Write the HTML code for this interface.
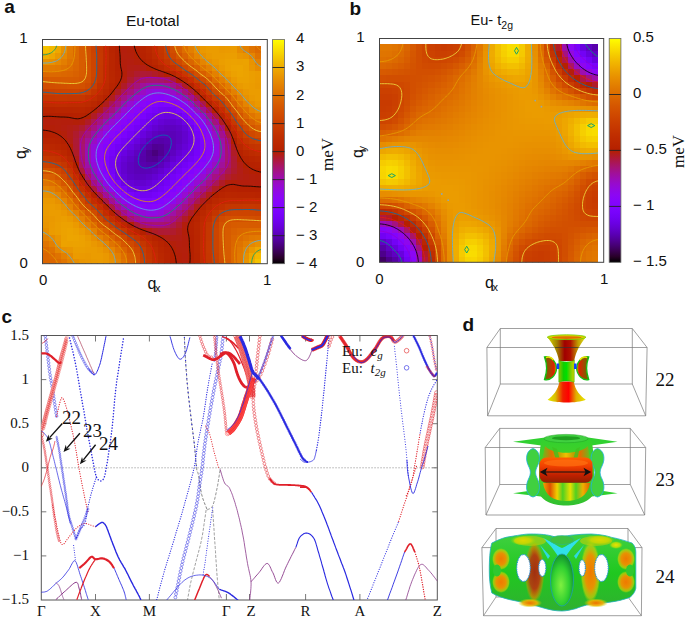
<!DOCTYPE html>
<html><head><meta charset="utf-8"><style>
html,body{margin:0;padding:0;background:#fff}
svg{display:block}
svg text{font-family:"Liberation Sans",sans-serif;fill:#111}
.sf{font-family:"Liberation Serif",serif !important}
</style></head><body>
<svg width="685" height="618" viewBox="0 0 685 618">
<defs><clipPath id="clipA"><rect x="42.5" y="45.5" width="218.5" height="218.3"/></clipPath><clipPath id="clipC"><rect x="41.3" y="335.5" width="396" height="264.5"/></clipPath><clipPath id="clipB"><rect x="380" y="44" width="218" height="218.2"/></clipPath><linearGradient id="cb" x1="0" y1="0" x2="0" y2="1"><stop offset="0.000" stop-color="#ffff00"/><stop offset="0.025" stop-color="#fcec00"/><stop offset="0.050" stop-color="#f9db00"/><stop offset="0.075" stop-color="#f5ca00"/><stop offset="0.100" stop-color="#f2ba00"/><stop offset="0.125" stop-color="#efab00"/><stop offset="0.150" stop-color="#eb9d00"/><stop offset="0.175" stop-color="#e88f00"/><stop offset="0.200" stop-color="#e48300"/><stop offset="0.225" stop-color="#e07700"/><stop offset="0.250" stop-color="#dd6c00"/><stop offset="0.275" stop-color="#d96100"/><stop offset="0.300" stop-color="#d55700"/><stop offset="0.325" stop-color="#d24e00"/><stop offset="0.350" stop-color="#ce4600"/><stop offset="0.375" stop-color="#ca3e00"/><stop offset="0.400" stop-color="#c63700"/><stop offset="0.425" stop-color="#c13000"/><stop offset="0.450" stop-color="#bd2a00"/><stop offset="0.475" stop-color="#b92500"/><stop offset="0.500" stop-color="#b42000"/><stop offset="0.525" stop-color="#b01b28"/><stop offset="0.550" stop-color="#ab174f"/><stop offset="0.575" stop-color="#a61474"/><stop offset="0.600" stop-color="#a11096"/><stop offset="0.625" stop-color="#9c0db4"/><stop offset="0.650" stop-color="#970bce"/><stop offset="0.675" stop-color="#9109e3"/><stop offset="0.700" stop-color="#8c07f3"/><stop offset="0.725" stop-color="#8605fc"/><stop offset="0.750" stop-color="#8004ff"/><stop offset="0.775" stop-color="#7903fc"/><stop offset="0.800" stop-color="#7202f3"/><stop offset="0.825" stop-color="#6b01e3"/><stop offset="0.850" stop-color="#6301ce"/><stop offset="0.875" stop-color="#5a00b4"/><stop offset="0.900" stop-color="#510096"/><stop offset="0.925" stop-color="#460074"/><stop offset="0.950" stop-color="#39004f"/><stop offset="0.975" stop-color="#280028"/><stop offset="1.000" stop-color="#000000"/></linearGradient></defs><g class="hm" shape-rendering="crispEdges" clip-path="url(#clipA)"><rect x="42.50" y="257.64" width="7.2" height="7.2" fill="#db6600"/><rect x="48.57" y="257.64" width="7.2" height="7.2" fill="#db6600"/><rect x="54.64" y="257.64" width="7.2" height="7.2" fill="#dd6b00"/><rect x="60.71" y="257.64" width="7.2" height="7.2" fill="#e07500"/><rect x="66.78" y="257.64" width="7.2" height="7.2" fill="#e48200"/><rect x="72.85" y="257.64" width="7.2" height="7.2" fill="#e88f00"/><rect x="78.92" y="257.64" width="7.2" height="7.2" fill="#e99500"/><rect x="84.99" y="257.64" width="7.2" height="7.2" fill="#ea9700"/><rect x="91.06" y="257.64" width="7.2" height="7.2" fill="#ea9a00"/><rect x="97.13" y="257.64" width="7.2" height="7.2" fill="#eb9b00"/><rect x="103.20" y="257.64" width="7.2" height="7.2" fill="#ea9800"/><rect x="109.27" y="257.64" width="7.2" height="7.2" fill="#e89000"/><rect x="115.34" y="257.64" width="7.2" height="7.2" fill="#e48300"/><rect x="121.41" y="257.64" width="7.2" height="7.2" fill="#df7300"/><rect x="127.48" y="257.64" width="7.2" height="7.2" fill="#d96100"/><rect x="133.55" y="257.64" width="7.2" height="7.2" fill="#d25000"/><rect x="139.62" y="257.64" width="7.2" height="7.2" fill="#cb4200"/><rect x="145.69" y="257.64" width="7.2" height="7.2" fill="#c53700"/><rect x="151.76" y="257.64" width="7.2" height="7.2" fill="#c02e00"/><rect x="157.83" y="257.64" width="7.2" height="7.2" fill="#bb2800"/><rect x="163.90" y="257.64" width="7.2" height="7.2" fill="#b72300"/><rect x="169.97" y="257.64" width="7.2" height="7.2" fill="#b52000"/><rect x="176.04" y="257.64" width="7.2" height="7.2" fill="#b41f07"/><rect x="182.11" y="257.64" width="7.2" height="7.2" fill="#b31f0c"/><rect x="188.18" y="257.64" width="7.2" height="7.2" fill="#b42002"/><rect x="194.25" y="257.64" width="7.2" height="7.2" fill="#b82400"/><rect x="200.32" y="257.64" width="7.2" height="7.2" fill="#be2c00"/><rect x="206.39" y="257.64" width="7.2" height="7.2" fill="#c53600"/><rect x="212.46" y="257.64" width="7.2" height="7.2" fill="#cb4100"/><rect x="218.53" y="257.64" width="7.2" height="7.2" fill="#d14d00"/><rect x="224.60" y="257.64" width="7.2" height="7.2" fill="#d65900"/><rect x="230.67" y="257.64" width="7.2" height="7.2" fill="#dc6800"/><rect x="236.74" y="257.64" width="7.2" height="7.2" fill="#e27a00"/><rect x="242.81" y="257.64" width="7.2" height="7.2" fill="#e99300"/><rect x="248.88" y="257.64" width="7.2" height="7.2" fill="#efae00"/><rect x="254.95" y="257.64" width="7.2" height="7.2" fill="#f4c200"/><rect x="42.50" y="251.58" width="7.2" height="7.2" fill="#db6600"/><rect x="48.57" y="251.58" width="7.2" height="7.2" fill="#dc6900"/><rect x="54.64" y="251.58" width="7.2" height="7.2" fill="#df7300"/><rect x="60.71" y="251.58" width="7.2" height="7.2" fill="#e38000"/><rect x="66.78" y="251.58" width="7.2" height="7.2" fill="#e78b00"/><rect x="72.85" y="251.58" width="7.2" height="7.2" fill="#eb9b00"/><rect x="78.92" y="251.58" width="7.2" height="7.2" fill="#eb9a00"/><rect x="84.99" y="251.58" width="7.2" height="7.2" fill="#ea9900"/><rect x="91.06" y="251.58" width="7.2" height="7.2" fill="#eb9c00"/><rect x="97.13" y="251.58" width="7.2" height="7.2" fill="#eb9c00"/><rect x="103.20" y="251.58" width="7.2" height="7.2" fill="#ea9800"/><rect x="109.27" y="251.58" width="7.2" height="7.2" fill="#e78e00"/><rect x="115.34" y="251.58" width="7.2" height="7.2" fill="#e37f00"/><rect x="121.41" y="251.58" width="7.2" height="7.2" fill="#de6e00"/><rect x="127.48" y="251.58" width="7.2" height="7.2" fill="#d85e00"/><rect x="133.55" y="251.58" width="7.2" height="7.2" fill="#d14e00"/><rect x="139.62" y="251.58" width="7.2" height="7.2" fill="#ca4000"/><rect x="145.69" y="251.58" width="7.2" height="7.2" fill="#c43500"/><rect x="151.76" y="251.58" width="7.2" height="7.2" fill="#bf2d00"/><rect x="157.83" y="251.58" width="7.2" height="7.2" fill="#ba2700"/><rect x="163.90" y="251.58" width="7.2" height="7.2" fill="#b72300"/><rect x="169.97" y="251.58" width="7.2" height="7.2" fill="#b52000"/><rect x="176.04" y="251.58" width="7.2" height="7.2" fill="#b31f08"/><rect x="182.11" y="251.58" width="7.2" height="7.2" fill="#b31e0c"/><rect x="188.18" y="251.58" width="7.2" height="7.2" fill="#b42001"/><rect x="194.25" y="251.58" width="7.2" height="7.2" fill="#b82400"/><rect x="200.32" y="251.58" width="7.2" height="7.2" fill="#bf2c00"/><rect x="206.39" y="251.58" width="7.2" height="7.2" fill="#c53700"/><rect x="212.46" y="251.58" width="7.2" height="7.2" fill="#cc4200"/><rect x="218.53" y="251.58" width="7.2" height="7.2" fill="#d14e00"/><rect x="224.60" y="251.58" width="7.2" height="7.2" fill="#d75b00"/><rect x="230.67" y="251.58" width="7.2" height="7.2" fill="#dc6900"/><rect x="236.74" y="251.58" width="7.2" height="7.2" fill="#e27a00"/><rect x="242.81" y="251.58" width="7.2" height="7.2" fill="#e89000"/><rect x="248.88" y="251.58" width="7.2" height="7.2" fill="#eea700"/><rect x="254.95" y="251.58" width="7.2" height="7.2" fill="#f2b900"/><rect x="42.50" y="245.52" width="7.2" height="7.2" fill="#dd6b00"/><rect x="48.57" y="245.52" width="7.2" height="7.2" fill="#df7300"/><rect x="54.64" y="245.52" width="7.2" height="7.2" fill="#e58600"/><rect x="60.71" y="245.52" width="7.2" height="7.2" fill="#e99300"/><rect x="66.78" y="245.52" width="7.2" height="7.2" fill="#e99600"/><rect x="72.85" y="245.52" width="7.2" height="7.2" fill="#eb9e00"/><rect x="78.92" y="245.52" width="7.2" height="7.2" fill="#eb9e00"/><rect x="84.99" y="245.52" width="7.2" height="7.2" fill="#eb9c00"/><rect x="91.06" y="245.52" width="7.2" height="7.2" fill="#eb9c00"/><rect x="97.13" y="245.52" width="7.2" height="7.2" fill="#ea9900"/><rect x="103.20" y="245.52" width="7.2" height="7.2" fill="#e89100"/><rect x="109.27" y="245.52" width="7.2" height="7.2" fill="#e58500"/><rect x="115.34" y="245.52" width="7.2" height="7.2" fill="#e07400"/><rect x="121.41" y="245.52" width="7.2" height="7.2" fill="#da6300"/><rect x="127.48" y="245.52" width="7.2" height="7.2" fill="#d45500"/><rect x="133.55" y="245.52" width="7.2" height="7.2" fill="#cf4800"/><rect x="139.62" y="245.52" width="7.2" height="7.2" fill="#c83c00"/><rect x="145.69" y="245.52" width="7.2" height="7.2" fill="#c33300"/><rect x="151.76" y="245.52" width="7.2" height="7.2" fill="#bd2b00"/><rect x="157.83" y="245.52" width="7.2" height="7.2" fill="#b92500"/><rect x="163.90" y="245.52" width="7.2" height="7.2" fill="#b62200"/><rect x="169.97" y="245.52" width="7.2" height="7.2" fill="#b42003"/><rect x="176.04" y="245.52" width="7.2" height="7.2" fill="#b31f0b"/><rect x="182.11" y="245.52" width="7.2" height="7.2" fill="#b31f0c"/><rect x="188.18" y="245.52" width="7.2" height="7.2" fill="#b42000"/><rect x="194.25" y="245.52" width="7.2" height="7.2" fill="#b92500"/><rect x="200.32" y="245.52" width="7.2" height="7.2" fill="#bf2d00"/><rect x="206.39" y="245.52" width="7.2" height="7.2" fill="#c63800"/><rect x="212.46" y="245.52" width="7.2" height="7.2" fill="#cc4400"/><rect x="218.53" y="245.52" width="7.2" height="7.2" fill="#d24f00"/><rect x="224.60" y="245.52" width="7.2" height="7.2" fill="#d75b00"/><rect x="230.67" y="245.52" width="7.2" height="7.2" fill="#dc6900"/><rect x="236.74" y="245.52" width="7.2" height="7.2" fill="#e17800"/><rect x="242.81" y="245.52" width="7.2" height="7.2" fill="#e68800"/><rect x="248.88" y="245.52" width="7.2" height="7.2" fill="#ea9900"/><rect x="254.95" y="245.52" width="7.2" height="7.2" fill="#eea700"/><rect x="42.50" y="239.46" width="7.2" height="7.2" fill="#e07500"/><rect x="48.57" y="239.46" width="7.2" height="7.2" fill="#e38000"/><rect x="54.64" y="239.46" width="7.2" height="7.2" fill="#e99300"/><rect x="60.71" y="239.46" width="7.2" height="7.2" fill="#eca200"/><rect x="66.78" y="239.46" width="7.2" height="7.2" fill="#eca100"/><rect x="72.85" y="239.46" width="7.2" height="7.2" fill="#eca200"/><rect x="78.92" y="239.46" width="7.2" height="7.2" fill="#eca100"/><rect x="84.99" y="239.46" width="7.2" height="7.2" fill="#eb9e00"/><rect x="91.06" y="239.46" width="7.2" height="7.2" fill="#ea9800"/><rect x="97.13" y="239.46" width="7.2" height="7.2" fill="#e89100"/><rect x="103.20" y="239.46" width="7.2" height="7.2" fill="#e58500"/><rect x="109.27" y="239.46" width="7.2" height="7.2" fill="#df7300"/><rect x="115.34" y="239.46" width="7.2" height="7.2" fill="#da6500"/><rect x="121.41" y="239.46" width="7.2" height="7.2" fill="#d55600"/><rect x="127.48" y="239.46" width="7.2" height="7.2" fill="#cf4900"/><rect x="133.55" y="239.46" width="7.2" height="7.2" fill="#cb4000"/><rect x="139.62" y="239.46" width="7.2" height="7.2" fill="#c53600"/><rect x="145.69" y="239.46" width="7.2" height="7.2" fill="#c02e00"/><rect x="151.76" y="239.46" width="7.2" height="7.2" fill="#bb2700"/><rect x="157.83" y="239.46" width="7.2" height="7.2" fill="#b72300"/><rect x="163.90" y="239.46" width="7.2" height="7.2" fill="#b42000"/><rect x="169.97" y="239.46" width="7.2" height="7.2" fill="#b31f0a"/><rect x="176.04" y="239.46" width="7.2" height="7.2" fill="#b31e0f"/><rect x="182.11" y="239.46" width="7.2" height="7.2" fill="#b31e0c"/><rect x="188.18" y="239.46" width="7.2" height="7.2" fill="#b52000"/><rect x="194.25" y="239.46" width="7.2" height="7.2" fill="#b92500"/><rect x="200.32" y="239.46" width="7.2" height="7.2" fill="#bf2d00"/><rect x="206.39" y="239.46" width="7.2" height="7.2" fill="#c63800"/><rect x="212.46" y="239.46" width="7.2" height="7.2" fill="#cd4400"/><rect x="218.53" y="239.46" width="7.2" height="7.2" fill="#d25000"/><rect x="224.60" y="239.46" width="7.2" height="7.2" fill="#d75c00"/><rect x="230.67" y="239.46" width="7.2" height="7.2" fill="#db6700"/><rect x="236.74" y="239.46" width="7.2" height="7.2" fill="#df7300"/><rect x="242.81" y="239.46" width="7.2" height="7.2" fill="#e37e00"/><rect x="248.88" y="239.46" width="7.2" height="7.2" fill="#e68800"/><rect x="254.95" y="239.46" width="7.2" height="7.2" fill="#e89000"/><rect x="42.50" y="233.39" width="7.2" height="7.2" fill="#e48200"/><rect x="48.57" y="233.39" width="7.2" height="7.2" fill="#e78b00"/><rect x="54.64" y="233.39" width="7.2" height="7.2" fill="#e99600"/><rect x="60.71" y="233.39" width="7.2" height="7.2" fill="#eca100"/><rect x="66.78" y="233.39" width="7.2" height="7.2" fill="#eda500"/><rect x="72.85" y="233.39" width="7.2" height="7.2" fill="#eda400"/><rect x="78.92" y="233.39" width="7.2" height="7.2" fill="#eca100"/><rect x="84.99" y="233.39" width="7.2" height="7.2" fill="#ea9a00"/><rect x="91.06" y="233.39" width="7.2" height="7.2" fill="#e88f00"/><rect x="97.13" y="233.39" width="7.2" height="7.2" fill="#e48100"/><rect x="103.20" y="233.39" width="7.2" height="7.2" fill="#df7300"/><rect x="109.27" y="233.39" width="7.2" height="7.2" fill="#d96100"/><rect x="115.34" y="233.39" width="7.2" height="7.2" fill="#d45400"/><rect x="121.41" y="233.39" width="7.2" height="7.2" fill="#cf4900"/><rect x="127.48" y="233.39" width="7.2" height="7.2" fill="#c93c00"/><rect x="133.55" y="233.39" width="7.2" height="7.2" fill="#c43500"/><rect x="139.62" y="233.39" width="7.2" height="7.2" fill="#bf2d00"/><rect x="145.69" y="233.39" width="7.2" height="7.2" fill="#ba2700"/><rect x="151.76" y="233.39" width="7.2" height="7.2" fill="#b72200"/><rect x="157.83" y="233.39" width="7.2" height="7.2" fill="#b41f04"/><rect x="163.90" y="233.39" width="7.2" height="7.2" fill="#b21e12"/><rect x="169.97" y="233.39" width="7.2" height="7.2" fill="#b21d17"/><rect x="176.04" y="233.39" width="7.2" height="7.2" fill="#b21e14"/><rect x="182.11" y="233.39" width="7.2" height="7.2" fill="#b31e0c"/><rect x="188.18" y="233.39" width="7.2" height="7.2" fill="#b52000"/><rect x="194.25" y="233.39" width="7.2" height="7.2" fill="#b92500"/><rect x="200.32" y="233.39" width="7.2" height="7.2" fill="#be2c00"/><rect x="206.39" y="233.39" width="7.2" height="7.2" fill="#c53700"/><rect x="212.46" y="233.39" width="7.2" height="7.2" fill="#cd4400"/><rect x="218.53" y="233.39" width="7.2" height="7.2" fill="#d35100"/><rect x="224.60" y="233.39" width="7.2" height="7.2" fill="#d75c00"/><rect x="230.67" y="233.39" width="7.2" height="7.2" fill="#db6500"/><rect x="236.74" y="233.39" width="7.2" height="7.2" fill="#dd6c00"/><rect x="242.81" y="233.39" width="7.2" height="7.2" fill="#df7300"/><rect x="248.88" y="233.39" width="7.2" height="7.2" fill="#e17800"/><rect x="254.95" y="233.39" width="7.2" height="7.2" fill="#e27a00"/><rect x="42.50" y="227.33" width="7.2" height="7.2" fill="#e88f00"/><rect x="48.57" y="227.33" width="7.2" height="7.2" fill="#eb9b00"/><rect x="54.64" y="227.33" width="7.2" height="7.2" fill="#eb9e00"/><rect x="60.71" y="227.33" width="7.2" height="7.2" fill="#eca200"/><rect x="66.78" y="227.33" width="7.2" height="7.2" fill="#eda400"/><rect x="72.85" y="227.33" width="7.2" height="7.2" fill="#eca100"/><rect x="78.92" y="227.33" width="7.2" height="7.2" fill="#eb9a00"/><rect x="84.99" y="227.33" width="7.2" height="7.2" fill="#e89000"/><rect x="91.06" y="227.33" width="7.2" height="7.2" fill="#e48100"/><rect x="97.13" y="227.33" width="7.2" height="7.2" fill="#dd6b00"/><rect x="103.20" y="227.33" width="7.2" height="7.2" fill="#d85e00"/><rect x="109.27" y="227.33" width="7.2" height="7.2" fill="#d14e00"/><rect x="115.34" y="227.33" width="7.2" height="7.2" fill="#cc4200"/><rect x="121.41" y="227.33" width="7.2" height="7.2" fill="#c73900"/><rect x="127.48" y="227.33" width="7.2" height="7.2" fill="#bf2e00"/><rect x="133.55" y="227.33" width="7.2" height="7.2" fill="#ba2600"/><rect x="139.62" y="227.33" width="7.2" height="7.2" fill="#b52000"/><rect x="145.69" y="227.33" width="7.2" height="7.2" fill="#b21d16"/><rect x="151.76" y="227.33" width="7.2" height="7.2" fill="#b01c26"/><rect x="157.83" y="227.33" width="7.2" height="7.2" fill="#ae1a33"/><rect x="163.90" y="227.33" width="7.2" height="7.2" fill="#ae1a35"/><rect x="169.97" y="227.33" width="7.2" height="7.2" fill="#af1b2d"/><rect x="176.04" y="227.33" width="7.2" height="7.2" fill="#b11d1c"/><rect x="182.11" y="227.33" width="7.2" height="7.2" fill="#b31f08"/><rect x="188.18" y="227.33" width="7.2" height="7.2" fill="#b62100"/><rect x="194.25" y="227.33" width="7.2" height="7.2" fill="#b92600"/><rect x="200.32" y="227.33" width="7.2" height="7.2" fill="#be2c00"/><rect x="206.39" y="227.33" width="7.2" height="7.2" fill="#c53700"/><rect x="212.46" y="227.33" width="7.2" height="7.2" fill="#cd4500"/><rect x="218.53" y="227.33" width="7.2" height="7.2" fill="#d35100"/><rect x="224.60" y="227.33" width="7.2" height="7.2" fill="#d75b00"/><rect x="230.67" y="227.33" width="7.2" height="7.2" fill="#d96100"/><rect x="236.74" y="227.33" width="7.2" height="7.2" fill="#db6500"/><rect x="242.81" y="227.33" width="7.2" height="7.2" fill="#db6700"/><rect x="248.88" y="227.33" width="7.2" height="7.2" fill="#dc6900"/><rect x="254.95" y="227.33" width="7.2" height="7.2" fill="#dc6900"/><rect x="42.50" y="221.27" width="7.2" height="7.2" fill="#e99500"/><rect x="48.57" y="221.27" width="7.2" height="7.2" fill="#eb9a00"/><rect x="54.64" y="221.27" width="7.2" height="7.2" fill="#eb9e00"/><rect x="60.71" y="221.27" width="7.2" height="7.2" fill="#eca100"/><rect x="66.78" y="221.27" width="7.2" height="7.2" fill="#eca100"/><rect x="72.85" y="221.27" width="7.2" height="7.2" fill="#eb9a00"/><rect x="78.92" y="221.27" width="7.2" height="7.2" fill="#e78e00"/><rect x="84.99" y="221.27" width="7.2" height="7.2" fill="#e37e00"/><rect x="91.06" y="221.27" width="7.2" height="7.2" fill="#dd6c00"/><rect x="97.13" y="221.27" width="7.2" height="7.2" fill="#d55700"/><rect x="103.20" y="221.27" width="7.2" height="7.2" fill="#d04b00"/><rect x="109.27" y="221.27" width="7.2" height="7.2" fill="#ca3f00"/><rect x="115.34" y="221.27" width="7.2" height="7.2" fill="#c23200"/><rect x="121.41" y="221.27" width="7.2" height="7.2" fill="#bb2800"/><rect x="127.48" y="221.27" width="7.2" height="7.2" fill="#b41f04"/><rect x="133.55" y="221.27" width="7.2" height="7.2" fill="#ae1a37"/><rect x="139.62" y="221.27" width="7.2" height="7.2" fill="#a9165b"/><rect x="145.69" y="221.27" width="7.2" height="7.2" fill="#a7146c"/><rect x="151.76" y="221.27" width="7.2" height="7.2" fill="#a71471"/><rect x="157.83" y="221.27" width="7.2" height="7.2" fill="#a71470"/><rect x="163.90" y="221.27" width="7.2" height="7.2" fill="#a81566"/><rect x="169.97" y="221.27" width="7.2" height="7.2" fill="#ab174f"/><rect x="176.04" y="221.27" width="7.2" height="7.2" fill="#af1b30"/><rect x="182.11" y="221.27" width="7.2" height="7.2" fill="#b31e0c"/><rect x="188.18" y="221.27" width="7.2" height="7.2" fill="#b62200"/><rect x="194.25" y="221.27" width="7.2" height="7.2" fill="#ba2600"/><rect x="200.32" y="221.27" width="7.2" height="7.2" fill="#be2c00"/><rect x="206.39" y="221.27" width="7.2" height="7.2" fill="#c53600"/><rect x="212.46" y="221.27" width="7.2" height="7.2" fill="#cc4300"/><rect x="218.53" y="221.27" width="7.2" height="7.2" fill="#d25000"/><rect x="224.60" y="221.27" width="7.2" height="7.2" fill="#d65800"/><rect x="230.67" y="221.27" width="7.2" height="7.2" fill="#d75b00"/><rect x="236.74" y="221.27" width="7.2" height="7.2" fill="#d75c00"/><rect x="242.81" y="221.27" width="7.2" height="7.2" fill="#d75c00"/><rect x="248.88" y="221.27" width="7.2" height="7.2" fill="#d75b00"/><rect x="254.95" y="221.27" width="7.2" height="7.2" fill="#d75b00"/><rect x="42.50" y="215.21" width="7.2" height="7.2" fill="#ea9700"/><rect x="48.57" y="215.21" width="7.2" height="7.2" fill="#ea9900"/><rect x="54.64" y="215.21" width="7.2" height="7.2" fill="#eb9c00"/><rect x="60.71" y="215.21" width="7.2" height="7.2" fill="#eb9e00"/><rect x="66.78" y="215.21" width="7.2" height="7.2" fill="#ea9a00"/><rect x="72.85" y="215.21" width="7.2" height="7.2" fill="#e89000"/><rect x="78.92" y="215.21" width="7.2" height="7.2" fill="#e37e00"/><rect x="84.99" y="215.21" width="7.2" height="7.2" fill="#dd6b00"/><rect x="91.06" y="215.21" width="7.2" height="7.2" fill="#d65a00"/><rect x="97.13" y="215.21" width="7.2" height="7.2" fill="#ce4700"/><rect x="103.20" y="215.21" width="7.2" height="7.2" fill="#c83b00"/><rect x="109.27" y="215.21" width="7.2" height="7.2" fill="#c13000"/><rect x="115.34" y="215.21" width="7.2" height="7.2" fill="#b82400"/><rect x="121.41" y="215.21" width="7.2" height="7.2" fill="#b11c21"/><rect x="127.48" y="215.21" width="7.2" height="7.2" fill="#a9165f"/><rect x="133.55" y="215.21" width="7.2" height="7.2" fill="#a3118b"/><rect x="139.62" y="215.21" width="7.2" height="7.2" fill="#9f0fa7"/><rect x="145.69" y="215.21" width="7.2" height="7.2" fill="#9d0eb1"/><rect x="151.76" y="215.21" width="7.2" height="7.2" fill="#9d0eb2"/><rect x="157.83" y="215.21" width="7.2" height="7.2" fill="#9e0eac"/><rect x="163.90" y="215.21" width="7.2" height="7.2" fill="#a1109a"/><rect x="169.97" y="215.21" width="7.2" height="7.2" fill="#a5137a"/><rect x="176.04" y="215.21" width="7.2" height="7.2" fill="#ab1753"/><rect x="182.11" y="215.21" width="7.2" height="7.2" fill="#b01b27"/><rect x="188.18" y="215.21" width="7.2" height="7.2" fill="#b42000"/><rect x="194.25" y="215.21" width="7.2" height="7.2" fill="#b82400"/><rect x="200.32" y="215.21" width="7.2" height="7.2" fill="#bd2a00"/><rect x="206.39" y="215.21" width="7.2" height="7.2" fill="#c23100"/><rect x="212.46" y="215.21" width="7.2" height="7.2" fill="#c93e00"/><rect x="218.53" y="215.21" width="7.2" height="7.2" fill="#cf4a00"/><rect x="224.60" y="215.21" width="7.2" height="7.2" fill="#d25000"/><rect x="230.67" y="215.21" width="7.2" height="7.2" fill="#d35100"/><rect x="236.74" y="215.21" width="7.2" height="7.2" fill="#d35100"/><rect x="242.81" y="215.21" width="7.2" height="7.2" fill="#d25000"/><rect x="248.88" y="215.21" width="7.2" height="7.2" fill="#d24f00"/><rect x="254.95" y="215.21" width="7.2" height="7.2" fill="#d14e00"/><rect x="42.50" y="209.15" width="7.2" height="7.2" fill="#ea9a00"/><rect x="48.57" y="209.15" width="7.2" height="7.2" fill="#eb9c00"/><rect x="54.64" y="209.15" width="7.2" height="7.2" fill="#eb9c00"/><rect x="60.71" y="209.15" width="7.2" height="7.2" fill="#ea9800"/><rect x="66.78" y="209.15" width="7.2" height="7.2" fill="#e88f00"/><rect x="72.85" y="209.15" width="7.2" height="7.2" fill="#e48100"/><rect x="78.92" y="209.15" width="7.2" height="7.2" fill="#dd6c00"/><rect x="84.99" y="209.15" width="7.2" height="7.2" fill="#d65a00"/><rect x="91.06" y="209.15" width="7.2" height="7.2" fill="#d04c00"/><rect x="97.13" y="209.15" width="7.2" height="7.2" fill="#c93d00"/><rect x="103.20" y="209.15" width="7.2" height="7.2" fill="#c02e00"/><rect x="109.27" y="209.15" width="7.2" height="7.2" fill="#b72200"/><rect x="115.34" y="209.15" width="7.2" height="7.2" fill="#ae1a38"/><rect x="121.41" y="209.15" width="7.2" height="7.2" fill="#a5137a"/><rect x="127.48" y="209.15" width="7.2" height="7.2" fill="#9e0ead"/><rect x="133.55" y="209.15" width="7.2" height="7.2" fill="#980cc8"/><rect x="139.62" y="209.15" width="7.2" height="7.2" fill="#940ad8"/><rect x="145.69" y="209.15" width="7.2" height="7.2" fill="#9209e2"/><rect x="151.76" y="209.15" width="7.2" height="7.2" fill="#9209e2"/><rect x="157.83" y="209.15" width="7.2" height="7.2" fill="#940ad9"/><rect x="163.90" y="209.15" width="7.2" height="7.2" fill="#990cc4"/><rect x="169.97" y="209.15" width="7.2" height="7.2" fill="#9f0fa6"/><rect x="176.04" y="209.15" width="7.2" height="7.2" fill="#a51280"/><rect x="182.11" y="209.15" width="7.2" height="7.2" fill="#ab1753"/><rect x="188.18" y="209.15" width="7.2" height="7.2" fill="#b01c23"/><rect x="194.25" y="209.15" width="7.2" height="7.2" fill="#b52100"/><rect x="200.32" y="209.15" width="7.2" height="7.2" fill="#ba2700"/><rect x="206.39" y="209.15" width="7.2" height="7.2" fill="#bf2d00"/><rect x="212.46" y="209.15" width="7.2" height="7.2" fill="#c43500"/><rect x="218.53" y="209.15" width="7.2" height="7.2" fill="#c93e00"/><rect x="224.60" y="209.15" width="7.2" height="7.2" fill="#cc4300"/><rect x="230.67" y="209.15" width="7.2" height="7.2" fill="#cd4500"/><rect x="236.74" y="209.15" width="7.2" height="7.2" fill="#cd4400"/><rect x="242.81" y="209.15" width="7.2" height="7.2" fill="#cd4400"/><rect x="248.88" y="209.15" width="7.2" height="7.2" fill="#cc4400"/><rect x="254.95" y="209.15" width="7.2" height="7.2" fill="#cc4200"/><rect x="42.50" y="203.09" width="7.2" height="7.2" fill="#eb9b00"/><rect x="48.57" y="203.09" width="7.2" height="7.2" fill="#eb9c00"/><rect x="54.64" y="203.09" width="7.2" height="7.2" fill="#ea9900"/><rect x="60.71" y="203.09" width="7.2" height="7.2" fill="#e89100"/><rect x="66.78" y="203.09" width="7.2" height="7.2" fill="#e48100"/><rect x="72.85" y="203.09" width="7.2" height="7.2" fill="#dd6b00"/><rect x="78.92" y="203.09" width="7.2" height="7.2" fill="#d55700"/><rect x="84.99" y="203.09" width="7.2" height="7.2" fill="#ce4700"/><rect x="91.06" y="203.09" width="7.2" height="7.2" fill="#c93d00"/><rect x="97.13" y="203.09" width="7.2" height="7.2" fill="#c12f00"/><rect x="103.20" y="203.09" width="7.2" height="7.2" fill="#b72300"/><rect x="109.27" y="203.09" width="7.2" height="7.2" fill="#ad193e"/><rect x="115.34" y="203.09" width="7.2" height="7.2" fill="#a3118b"/><rect x="121.41" y="203.09" width="7.2" height="7.2" fill="#9b0dbb"/><rect x="127.48" y="203.09" width="7.2" height="7.2" fill="#9309dd"/><rect x="133.55" y="203.09" width="7.2" height="7.2" fill="#8d07ef"/><rect x="139.62" y="203.09" width="7.2" height="7.2" fill="#8906f8"/><rect x="145.69" y="203.09" width="7.2" height="7.2" fill="#8605fb"/><rect x="151.76" y="203.09" width="7.2" height="7.2" fill="#8706fa"/><rect x="157.83" y="203.09" width="7.2" height="7.2" fill="#8b07f4"/><rect x="163.90" y="203.09" width="7.2" height="7.2" fill="#9109e5"/><rect x="169.97" y="203.09" width="7.2" height="7.2" fill="#970bcd"/><rect x="176.04" y="203.09" width="7.2" height="7.2" fill="#9d0eae"/><rect x="182.11" y="203.09" width="7.2" height="7.2" fill="#a41286"/><rect x="188.18" y="203.09" width="7.2" height="7.2" fill="#ab1752"/><rect x="194.25" y="203.09" width="7.2" height="7.2" fill="#b11d1c"/><rect x="200.32" y="203.09" width="7.2" height="7.2" fill="#b62200"/><rect x="206.39" y="203.09" width="7.2" height="7.2" fill="#bb2700"/><rect x="212.46" y="203.09" width="7.2" height="7.2" fill="#bf2d00"/><rect x="218.53" y="203.09" width="7.2" height="7.2" fill="#c23100"/><rect x="224.60" y="203.09" width="7.2" height="7.2" fill="#c53600"/><rect x="230.67" y="203.09" width="7.2" height="7.2" fill="#c53700"/><rect x="236.74" y="203.09" width="7.2" height="7.2" fill="#c53700"/><rect x="242.81" y="203.09" width="7.2" height="7.2" fill="#c63800"/><rect x="248.88" y="203.09" width="7.2" height="7.2" fill="#c63800"/><rect x="254.95" y="203.09" width="7.2" height="7.2" fill="#c53700"/><rect x="42.50" y="197.03" width="7.2" height="7.2" fill="#ea9800"/><rect x="48.57" y="197.03" width="7.2" height="7.2" fill="#ea9800"/><rect x="54.64" y="197.03" width="7.2" height="7.2" fill="#e89100"/><rect x="60.71" y="197.03" width="7.2" height="7.2" fill="#e58500"/><rect x="66.78" y="197.03" width="7.2" height="7.2" fill="#df7300"/><rect x="72.85" y="197.03" width="7.2" height="7.2" fill="#d85e00"/><rect x="78.92" y="197.03" width="7.2" height="7.2" fill="#d04b00"/><rect x="84.99" y="197.03" width="7.2" height="7.2" fill="#c83b00"/><rect x="91.06" y="197.03" width="7.2" height="7.2" fill="#c02e00"/><rect x="97.13" y="197.03" width="7.2" height="7.2" fill="#b72300"/><rect x="103.20" y="197.03" width="7.2" height="7.2" fill="#ad193f"/><rect x="109.27" y="197.03" width="7.2" height="7.2" fill="#a3118d"/><rect x="115.34" y="197.03" width="7.2" height="7.2" fill="#980bca"/><rect x="121.41" y="197.03" width="7.2" height="7.2" fill="#8f08ea"/><rect x="127.48" y="197.03" width="7.2" height="7.2" fill="#8706fa"/><rect x="133.55" y="197.03" width="7.2" height="7.2" fill="#8104ff"/><rect x="139.62" y="197.03" width="7.2" height="7.2" fill="#7d04ff"/><rect x="145.69" y="197.03" width="7.2" height="7.2" fill="#7c03fe"/><rect x="151.76" y="197.03" width="7.2" height="7.2" fill="#7e04ff"/><rect x="157.83" y="197.03" width="7.2" height="7.2" fill="#8205fe"/><rect x="163.90" y="197.03" width="7.2" height="7.2" fill="#8906f8"/><rect x="169.97" y="197.03" width="7.2" height="7.2" fill="#8f08ea"/><rect x="176.04" y="197.03" width="7.2" height="7.2" fill="#960bd2"/><rect x="182.11" y="197.03" width="7.2" height="7.2" fill="#9d0eb1"/><rect x="188.18" y="197.03" width="7.2" height="7.2" fill="#a41282"/><rect x="194.25" y="197.03" width="7.2" height="7.2" fill="#ab174d"/><rect x="200.32" y="197.03" width="7.2" height="7.2" fill="#b11d1c"/><rect x="206.39" y="197.03" width="7.2" height="7.2" fill="#b62200"/><rect x="212.46" y="197.03" width="7.2" height="7.2" fill="#ba2700"/><rect x="218.53" y="197.03" width="7.2" height="7.2" fill="#bd2a00"/><rect x="224.60" y="197.03" width="7.2" height="7.2" fill="#be2c00"/><rect x="230.67" y="197.03" width="7.2" height="7.2" fill="#be2c00"/><rect x="236.74" y="197.03" width="7.2" height="7.2" fill="#be2c00"/><rect x="242.81" y="197.03" width="7.2" height="7.2" fill="#bf2d00"/><rect x="248.88" y="197.03" width="7.2" height="7.2" fill="#bf2d00"/><rect x="254.95" y="197.03" width="7.2" height="7.2" fill="#bf2c00"/><rect x="42.50" y="190.97" width="7.2" height="7.2" fill="#e89000"/><rect x="48.57" y="190.97" width="7.2" height="7.2" fill="#e78e00"/><rect x="54.64" y="190.97" width="7.2" height="7.2" fill="#e58500"/><rect x="60.71" y="190.97" width="7.2" height="7.2" fill="#df7300"/><rect x="66.78" y="190.97" width="7.2" height="7.2" fill="#d96100"/><rect x="72.85" y="190.97" width="7.2" height="7.2" fill="#d14e00"/><rect x="78.92" y="190.97" width="7.2" height="7.2" fill="#ca3f00"/><rect x="84.99" y="190.97" width="7.2" height="7.2" fill="#c13000"/><rect x="91.06" y="190.97" width="7.2" height="7.2" fill="#b72200"/><rect x="97.13" y="190.97" width="7.2" height="7.2" fill="#ad193e"/><rect x="103.20" y="190.97" width="7.2" height="7.2" fill="#a3118d"/><rect x="109.27" y="190.97" width="7.2" height="7.2" fill="#990cc4"/><rect x="115.34" y="190.97" width="7.2" height="7.2" fill="#8e08ee"/><rect x="121.41" y="190.97" width="7.2" height="7.2" fill="#8305fe"/><rect x="127.48" y="190.97" width="7.2" height="7.2" fill="#7a03fd"/><rect x="133.55" y="190.97" width="7.2" height="7.2" fill="#7502f7"/><rect x="139.62" y="190.97" width="7.2" height="7.2" fill="#7202f3"/><rect x="145.69" y="190.97" width="7.2" height="7.2" fill="#7302f4"/><rect x="151.76" y="190.97" width="7.2" height="7.2" fill="#7603f9"/><rect x="157.83" y="190.97" width="7.2" height="7.2" fill="#7b03fd"/><rect x="163.90" y="190.97" width="7.2" height="7.2" fill="#8104ff"/><rect x="169.97" y="190.97" width="7.2" height="7.2" fill="#8806f9"/><rect x="176.04" y="190.97" width="7.2" height="7.2" fill="#8f08eb"/><rect x="182.11" y="190.97" width="7.2" height="7.2" fill="#960bd2"/><rect x="188.18" y="190.97" width="7.2" height="7.2" fill="#9e0ead"/><rect x="194.25" y="190.97" width="7.2" height="7.2" fill="#a5127f"/><rect x="200.32" y="190.97" width="7.2" height="7.2" fill="#ab174d"/><rect x="206.39" y="190.97" width="7.2" height="7.2" fill="#b11d1c"/><rect x="212.46" y="190.97" width="7.2" height="7.2" fill="#b52100"/><rect x="218.53" y="190.97" width="7.2" height="7.2" fill="#b82400"/><rect x="224.60" y="190.97" width="7.2" height="7.2" fill="#ba2600"/><rect x="230.67" y="190.97" width="7.2" height="7.2" fill="#b92600"/><rect x="236.74" y="190.97" width="7.2" height="7.2" fill="#b92500"/><rect x="242.81" y="190.97" width="7.2" height="7.2" fill="#b92500"/><rect x="248.88" y="190.97" width="7.2" height="7.2" fill="#b92500"/><rect x="254.95" y="190.97" width="7.2" height="7.2" fill="#b82400"/><rect x="42.50" y="184.91" width="7.2" height="7.2" fill="#e48300"/><rect x="48.57" y="184.91" width="7.2" height="7.2" fill="#e37f00"/><rect x="54.64" y="184.91" width="7.2" height="7.2" fill="#e07400"/><rect x="60.71" y="184.91" width="7.2" height="7.2" fill="#da6500"/><rect x="66.78" y="184.91" width="7.2" height="7.2" fill="#d45400"/><rect x="72.85" y="184.91" width="7.2" height="7.2" fill="#cc4200"/><rect x="78.92" y="184.91" width="7.2" height="7.2" fill="#c23200"/><rect x="84.99" y="184.91" width="7.2" height="7.2" fill="#b82400"/><rect x="91.06" y="184.91" width="7.2" height="7.2" fill="#ae1a38"/><rect x="97.13" y="184.91" width="7.2" height="7.2" fill="#a3118b"/><rect x="103.20" y="184.91" width="7.2" height="7.2" fill="#980bca"/><rect x="109.27" y="184.91" width="7.2" height="7.2" fill="#8e08ee"/><rect x="115.34" y="184.91" width="7.2" height="7.2" fill="#8205fe"/><rect x="121.41" y="184.91" width="7.2" height="7.2" fill="#7703fa"/><rect x="127.48" y="184.91" width="7.2" height="7.2" fill="#6e02eb"/><rect x="133.55" y="184.91" width="7.2" height="7.2" fill="#6a01e2"/><rect x="139.62" y="184.91" width="7.2" height="7.2" fill="#6a01e0"/><rect x="145.69" y="184.91" width="7.2" height="7.2" fill="#6c01e6"/><rect x="151.76" y="184.91" width="7.2" height="7.2" fill="#6f02ee"/><rect x="157.83" y="184.91" width="7.2" height="7.2" fill="#7402f6"/><rect x="163.90" y="184.91" width="7.2" height="7.2" fill="#7a03fd"/><rect x="169.97" y="184.91" width="7.2" height="7.2" fill="#8104ff"/><rect x="176.04" y="184.91" width="7.2" height="7.2" fill="#8806fa"/><rect x="182.11" y="184.91" width="7.2" height="7.2" fill="#8f08eb"/><rect x="188.18" y="184.91" width="7.2" height="7.2" fill="#960bd1"/><rect x="194.25" y="184.91" width="7.2" height="7.2" fill="#9e0ead"/><rect x="200.32" y="184.91" width="7.2" height="7.2" fill="#a41282"/><rect x="206.39" y="184.91" width="7.2" height="7.2" fill="#ab1752"/><rect x="212.46" y="184.91" width="7.2" height="7.2" fill="#b01c23"/><rect x="218.53" y="184.91" width="7.2" height="7.2" fill="#b42000"/><rect x="224.60" y="184.91" width="7.2" height="7.2" fill="#b62200"/><rect x="230.67" y="184.91" width="7.2" height="7.2" fill="#b62100"/><rect x="236.74" y="184.91" width="7.2" height="7.2" fill="#b52000"/><rect x="242.81" y="184.91" width="7.2" height="7.2" fill="#b52000"/><rect x="248.88" y="184.91" width="7.2" height="7.2" fill="#b42000"/><rect x="254.95" y="184.91" width="7.2" height="7.2" fill="#b42001"/><rect x="42.50" y="178.84" width="7.2" height="7.2" fill="#df7300"/><rect x="48.57" y="178.84" width="7.2" height="7.2" fill="#de6e00"/><rect x="54.64" y="178.84" width="7.2" height="7.2" fill="#da6300"/><rect x="60.71" y="178.84" width="7.2" height="7.2" fill="#d55600"/><rect x="66.78" y="178.84" width="7.2" height="7.2" fill="#cf4900"/><rect x="72.85" y="178.84" width="7.2" height="7.2" fill="#c73900"/><rect x="78.92" y="178.84" width="7.2" height="7.2" fill="#bb2800"/><rect x="84.99" y="178.84" width="7.2" height="7.2" fill="#b11c21"/><rect x="91.06" y="178.84" width="7.2" height="7.2" fill="#a5137a"/><rect x="97.13" y="178.84" width="7.2" height="7.2" fill="#9b0dbb"/><rect x="103.20" y="178.84" width="7.2" height="7.2" fill="#8f08ea"/><rect x="109.27" y="178.84" width="7.2" height="7.2" fill="#8305fe"/><rect x="115.34" y="178.84" width="7.2" height="7.2" fill="#7703fa"/><rect x="121.41" y="178.84" width="7.2" height="7.2" fill="#6c02e7"/><rect x="127.48" y="178.84" width="7.2" height="7.2" fill="#6601d6"/><rect x="133.55" y="178.84" width="7.2" height="7.2" fill="#6301ce"/><rect x="139.62" y="178.84" width="7.2" height="7.2" fill="#6301cf"/><rect x="145.69" y="178.84" width="7.2" height="7.2" fill="#6601d6"/><rect x="151.76" y="178.84" width="7.2" height="7.2" fill="#6a01e2"/><rect x="157.83" y="178.84" width="7.2" height="7.2" fill="#6f02ed"/><rect x="163.90" y="178.84" width="7.2" height="7.2" fill="#7402f6"/><rect x="169.97" y="178.84" width="7.2" height="7.2" fill="#7b03fd"/><rect x="176.04" y="178.84" width="7.2" height="7.2" fill="#8104ff"/><rect x="182.11" y="178.84" width="7.2" height="7.2" fill="#8806f9"/><rect x="188.18" y="178.84" width="7.2" height="7.2" fill="#8f08eb"/><rect x="194.25" y="178.84" width="7.2" height="7.2" fill="#960bd2"/><rect x="200.32" y="178.84" width="7.2" height="7.2" fill="#9d0eb1"/><rect x="206.39" y="178.84" width="7.2" height="7.2" fill="#a41286"/><rect x="212.46" y="178.84" width="7.2" height="7.2" fill="#ab1753"/><rect x="218.53" y="178.84" width="7.2" height="7.2" fill="#b01b27"/><rect x="224.60" y="178.84" width="7.2" height="7.2" fill="#b31e0c"/><rect x="230.67" y="178.84" width="7.2" height="7.2" fill="#b31f08"/><rect x="236.74" y="178.84" width="7.2" height="7.2" fill="#b31e0c"/><rect x="242.81" y="178.84" width="7.2" height="7.2" fill="#b31e0c"/><rect x="248.88" y="178.84" width="7.2" height="7.2" fill="#b31f0c"/><rect x="254.95" y="178.84" width="7.2" height="7.2" fill="#b31e0c"/><rect x="42.50" y="172.78" width="7.2" height="7.2" fill="#d96100"/><rect x="48.57" y="172.78" width="7.2" height="7.2" fill="#d85e00"/><rect x="54.64" y="172.78" width="7.2" height="7.2" fill="#d45500"/><rect x="60.71" y="172.78" width="7.2" height="7.2" fill="#cf4900"/><rect x="66.78" y="172.78" width="7.2" height="7.2" fill="#c93c00"/><rect x="72.85" y="172.78" width="7.2" height="7.2" fill="#bf2e00"/><rect x="78.92" y="172.78" width="7.2" height="7.2" fill="#b41f04"/><rect x="84.99" y="172.78" width="7.2" height="7.2" fill="#a9165f"/><rect x="91.06" y="172.78" width="7.2" height="7.2" fill="#9e0ead"/><rect x="97.13" y="172.78" width="7.2" height="7.2" fill="#9309dd"/><rect x="103.20" y="172.78" width="7.2" height="7.2" fill="#8706fa"/><rect x="109.27" y="172.78" width="7.2" height="7.2" fill="#7a03fd"/><rect x="115.34" y="172.78" width="7.2" height="7.2" fill="#6e02eb"/><rect x="121.41" y="172.78" width="7.2" height="7.2" fill="#6601d6"/><rect x="127.48" y="172.78" width="7.2" height="7.2" fill="#6001c7"/><rect x="133.55" y="172.78" width="7.2" height="7.2" fill="#5e01c0"/><rect x="139.62" y="172.78" width="7.2" height="7.2" fill="#5e01c0"/><rect x="145.69" y="172.78" width="7.2" height="7.2" fill="#6001c7"/><rect x="151.76" y="172.78" width="7.2" height="7.2" fill="#6401d2"/><rect x="157.83" y="172.78" width="7.2" height="7.2" fill="#6901e0"/><rect x="163.90" y="172.78" width="7.2" height="7.2" fill="#6f02ed"/><rect x="169.97" y="172.78" width="7.2" height="7.2" fill="#7502f7"/><rect x="176.04" y="172.78" width="7.2" height="7.2" fill="#7b03fd"/><rect x="182.11" y="172.78" width="7.2" height="7.2" fill="#8104ff"/><rect x="188.18" y="172.78" width="7.2" height="7.2" fill="#8806fa"/><rect x="194.25" y="172.78" width="7.2" height="7.2" fill="#8f08eb"/><rect x="200.32" y="172.78" width="7.2" height="7.2" fill="#960bd2"/><rect x="206.39" y="172.78" width="7.2" height="7.2" fill="#9d0eae"/><rect x="212.46" y="172.78" width="7.2" height="7.2" fill="#a51280"/><rect x="218.53" y="172.78" width="7.2" height="7.2" fill="#ab1753"/><rect x="224.60" y="172.78" width="7.2" height="7.2" fill="#af1b30"/><rect x="230.67" y="172.78" width="7.2" height="7.2" fill="#b11d1c"/><rect x="236.74" y="172.78" width="7.2" height="7.2" fill="#b21e14"/><rect x="242.81" y="172.78" width="7.2" height="7.2" fill="#b31e0f"/><rect x="248.88" y="172.78" width="7.2" height="7.2" fill="#b31f0b"/><rect x="254.95" y="172.78" width="7.2" height="7.2" fill="#b31f08"/><rect x="42.50" y="166.72" width="7.2" height="7.2" fill="#d25000"/><rect x="48.57" y="166.72" width="7.2" height="7.2" fill="#d14e00"/><rect x="54.64" y="166.72" width="7.2" height="7.2" fill="#cf4800"/><rect x="60.71" y="166.72" width="7.2" height="7.2" fill="#cb4000"/><rect x="66.78" y="166.72" width="7.2" height="7.2" fill="#c43500"/><rect x="72.85" y="166.72" width="7.2" height="7.2" fill="#ba2600"/><rect x="78.92" y="166.72" width="7.2" height="7.2" fill="#ae1a37"/><rect x="84.99" y="166.72" width="7.2" height="7.2" fill="#a3118b"/><rect x="91.06" y="166.72" width="7.2" height="7.2" fill="#980cc8"/><rect x="97.13" y="166.72" width="7.2" height="7.2" fill="#8d07ef"/><rect x="103.20" y="166.72" width="7.2" height="7.2" fill="#8104ff"/><rect x="109.27" y="166.72" width="7.2" height="7.2" fill="#7502f7"/><rect x="115.34" y="166.72" width="7.2" height="7.2" fill="#6a01e2"/><rect x="121.41" y="166.72" width="7.2" height="7.2" fill="#6301ce"/><rect x="127.48" y="166.72" width="7.2" height="7.2" fill="#5e01c0"/><rect x="133.55" y="166.72" width="7.2" height="7.2" fill="#5b01b8"/><rect x="139.62" y="166.72" width="7.2" height="7.2" fill="#5b01b6"/><rect x="145.69" y="166.72" width="7.2" height="7.2" fill="#5b01b8"/><rect x="151.76" y="166.72" width="7.2" height="7.2" fill="#5e01c0"/><rect x="157.83" y="166.72" width="7.2" height="7.2" fill="#6301ce"/><rect x="163.90" y="166.72" width="7.2" height="7.2" fill="#6901df"/><rect x="169.97" y="166.72" width="7.2" height="7.2" fill="#6f02ec"/><rect x="176.04" y="166.72" width="7.2" height="7.2" fill="#7502f7"/><rect x="182.11" y="166.72" width="7.2" height="7.2" fill="#7b03fd"/><rect x="188.18" y="166.72" width="7.2" height="7.2" fill="#8104ff"/><rect x="194.25" y="166.72" width="7.2" height="7.2" fill="#8806f9"/><rect x="200.32" y="166.72" width="7.2" height="7.2" fill="#8f08ea"/><rect x="206.39" y="166.72" width="7.2" height="7.2" fill="#970bcd"/><rect x="212.46" y="166.72" width="7.2" height="7.2" fill="#9f0fa6"/><rect x="218.53" y="166.72" width="7.2" height="7.2" fill="#a5137a"/><rect x="224.60" y="166.72" width="7.2" height="7.2" fill="#ab174f"/><rect x="230.67" y="166.72" width="7.2" height="7.2" fill="#af1b2d"/><rect x="236.74" y="166.72" width="7.2" height="7.2" fill="#b21d17"/><rect x="242.81" y="166.72" width="7.2" height="7.2" fill="#b31f0a"/><rect x="248.88" y="166.72" width="7.2" height="7.2" fill="#b42003"/><rect x="254.95" y="166.72" width="7.2" height="7.2" fill="#b52000"/><rect x="42.50" y="160.66" width="7.2" height="7.2" fill="#cb4200"/><rect x="48.57" y="160.66" width="7.2" height="7.2" fill="#ca4000"/><rect x="54.64" y="160.66" width="7.2" height="7.2" fill="#c83c00"/><rect x="60.71" y="160.66" width="7.2" height="7.2" fill="#c53600"/><rect x="66.78" y="160.66" width="7.2" height="7.2" fill="#bf2d00"/><rect x="72.85" y="160.66" width="7.2" height="7.2" fill="#b52000"/><rect x="78.92" y="160.66" width="7.2" height="7.2" fill="#a9165b"/><rect x="84.99" y="160.66" width="7.2" height="7.2" fill="#9f0fa7"/><rect x="91.06" y="160.66" width="7.2" height="7.2" fill="#940ad8"/><rect x="97.13" y="160.66" width="7.2" height="7.2" fill="#8906f8"/><rect x="103.20" y="160.66" width="7.2" height="7.2" fill="#7d04ff"/><rect x="109.27" y="160.66" width="7.2" height="7.2" fill="#7202f3"/><rect x="115.34" y="160.66" width="7.2" height="7.2" fill="#6a01e0"/><rect x="121.41" y="160.66" width="7.2" height="7.2" fill="#6301cf"/><rect x="127.48" y="160.66" width="7.2" height="7.2" fill="#5e01c0"/><rect x="133.55" y="160.66" width="7.2" height="7.2" fill="#5b01b6"/><rect x="139.62" y="160.66" width="7.2" height="7.2" fill="#5800ae"/><rect x="145.69" y="160.66" width="7.2" height="7.2" fill="#5600a8"/><rect x="151.76" y="160.66" width="7.2" height="7.2" fill="#5700ac"/><rect x="157.83" y="160.66" width="7.2" height="7.2" fill="#5c01bb"/><rect x="163.90" y="160.66" width="7.2" height="7.2" fill="#6301ce"/><rect x="169.97" y="160.66" width="7.2" height="7.2" fill="#6901df"/><rect x="176.04" y="160.66" width="7.2" height="7.2" fill="#6f02ed"/><rect x="182.11" y="160.66" width="7.2" height="7.2" fill="#7402f6"/><rect x="188.18" y="160.66" width="7.2" height="7.2" fill="#7a03fd"/><rect x="194.25" y="160.66" width="7.2" height="7.2" fill="#8104ff"/><rect x="200.32" y="160.66" width="7.2" height="7.2" fill="#8906f8"/><rect x="206.39" y="160.66" width="7.2" height="7.2" fill="#9109e5"/><rect x="212.46" y="160.66" width="7.2" height="7.2" fill="#990cc4"/><rect x="218.53" y="160.66" width="7.2" height="7.2" fill="#a1109a"/><rect x="224.60" y="160.66" width="7.2" height="7.2" fill="#a81566"/><rect x="230.67" y="160.66" width="7.2" height="7.2" fill="#ae1a35"/><rect x="236.74" y="160.66" width="7.2" height="7.2" fill="#b21e12"/><rect x="242.81" y="160.66" width="7.2" height="7.2" fill="#b42000"/><rect x="248.88" y="160.66" width="7.2" height="7.2" fill="#b62200"/><rect x="254.95" y="160.66" width="7.2" height="7.2" fill="#b72300"/><rect x="42.50" y="154.60" width="7.2" height="7.2" fill="#c53700"/><rect x="48.57" y="154.60" width="7.2" height="7.2" fill="#c43500"/><rect x="54.64" y="154.60" width="7.2" height="7.2" fill="#c33300"/><rect x="60.71" y="154.60" width="7.2" height="7.2" fill="#c02e00"/><rect x="66.78" y="154.60" width="7.2" height="7.2" fill="#ba2700"/><rect x="72.85" y="154.60" width="7.2" height="7.2" fill="#b21d16"/><rect x="78.92" y="154.60" width="7.2" height="7.2" fill="#a7146c"/><rect x="84.99" y="154.60" width="7.2" height="7.2" fill="#9d0eb1"/><rect x="91.06" y="154.60" width="7.2" height="7.2" fill="#9209e2"/><rect x="97.13" y="154.60" width="7.2" height="7.2" fill="#8605fb"/><rect x="103.20" y="154.60" width="7.2" height="7.2" fill="#7c03fe"/><rect x="109.27" y="154.60" width="7.2" height="7.2" fill="#7302f4"/><rect x="115.34" y="154.60" width="7.2" height="7.2" fill="#6c01e6"/><rect x="121.41" y="154.60" width="7.2" height="7.2" fill="#6601d6"/><rect x="127.48" y="154.60" width="7.2" height="7.2" fill="#6001c7"/><rect x="133.55" y="154.60" width="7.2" height="7.2" fill="#5b01b8"/><rect x="139.62" y="154.60" width="7.2" height="7.2" fill="#5600a8"/><rect x="145.69" y="154.60" width="7.2" height="7.2" fill="#510097"/><rect x="151.76" y="154.60" width="7.2" height="7.2" fill="#500093"/><rect x="157.83" y="154.60" width="7.2" height="7.2" fill="#5600a7"/><rect x="163.90" y="154.60" width="7.2" height="7.2" fill="#5c01bb"/><rect x="169.97" y="154.60" width="7.2" height="7.2" fill="#6301ce"/><rect x="176.04" y="154.60" width="7.2" height="7.2" fill="#6901e0"/><rect x="182.11" y="154.60" width="7.2" height="7.2" fill="#6f02ed"/><rect x="188.18" y="154.60" width="7.2" height="7.2" fill="#7402f6"/><rect x="194.25" y="154.60" width="7.2" height="7.2" fill="#7b03fd"/><rect x="200.32" y="154.60" width="7.2" height="7.2" fill="#8205fe"/><rect x="206.39" y="154.60" width="7.2" height="7.2" fill="#8b07f4"/><rect x="212.46" y="154.60" width="7.2" height="7.2" fill="#940ad9"/><rect x="218.53" y="154.60" width="7.2" height="7.2" fill="#9e0eac"/><rect x="224.60" y="154.60" width="7.2" height="7.2" fill="#a71470"/><rect x="230.67" y="154.60" width="7.2" height="7.2" fill="#ae1a33"/><rect x="236.74" y="154.60" width="7.2" height="7.2" fill="#b41f04"/><rect x="242.81" y="154.60" width="7.2" height="7.2" fill="#b72300"/><rect x="248.88" y="154.60" width="7.2" height="7.2" fill="#b92500"/><rect x="254.95" y="154.60" width="7.2" height="7.2" fill="#ba2700"/><rect x="42.50" y="148.54" width="7.2" height="7.2" fill="#c02e00"/><rect x="48.57" y="148.54" width="7.2" height="7.2" fill="#bf2d00"/><rect x="54.64" y="148.54" width="7.2" height="7.2" fill="#bd2b00"/><rect x="60.71" y="148.54" width="7.2" height="7.2" fill="#bb2700"/><rect x="66.78" y="148.54" width="7.2" height="7.2" fill="#b72200"/><rect x="72.85" y="148.54" width="7.2" height="7.2" fill="#b01c26"/><rect x="78.92" y="148.54" width="7.2" height="7.2" fill="#a71471"/><rect x="84.99" y="148.54" width="7.2" height="7.2" fill="#9d0eb2"/><rect x="91.06" y="148.54" width="7.2" height="7.2" fill="#9209e2"/><rect x="97.13" y="148.54" width="7.2" height="7.2" fill="#8706fa"/><rect x="103.20" y="148.54" width="7.2" height="7.2" fill="#7e04ff"/><rect x="109.27" y="148.54" width="7.2" height="7.2" fill="#7603f9"/><rect x="115.34" y="148.54" width="7.2" height="7.2" fill="#6f02ee"/><rect x="121.41" y="148.54" width="7.2" height="7.2" fill="#6a01e2"/><rect x="127.48" y="148.54" width="7.2" height="7.2" fill="#6401d2"/><rect x="133.55" y="148.54" width="7.2" height="7.2" fill="#5e01c0"/><rect x="139.62" y="148.54" width="7.2" height="7.2" fill="#5700ac"/><rect x="145.69" y="148.54" width="7.2" height="7.2" fill="#500093"/><rect x="151.76" y="148.54" width="7.2" height="7.2" fill="#49007d"/><rect x="157.83" y="148.54" width="7.2" height="7.2" fill="#500093"/><rect x="163.90" y="148.54" width="7.2" height="7.2" fill="#5700ac"/><rect x="169.97" y="148.54" width="7.2" height="7.2" fill="#5e01c0"/><rect x="176.04" y="148.54" width="7.2" height="7.2" fill="#6401d2"/><rect x="182.11" y="148.54" width="7.2" height="7.2" fill="#6a01e2"/><rect x="188.18" y="148.54" width="7.2" height="7.2" fill="#6f02ee"/><rect x="194.25" y="148.54" width="7.2" height="7.2" fill="#7603f9"/><rect x="200.32" y="148.54" width="7.2" height="7.2" fill="#7e04ff"/><rect x="206.39" y="148.54" width="7.2" height="7.2" fill="#8706fa"/><rect x="212.46" y="148.54" width="7.2" height="7.2" fill="#9209e2"/><rect x="218.53" y="148.54" width="7.2" height="7.2" fill="#9d0eb2"/><rect x="224.60" y="148.54" width="7.2" height="7.2" fill="#a71471"/><rect x="230.67" y="148.54" width="7.2" height="7.2" fill="#b01c26"/><rect x="236.74" y="148.54" width="7.2" height="7.2" fill="#b72200"/><rect x="242.81" y="148.54" width="7.2" height="7.2" fill="#bb2700"/><rect x="248.88" y="148.54" width="7.2" height="7.2" fill="#bd2b00"/><rect x="254.95" y="148.54" width="7.2" height="7.2" fill="#bf2d00"/><rect x="42.50" y="142.48" width="7.2" height="7.2" fill="#bb2800"/><rect x="48.57" y="142.48" width="7.2" height="7.2" fill="#ba2700"/><rect x="54.64" y="142.48" width="7.2" height="7.2" fill="#b92500"/><rect x="60.71" y="142.48" width="7.2" height="7.2" fill="#b72300"/><rect x="66.78" y="142.48" width="7.2" height="7.2" fill="#b41f04"/><rect x="72.85" y="142.48" width="7.2" height="7.2" fill="#ae1a33"/><rect x="78.92" y="142.48" width="7.2" height="7.2" fill="#a71470"/><rect x="84.99" y="142.48" width="7.2" height="7.2" fill="#9e0eac"/><rect x="91.06" y="142.48" width="7.2" height="7.2" fill="#940ad9"/><rect x="97.13" y="142.48" width="7.2" height="7.2" fill="#8b07f4"/><rect x="103.20" y="142.48" width="7.2" height="7.2" fill="#8205fe"/><rect x="109.27" y="142.48" width="7.2" height="7.2" fill="#7b03fd"/><rect x="115.34" y="142.48" width="7.2" height="7.2" fill="#7402f6"/><rect x="121.41" y="142.48" width="7.2" height="7.2" fill="#6f02ed"/><rect x="127.48" y="142.48" width="7.2" height="7.2" fill="#6901e0"/><rect x="133.55" y="142.48" width="7.2" height="7.2" fill="#6301ce"/><rect x="139.62" y="142.48" width="7.2" height="7.2" fill="#5c01bb"/><rect x="145.69" y="142.48" width="7.2" height="7.2" fill="#5600a7"/><rect x="151.76" y="142.48" width="7.2" height="7.2" fill="#500093"/><rect x="157.83" y="142.48" width="7.2" height="7.2" fill="#510097"/><rect x="163.90" y="142.48" width="7.2" height="7.2" fill="#5600a8"/><rect x="169.97" y="142.48" width="7.2" height="7.2" fill="#5b01b8"/><rect x="176.04" y="142.48" width="7.2" height="7.2" fill="#6001c7"/><rect x="182.11" y="142.48" width="7.2" height="7.2" fill="#6601d6"/><rect x="188.18" y="142.48" width="7.2" height="7.2" fill="#6c01e6"/><rect x="194.25" y="142.48" width="7.2" height="7.2" fill="#7302f4"/><rect x="200.32" y="142.48" width="7.2" height="7.2" fill="#7c03fe"/><rect x="206.39" y="142.48" width="7.2" height="7.2" fill="#8605fb"/><rect x="212.46" y="142.48" width="7.2" height="7.2" fill="#9209e2"/><rect x="218.53" y="142.48" width="7.2" height="7.2" fill="#9d0eb1"/><rect x="224.60" y="142.48" width="7.2" height="7.2" fill="#a7146c"/><rect x="230.67" y="142.48" width="7.2" height="7.2" fill="#b21d16"/><rect x="236.74" y="142.48" width="7.2" height="7.2" fill="#ba2700"/><rect x="242.81" y="142.48" width="7.2" height="7.2" fill="#c02e00"/><rect x="248.88" y="142.48" width="7.2" height="7.2" fill="#c33300"/><rect x="254.95" y="142.48" width="7.2" height="7.2" fill="#c43500"/><rect x="42.50" y="136.42" width="7.2" height="7.2" fill="#b72300"/><rect x="48.57" y="136.42" width="7.2" height="7.2" fill="#b72300"/><rect x="54.64" y="136.42" width="7.2" height="7.2" fill="#b62200"/><rect x="60.71" y="136.42" width="7.2" height="7.2" fill="#b42000"/><rect x="66.78" y="136.42" width="7.2" height="7.2" fill="#b21e12"/><rect x="72.85" y="136.42" width="7.2" height="7.2" fill="#ae1a35"/><rect x="78.92" y="136.42" width="7.2" height="7.2" fill="#a81566"/><rect x="84.99" y="136.42" width="7.2" height="7.2" fill="#a1109a"/><rect x="91.06" y="136.42" width="7.2" height="7.2" fill="#990cc4"/><rect x="97.13" y="136.42" width="7.2" height="7.2" fill="#9109e5"/><rect x="103.20" y="136.42" width="7.2" height="7.2" fill="#8906f8"/><rect x="109.27" y="136.42" width="7.2" height="7.2" fill="#8104ff"/><rect x="115.34" y="136.42" width="7.2" height="7.2" fill="#7a03fd"/><rect x="121.41" y="136.42" width="7.2" height="7.2" fill="#7402f6"/><rect x="127.48" y="136.42" width="7.2" height="7.2" fill="#6f02ed"/><rect x="133.55" y="136.42" width="7.2" height="7.2" fill="#6901df"/><rect x="139.62" y="136.42" width="7.2" height="7.2" fill="#6301ce"/><rect x="145.69" y="136.42" width="7.2" height="7.2" fill="#5c01bb"/><rect x="151.76" y="136.42" width="7.2" height="7.2" fill="#5700ac"/><rect x="157.83" y="136.42" width="7.2" height="7.2" fill="#5600a8"/><rect x="163.90" y="136.42" width="7.2" height="7.2" fill="#5800ae"/><rect x="169.97" y="136.42" width="7.2" height="7.2" fill="#5b01b6"/><rect x="176.04" y="136.42" width="7.2" height="7.2" fill="#5e01c0"/><rect x="182.11" y="136.42" width="7.2" height="7.2" fill="#6301cf"/><rect x="188.18" y="136.42" width="7.2" height="7.2" fill="#6a01e0"/><rect x="194.25" y="136.42" width="7.2" height="7.2" fill="#7202f3"/><rect x="200.32" y="136.42" width="7.2" height="7.2" fill="#7d04ff"/><rect x="206.39" y="136.42" width="7.2" height="7.2" fill="#8906f8"/><rect x="212.46" y="136.42" width="7.2" height="7.2" fill="#940ad8"/><rect x="218.53" y="136.42" width="7.2" height="7.2" fill="#9f0fa7"/><rect x="224.60" y="136.42" width="7.2" height="7.2" fill="#a9165b"/><rect x="230.67" y="136.42" width="7.2" height="7.2" fill="#b52000"/><rect x="236.74" y="136.42" width="7.2" height="7.2" fill="#bf2d00"/><rect x="242.81" y="136.42" width="7.2" height="7.2" fill="#c53600"/><rect x="248.88" y="136.42" width="7.2" height="7.2" fill="#c83c00"/><rect x="254.95" y="136.42" width="7.2" height="7.2" fill="#ca4000"/><rect x="42.50" y="130.36" width="7.2" height="7.2" fill="#b52000"/><rect x="48.57" y="130.36" width="7.2" height="7.2" fill="#b52000"/><rect x="54.64" y="130.36" width="7.2" height="7.2" fill="#b42003"/><rect x="60.71" y="130.36" width="7.2" height="7.2" fill="#b31f0a"/><rect x="66.78" y="130.36" width="7.2" height="7.2" fill="#b21d17"/><rect x="72.85" y="130.36" width="7.2" height="7.2" fill="#af1b2d"/><rect x="78.92" y="130.36" width="7.2" height="7.2" fill="#ab174f"/><rect x="84.99" y="130.36" width="7.2" height="7.2" fill="#a5137a"/><rect x="91.06" y="130.36" width="7.2" height="7.2" fill="#9f0fa6"/><rect x="97.13" y="130.36" width="7.2" height="7.2" fill="#970bcd"/><rect x="103.20" y="130.36" width="7.2" height="7.2" fill="#8f08ea"/><rect x="109.27" y="130.36" width="7.2" height="7.2" fill="#8806f9"/><rect x="115.34" y="130.36" width="7.2" height="7.2" fill="#8104ff"/><rect x="121.41" y="130.36" width="7.2" height="7.2" fill="#7b03fd"/><rect x="127.48" y="130.36" width="7.2" height="7.2" fill="#7502f7"/><rect x="133.55" y="130.36" width="7.2" height="7.2" fill="#6f02ec"/><rect x="139.62" y="130.36" width="7.2" height="7.2" fill="#6901df"/><rect x="145.69" y="130.36" width="7.2" height="7.2" fill="#6301ce"/><rect x="151.76" y="130.36" width="7.2" height="7.2" fill="#5e01c0"/><rect x="157.83" y="130.36" width="7.2" height="7.2" fill="#5b01b8"/><rect x="163.90" y="130.36" width="7.2" height="7.2" fill="#5b01b6"/><rect x="169.97" y="130.36" width="7.2" height="7.2" fill="#5b01b8"/><rect x="176.04" y="130.36" width="7.2" height="7.2" fill="#5e01c0"/><rect x="182.11" y="130.36" width="7.2" height="7.2" fill="#6301ce"/><rect x="188.18" y="130.36" width="7.2" height="7.2" fill="#6a01e2"/><rect x="194.25" y="130.36" width="7.2" height="7.2" fill="#7502f7"/><rect x="200.32" y="130.36" width="7.2" height="7.2" fill="#8104ff"/><rect x="206.39" y="130.36" width="7.2" height="7.2" fill="#8d07ef"/><rect x="212.46" y="130.36" width="7.2" height="7.2" fill="#980cc8"/><rect x="218.53" y="130.36" width="7.2" height="7.2" fill="#a3118b"/><rect x="224.60" y="130.36" width="7.2" height="7.2" fill="#ae1a37"/><rect x="230.67" y="130.36" width="7.2" height="7.2" fill="#ba2600"/><rect x="236.74" y="130.36" width="7.2" height="7.2" fill="#c43500"/><rect x="242.81" y="130.36" width="7.2" height="7.2" fill="#cb4000"/><rect x="248.88" y="130.36" width="7.2" height="7.2" fill="#cf4800"/><rect x="254.95" y="130.36" width="7.2" height="7.2" fill="#d14e00"/><rect x="42.50" y="124.29" width="7.2" height="7.2" fill="#b41f07"/><rect x="48.57" y="124.29" width="7.2" height="7.2" fill="#b31f08"/><rect x="54.64" y="124.29" width="7.2" height="7.2" fill="#b31f0b"/><rect x="60.71" y="124.29" width="7.2" height="7.2" fill="#b31e0f"/><rect x="66.78" y="124.29" width="7.2" height="7.2" fill="#b21e14"/><rect x="72.85" y="124.29" width="7.2" height="7.2" fill="#b11d1c"/><rect x="78.92" y="124.29" width="7.2" height="7.2" fill="#af1b30"/><rect x="84.99" y="124.29" width="7.2" height="7.2" fill="#ab1753"/><rect x="91.06" y="124.29" width="7.2" height="7.2" fill="#a51280"/><rect x="97.13" y="124.29" width="7.2" height="7.2" fill="#9d0eae"/><rect x="103.20" y="124.29" width="7.2" height="7.2" fill="#960bd2"/><rect x="109.27" y="124.29" width="7.2" height="7.2" fill="#8f08eb"/><rect x="115.34" y="124.29" width="7.2" height="7.2" fill="#8806fa"/><rect x="121.41" y="124.29" width="7.2" height="7.2" fill="#8104ff"/><rect x="127.48" y="124.29" width="7.2" height="7.2" fill="#7b03fd"/><rect x="133.55" y="124.29" width="7.2" height="7.2" fill="#7502f7"/><rect x="139.62" y="124.29" width="7.2" height="7.2" fill="#6f02ed"/><rect x="145.69" y="124.29" width="7.2" height="7.2" fill="#6901e0"/><rect x="151.76" y="124.29" width="7.2" height="7.2" fill="#6401d2"/><rect x="157.83" y="124.29" width="7.2" height="7.2" fill="#6001c7"/><rect x="163.90" y="124.29" width="7.2" height="7.2" fill="#5e01c0"/><rect x="169.97" y="124.29" width="7.2" height="7.2" fill="#5e01c0"/><rect x="176.04" y="124.29" width="7.2" height="7.2" fill="#6001c7"/><rect x="182.11" y="124.29" width="7.2" height="7.2" fill="#6601d6"/><rect x="188.18" y="124.29" width="7.2" height="7.2" fill="#6e02eb"/><rect x="194.25" y="124.29" width="7.2" height="7.2" fill="#7a03fd"/><rect x="200.32" y="124.29" width="7.2" height="7.2" fill="#8706fa"/><rect x="206.39" y="124.29" width="7.2" height="7.2" fill="#9309dd"/><rect x="212.46" y="124.29" width="7.2" height="7.2" fill="#9e0ead"/><rect x="218.53" y="124.29" width="7.2" height="7.2" fill="#a9165f"/><rect x="224.60" y="124.29" width="7.2" height="7.2" fill="#b41f04"/><rect x="230.67" y="124.29" width="7.2" height="7.2" fill="#bf2e00"/><rect x="236.74" y="124.29" width="7.2" height="7.2" fill="#c93c00"/><rect x="242.81" y="124.29" width="7.2" height="7.2" fill="#cf4900"/><rect x="248.88" y="124.29" width="7.2" height="7.2" fill="#d45500"/><rect x="254.95" y="124.29" width="7.2" height="7.2" fill="#d85e00"/><rect x="42.50" y="118.23" width="7.2" height="7.2" fill="#b31f0c"/><rect x="48.57" y="118.23" width="7.2" height="7.2" fill="#b31e0c"/><rect x="54.64" y="118.23" width="7.2" height="7.2" fill="#b31f0c"/><rect x="60.71" y="118.23" width="7.2" height="7.2" fill="#b31e0c"/><rect x="66.78" y="118.23" width="7.2" height="7.2" fill="#b31e0c"/><rect x="72.85" y="118.23" width="7.2" height="7.2" fill="#b31f08"/><rect x="78.92" y="118.23" width="7.2" height="7.2" fill="#b31e0c"/><rect x="84.99" y="118.23" width="7.2" height="7.2" fill="#b01b27"/><rect x="91.06" y="118.23" width="7.2" height="7.2" fill="#ab1753"/><rect x="97.13" y="118.23" width="7.2" height="7.2" fill="#a41286"/><rect x="103.20" y="118.23" width="7.2" height="7.2" fill="#9d0eb1"/><rect x="109.27" y="118.23" width="7.2" height="7.2" fill="#960bd2"/><rect x="115.34" y="118.23" width="7.2" height="7.2" fill="#8f08eb"/><rect x="121.41" y="118.23" width="7.2" height="7.2" fill="#8806f9"/><rect x="127.48" y="118.23" width="7.2" height="7.2" fill="#8104ff"/><rect x="133.55" y="118.23" width="7.2" height="7.2" fill="#7b03fd"/><rect x="139.62" y="118.23" width="7.2" height="7.2" fill="#7402f6"/><rect x="145.69" y="118.23" width="7.2" height="7.2" fill="#6f02ed"/><rect x="151.76" y="118.23" width="7.2" height="7.2" fill="#6a01e2"/><rect x="157.83" y="118.23" width="7.2" height="7.2" fill="#6601d6"/><rect x="163.90" y="118.23" width="7.2" height="7.2" fill="#6301cf"/><rect x="169.97" y="118.23" width="7.2" height="7.2" fill="#6301ce"/><rect x="176.04" y="118.23" width="7.2" height="7.2" fill="#6601d6"/><rect x="182.11" y="118.23" width="7.2" height="7.2" fill="#6c02e7"/><rect x="188.18" y="118.23" width="7.2" height="7.2" fill="#7703fa"/><rect x="194.25" y="118.23" width="7.2" height="7.2" fill="#8305fe"/><rect x="200.32" y="118.23" width="7.2" height="7.2" fill="#8f08ea"/><rect x="206.39" y="118.23" width="7.2" height="7.2" fill="#9b0dbb"/><rect x="212.46" y="118.23" width="7.2" height="7.2" fill="#a5137a"/><rect x="218.53" y="118.23" width="7.2" height="7.2" fill="#b11c21"/><rect x="224.60" y="118.23" width="7.2" height="7.2" fill="#bb2800"/><rect x="230.67" y="118.23" width="7.2" height="7.2" fill="#c73900"/><rect x="236.74" y="118.23" width="7.2" height="7.2" fill="#cf4900"/><rect x="242.81" y="118.23" width="7.2" height="7.2" fill="#d55600"/><rect x="248.88" y="118.23" width="7.2" height="7.2" fill="#da6300"/><rect x="254.95" y="118.23" width="7.2" height="7.2" fill="#de6e00"/><rect x="42.50" y="112.17" width="7.2" height="7.2" fill="#b42002"/><rect x="48.57" y="112.17" width="7.2" height="7.2" fill="#b42001"/><rect x="54.64" y="112.17" width="7.2" height="7.2" fill="#b42000"/><rect x="60.71" y="112.17" width="7.2" height="7.2" fill="#b52000"/><rect x="66.78" y="112.17" width="7.2" height="7.2" fill="#b52000"/><rect x="72.85" y="112.17" width="7.2" height="7.2" fill="#b62100"/><rect x="78.92" y="112.17" width="7.2" height="7.2" fill="#b62200"/><rect x="84.99" y="112.17" width="7.2" height="7.2" fill="#b42000"/><rect x="91.06" y="112.17" width="7.2" height="7.2" fill="#b01c23"/><rect x="97.13" y="112.17" width="7.2" height="7.2" fill="#ab1752"/><rect x="103.20" y="112.17" width="7.2" height="7.2" fill="#a41282"/><rect x="109.27" y="112.17" width="7.2" height="7.2" fill="#9e0ead"/><rect x="115.34" y="112.17" width="7.2" height="7.2" fill="#960bd1"/><rect x="121.41" y="112.17" width="7.2" height="7.2" fill="#8f08eb"/><rect x="127.48" y="112.17" width="7.2" height="7.2" fill="#8806fa"/><rect x="133.55" y="112.17" width="7.2" height="7.2" fill="#8104ff"/><rect x="139.62" y="112.17" width="7.2" height="7.2" fill="#7a03fd"/><rect x="145.69" y="112.17" width="7.2" height="7.2" fill="#7402f6"/><rect x="151.76" y="112.17" width="7.2" height="7.2" fill="#6f02ee"/><rect x="157.83" y="112.17" width="7.2" height="7.2" fill="#6c01e6"/><rect x="163.90" y="112.17" width="7.2" height="7.2" fill="#6a01e0"/><rect x="169.97" y="112.17" width="7.2" height="7.2" fill="#6a01e2"/><rect x="176.04" y="112.17" width="7.2" height="7.2" fill="#6e02eb"/><rect x="182.11" y="112.17" width="7.2" height="7.2" fill="#7703fa"/><rect x="188.18" y="112.17" width="7.2" height="7.2" fill="#8205fe"/><rect x="194.25" y="112.17" width="7.2" height="7.2" fill="#8e08ee"/><rect x="200.32" y="112.17" width="7.2" height="7.2" fill="#980bca"/><rect x="206.39" y="112.17" width="7.2" height="7.2" fill="#a3118b"/><rect x="212.46" y="112.17" width="7.2" height="7.2" fill="#ae1a38"/><rect x="218.53" y="112.17" width="7.2" height="7.2" fill="#b82400"/><rect x="224.60" y="112.17" width="7.2" height="7.2" fill="#c23200"/><rect x="230.67" y="112.17" width="7.2" height="7.2" fill="#cc4200"/><rect x="236.74" y="112.17" width="7.2" height="7.2" fill="#d45400"/><rect x="242.81" y="112.17" width="7.2" height="7.2" fill="#da6500"/><rect x="248.88" y="112.17" width="7.2" height="7.2" fill="#e07400"/><rect x="254.95" y="112.17" width="7.2" height="7.2" fill="#e37f00"/><rect x="42.50" y="106.11" width="7.2" height="7.2" fill="#b82400"/><rect x="48.57" y="106.11" width="7.2" height="7.2" fill="#b82400"/><rect x="54.64" y="106.11" width="7.2" height="7.2" fill="#b92500"/><rect x="60.71" y="106.11" width="7.2" height="7.2" fill="#b92500"/><rect x="66.78" y="106.11" width="7.2" height="7.2" fill="#b92500"/><rect x="72.85" y="106.11" width="7.2" height="7.2" fill="#b92600"/><rect x="78.92" y="106.11" width="7.2" height="7.2" fill="#ba2600"/><rect x="84.99" y="106.11" width="7.2" height="7.2" fill="#b82400"/><rect x="91.06" y="106.11" width="7.2" height="7.2" fill="#b52100"/><rect x="97.13" y="106.11" width="7.2" height="7.2" fill="#b11d1c"/><rect x="103.20" y="106.11" width="7.2" height="7.2" fill="#ab174d"/><rect x="109.27" y="106.11" width="7.2" height="7.2" fill="#a5127f"/><rect x="115.34" y="106.11" width="7.2" height="7.2" fill="#9e0ead"/><rect x="121.41" y="106.11" width="7.2" height="7.2" fill="#960bd2"/><rect x="127.48" y="106.11" width="7.2" height="7.2" fill="#8f08eb"/><rect x="133.55" y="106.11" width="7.2" height="7.2" fill="#8806f9"/><rect x="139.62" y="106.11" width="7.2" height="7.2" fill="#8104ff"/><rect x="145.69" y="106.11" width="7.2" height="7.2" fill="#7b03fd"/><rect x="151.76" y="106.11" width="7.2" height="7.2" fill="#7603f9"/><rect x="157.83" y="106.11" width="7.2" height="7.2" fill="#7302f4"/><rect x="163.90" y="106.11" width="7.2" height="7.2" fill="#7202f3"/><rect x="169.97" y="106.11" width="7.2" height="7.2" fill="#7502f7"/><rect x="176.04" y="106.11" width="7.2" height="7.2" fill="#7a03fd"/><rect x="182.11" y="106.11" width="7.2" height="7.2" fill="#8305fe"/><rect x="188.18" y="106.11" width="7.2" height="7.2" fill="#8e08ee"/><rect x="194.25" y="106.11" width="7.2" height="7.2" fill="#990cc4"/><rect x="200.32" y="106.11" width="7.2" height="7.2" fill="#a3118d"/><rect x="206.39" y="106.11" width="7.2" height="7.2" fill="#ad193e"/><rect x="212.46" y="106.11" width="7.2" height="7.2" fill="#b72200"/><rect x="218.53" y="106.11" width="7.2" height="7.2" fill="#c13000"/><rect x="224.60" y="106.11" width="7.2" height="7.2" fill="#ca3f00"/><rect x="230.67" y="106.11" width="7.2" height="7.2" fill="#d14e00"/><rect x="236.74" y="106.11" width="7.2" height="7.2" fill="#d96100"/><rect x="242.81" y="106.11" width="7.2" height="7.2" fill="#df7300"/><rect x="248.88" y="106.11" width="7.2" height="7.2" fill="#e58500"/><rect x="254.95" y="106.11" width="7.2" height="7.2" fill="#e78e00"/><rect x="42.50" y="100.05" width="7.2" height="7.2" fill="#be2c00"/><rect x="48.57" y="100.05" width="7.2" height="7.2" fill="#bf2c00"/><rect x="54.64" y="100.05" width="7.2" height="7.2" fill="#bf2d00"/><rect x="60.71" y="100.05" width="7.2" height="7.2" fill="#bf2d00"/><rect x="66.78" y="100.05" width="7.2" height="7.2" fill="#be2c00"/><rect x="72.85" y="100.05" width="7.2" height="7.2" fill="#be2c00"/><rect x="78.92" y="100.05" width="7.2" height="7.2" fill="#be2c00"/><rect x="84.99" y="100.05" width="7.2" height="7.2" fill="#bd2a00"/><rect x="91.06" y="100.05" width="7.2" height="7.2" fill="#ba2700"/><rect x="97.13" y="100.05" width="7.2" height="7.2" fill="#b62200"/><rect x="103.20" y="100.05" width="7.2" height="7.2" fill="#b11d1c"/><rect x="109.27" y="100.05" width="7.2" height="7.2" fill="#ab174d"/><rect x="115.34" y="100.05" width="7.2" height="7.2" fill="#a41282"/><rect x="121.41" y="100.05" width="7.2" height="7.2" fill="#9d0eb1"/><rect x="127.48" y="100.05" width="7.2" height="7.2" fill="#960bd2"/><rect x="133.55" y="100.05" width="7.2" height="7.2" fill="#8f08ea"/><rect x="139.62" y="100.05" width="7.2" height="7.2" fill="#8906f8"/><rect x="145.69" y="100.05" width="7.2" height="7.2" fill="#8205fe"/><rect x="151.76" y="100.05" width="7.2" height="7.2" fill="#7e04ff"/><rect x="157.83" y="100.05" width="7.2" height="7.2" fill="#7c03fe"/><rect x="163.90" y="100.05" width="7.2" height="7.2" fill="#7d04ff"/><rect x="169.97" y="100.05" width="7.2" height="7.2" fill="#8104ff"/><rect x="176.04" y="100.05" width="7.2" height="7.2" fill="#8706fa"/><rect x="182.11" y="100.05" width="7.2" height="7.2" fill="#8f08ea"/><rect x="188.18" y="100.05" width="7.2" height="7.2" fill="#980bca"/><rect x="194.25" y="100.05" width="7.2" height="7.2" fill="#a3118d"/><rect x="200.32" y="100.05" width="7.2" height="7.2" fill="#ad193f"/><rect x="206.39" y="100.05" width="7.2" height="7.2" fill="#b72300"/><rect x="212.46" y="100.05" width="7.2" height="7.2" fill="#c02e00"/><rect x="218.53" y="100.05" width="7.2" height="7.2" fill="#c83b00"/><rect x="224.60" y="100.05" width="7.2" height="7.2" fill="#d04b00"/><rect x="230.67" y="100.05" width="7.2" height="7.2" fill="#d85e00"/><rect x="236.74" y="100.05" width="7.2" height="7.2" fill="#df7300"/><rect x="242.81" y="100.05" width="7.2" height="7.2" fill="#e58500"/><rect x="248.88" y="100.05" width="7.2" height="7.2" fill="#e89100"/><rect x="254.95" y="100.05" width="7.2" height="7.2" fill="#ea9800"/><rect x="42.50" y="93.99" width="7.2" height="7.2" fill="#c53600"/><rect x="48.57" y="93.99" width="7.2" height="7.2" fill="#c53700"/><rect x="54.64" y="93.99" width="7.2" height="7.2" fill="#c63800"/><rect x="60.71" y="93.99" width="7.2" height="7.2" fill="#c63800"/><rect x="66.78" y="93.99" width="7.2" height="7.2" fill="#c53700"/><rect x="72.85" y="93.99" width="7.2" height="7.2" fill="#c53700"/><rect x="78.92" y="93.99" width="7.2" height="7.2" fill="#c53600"/><rect x="84.99" y="93.99" width="7.2" height="7.2" fill="#c23100"/><rect x="91.06" y="93.99" width="7.2" height="7.2" fill="#bf2d00"/><rect x="97.13" y="93.99" width="7.2" height="7.2" fill="#bb2700"/><rect x="103.20" y="93.99" width="7.2" height="7.2" fill="#b62200"/><rect x="109.27" y="93.99" width="7.2" height="7.2" fill="#b11d1c"/><rect x="115.34" y="93.99" width="7.2" height="7.2" fill="#ab1752"/><rect x="121.41" y="93.99" width="7.2" height="7.2" fill="#a41286"/><rect x="127.48" y="93.99" width="7.2" height="7.2" fill="#9d0eae"/><rect x="133.55" y="93.99" width="7.2" height="7.2" fill="#970bcd"/><rect x="139.62" y="93.99" width="7.2" height="7.2" fill="#9109e5"/><rect x="145.69" y="93.99" width="7.2" height="7.2" fill="#8b07f4"/><rect x="151.76" y="93.99" width="7.2" height="7.2" fill="#8706fa"/><rect x="157.83" y="93.99" width="7.2" height="7.2" fill="#8605fb"/><rect x="163.90" y="93.99" width="7.2" height="7.2" fill="#8906f8"/><rect x="169.97" y="93.99" width="7.2" height="7.2" fill="#8d07ef"/><rect x="176.04" y="93.99" width="7.2" height="7.2" fill="#9309dd"/><rect x="182.11" y="93.99" width="7.2" height="7.2" fill="#9b0dbb"/><rect x="188.18" y="93.99" width="7.2" height="7.2" fill="#a3118b"/><rect x="194.25" y="93.99" width="7.2" height="7.2" fill="#ad193e"/><rect x="200.32" y="93.99" width="7.2" height="7.2" fill="#b72300"/><rect x="206.39" y="93.99" width="7.2" height="7.2" fill="#c12f00"/><rect x="212.46" y="93.99" width="7.2" height="7.2" fill="#c93d00"/><rect x="218.53" y="93.99" width="7.2" height="7.2" fill="#ce4700"/><rect x="224.60" y="93.99" width="7.2" height="7.2" fill="#d55700"/><rect x="230.67" y="93.99" width="7.2" height="7.2" fill="#dd6b00"/><rect x="236.74" y="93.99" width="7.2" height="7.2" fill="#e48100"/><rect x="242.81" y="93.99" width="7.2" height="7.2" fill="#e89100"/><rect x="248.88" y="93.99" width="7.2" height="7.2" fill="#ea9900"/><rect x="254.95" y="93.99" width="7.2" height="7.2" fill="#eb9c00"/><rect x="42.50" y="87.93" width="7.2" height="7.2" fill="#cb4100"/><rect x="48.57" y="87.93" width="7.2" height="7.2" fill="#cc4200"/><rect x="54.64" y="87.93" width="7.2" height="7.2" fill="#cc4400"/><rect x="60.71" y="87.93" width="7.2" height="7.2" fill="#cd4400"/><rect x="66.78" y="87.93" width="7.2" height="7.2" fill="#cd4400"/><rect x="72.85" y="87.93" width="7.2" height="7.2" fill="#cd4500"/><rect x="78.92" y="87.93" width="7.2" height="7.2" fill="#cc4300"/><rect x="84.99" y="87.93" width="7.2" height="7.2" fill="#c93e00"/><rect x="91.06" y="87.93" width="7.2" height="7.2" fill="#c43500"/><rect x="97.13" y="87.93" width="7.2" height="7.2" fill="#bf2d00"/><rect x="103.20" y="87.93" width="7.2" height="7.2" fill="#ba2700"/><rect x="109.27" y="87.93" width="7.2" height="7.2" fill="#b52100"/><rect x="115.34" y="87.93" width="7.2" height="7.2" fill="#b01c23"/><rect x="121.41" y="87.93" width="7.2" height="7.2" fill="#ab1753"/><rect x="127.48" y="87.93" width="7.2" height="7.2" fill="#a51280"/><rect x="133.55" y="87.93" width="7.2" height="7.2" fill="#9f0fa6"/><rect x="139.62" y="87.93" width="7.2" height="7.2" fill="#990cc4"/><rect x="145.69" y="87.93" width="7.2" height="7.2" fill="#940ad9"/><rect x="151.76" y="87.93" width="7.2" height="7.2" fill="#9209e2"/><rect x="157.83" y="87.93" width="7.2" height="7.2" fill="#9209e2"/><rect x="163.90" y="87.93" width="7.2" height="7.2" fill="#940ad8"/><rect x="169.97" y="87.93" width="7.2" height="7.2" fill="#980cc8"/><rect x="176.04" y="87.93" width="7.2" height="7.2" fill="#9e0ead"/><rect x="182.11" y="87.93" width="7.2" height="7.2" fill="#a5137a"/><rect x="188.18" y="87.93" width="7.2" height="7.2" fill="#ae1a38"/><rect x="194.25" y="87.93" width="7.2" height="7.2" fill="#b72200"/><rect x="200.32" y="87.93" width="7.2" height="7.2" fill="#c02e00"/><rect x="206.39" y="87.93" width="7.2" height="7.2" fill="#c93d00"/><rect x="212.46" y="87.93" width="7.2" height="7.2" fill="#d04c00"/><rect x="218.53" y="87.93" width="7.2" height="7.2" fill="#d65a00"/><rect x="224.60" y="87.93" width="7.2" height="7.2" fill="#dd6c00"/><rect x="230.67" y="87.93" width="7.2" height="7.2" fill="#e48100"/><rect x="236.74" y="87.93" width="7.2" height="7.2" fill="#e88f00"/><rect x="242.81" y="87.93" width="7.2" height="7.2" fill="#ea9800"/><rect x="248.88" y="87.93" width="7.2" height="7.2" fill="#eb9c00"/><rect x="254.95" y="87.93" width="7.2" height="7.2" fill="#eb9c00"/><rect x="42.50" y="81.87" width="7.2" height="7.2" fill="#d14d00"/><rect x="48.57" y="81.87" width="7.2" height="7.2" fill="#d14e00"/><rect x="54.64" y="81.87" width="7.2" height="7.2" fill="#d24f00"/><rect x="60.71" y="81.87" width="7.2" height="7.2" fill="#d25000"/><rect x="66.78" y="81.87" width="7.2" height="7.2" fill="#d35100"/><rect x="72.85" y="81.87" width="7.2" height="7.2" fill="#d35100"/><rect x="78.92" y="81.87" width="7.2" height="7.2" fill="#d25000"/><rect x="84.99" y="81.87" width="7.2" height="7.2" fill="#cf4a00"/><rect x="91.06" y="81.87" width="7.2" height="7.2" fill="#c93e00"/><rect x="97.13" y="81.87" width="7.2" height="7.2" fill="#c23100"/><rect x="103.20" y="81.87" width="7.2" height="7.2" fill="#bd2a00"/><rect x="109.27" y="81.87" width="7.2" height="7.2" fill="#b82400"/><rect x="115.34" y="81.87" width="7.2" height="7.2" fill="#b42000"/><rect x="121.41" y="81.87" width="7.2" height="7.2" fill="#b01b27"/><rect x="127.48" y="81.87" width="7.2" height="7.2" fill="#ab1753"/><rect x="133.55" y="81.87" width="7.2" height="7.2" fill="#a5137a"/><rect x="139.62" y="81.87" width="7.2" height="7.2" fill="#a1109a"/><rect x="145.69" y="81.87" width="7.2" height="7.2" fill="#9e0eac"/><rect x="151.76" y="81.87" width="7.2" height="7.2" fill="#9d0eb2"/><rect x="157.83" y="81.87" width="7.2" height="7.2" fill="#9d0eb1"/><rect x="163.90" y="81.87" width="7.2" height="7.2" fill="#9f0fa7"/><rect x="169.97" y="81.87" width="7.2" height="7.2" fill="#a3118b"/><rect x="176.04" y="81.87" width="7.2" height="7.2" fill="#a9165f"/><rect x="182.11" y="81.87" width="7.2" height="7.2" fill="#b11c21"/><rect x="188.18" y="81.87" width="7.2" height="7.2" fill="#b82400"/><rect x="194.25" y="81.87" width="7.2" height="7.2" fill="#c13000"/><rect x="200.32" y="81.87" width="7.2" height="7.2" fill="#c83b00"/><rect x="206.39" y="81.87" width="7.2" height="7.2" fill="#ce4700"/><rect x="212.46" y="81.87" width="7.2" height="7.2" fill="#d65a00"/><rect x="218.53" y="81.87" width="7.2" height="7.2" fill="#dd6b00"/><rect x="224.60" y="81.87" width="7.2" height="7.2" fill="#e37e00"/><rect x="230.67" y="81.87" width="7.2" height="7.2" fill="#e89000"/><rect x="236.74" y="81.87" width="7.2" height="7.2" fill="#ea9a00"/><rect x="242.81" y="81.87" width="7.2" height="7.2" fill="#eb9e00"/><rect x="248.88" y="81.87" width="7.2" height="7.2" fill="#eb9c00"/><rect x="254.95" y="81.87" width="7.2" height="7.2" fill="#ea9900"/><rect x="42.50" y="75.81" width="7.2" height="7.2" fill="#d65900"/><rect x="48.57" y="75.81" width="7.2" height="7.2" fill="#d75b00"/><rect x="54.64" y="75.81" width="7.2" height="7.2" fill="#d75b00"/><rect x="60.71" y="75.81" width="7.2" height="7.2" fill="#d75c00"/><rect x="66.78" y="75.81" width="7.2" height="7.2" fill="#d75c00"/><rect x="72.85" y="75.81" width="7.2" height="7.2" fill="#d75b00"/><rect x="78.92" y="75.81" width="7.2" height="7.2" fill="#d65800"/><rect x="84.99" y="75.81" width="7.2" height="7.2" fill="#d25000"/><rect x="91.06" y="75.81" width="7.2" height="7.2" fill="#cc4300"/><rect x="97.13" y="75.81" width="7.2" height="7.2" fill="#c53600"/><rect x="103.20" y="75.81" width="7.2" height="7.2" fill="#be2c00"/><rect x="109.27" y="75.81" width="7.2" height="7.2" fill="#ba2600"/><rect x="115.34" y="75.81" width="7.2" height="7.2" fill="#b62200"/><rect x="121.41" y="75.81" width="7.2" height="7.2" fill="#b31e0c"/><rect x="127.48" y="75.81" width="7.2" height="7.2" fill="#af1b30"/><rect x="133.55" y="75.81" width="7.2" height="7.2" fill="#ab174f"/><rect x="139.62" y="75.81" width="7.2" height="7.2" fill="#a81566"/><rect x="145.69" y="75.81" width="7.2" height="7.2" fill="#a71470"/><rect x="151.76" y="75.81" width="7.2" height="7.2" fill="#a71471"/><rect x="157.83" y="75.81" width="7.2" height="7.2" fill="#a7146c"/><rect x="163.90" y="75.81" width="7.2" height="7.2" fill="#a9165b"/><rect x="169.97" y="75.81" width="7.2" height="7.2" fill="#ae1a37"/><rect x="176.04" y="75.81" width="7.2" height="7.2" fill="#b41f04"/><rect x="182.11" y="75.81" width="7.2" height="7.2" fill="#bb2800"/><rect x="188.18" y="75.81" width="7.2" height="7.2" fill="#c23200"/><rect x="194.25" y="75.81" width="7.2" height="7.2" fill="#ca3f00"/><rect x="200.32" y="75.81" width="7.2" height="7.2" fill="#d04b00"/><rect x="206.39" y="75.81" width="7.2" height="7.2" fill="#d55700"/><rect x="212.46" y="75.81" width="7.2" height="7.2" fill="#dd6c00"/><rect x="218.53" y="75.81" width="7.2" height="7.2" fill="#e37e00"/><rect x="224.60" y="75.81" width="7.2" height="7.2" fill="#e78e00"/><rect x="230.67" y="75.81" width="7.2" height="7.2" fill="#eb9a00"/><rect x="236.74" y="75.81" width="7.2" height="7.2" fill="#eca100"/><rect x="242.81" y="75.81" width="7.2" height="7.2" fill="#eca100"/><rect x="248.88" y="75.81" width="7.2" height="7.2" fill="#eb9e00"/><rect x="254.95" y="75.81" width="7.2" height="7.2" fill="#eb9a00"/><rect x="42.50" y="69.74" width="7.2" height="7.2" fill="#dc6800"/><rect x="48.57" y="69.74" width="7.2" height="7.2" fill="#dc6900"/><rect x="54.64" y="69.74" width="7.2" height="7.2" fill="#dc6900"/><rect x="60.71" y="69.74" width="7.2" height="7.2" fill="#db6700"/><rect x="66.78" y="69.74" width="7.2" height="7.2" fill="#db6500"/><rect x="72.85" y="69.74" width="7.2" height="7.2" fill="#d96100"/><rect x="78.92" y="69.74" width="7.2" height="7.2" fill="#d75b00"/><rect x="84.99" y="69.74" width="7.2" height="7.2" fill="#d35100"/><rect x="91.06" y="69.74" width="7.2" height="7.2" fill="#cd4500"/><rect x="97.13" y="69.74" width="7.2" height="7.2" fill="#c53700"/><rect x="103.20" y="69.74" width="7.2" height="7.2" fill="#be2c00"/><rect x="109.27" y="69.74" width="7.2" height="7.2" fill="#b92600"/><rect x="115.34" y="69.74" width="7.2" height="7.2" fill="#b62100"/><rect x="121.41" y="69.74" width="7.2" height="7.2" fill="#b31f08"/><rect x="127.48" y="69.74" width="7.2" height="7.2" fill="#b11d1c"/><rect x="133.55" y="69.74" width="7.2" height="7.2" fill="#af1b2d"/><rect x="139.62" y="69.74" width="7.2" height="7.2" fill="#ae1a35"/><rect x="145.69" y="69.74" width="7.2" height="7.2" fill="#ae1a33"/><rect x="151.76" y="69.74" width="7.2" height="7.2" fill="#b01c26"/><rect x="157.83" y="69.74" width="7.2" height="7.2" fill="#b21d16"/><rect x="163.90" y="69.74" width="7.2" height="7.2" fill="#b52000"/><rect x="169.97" y="69.74" width="7.2" height="7.2" fill="#ba2600"/><rect x="176.04" y="69.74" width="7.2" height="7.2" fill="#bf2e00"/><rect x="182.11" y="69.74" width="7.2" height="7.2" fill="#c73900"/><rect x="188.18" y="69.74" width="7.2" height="7.2" fill="#cc4200"/><rect x="194.25" y="69.74" width="7.2" height="7.2" fill="#d14e00"/><rect x="200.32" y="69.74" width="7.2" height="7.2" fill="#d85e00"/><rect x="206.39" y="69.74" width="7.2" height="7.2" fill="#dd6b00"/><rect x="212.46" y="69.74" width="7.2" height="7.2" fill="#e48100"/><rect x="218.53" y="69.74" width="7.2" height="7.2" fill="#e89000"/><rect x="224.60" y="69.74" width="7.2" height="7.2" fill="#eb9a00"/><rect x="230.67" y="69.74" width="7.2" height="7.2" fill="#eca100"/><rect x="236.74" y="69.74" width="7.2" height="7.2" fill="#eda400"/><rect x="242.81" y="69.74" width="7.2" height="7.2" fill="#eca200"/><rect x="248.88" y="69.74" width="7.2" height="7.2" fill="#eb9e00"/><rect x="254.95" y="69.74" width="7.2" height="7.2" fill="#eb9b00"/><rect x="42.50" y="63.68" width="7.2" height="7.2" fill="#e27a00"/><rect x="48.57" y="63.68" width="7.2" height="7.2" fill="#e27a00"/><rect x="54.64" y="63.68" width="7.2" height="7.2" fill="#e17800"/><rect x="60.71" y="63.68" width="7.2" height="7.2" fill="#df7300"/><rect x="66.78" y="63.68" width="7.2" height="7.2" fill="#dd6c00"/><rect x="72.85" y="63.68" width="7.2" height="7.2" fill="#db6500"/><rect x="78.92" y="63.68" width="7.2" height="7.2" fill="#d75c00"/><rect x="84.99" y="63.68" width="7.2" height="7.2" fill="#d35100"/><rect x="91.06" y="63.68" width="7.2" height="7.2" fill="#cd4400"/><rect x="97.13" y="63.68" width="7.2" height="7.2" fill="#c53700"/><rect x="103.20" y="63.68" width="7.2" height="7.2" fill="#be2c00"/><rect x="109.27" y="63.68" width="7.2" height="7.2" fill="#b92500"/><rect x="115.34" y="63.68" width="7.2" height="7.2" fill="#b52000"/><rect x="121.41" y="63.68" width="7.2" height="7.2" fill="#b31e0c"/><rect x="127.48" y="63.68" width="7.2" height="7.2" fill="#b21e14"/><rect x="133.55" y="63.68" width="7.2" height="7.2" fill="#b21d17"/><rect x="139.62" y="63.68" width="7.2" height="7.2" fill="#b21e12"/><rect x="145.69" y="63.68" width="7.2" height="7.2" fill="#b41f04"/><rect x="151.76" y="63.68" width="7.2" height="7.2" fill="#b72200"/><rect x="157.83" y="63.68" width="7.2" height="7.2" fill="#ba2700"/><rect x="163.90" y="63.68" width="7.2" height="7.2" fill="#bf2d00"/><rect x="169.97" y="63.68" width="7.2" height="7.2" fill="#c43500"/><rect x="176.04" y="63.68" width="7.2" height="7.2" fill="#c93c00"/><rect x="182.11" y="63.68" width="7.2" height="7.2" fill="#cf4900"/><rect x="188.18" y="63.68" width="7.2" height="7.2" fill="#d45400"/><rect x="194.25" y="63.68" width="7.2" height="7.2" fill="#d96100"/><rect x="200.32" y="63.68" width="7.2" height="7.2" fill="#df7300"/><rect x="206.39" y="63.68" width="7.2" height="7.2" fill="#e48100"/><rect x="212.46" y="63.68" width="7.2" height="7.2" fill="#e88f00"/><rect x="218.53" y="63.68" width="7.2" height="7.2" fill="#ea9a00"/><rect x="224.60" y="63.68" width="7.2" height="7.2" fill="#eca100"/><rect x="230.67" y="63.68" width="7.2" height="7.2" fill="#eda400"/><rect x="236.74" y="63.68" width="7.2" height="7.2" fill="#eda500"/><rect x="242.81" y="63.68" width="7.2" height="7.2" fill="#eca100"/><rect x="248.88" y="63.68" width="7.2" height="7.2" fill="#e99600"/><rect x="254.95" y="63.68" width="7.2" height="7.2" fill="#e78b00"/><rect x="42.50" y="57.62" width="7.2" height="7.2" fill="#e99300"/><rect x="48.57" y="57.62" width="7.2" height="7.2" fill="#e89000"/><rect x="54.64" y="57.62" width="7.2" height="7.2" fill="#e68800"/><rect x="60.71" y="57.62" width="7.2" height="7.2" fill="#e37e00"/><rect x="66.78" y="57.62" width="7.2" height="7.2" fill="#df7300"/><rect x="72.85" y="57.62" width="7.2" height="7.2" fill="#db6700"/><rect x="78.92" y="57.62" width="7.2" height="7.2" fill="#d75c00"/><rect x="84.99" y="57.62" width="7.2" height="7.2" fill="#d25000"/><rect x="91.06" y="57.62" width="7.2" height="7.2" fill="#cd4400"/><rect x="97.13" y="57.62" width="7.2" height="7.2" fill="#c63800"/><rect x="103.20" y="57.62" width="7.2" height="7.2" fill="#bf2d00"/><rect x="109.27" y="57.62" width="7.2" height="7.2" fill="#b92500"/><rect x="115.34" y="57.62" width="7.2" height="7.2" fill="#b52000"/><rect x="121.41" y="57.62" width="7.2" height="7.2" fill="#b31e0c"/><rect x="127.48" y="57.62" width="7.2" height="7.2" fill="#b31e0f"/><rect x="133.55" y="57.62" width="7.2" height="7.2" fill="#b31f0a"/><rect x="139.62" y="57.62" width="7.2" height="7.2" fill="#b42000"/><rect x="145.69" y="57.62" width="7.2" height="7.2" fill="#b72300"/><rect x="151.76" y="57.62" width="7.2" height="7.2" fill="#bb2700"/><rect x="157.83" y="57.62" width="7.2" height="7.2" fill="#c02e00"/><rect x="163.90" y="57.62" width="7.2" height="7.2" fill="#c53600"/><rect x="169.97" y="57.62" width="7.2" height="7.2" fill="#cb4000"/><rect x="176.04" y="57.62" width="7.2" height="7.2" fill="#cf4900"/><rect x="182.11" y="57.62" width="7.2" height="7.2" fill="#d55600"/><rect x="188.18" y="57.62" width="7.2" height="7.2" fill="#da6500"/><rect x="194.25" y="57.62" width="7.2" height="7.2" fill="#df7300"/><rect x="200.32" y="57.62" width="7.2" height="7.2" fill="#e58500"/><rect x="206.39" y="57.62" width="7.2" height="7.2" fill="#e89100"/><rect x="212.46" y="57.62" width="7.2" height="7.2" fill="#ea9800"/><rect x="218.53" y="57.62" width="7.2" height="7.2" fill="#eb9e00"/><rect x="224.60" y="57.62" width="7.2" height="7.2" fill="#eca100"/><rect x="230.67" y="57.62" width="7.2" height="7.2" fill="#eca200"/><rect x="236.74" y="57.62" width="7.2" height="7.2" fill="#eca100"/><rect x="242.81" y="57.62" width="7.2" height="7.2" fill="#eca200"/><rect x="248.88" y="57.62" width="7.2" height="7.2" fill="#e99300"/><rect x="254.95" y="57.62" width="7.2" height="7.2" fill="#e38000"/><rect x="42.50" y="51.56" width="7.2" height="7.2" fill="#efae00"/><rect x="48.57" y="51.56" width="7.2" height="7.2" fill="#eea700"/><rect x="54.64" y="51.56" width="7.2" height="7.2" fill="#ea9900"/><rect x="60.71" y="51.56" width="7.2" height="7.2" fill="#e68800"/><rect x="66.78" y="51.56" width="7.2" height="7.2" fill="#e17800"/><rect x="72.85" y="51.56" width="7.2" height="7.2" fill="#dc6900"/><rect x="78.92" y="51.56" width="7.2" height="7.2" fill="#d75b00"/><rect x="84.99" y="51.56" width="7.2" height="7.2" fill="#d24f00"/><rect x="91.06" y="51.56" width="7.2" height="7.2" fill="#cc4400"/><rect x="97.13" y="51.56" width="7.2" height="7.2" fill="#c63800"/><rect x="103.20" y="51.56" width="7.2" height="7.2" fill="#bf2d00"/><rect x="109.27" y="51.56" width="7.2" height="7.2" fill="#b92500"/><rect x="115.34" y="51.56" width="7.2" height="7.2" fill="#b42000"/><rect x="121.41" y="51.56" width="7.2" height="7.2" fill="#b31f0c"/><rect x="127.48" y="51.56" width="7.2" height="7.2" fill="#b31f0b"/><rect x="133.55" y="51.56" width="7.2" height="7.2" fill="#b42003"/><rect x="139.62" y="51.56" width="7.2" height="7.2" fill="#b62200"/><rect x="145.69" y="51.56" width="7.2" height="7.2" fill="#b92500"/><rect x="151.76" y="51.56" width="7.2" height="7.2" fill="#bd2b00"/><rect x="157.83" y="51.56" width="7.2" height="7.2" fill="#c33300"/><rect x="163.90" y="51.56" width="7.2" height="7.2" fill="#c83c00"/><rect x="169.97" y="51.56" width="7.2" height="7.2" fill="#cf4800"/><rect x="176.04" y="51.56" width="7.2" height="7.2" fill="#d45500"/><rect x="182.11" y="51.56" width="7.2" height="7.2" fill="#da6300"/><rect x="188.18" y="51.56" width="7.2" height="7.2" fill="#e07400"/><rect x="194.25" y="51.56" width="7.2" height="7.2" fill="#e58500"/><rect x="200.32" y="51.56" width="7.2" height="7.2" fill="#e89100"/><rect x="206.39" y="51.56" width="7.2" height="7.2" fill="#ea9900"/><rect x="212.46" y="51.56" width="7.2" height="7.2" fill="#eb9c00"/><rect x="218.53" y="51.56" width="7.2" height="7.2" fill="#eb9c00"/><rect x="224.60" y="51.56" width="7.2" height="7.2" fill="#eb9e00"/><rect x="230.67" y="51.56" width="7.2" height="7.2" fill="#eb9e00"/><rect x="236.74" y="51.56" width="7.2" height="7.2" fill="#e99600"/><rect x="242.81" y="51.56" width="7.2" height="7.2" fill="#e99300"/><rect x="248.88" y="51.56" width="7.2" height="7.2" fill="#e58600"/><rect x="254.95" y="51.56" width="7.2" height="7.2" fill="#df7300"/><rect x="42.50" y="45.50" width="7.2" height="7.2" fill="#f4c200"/><rect x="48.57" y="45.50" width="7.2" height="7.2" fill="#f2b900"/><rect x="54.64" y="45.50" width="7.2" height="7.2" fill="#eea700"/><rect x="60.71" y="45.50" width="7.2" height="7.2" fill="#e89000"/><rect x="66.78" y="45.50" width="7.2" height="7.2" fill="#e27a00"/><rect x="72.85" y="45.50" width="7.2" height="7.2" fill="#dc6900"/><rect x="78.92" y="45.50" width="7.2" height="7.2" fill="#d75b00"/><rect x="84.99" y="45.50" width="7.2" height="7.2" fill="#d14e00"/><rect x="91.06" y="45.50" width="7.2" height="7.2" fill="#cc4200"/><rect x="97.13" y="45.50" width="7.2" height="7.2" fill="#c53700"/><rect x="103.20" y="45.50" width="7.2" height="7.2" fill="#bf2c00"/><rect x="109.27" y="45.50" width="7.2" height="7.2" fill="#b82400"/><rect x="115.34" y="45.50" width="7.2" height="7.2" fill="#b42001"/><rect x="121.41" y="45.50" width="7.2" height="7.2" fill="#b31e0c"/><rect x="127.48" y="45.50" width="7.2" height="7.2" fill="#b31f08"/><rect x="133.55" y="45.50" width="7.2" height="7.2" fill="#b52000"/><rect x="139.62" y="45.50" width="7.2" height="7.2" fill="#b72300"/><rect x="145.69" y="45.50" width="7.2" height="7.2" fill="#ba2700"/><rect x="151.76" y="45.50" width="7.2" height="7.2" fill="#bf2d00"/><rect x="157.83" y="45.50" width="7.2" height="7.2" fill="#c43500"/><rect x="163.90" y="45.50" width="7.2" height="7.2" fill="#ca4000"/><rect x="169.97" y="45.50" width="7.2" height="7.2" fill="#d14e00"/><rect x="176.04" y="45.50" width="7.2" height="7.2" fill="#d85e00"/><rect x="182.11" y="45.50" width="7.2" height="7.2" fill="#de6e00"/><rect x="188.18" y="45.50" width="7.2" height="7.2" fill="#e37f00"/><rect x="194.25" y="45.50" width="7.2" height="7.2" fill="#e78e00"/><rect x="200.32" y="45.50" width="7.2" height="7.2" fill="#ea9800"/><rect x="206.39" y="45.50" width="7.2" height="7.2" fill="#eb9c00"/><rect x="212.46" y="45.50" width="7.2" height="7.2" fill="#eb9c00"/><rect x="218.53" y="45.50" width="7.2" height="7.2" fill="#ea9900"/><rect x="224.60" y="45.50" width="7.2" height="7.2" fill="#eb9a00"/><rect x="230.67" y="45.50" width="7.2" height="7.2" fill="#eb9b00"/><rect x="236.74" y="45.50" width="7.2" height="7.2" fill="#e78b00"/><rect x="242.81" y="45.50" width="7.2" height="7.2" fill="#e38000"/><rect x="248.88" y="45.50" width="7.2" height="7.2" fill="#df7300"/><rect x="254.95" y="45.50" width="7.2" height="7.2" fill="#dc6900"/></g><g fill="none" stroke-width="0.90" stroke-opacity="0.90" clip-path="url(#clipA)"><path d="M261.0,249.5 259.5,250.0 259.4,250.1 258.0,250.8 256.8,251.6 256.5,251.8 255.2,253.1 255.0,253.3 254.0,254.6 253.4,255.6 253.2,256.1 252.6,257.6 252.2,259.2 251.9,260.4 251.9,260.7 251.7,262.2 251.6,263.7" stroke="#009e73"/><path d="M42.5,54.9 44.0,54.8 45.5,54.6 45.8,54.6 47.1,54.3 48.6,53.9 50.1,53.3 50.6,53.1 51.6,52.5 52.9,51.6 53.1,51.4 54.4,50.0 54.6,49.7 55.5,48.5 56.2,47.2 56.2,47.0 56.7,45.5" stroke="#009e73"/><path d="M42.5,231.8 42.6,231.9 44.0,232.5 45.5,233.4 45.5,233.4 47.1,234.4 47.7,234.9 48.6,235.5 49.7,236.4 50.1,236.7 51.5,237.9 51.6,238.1 52.9,239.5 53.1,239.8 54.0,241.0 54.6,242.0 54.9,242.5 55.9,244.0 56.2,244.4 57.0,245.5 57.7,246.4 58.2,247.0 59.2,248.0 59.8,248.5 60.7,249.3 61.9,250.1 62.2,250.3 63.7,251.3 64.3,251.6 65.3,252.2 66.5,253.1 66.8,253.4 68.2,254.6 68.3,254.7 69.5,256.1 69.8,256.5 70.7,257.6 71.3,258.5 71.8,259.2 72.8,260.7 72.8,260.7 73.7,262.2 74.4,263.6 74.4,263.7" stroke="#56b4e9"/><path d="M115.3,263.7 115.3,262.2 115.2,260.7 115.0,259.2 114.6,257.6 114.2,256.1 113.8,255.2 113.6,254.6 112.7,253.1 112.3,252.4 111.8,251.6 110.8,250.3 110.6,250.1 109.3,248.5 109.3,248.5 107.9,247.0 107.8,246.9 106.4,245.5 106.2,245.3 104.9,244.0 104.7,243.8 103.2,242.5 103.2,242.4 101.7,241.1 101.5,241.0 100.2,239.9 99.6,239.5 98.6,238.7 97.8,237.9 97.1,237.4 96.1,236.4 95.6,236.0 94.5,234.9 94.1,234.5 93.0,233.4 92.6,233.0 91.5,231.9 91.1,231.4 90.0,230.4 89.5,230.0 88.4,228.8 88.0,228.5 86.7,227.3 86.5,227.2 85.0,225.8 85.0,225.8 83.5,224.4 83.4,224.3 82.0,222.9 81.9,222.8 80.4,221.3 80.4,221.3 79.1,219.8 78.9,219.6 77.7,218.2 77.4,217.9 76.3,216.7 75.9,216.3 74.8,215.2 74.4,214.8 73.3,213.7 72.8,213.3 71.7,212.2 71.3,211.8 70.2,210.7 69.8,210.2 68.9,209.2 68.3,208.5 67.6,207.6 66.8,206.7 66.3,206.1 65.3,204.8 65.1,204.6 63.8,203.1 63.7,203.0 62.4,201.6 62.2,201.4 60.9,200.1 60.7,199.9 59.4,198.5 59.2,198.4 57.7,197.0 57.7,197.0 56.2,195.7 55.9,195.5 54.6,194.5 53.8,194.0 53.1,193.6 51.6,192.8 51.0,192.5 50.1,192.1 48.6,191.7 47.1,191.3 45.5,191.1 44.0,191.0 42.5,191.0" stroke="#56b4e9"/><path d="M261.0,240.3 259.5,240.5 258.0,240.7 257.0,241.0 256.5,241.1 255.0,241.6 253.4,242.2 252.8,242.5 251.9,242.9 250.4,243.9 250.3,244.0 248.9,245.2 248.6,245.5 247.4,246.9 247.3,247.0 246.3,248.5 245.8,249.4 245.5,250.1 244.9,251.6 244.4,253.1 244.3,253.6 244.1,254.6 243.8,256.1 243.7,257.6 243.5,259.2 243.5,260.7 243.5,262.2 243.4,263.7" stroke="#56b4e9"/><path d="M195.0,45.5 195.5,47.0 195.8,47.8 196.1,48.5 196.9,50.0 197.3,50.7 197.8,51.6 198.8,52.9 199.0,53.1 200.3,54.6 200.3,54.7 201.7,56.1 201.8,56.3 203.2,57.6 203.4,57.8 204.7,59.1 204.9,59.3 206.3,60.7 206.4,60.7 207.9,62.0 208.1,62.2 209.4,63.2 210.0,63.7 210.9,64.5 211.8,65.2 212.5,65.8 213.5,66.7 214.0,67.1 215.1,68.2 215.5,68.6 216.6,69.7 217.0,70.2 218.1,71.3 218.5,71.7 219.6,72.8 220.0,73.2 221.2,74.3 221.6,74.6 222.9,75.8 223.1,76.0 224.6,77.3 224.6,77.3 226.1,78.7 226.2,78.8 227.6,80.3 227.7,80.4 229.1,81.9 229.2,81.9 230.5,83.4 230.7,83.6 231.9,84.9 232.2,85.2 233.3,86.4 233.7,86.8 234.8,87.9 235.2,88.4 236.3,89.4 236.7,89.8 237.9,91.0 238.3,91.4 239.4,92.5 239.8,92.9 240.7,94.0 241.3,94.7 242.0,95.5 242.8,96.5 243.3,97.0 244.3,98.3 244.5,98.5 245.8,100.0 245.8,100.1 247.2,101.6 247.4,101.7 248.7,103.1 248.9,103.3 250.2,104.6 250.4,104.8 251.9,106.1 251.9,106.2 253.4,107.5 253.6,107.6 255.0,108.6 255.8,109.1 256.5,109.6 258.0,110.4 258.7,110.7 259.5,111.0 261.0,111.4" stroke="#56b4e9"/><path d="M261.0,66.6 259.5,65.8 258.6,65.2 258.0,64.7 256.9,63.7 256.5,63.2 255.7,62.2 255.0,61.1 254.7,60.7 253.7,59.1 253.4,58.7 252.6,57.6 251.9,56.7 251.4,56.1 250.4,55.1 249.8,54.6 248.9,53.9 247.8,53.1 247.4,52.8 245.8,51.8 245.4,51.6 244.3,50.8 243.3,50.0 242.8,49.6 241.8,48.5 241.3,47.9 240.7,47.0 239.9,45.5" stroke="#56b4e9"/><path d="M42.5,63.1 44.0,63.0 45.5,63.0 47.1,63.0 48.6,62.8 50.1,62.7 51.6,62.4 52.6,62.2 53.1,62.0 54.6,61.6 56.2,61.0 56.8,60.7 57.7,60.2 59.2,59.2 59.3,59.1 60.7,57.9 61.0,57.6 62.2,56.2 62.3,56.1 63.3,54.6 63.7,53.7 64.1,53.1 64.7,51.6 65.1,50.0 65.3,49.5 65.5,48.5 65.7,47.0 65.9,45.5" stroke="#56b4e9"/><path d="M42.5,248.6 44.0,249.1 45.5,249.9 45.8,250.1 47.1,250.9 47.9,251.6 48.6,252.1 49.7,253.1 50.1,253.4 51.3,254.6 51.6,254.9 52.8,256.1 53.1,256.5 54.1,257.6 54.6,258.3 55.3,259.2 56.2,260.4 56.3,260.7 57.1,262.2 57.7,263.7" stroke="#e69f00"/><path d="M126.8,263.7 126.7,262.2 126.5,260.7 126.3,259.2 126.0,257.7 125.9,257.6 125.5,256.1 124.8,254.6 124.4,253.8 124.1,253.1 123.2,251.6 122.9,251.2 122.1,250.1 121.4,249.2 120.9,248.5 119.9,247.3 119.7,247.0 118.4,245.6 118.3,245.5 116.9,244.1 116.7,244.0 115.3,242.7 115.1,242.5 113.8,241.4 113.4,241.0 112.3,240.0 111.7,239.5 110.8,238.7 110.0,237.9 109.3,237.3 108.2,236.4 107.8,236.0 106.4,234.9 106.2,234.8 104.7,233.7 104.4,233.4 103.2,232.5 102.3,231.9 101.7,231.4 100.3,230.4 100.2,230.2 98.6,228.9 98.6,228.8 97.1,227.5 97.0,227.3 95.6,226.0 95.4,225.8 94.1,224.5 93.9,224.3 92.6,223.0 92.4,222.8 91.1,221.5 90.8,221.3 89.5,220.0 89.3,219.8 88.0,218.5 87.8,218.2 86.5,217.0 86.3,216.7 85.0,215.4 84.8,215.2 83.5,213.9 83.3,213.7 82.0,212.4 81.8,212.2 80.4,210.8 80.3,210.7 78.9,209.3 78.8,209.2 77.4,207.7 77.3,207.6 76.0,206.1 75.9,205.9 74.8,204.6 74.4,204.0 73.7,203.1 72.8,201.9 72.6,201.6 71.4,200.1 71.3,199.9 70.2,198.5 69.8,198.1 68.9,197.0 68.3,196.3 67.5,195.5 66.8,194.6 66.2,194.0 65.3,192.9 64.8,192.5 63.7,191.2 63.5,191.0 62.2,189.6 62.1,189.5 60.7,188.0 60.6,187.9 59.2,186.6 58.9,186.4 57.7,185.4 57.1,184.9 56.2,184.2 55.0,183.4 54.6,183.2 53.1,182.2 52.4,181.9 51.6,181.5 50.1,180.9 48.6,180.4 48.5,180.4 47.1,180.0 45.5,179.8 44.0,179.6 42.5,179.5" stroke="#e69f00"/><path d="M261.0,231.3 259.5,231.3 258.0,231.3 256.5,231.4 255.0,231.4 253.4,231.6 251.9,231.7 250.5,231.9 250.4,231.9 248.9,232.1 247.4,232.4 245.8,232.8 244.3,233.4 244.2,233.4 242.8,234.0 241.3,234.9 241.3,234.9 239.8,236.2 239.5,236.4 238.3,237.9 238.3,238.0 237.4,239.5 236.7,240.9 236.7,241.0 236.2,242.5 235.8,244.0 235.5,245.5 235.2,247.0 235.2,247.2 235.1,248.5 234.9,250.1 234.8,251.6 234.7,253.1 234.7,254.6 234.7,256.1 234.8,257.6 234.8,259.2 234.9,260.7 235.0,262.2 235.0,263.7" stroke="#e69f00"/><path d="M183.8,45.5 184.2,47.0 184.8,48.5 185.1,49.2 185.5,50.0 186.4,51.6 186.7,51.9 187.5,53.1 188.2,54.0 188.6,54.6 189.7,55.8 189.9,56.1 191.2,57.5 191.3,57.6 192.7,59.0 192.9,59.1 194.2,60.4 194.5,60.7 195.8,61.7 196.2,62.2 197.3,63.1 197.9,63.7 198.8,64.5 199.6,65.2 200.3,65.8 201.4,66.7 201.8,67.1 203.2,68.2 203.4,68.3 204.9,69.5 205.2,69.7 206.4,70.6 207.3,71.3 207.9,71.7 209.2,72.8 209.4,72.9 210.9,74.2 211.0,74.3 212.5,75.7 212.6,75.8 214.0,77.2 214.1,77.3 215.5,78.7 215.7,78.8 217.0,80.2 217.2,80.4 218.5,81.7 218.8,81.9 220.0,83.1 220.3,83.4 221.6,84.6 221.8,84.9 223.1,86.2 223.3,86.4 224.6,87.7 224.8,87.9 226.1,89.3 226.3,89.4 227.6,90.8 227.8,91.0 229.2,92.3 229.3,92.5 230.7,93.8 230.8,94.0 232.2,95.4 232.3,95.5 233.6,97.0 233.7,97.2 234.8,98.5 235.2,99.2 235.9,100.0 236.7,101.2 237.0,101.6 238.2,103.1 238.3,103.2 239.4,104.6 239.8,105.1 240.7,106.1 241.3,106.8 242.0,107.6 242.8,108.5 243.4,109.1 244.3,110.2 244.8,110.7 245.8,111.9 246.1,112.2 247.4,113.6 247.5,113.7 248.9,115.1 249.0,115.2 250.4,116.5 250.7,116.7 251.9,117.8 252.5,118.2 253.4,118.9 254.6,119.7 255.0,120.0 256.5,120.9 257.3,121.3 258.0,121.6 259.5,122.2 261.0,122.6" stroke="#e69f00"/><path d="M42.5,71.4 44.0,71.5 45.5,71.6 47.1,71.7 48.6,71.7 50.1,71.8 51.6,71.8 53.1,71.7 54.6,71.7 56.2,71.6 57.7,71.4 59.1,71.3 59.2,71.2 60.7,71.0 62.2,70.7 63.7,70.3 65.3,69.8 65.4,69.7 66.8,69.1 68.3,68.2 68.3,68.2 69.8,67.0 70.1,66.7 71.3,65.2 71.3,65.2 72.2,63.7 72.8,62.3 72.9,62.2 73.4,60.7 73.8,59.1 74.1,57.6 74.4,56.1 74.4,56.0 74.5,54.6 74.7,53.1 74.8,51.6 74.9,50.0 74.9,48.5 74.9,47.0 75.0,45.5" stroke="#e69f00"/><path d="M261.0,50.5 260.4,50.0 259.5,49.4 258.6,48.5 258.0,47.9 257.2,47.0 256.5,46.1 256.1,45.5" stroke="#e69f00"/><path d="M135.6,263.7 135.5,262.2 135.4,260.7 135.2,259.2 135.1,258.2 135.0,257.6 134.7,256.1 134.2,254.6 133.7,253.1 133.6,252.8 133.0,251.6 132.2,250.1 132.0,249.8 131.2,248.5 130.5,247.7 130.0,247.0 129.0,246.0 128.6,245.5 127.5,244.4 127.1,244.0 126.0,242.9 125.6,242.5 124.4,241.4 124.0,241.0 122.9,240.0 122.4,239.5 121.4,238.6 120.5,237.9 119.9,237.5 118.5,236.4 118.4,236.4 116.9,235.3 116.4,234.9 115.3,234.2 114.3,233.4 113.8,233.0 112.4,231.9 112.3,231.8 110.8,230.6 110.5,230.4 109.3,229.4 108.6,228.8 107.8,228.2 106.5,227.3 106.2,227.1 104.7,226.0 104.4,225.8 103.2,224.9 102.5,224.3 101.7,223.6 100.7,222.8 100.2,222.2 99.2,221.3 98.6,220.7 97.8,219.8 97.1,219.0 96.4,218.2 95.6,217.3 95.1,216.7 94.1,215.6 93.7,215.2 92.6,214.0 92.2,213.7 91.1,212.6 90.6,212.2 89.5,211.2 89.0,210.7 88.0,209.9 87.2,209.2 86.5,208.5 85.6,207.6 85.0,207.1 84.0,206.1 83.5,205.5 82.6,204.6 82.0,203.8 81.4,203.1 80.4,201.9 80.2,201.6 79.1,200.1 78.9,199.8 78.0,198.5 77.4,197.7 76.9,197.0 75.9,195.8 75.7,195.5 74.4,194.0 74.4,193.9 73.2,192.5 72.8,192.0 72.1,191.0 71.3,190.0 71.0,189.5 69.9,187.9 69.8,187.8 68.8,186.4 68.3,185.8 67.6,184.9 66.8,183.9 66.3,183.4 65.3,182.3 64.9,181.9 63.7,180.7 63.4,180.4 62.2,179.2 61.8,178.8 60.7,177.7 60.3,177.3 59.2,176.4 58.5,175.8 57.7,175.2 56.4,174.3 56.2,174.1 54.6,173.3 53.5,172.8 53.1,172.6 51.6,172.1 50.1,171.7 48.6,171.4 48.0,171.3 47.1,171.1 45.5,170.9 44.0,170.8 42.5,170.7" stroke="#f0e442"/><path d="M261.0,220.8 259.5,220.7 258.0,220.6 256.5,220.5 255.0,220.4 253.4,220.3 251.9,220.2 250.4,220.2 248.9,220.1 247.4,220.0 245.8,219.9 244.3,219.9 242.8,219.8 241.8,219.8 241.3,219.7 239.8,219.7 238.3,219.6 236.7,219.6 235.2,219.7 233.7,219.7 233.6,219.8 232.2,219.9 230.7,220.2 229.2,220.7 227.8,221.3 227.6,221.4 226.1,222.5 225.8,222.8 224.7,224.3 224.6,224.5 224.0,225.8 223.5,227.3 223.2,228.8 223.1,230.2 223.1,230.4 223.0,231.9 223.0,233.4 223.0,234.9 223.0,236.4 223.1,237.9 223.1,238.5 223.1,239.5 223.2,241.0 223.3,242.5 223.3,244.0 223.4,245.5 223.5,247.0 223.6,248.5 223.7,250.1 223.8,251.6 223.9,253.1 224.0,254.6 224.2,256.1 224.3,257.6 224.5,259.2 224.6,260.4 224.6,260.7 224.8,262.2 224.9,263.7" stroke="#f0e442"/><path d="M174.8,45.5 175.0,47.0 175.4,48.5 175.9,50.0 176.0,50.3 176.6,51.6 177.4,53.1 177.6,53.3 178.4,54.6 179.1,55.4 179.6,56.1 180.6,57.2 181.0,57.6 182.1,58.7 182.5,59.1 183.6,60.3 184.0,60.7 185.1,61.8 185.6,62.2 186.7,63.2 187.2,63.7 188.2,64.5 189.1,65.2 189.7,65.7 191.1,66.7 191.2,66.8 192.7,67.9 193.2,68.2 194.2,69.0 195.3,69.7 195.8,70.1 197.2,71.3 197.3,71.3 198.8,72.6 199.1,72.8 200.3,73.8 201.0,74.3 201.8,74.9 203.1,75.8 203.4,76.0 204.9,77.1 205.2,77.3 206.4,78.3 207.1,78.8 207.9,79.5 208.8,80.4 209.4,80.9 210.4,81.9 210.9,82.4 211.8,83.4 212.5,84.1 213.2,84.9 214.0,85.8 214.5,86.4 215.5,87.5 215.9,87.9 217.0,89.1 217.4,89.4 218.5,90.6 218.9,91.0 220.0,91.9 220.6,92.5 221.6,93.3 222.4,94.0 223.1,94.6 224.0,95.5 224.6,96.1 225.6,97.0 226.1,97.6 227.0,98.5 227.6,99.3 228.2,100.0 229.2,101.3 229.4,101.6 230.5,103.1 230.7,103.4 231.6,104.6 232.2,105.4 232.7,106.1 233.7,107.4 233.9,107.6 235.2,109.1 235.2,109.2 236.4,110.7 236.7,111.1 237.5,112.2 238.3,113.2 238.6,113.7 239.7,115.2 239.8,115.3 240.8,116.7 241.3,117.4 242.0,118.2 242.8,119.2 243.3,119.7 244.3,120.8 244.7,121.3 245.8,122.4 246.2,122.8 247.4,123.9 247.8,124.3 248.9,125.4 249.3,125.8 250.4,126.8 251.1,127.3 251.9,128.0 253.2,128.8 253.4,129.0 255.0,129.8 256.2,130.4 256.5,130.5 258.0,131.0 259.5,131.4 261.0,131.6" stroke="#f0e442"/><path d="M42.5,81.6 44.0,81.7 45.5,81.8 45.8,81.9 47.1,82.0 48.6,82.2 50.1,82.3 51.6,82.5 53.1,82.6 54.6,82.7 56.2,82.8 57.7,82.9 59.2,83.0 60.7,83.0 62.2,83.1 63.7,83.2 65.3,83.3 66.8,83.3 67.8,83.4 68.3,83.4 69.8,83.5 71.3,83.5 72.8,83.5 74.4,83.5 75.9,83.4 76.0,83.4 77.4,83.2 78.9,82.9 80.4,82.5 81.8,81.9 82.0,81.8 83.5,80.6 83.7,80.4 84.9,78.8 85.0,78.7 85.6,77.3 86.0,75.8 86.3,74.3 86.5,72.9 86.5,72.8 86.6,71.3 86.6,69.7 86.6,68.2 86.6,66.7 86.5,65.2 86.5,64.7 86.5,63.7 86.4,62.2 86.3,60.7 86.2,59.1 86.2,57.6 86.1,56.1 86.0,54.6 85.9,53.1 85.8,51.6 85.7,50.0 85.6,48.5 85.6,47.0 85.5,45.5" stroke="#f0e442"/><path d="M144.7,263.7 144.6,262.2 144.4,260.7 144.3,259.2 144.2,258.5 144.0,257.6 143.8,256.1 143.5,254.6 143.1,253.1 142.7,251.8 142.6,251.6 142.0,250.1 141.4,248.5 141.1,248.1 140.6,247.0 139.7,245.5 139.6,245.5 138.6,244.0 138.1,243.5 137.2,242.5 136.6,241.9 135.5,241.0 135.1,240.6 133.6,239.5 133.5,239.5 132.0,238.4 131.4,237.9 130.5,237.3 129.3,236.4 129.0,236.2 127.5,235.1 127.2,234.9 126.0,234.0 125.1,233.4 124.4,232.9 122.9,231.9 122.9,231.9 121.4,230.9 120.5,230.4 119.9,230.0 118.4,229.0 118.2,228.8 116.9,227.9 116.1,227.3 115.3,226.8 114.2,225.8 113.8,225.5 112.3,224.3 112.3,224.3 110.8,223.1 110.4,222.8 109.3,222.0 108.4,221.3 107.8,220.8 106.4,219.8 106.2,219.6 104.7,218.3 104.6,218.2 103.2,216.8 103.1,216.7 101.7,215.2 101.7,215.2 100.4,213.7 100.2,213.4 99.1,212.2 98.6,211.7 97.7,210.7 97.1,210.0 96.2,209.2 95.6,208.6 94.6,207.6 94.1,207.2 92.9,206.1 92.6,205.9 91.1,204.6 91.1,204.6 89.5,203.2 89.4,203.1 88.0,201.7 88.0,201.6 86.6,200.1 86.5,199.9 85.5,198.5 85.0,197.9 84.3,197.0 83.5,195.9 83.1,195.5 82.0,194.0 81.9,194.0 80.7,192.5 80.4,192.1 79.5,191.0 78.9,190.2 78.3,189.5 77.4,188.1 77.3,187.9 76.3,186.4 75.9,185.8 75.3,184.9 74.4,183.4 74.3,183.4 73.3,181.9 72.8,181.2 72.2,180.4 71.3,179.1 71.1,178.8 70.0,177.3 69.8,177.1 68.9,175.8 68.3,174.9 67.8,174.3 66.8,172.8 66.8,172.8 65.6,171.3 65.3,170.8 64.3,169.8 63.7,169.1 62.7,168.2 62.2,167.8 60.8,166.7 60.7,166.7 59.2,165.8 58.1,165.2 57.7,165.0 56.2,164.3 54.6,163.8 54.4,163.7 53.1,163.3 51.6,162.9 50.1,162.6 48.6,162.3 47.7,162.2 47.1,162.1 45.5,161.9 44.0,161.8 42.5,161.6" stroke="#0072b2"/><path d="M261.0,210.3 259.5,210.2 258.0,210.1 256.5,210.0 255.0,209.8 253.4,209.7 251.9,209.6 250.4,209.6 248.9,209.5 247.4,209.5 245.8,209.5 244.3,209.5 242.8,209.6 241.3,209.6 239.8,209.6 238.3,209.6 236.7,209.6 235.2,209.6 233.7,209.7 232.2,209.8 230.7,209.9 229.2,210.2 227.6,210.5 227.1,210.7 226.1,211.0 224.6,211.5 223.2,212.2 223.1,212.2 221.6,213.1 220.7,213.7 220.0,214.2 218.9,215.2 218.5,215.6 217.5,216.7 217.0,217.4 216.4,218.2 215.5,219.8 215.5,219.8 214.8,221.3 214.3,222.8 214.0,223.8 213.8,224.3 213.5,225.8 213.2,227.3 213.1,228.8 213.0,230.4 212.9,231.9 212.9,233.4 212.9,234.9 212.9,236.4 212.9,237.9 212.9,239.5 212.9,241.0 212.8,242.5 212.8,244.0 212.9,245.5 212.9,247.0 212.9,248.5 213.0,250.1 213.2,251.6 213.3,253.1 213.5,254.6 213.6,256.1 213.8,257.6 214.0,259.1 214.0,259.2 214.1,260.7 214.3,262.2 214.4,263.7" stroke="#0072b2"/><path d="M165.7,45.5 165.9,47.0 166.2,48.5 166.6,50.0 166.9,51.3 167.0,51.6 167.6,53.1 168.2,54.6 168.5,55.0 169.0,56.1 169.9,57.6 170.0,57.7 171.0,59.1 171.5,59.7 172.4,60.7 173.0,61.2 174.1,62.2 174.5,62.5 176.0,63.7 176.1,63.7 177.6,64.7 178.2,65.2 179.1,65.8 180.3,66.7 180.6,66.9 182.1,68.0 182.4,68.2 183.6,69.1 184.5,69.7 185.1,70.2 186.7,71.2 186.7,71.3 188.2,72.2 189.1,72.8 189.7,73.2 191.2,74.2 191.4,74.3 192.7,75.2 193.5,75.8 194.2,76.4 195.4,77.3 195.8,77.6 197.3,78.8 197.3,78.8 198.8,80.0 199.2,80.4 200.3,81.2 201.2,81.9 201.8,82.3 203.2,83.4 203.4,83.5 204.9,84.8 205.0,84.9 206.4,86.3 206.5,86.4 207.9,87.9 207.9,88.0 209.2,89.4 209.4,89.7 210.5,91.0 210.9,91.5 211.9,92.5 212.5,93.1 213.4,94.0 214.0,94.6 215.0,95.5 215.5,96.0 216.7,97.0 217.0,97.3 218.5,98.5 218.5,98.6 220.0,99.9 220.2,100.0 221.6,101.5 221.6,101.6 222.9,103.1 223.1,103.3 224.1,104.6 224.6,105.2 225.3,106.1 226.1,107.2 226.4,107.6 227.6,109.1 227.6,109.1 228.9,110.7 229.2,111.0 230.1,112.2 230.7,112.9 231.2,113.7 232.2,115.0 232.3,115.2 233.3,116.7 233.7,117.3 234.3,118.2 235.2,119.7 235.2,119.7 236.3,121.3 236.7,121.9 237.4,122.8 238.3,124.0 238.5,124.3 239.6,125.8 239.8,126.1 240.7,127.3 241.3,128.2 241.8,128.8 242.8,130.3 242.8,130.4 244.0,131.9 244.3,132.3 245.3,133.4 245.8,134.0 246.8,134.9 247.4,135.4 248.8,136.4 248.9,136.5 250.4,137.4 251.5,137.9 251.9,138.2 253.4,138.8 255.0,139.4 255.2,139.4 256.5,139.8 258.0,140.2 259.5,140.5 261.0,140.7" stroke="#0072b2"/><path d="M42.5,92.1 44.0,92.2 45.5,92.3 47.1,92.5 47.1,92.5 48.6,92.6 50.1,92.8 51.6,93.0 53.1,93.1 54.6,93.3 56.2,93.4 57.7,93.5 59.2,93.6 60.7,93.6 62.2,93.6 63.7,93.6 65.3,93.6 66.8,93.6 68.3,93.6 69.8,93.6 71.3,93.6 72.8,93.5 74.4,93.5 75.9,93.5 77.4,93.4 78.9,93.2 80.4,93.0 82.0,92.6 82.5,92.5 83.5,92.2 85.0,91.6 86.4,91.0 86.5,90.9 88.0,90.0 88.9,89.4 89.5,88.9 90.7,87.9 91.1,87.6 92.1,86.4 92.6,85.8 93.2,84.9 94.1,83.4 94.1,83.3 94.8,81.9 95.3,80.4 95.6,79.4 95.8,78.8 96.1,77.3 96.4,75.8 96.5,74.3 96.6,72.8 96.7,71.3 96.7,69.7 96.7,68.2 96.7,66.7 96.7,65.2 96.7,63.7 96.7,62.2 96.7,60.7 96.7,59.1 96.7,57.6 96.7,56.1 96.6,54.6 96.6,53.1 96.4,51.6 96.3,50.0 96.2,48.5 96.1,47.0 96.0,45.5" stroke="#0072b2"/><path d="M156.1,263.7 156.0,262.2 155.8,260.7 155.5,259.2 155.2,257.6 154.9,256.1 154.8,255.7 154.5,254.6 154.1,253.1 153.7,251.6 153.3,250.4 153.2,250.1 152.5,248.5 151.8,247.0 151.8,246.9 151.0,245.5 150.2,244.4 150.0,244.0 148.8,242.5 148.7,242.4 147.5,241.0 147.2,240.7 145.8,239.5 145.7,239.4 144.2,238.2 143.9,237.9 142.7,237.1 141.6,236.4 141.1,236.2 139.6,235.3 139.0,234.9 138.1,234.5 136.6,233.7 136.1,233.4 135.1,232.9 133.6,232.0 133.3,231.9 132.0,231.2 130.6,230.4 130.5,230.3 129.0,229.4 128.2,228.8 127.5,228.4 126.0,227.4 125.8,227.3 124.4,226.5 123.4,225.8 122.9,225.5 121.4,224.5 121.1,224.3 119.9,223.4 119.0,222.8 118.4,222.3 117.1,221.3 116.9,221.1 115.3,219.9 115.2,219.8 113.8,218.6 113.4,218.2 112.3,217.4 111.5,216.7 110.8,216.1 109.7,215.2 109.3,214.8 108.1,213.7 107.8,213.4 106.6,212.2 106.2,211.8 105.1,210.7 104.7,210.2 103.7,209.2 103.2,208.6 102.3,207.6 101.7,207.0 100.8,206.1 100.2,205.5 99.3,204.6 98.6,204.0 97.7,203.1 97.1,202.6 96.1,201.6 95.6,201.1 94.4,200.1 94.1,199.7 92.9,198.5 92.6,198.2 91.5,197.0 91.1,196.6 90.1,195.5 89.5,194.8 88.9,194.0 88.0,192.9 87.6,192.5 86.5,191.1 86.4,191.0 85.2,189.5 85.0,189.2 84.0,187.9 83.5,187.3 82.8,186.4 82.0,185.2 81.8,184.9 80.8,183.4 80.4,182.9 79.8,181.9 78.9,180.5 78.8,180.4 77.8,178.8 77.4,178.2 76.9,177.3 75.9,175.8 75.9,175.7 75.0,174.3 74.4,173.1 74.2,172.8 73.4,171.3 72.8,170.2 72.6,169.8 71.8,168.2 71.3,167.4 71.0,166.7 70.1,165.2 69.8,164.7 69.1,163.7 68.3,162.5 68.1,162.2 66.9,160.7 66.8,160.5 65.5,159.1 65.3,158.9 63.9,157.6 63.7,157.5 62.2,156.3 61.9,156.1 60.7,155.4 59.3,154.6 59.2,154.5 57.7,153.8 56.2,153.2 55.8,153.1 54.6,152.7 53.1,152.2 51.6,151.8 50.5,151.6 50.1,151.5 48.6,151.1 47.1,150.9 45.5,150.6 44.0,150.4 42.5,150.2" stroke="#e51e10"/><path d="M261.0,200.7 259.5,200.6 258.0,200.5 256.5,200.5 255.0,200.4 253.4,200.3 251.9,200.3 250.4,200.2 248.9,200.2 247.4,200.3 245.8,200.3 244.3,200.3 242.8,200.4 241.3,200.5 239.8,200.5 238.3,200.5 236.7,200.6 235.2,200.6 233.7,200.6 232.2,200.6 230.7,200.6 229.2,200.8 227.6,201.0 226.1,201.3 225.2,201.6 224.6,201.7 223.1,202.3 221.6,202.9 221.2,203.1 220.0,203.7 218.5,204.6 218.5,204.6 217.0,205.6 216.2,206.1 215.5,206.7 214.3,207.6 214.0,207.9 212.7,209.2 212.5,209.4 211.2,210.7 210.9,211.0 210.0,212.2 209.4,212.9 208.9,213.7 207.9,215.2 207.9,215.2 207.0,216.7 206.4,217.9 206.2,218.2 205.6,219.8 205.0,221.3 204.9,221.8 204.6,222.8 204.3,224.3 204.1,225.8 203.9,227.3 203.9,228.8 203.9,230.4 203.9,231.9 203.9,233.4 203.8,234.9 203.8,236.4 203.8,237.9 203.7,239.5 203.6,241.0 203.6,242.5 203.6,244.0 203.5,245.5 203.5,247.0 203.6,248.5 203.6,250.1 203.7,251.6 203.8,253.1 203.9,254.6 204.0,256.1 204.1,257.6 204.2,259.2 204.3,260.7 204.4,262.2 204.5,263.7" stroke="#e51e10"/><path d="M154.6,45.5 154.8,46.7 154.8,47.0 155.1,48.5 155.5,50.0 155.9,51.6 156.3,52.7 156.4,53.1 157.0,54.6 157.8,56.1 157.8,56.2 158.6,57.6 159.3,58.8 159.6,59.1 160.7,60.7 160.9,60.8 162.1,62.2 162.4,62.4 163.8,63.7 163.9,63.8 165.4,65.0 165.7,65.2 166.9,66.0 168.0,66.7 168.5,67.0 170.0,67.9 170.6,68.2 171.5,68.7 173.0,69.5 173.5,69.7 174.5,70.3 176.0,71.1 176.3,71.3 177.6,71.9 179.0,72.8 179.1,72.8 180.6,73.8 181.4,74.3 182.1,74.7 183.6,75.7 183.8,75.8 185.1,76.7 186.2,77.3 186.7,77.6 188.2,78.6 188.5,78.8 189.7,79.7 190.6,80.4 191.2,80.8 192.5,81.9 192.7,82.0 194.2,83.3 194.4,83.4 195.8,84.5 196.2,84.9 197.3,85.8 198.1,86.4 198.8,87.0 199.9,87.9 200.3,88.3 201.5,89.4 201.8,89.8 203.0,91.0 203.4,91.3 204.4,92.5 204.9,92.9 205.9,94.0 206.4,94.6 207.3,95.5 207.9,96.1 208.8,97.0 209.4,97.7 210.3,98.5 210.9,99.1 211.9,100.0 212.5,100.6 213.5,101.6 214.0,102.0 215.1,103.1 215.5,103.4 216.7,104.6 217.0,104.9 218.1,106.1 218.5,106.6 219.4,107.6 220.0,108.3 220.7,109.1 221.6,110.2 221.9,110.7 223.1,112.0 223.2,112.2 224.4,113.7 224.6,113.9 225.6,115.2 226.1,115.9 226.8,116.7 227.6,118.0 227.8,118.2 228.8,119.7 229.2,120.2 229.8,121.3 230.7,122.6 230.8,122.8 231.8,124.3 232.2,125.0 232.7,125.8 233.6,127.3 233.7,127.4 234.5,128.8 235.2,130.1 235.4,130.4 236.2,131.9 236.7,132.9 237.0,133.4 237.8,134.9 238.3,135.8 238.6,136.4 239.5,137.9 239.8,138.4 240.5,139.4 241.3,140.7 241.5,141.0 242.7,142.5 242.8,142.6 244.1,144.0 244.3,144.3 245.7,145.5 245.8,145.6 247.4,146.8 247.7,147.0 248.9,147.8 250.3,148.5 250.4,148.6 251.9,149.3 253.4,149.9 253.8,150.1 255.0,150.4 256.5,150.9 258.0,151.2 259.5,151.5 259.8,151.6 261.0,151.7" stroke="#e51e10"/><path d="M42.5,102.0 44.0,102.0 45.5,102.1 47.1,102.2 48.6,102.3 50.1,102.4 51.6,102.6 53.1,102.7 54.6,102.8 56.2,102.8 57.7,102.9 59.2,102.9 60.7,102.9 62.2,102.9 63.7,102.8 65.3,102.8 66.8,102.7 68.3,102.7 69.8,102.6 71.3,102.6 72.8,102.6 74.4,102.6 75.9,102.6 77.4,102.6 78.9,102.5 80.4,102.4 82.0,102.2 83.5,101.8 84.4,101.6 85.0,101.4 86.5,100.9 88.0,100.2 88.3,100.0 89.5,99.5 91.1,98.6 91.1,98.5 92.6,97.6 93.4,97.0 94.1,96.5 95.3,95.5 95.6,95.2 96.9,94.0 97.1,93.8 98.3,92.5 98.6,92.1 99.6,91.0 100.2,90.2 100.7,89.4 101.7,88.0 101.7,87.9 102.6,86.4 103.2,85.2 103.4,84.9 104.0,83.4 104.6,81.9 104.7,81.3 105.0,80.4 105.3,78.8 105.5,77.3 105.7,75.8 105.7,74.3 105.7,72.8 105.7,71.3 105.7,69.7 105.8,68.2 105.8,66.7 105.8,65.2 105.9,63.7 105.9,62.2 106.0,60.7 106.0,59.1 106.1,57.6 106.1,56.1 106.0,54.6 106.0,53.1 105.9,51.6 105.8,50.0 105.7,48.5 105.7,47.0 105.6,45.5" stroke="#e51e10"/><path d="M176.4,263.7 176.2,262.2 176.0,261.0 176.0,260.7 175.8,259.2 175.5,257.6 175.2,256.1 174.7,254.6 174.5,254.0 174.2,253.1 173.7,251.6 173.0,250.2 173.0,250.1 172.2,248.5 171.5,247.3 171.3,247.0 170.3,245.5 170.0,245.1 169.1,244.0 168.5,243.3 167.7,242.5 166.9,241.8 166.1,241.0 165.4,240.5 164.1,239.5 163.9,239.3 162.4,238.3 161.8,237.9 160.9,237.4 159.3,236.5 159.2,236.4 157.8,235.8 156.3,235.0 156.1,234.9 154.8,234.4 153.3,233.7 152.4,233.4 151.8,233.2 150.2,232.6 148.7,232.1 148.1,231.9 147.2,231.6 145.7,231.1 144.2,230.5 143.8,230.4 142.7,230.0 141.1,229.4 139.8,228.8 139.6,228.8 138.1,228.1 136.6,227.4 136.4,227.3 135.1,226.7 133.6,225.9 133.4,225.8 132.0,225.1 130.7,224.3 130.5,224.2 129.0,223.3 128.2,222.8 127.5,222.3 126.0,221.3 125.9,221.3 124.4,220.3 123.7,219.8 122.9,219.2 121.6,218.2 121.4,218.1 119.9,217.0 119.6,216.7 118.4,215.8 117.7,215.2 116.9,214.5 115.9,213.7 115.3,213.2 114.1,212.2 113.8,211.9 112.5,210.7 112.3,210.5 110.9,209.2 110.8,209.1 109.4,207.6 109.3,207.5 107.9,206.1 107.8,206.0 106.4,204.6 106.2,204.5 104.8,203.1 104.7,203.0 103.3,201.6 103.2,201.4 101.8,200.1 101.7,199.9 100.3,198.5 100.2,198.4 98.7,197.0 98.6,196.9 97.2,195.5 97.1,195.4 95.8,194.0 95.6,193.8 94.4,192.5 94.1,192.2 93.0,191.0 92.6,190.4 91.8,189.5 91.1,188.6 90.5,187.9 89.5,186.7 89.3,186.4 88.1,184.9 88.0,184.8 87.0,183.4 86.5,182.6 86.0,181.9 85.0,180.4 85.0,180.4 84.0,178.8 83.5,178.1 83.0,177.3 82.1,175.8 82.0,175.6 81.2,174.3 80.4,173.0 80.3,172.8 79.5,171.3 78.9,170.0 78.8,169.8 78.1,168.2 77.5,166.7 77.4,166.5 76.9,165.2 76.3,163.7 75.9,162.6 75.7,162.2 75.2,160.7 74.7,159.1 74.4,158.2 74.2,157.6 73.6,156.1 73.1,154.6 72.8,153.9 72.5,153.1 71.9,151.6 71.3,150.3 71.2,150.1 70.5,148.5 69.8,147.2 69.7,147.0 68.8,145.5 68.3,144.5 67.9,144.0 66.9,142.5 66.8,142.3 65.8,141.0 65.3,140.3 64.4,139.4 63.7,138.7 62.9,137.9 62.2,137.3 61.1,136.4 60.7,136.1 59.2,135.1 58.9,134.9 57.7,134.2 56.2,133.4 56.1,133.4 54.6,132.7 53.1,132.2 52.2,131.9 51.6,131.7 50.1,131.2 48.6,130.9 47.1,130.6 45.5,130.4 45.2,130.4 44.0,130.2 42.5,130.0" stroke="#000000"/><path d="M261.0,186.9 259.5,186.9 258.0,186.8 256.5,186.7 255.0,186.6 253.4,186.5 253.0,186.4 251.9,186.3 250.4,186.2 248.9,186.2 247.4,186.1 245.8,186.1 244.3,186.1 242.8,186.0 241.3,185.8 239.8,185.6 238.3,185.3 236.7,185.0 236.5,184.9 235.2,184.7 233.7,184.4 232.2,184.4 230.7,184.5 229.2,184.8 228.7,184.9 227.6,185.2 226.1,185.8 224.9,186.4 224.6,186.6 223.1,187.5 222.4,187.9 221.6,188.5 220.2,189.5 220.0,189.5 218.5,190.6 218.1,191.0 217.0,191.8 216.1,192.5 215.5,193.0 214.2,194.0 214.0,194.2 212.5,195.4 212.3,195.5 210.9,196.7 210.6,197.0 209.4,198.1 208.9,198.5 207.9,199.5 207.3,200.1 206.4,201.0 205.8,201.6 204.9,202.5 204.3,203.1 203.4,204.0 202.8,204.6 201.8,205.6 201.4,206.1 200.3,207.3 200.0,207.6 198.8,209.0 198.7,209.2 197.4,210.7 197.3,210.9 196.3,212.2 195.8,212.8 195.1,213.7 194.2,214.8 193.9,215.2 192.8,216.7 192.7,216.8 191.7,218.2 191.2,219.1 190.7,219.8 189.9,221.3 189.7,221.6 189.1,222.8 188.5,224.3 188.2,225.4 188.0,225.8 187.8,227.3 187.6,228.8 187.7,230.4 187.9,231.9 188.2,233.1 188.2,233.4 188.6,234.9 188.8,236.4 189.1,237.9 189.2,239.5 189.3,241.0 189.4,242.5 189.4,244.0 189.4,245.5 189.5,247.0 189.6,248.5 189.7,249.6 189.7,250.1 189.8,251.6 190.0,253.1 190.1,254.6 190.1,256.1 190.1,257.6 190.1,259.2 190.0,260.7 189.9,262.2 189.8,263.7" stroke="#000000"/><path d="M134.3,45.5 134.5,47.0 134.9,48.5 135.1,49.0 135.4,50.0 135.9,51.6 136.6,53.0 136.6,53.1 137.4,54.6 138.1,55.8 138.3,56.1 139.3,57.6 139.6,58.0 140.5,59.1 141.1,59.8 141.9,60.7 142.7,61.3 143.5,62.2 144.2,62.7 145.5,63.7 145.7,63.8 147.2,64.8 147.7,65.2 148.7,65.7 150.2,66.6 150.4,66.7 151.8,67.4 153.3,68.1 153.5,68.2 154.8,68.8 156.3,69.4 157.2,69.7 157.8,70.0 159.3,70.5 160.9,71.0 161.5,71.3 162.4,71.6 163.9,72.1 165.4,72.6 165.8,72.8 166.9,73.2 168.5,73.8 169.8,74.3 170.0,74.4 171.5,75.0 173.0,75.7 173.2,75.8 174.5,76.4 176.0,77.2 176.2,77.3 177.6,78.1 178.9,78.8 179.1,78.9 180.6,79.9 181.3,80.4 182.1,80.8 183.6,81.8 183.7,81.9 185.1,82.9 185.9,83.4 186.7,83.9 188.0,84.9 188.2,85.0 189.7,86.2 190.0,86.4 191.2,87.4 191.9,87.9 192.7,88.6 193.7,89.4 194.2,89.9 195.5,91.0 195.8,91.2 197.1,92.5 197.3,92.6 198.7,94.0 198.8,94.1 200.2,95.5 200.3,95.6 201.7,97.0 201.8,97.1 203.2,98.5 203.4,98.7 204.7,100.0 204.9,100.2 206.3,101.6 206.4,101.7 207.8,103.1 207.9,103.2 209.3,104.6 209.4,104.7 210.8,106.1 210.9,106.2 212.4,107.6 212.5,107.7 213.8,109.1 214.0,109.3 215.2,110.7 215.5,111.0 216.6,112.2 217.0,112.7 217.8,113.7 218.5,114.5 219.1,115.2 220.0,116.4 220.3,116.7 221.5,118.2 221.6,118.4 222.6,119.7 223.1,120.5 223.6,121.3 224.6,122.7 224.6,122.8 225.6,124.3 226.1,125.1 226.6,125.8 227.5,127.3 227.6,127.5 228.4,128.8 229.2,130.2 229.3,130.4 230.0,131.9 230.7,133.2 230.8,133.4 231.5,134.9 232.1,136.4 232.2,136.6 232.7,137.9 233.3,139.4 233.7,140.6 233.9,141.0 234.4,142.5 234.9,144.0 235.2,144.9 235.4,145.5 236.0,147.0 236.5,148.5 236.7,149.2 237.1,150.1 237.7,151.6 238.3,152.8 238.4,153.1 239.1,154.6 239.8,155.9 239.9,156.1 240.7,157.6 241.3,158.6 241.7,159.1 242.7,160.7 242.8,160.9 243.8,162.2 244.3,162.8 245.2,163.7 245.8,164.5 246.7,165.2 247.4,165.8 248.5,166.7 248.9,167.0 250.4,168.1 250.7,168.2 251.9,169.0 253.4,169.7 253.5,169.8 255.0,170.4 256.5,171.0 257.6,171.3 258.0,171.4 259.5,171.8 261.0,172.1" stroke="#000000"/><path d="M42.5,116.6 44.0,116.5 45.5,116.4 47.1,116.3 48.6,116.3 50.1,116.3 51.6,116.4 53.1,116.5 54.6,116.6 56.2,116.7 56.6,116.7 57.7,116.8 59.2,116.9 60.7,117.0 62.2,117.0 63.7,117.0 65.3,117.1 66.8,117.2 68.3,117.3 69.8,117.6 71.3,117.9 72.8,118.2 73.1,118.2 74.4,118.5 75.9,118.7 77.4,118.8 78.9,118.7 80.4,118.4 80.9,118.2 82.0,117.9 83.5,117.3 84.6,116.7 85.0,116.6 86.5,115.7 87.2,115.2 88.0,114.7 89.4,113.7 89.5,113.6 91.1,112.5 91.5,112.2 92.6,111.3 93.5,110.7 94.1,110.2 95.4,109.1 95.6,109.0 97.1,107.7 97.3,107.6 98.6,106.4 99.0,106.1 100.2,105.1 100.7,104.6 101.7,103.6 102.2,103.1 103.2,102.1 103.8,101.6 104.7,100.6 105.3,100.0 106.2,99.1 106.8,98.5 107.8,97.5 108.2,97.0 109.3,95.9 109.6,95.5 110.8,94.1 110.9,94.0 112.1,92.5 112.3,92.3 113.3,91.0 113.8,90.3 114.5,89.4 115.3,88.3 115.7,87.9 116.8,86.4 116.9,86.3 117.9,84.9 118.4,84.1 118.8,83.4 119.7,81.9 119.9,81.5 120.5,80.4 121.1,78.8 121.4,77.8 121.6,77.3 121.8,75.8 121.9,74.3 121.9,72.8 121.7,71.3 121.4,70.0 121.4,69.7 121.0,68.2 120.7,66.7 120.5,65.2 120.3,63.7 120.3,62.2 120.2,60.7 120.2,59.1 120.2,57.6 120.1,56.1 120.0,54.6 119.9,53.5 119.9,53.1 119.7,51.6 119.6,50.0 119.5,48.5 119.4,47.0 119.4,45.5" stroke="#000000"/><path d="M163.9,78.8 165.4,79.2 166.9,79.6 168.5,80.1 169.0,80.4 170.0,80.7 171.5,81.3 172.7,81.9 173.0,82.0 174.5,82.8 175.7,83.4 176.0,83.6 177.6,84.4 178.4,84.9 179.1,85.3 180.6,86.3 180.8,86.4 182.1,87.3 183.1,87.9 183.6,88.3 185.1,89.4 185.2,89.4 186.7,90.5 187.3,91.0 188.2,91.7 189.2,92.5 189.7,92.9 191.1,94.0 191.2,94.1 192.7,95.4 192.9,95.5 194.2,96.7 194.5,97.0 195.8,98.2 196.1,98.5 197.3,99.7 197.7,100.0 198.8,101.2 199.2,101.6 200.3,102.7 200.7,103.1 201.8,104.3 202.2,104.6 203.4,105.8 203.7,106.1 204.9,107.3 205.2,107.6 206.4,108.8 206.8,109.1 207.9,110.3 208.3,110.7 209.4,111.9 209.7,112.2 210.9,113.6 211.1,113.7 212.4,115.2 212.5,115.3 213.6,116.7 214.0,117.2 214.8,118.2 215.5,119.1 216.0,119.7 217.0,121.2 217.1,121.3 218.2,122.8 218.5,123.3 219.2,124.3 220.0,125.6 220.2,125.8 221.1,127.3 221.6,128.0 222.0,128.8 222.9,130.4 223.1,130.7 223.7,131.9 224.5,133.4 224.6,133.7 225.1,134.9 225.8,136.4 226.1,137.3 226.3,137.9 226.8,139.4 227.3,141.0 227.6,142.5 227.6,142.5 227.9,144.0 228.2,145.5 228.4,147.0 228.6,148.5 228.8,150.1 228.9,151.6 229.0,153.1 229.1,154.6 229.1,156.1 229.0,157.6 228.9,159.1 228.7,160.7 228.5,162.2 228.1,163.7 227.6,164.9 227.5,165.2 226.9,166.7 226.1,168.1 226.0,168.2 225.0,169.8 224.6,170.3 223.8,171.3 223.1,172.2 222.5,172.8 221.6,173.8 221.2,174.3 220.0,175.5 219.7,175.8 218.5,177.0 218.2,177.3 217.0,178.6 216.8,178.8 215.5,180.2 215.3,180.4 214.0,181.7 213.9,181.9 212.5,183.3 212.4,183.4 210.9,184.8 210.8,184.9 209.4,186.3 209.3,186.4 207.9,187.7 207.6,187.9 206.4,189.1 206.0,189.5 204.9,190.4 204.3,191.0 203.4,191.8 202.7,192.5 201.8,193.3 201.1,194.0 200.3,194.8 199.6,195.5 198.8,196.3 198.0,197.0 197.3,197.8 196.6,198.5 195.8,199.4 195.1,200.1 194.2,201.0 193.7,201.6 192.7,202.7 192.3,203.1 191.2,204.3 190.9,204.6 189.7,205.9 189.5,206.1 188.2,207.5 188.1,207.6 186.7,209.1 186.6,209.2 185.1,210.5 185.0,210.7 183.6,212.0 183.4,212.2 182.1,213.5 181.9,213.7 180.6,214.9 180.3,215.2 179.1,216.4 178.7,216.7 177.6,217.8 177.1,218.2 176.0,219.2 175.4,219.8 174.5,220.5 173.5,221.3 173.0,221.7 171.5,222.7 171.3,222.8 170.0,223.5 168.5,224.2 168.2,224.3 166.9,224.7 165.4,225.1 163.9,225.4 162.4,225.6 160.9,225.7 159.3,225.7 157.8,225.7 156.3,225.7 154.8,225.6 153.3,225.4 151.8,225.3 150.2,225.1 148.7,224.9 147.2,224.6 145.7,224.3 145.7,224.3 144.2,223.9 142.7,223.5 141.1,223.0 140.5,222.8 139.6,222.4 138.1,221.8 136.9,221.3 136.6,221.1 135.1,220.4 133.9,219.8 133.6,219.6 132.0,218.7 131.2,218.2 130.5,217.8 129.0,216.9 128.8,216.7 127.5,215.9 126.5,215.2 126.0,214.8 124.4,213.8 124.3,213.7 122.9,212.6 122.3,212.2 121.4,211.5 120.4,210.7 119.9,210.3 118.5,209.2 118.4,209.0 116.9,207.8 116.7,207.6 115.3,206.4 115.0,206.1 113.8,205.0 113.4,204.6 112.3,203.5 111.9,203.1 110.8,201.9 110.4,201.6 109.3,200.4 108.9,200.1 107.8,198.9 107.4,198.5 106.2,197.4 105.9,197.0 104.7,195.9 104.3,195.5 103.2,194.4 102.8,194.0 101.7,192.9 101.3,192.5 100.2,191.3 99.9,191.0 98.6,189.6 98.5,189.5 97.2,187.9 97.1,187.8 96.0,186.4 95.6,185.9 94.8,184.9 94.1,184.0 93.6,183.4 92.6,182.0 92.5,181.9 91.4,180.4 91.1,179.8 90.4,178.8 89.5,177.6 89.4,177.3 88.4,175.8 88.0,175.1 87.5,174.3 86.7,172.8 86.5,172.4 85.9,171.3 85.1,169.8 85.0,169.4 84.4,168.2 83.8,166.7 83.5,165.8 83.3,165.2 82.8,163.7 82.3,162.2 82.0,160.7 82.0,160.7 81.6,159.1 81.4,157.6 81.2,156.1 81.0,154.6 80.8,153.1 80.7,151.6 80.6,150.1 80.5,148.5 80.5,147.0 80.6,145.5 80.7,144.0 80.8,142.5 81.1,141.0 81.5,139.4 82.0,138.2 82.1,137.9 82.7,136.4 83.5,135.1 83.6,134.9 84.6,133.4 85.0,132.8 85.7,131.9 86.5,131.0 87.0,130.4 88.0,129.3 88.4,128.8 89.5,127.7 89.9,127.3 91.1,126.1 91.3,125.8 92.6,124.5 92.8,124.3 94.1,123.0 94.3,122.8 95.6,121.4 95.7,121.3 97.1,119.8 97.2,119.7 98.6,118.3 98.8,118.2 100.2,116.9 100.3,116.7 101.7,115.5 102.0,115.2 103.2,114.1 103.6,113.7 104.7,112.7 105.3,112.2 106.2,111.3 106.9,110.7 107.8,109.9 108.5,109.1 109.3,108.4 110.0,107.6 110.8,106.9 111.5,106.1 112.3,105.3 113.0,104.6 113.8,103.8 114.5,103.1 115.3,102.1 115.9,101.6 116.9,100.5 117.3,100.0 118.4,98.8 118.6,98.5 119.9,97.2 120.1,97.0 121.4,95.6 121.5,95.5 122.9,94.1 123.0,94.0 124.4,92.6 124.6,92.5 126.0,91.1 126.1,91.0 127.5,89.7 127.7,89.4 129.0,88.2 129.3,87.9 130.5,86.8 130.9,86.4 132.0,85.3 132.5,84.9 133.6,83.9 134.2,83.4 135.1,82.6 136.0,81.9 136.6,81.5 138.1,80.5 138.3,80.4 139.6,79.6 141.1,78.9 141.4,78.8 142.7,78.4 144.2,78.0 145.7,77.7 147.2,77.5 148.7,77.4 150.2,77.4 151.8,77.4 153.3,77.5 154.8,77.6 156.3,77.7 157.8,77.9 159.3,78.0 160.9,78.3 162.4,78.5 163.9,78.8 163.9,78.8" stroke="#9400d3"/><path d="M165.9,86.4 166.9,86.7 168.5,87.2 170.0,87.7 170.4,87.9 171.5,88.4 173.0,89.0 173.9,89.4 174.5,89.7 176.0,90.5 176.9,91.0 177.6,91.3 179.1,92.2 179.5,92.5 180.6,93.2 181.8,94.0 182.1,94.2 183.6,95.3 183.9,95.5 185.1,96.4 186.0,97.0 186.7,97.5 188.1,98.5 188.2,98.6 189.7,99.8 190.0,100.0 191.2,101.1 191.7,101.6 192.7,102.5 193.3,103.1 194.2,104.0 194.8,104.6 195.8,105.5 196.3,106.1 197.3,107.1 197.8,107.6 198.8,108.6 199.3,109.1 200.3,110.1 200.9,110.7 201.8,111.6 202.4,112.2 203.4,113.1 203.9,113.7 204.9,114.7 205.3,115.2 206.4,116.4 206.6,116.7 207.8,118.2 207.9,118.3 209.0,119.7 209.4,120.4 210.1,121.3 210.9,122.5 211.2,122.8 212.2,124.3 212.5,124.6 213.3,125.8 214.0,126.9 214.2,127.3 215.1,128.8 215.5,129.5 216.0,130.4 216.7,131.9 217.0,132.5 217.4,133.4 218.1,134.9 218.5,136.0 218.7,136.4 219.3,137.9 219.8,139.4 220.0,140.5 220.2,141.0 220.5,142.5 220.8,144.0 221.0,145.5 221.1,147.0 221.2,148.5 221.2,150.1 221.2,151.6 221.1,153.1 220.9,154.6 220.6,156.1 220.3,157.6 220.0,158.4 219.8,159.1 219.2,160.7 218.5,162.2 218.5,162.2 217.7,163.7 217.0,164.8 216.8,165.2 215.7,166.7 215.5,167.0 214.6,168.2 214.0,169.0 213.4,169.8 212.5,170.9 212.2,171.3 210.9,172.7 210.9,172.8 209.6,174.3 209.4,174.5 208.3,175.8 207.9,176.3 207.0,177.3 206.4,178.0 205.6,178.8 204.9,179.6 204.1,180.4 203.4,181.1 202.5,181.9 201.8,182.5 200.9,183.4 200.3,184.0 199.3,184.9 198.8,185.4 197.7,186.4 197.3,186.8 196.1,187.9 195.8,188.3 194.6,189.5 194.2,189.8 193.0,191.0 192.7,191.3 191.6,192.5 191.2,192.8 190.1,194.0 189.7,194.4 188.7,195.5 188.2,196.0 187.2,197.0 186.7,197.6 185.8,198.5 185.1,199.2 184.4,200.1 183.6,200.8 182.8,201.6 182.1,202.3 181.2,203.1 180.6,203.7 179.6,204.6 179.1,205.0 177.8,206.1 177.6,206.3 176.0,207.6 176.0,207.6 174.5,208.8 174.1,209.2 173.0,210.1 172.2,210.7 171.5,211.3 170.3,212.2 170.0,212.4 168.5,213.4 168.1,213.7 166.9,214.4 165.5,215.2 165.4,215.2 163.9,215.9 162.4,216.5 161.6,216.7 160.9,217.0 159.3,217.3 157.8,217.6 156.3,217.7 154.8,217.8 153.3,217.9 151.8,217.9 150.2,217.8 148.7,217.7 147.2,217.5 145.7,217.2 144.2,216.9 143.7,216.7 142.7,216.4 141.1,215.9 139.6,215.4 139.2,215.2 138.1,214.8 136.6,214.1 135.6,213.7 135.1,213.4 133.6,212.7 132.7,212.2 132.0,211.8 130.5,210.9 130.1,210.7 129.0,209.9 127.8,209.2 127.5,208.9 126.0,207.8 125.7,207.6 124.4,206.8 123.6,206.1 122.9,205.7 121.5,204.6 121.4,204.5 119.9,203.3 119.6,203.1 118.4,202.0 117.9,201.6 116.9,200.6 116.2,200.1 115.3,199.2 114.7,198.5 113.8,197.6 113.3,197.0 112.3,196.0 111.8,195.5 110.8,194.5 110.3,194.0 109.3,193.0 108.7,192.5 107.8,191.6 107.1,191.0 106.2,190.1 105.6,189.5 104.7,188.5 104.2,187.9 103.2,186.7 103.0,186.4 101.8,184.9 101.7,184.8 100.6,183.4 100.2,182.8 99.5,181.9 98.6,180.7 98.4,180.4 97.4,178.8 97.1,178.5 96.3,177.3 95.6,176.2 95.4,175.8 94.5,174.3 94.1,173.7 93.6,172.8 92.8,171.3 92.6,170.7 92.1,169.8 91.5,168.2 91.1,167.2 90.9,166.7 90.3,165.2 89.8,163.7 89.5,162.7 89.4,162.2 89.1,160.7 88.8,159.1 88.6,157.6 88.5,156.1 88.4,154.6 88.4,153.1 88.4,151.6 88.5,150.1 88.7,148.5 89.0,147.0 89.3,145.5 89.5,144.7 89.8,144.0 90.3,142.5 91.0,141.0 91.1,140.9 91.9,139.4 92.6,138.3 92.8,137.9 93.9,136.4 94.1,136.1 95.0,134.9 95.6,134.1 96.2,133.4 97.1,132.2 97.4,131.9 98.6,130.4 98.7,130.4 100.0,128.8 100.2,128.6 101.3,127.3 101.7,126.8 102.6,125.8 103.2,125.2 104.0,124.3 104.7,123.6 105.5,122.8 106.2,122.1 107.0,121.3 107.8,120.6 108.6,119.7 109.3,119.2 110.3,118.2 110.8,117.8 111.9,116.7 112.3,116.3 113.5,115.2 113.8,114.9 115.0,113.7 115.3,113.4 116.5,112.2 116.9,111.9 118.0,110.7 118.4,110.3 119.5,109.1 119.9,108.7 120.9,107.6 121.4,107.1 122.3,106.1 122.9,105.5 123.8,104.6 124.4,103.9 125.2,103.1 126.0,102.3 126.8,101.6 127.5,100.9 128.4,100.0 129.0,99.5 130.0,98.5 130.5,98.1 131.8,97.0 132.0,96.8 133.6,95.5 133.6,95.5 135.1,94.3 135.4,94.0 136.6,93.1 137.3,92.5 138.1,91.9 139.3,91.0 139.6,90.8 141.1,89.7 141.5,89.4 142.7,88.7 144.1,87.9 144.2,87.9 145.7,87.2 147.2,86.6 148.0,86.4 148.7,86.2 150.2,85.8 151.8,85.6 153.3,85.4 154.8,85.3 156.3,85.3 157.8,85.3 159.3,85.3 160.9,85.5 162.4,85.7 163.9,85.9 165.4,86.3 165.9,86.4" stroke="#009e73"/><path d="M166.0,94.0 166.9,94.2 168.5,94.7 170.0,95.2 170.7,95.5 171.5,95.8 173.0,96.4 174.3,97.0 174.5,97.1 176.0,97.9 177.2,98.5 177.6,98.7 179.1,99.6 179.8,100.0 180.6,100.5 182.1,101.5 182.2,101.6 183.6,102.5 184.4,103.1 185.1,103.6 186.5,104.6 186.7,104.7 188.2,106.0 188.3,106.1 189.7,107.3 190.0,107.6 191.2,108.8 191.6,109.1 192.7,110.3 193.1,110.7 194.2,111.8 194.6,112.2 195.8,113.3 196.1,113.7 197.3,114.9 197.6,115.2 198.8,116.4 199.1,116.7 200.3,118.1 200.4,118.2 201.7,119.7 201.8,119.9 202.8,121.3 203.4,122.0 203.9,122.8 204.9,124.2 204.9,124.3 205.9,125.8 206.4,126.6 206.8,127.3 207.7,128.8 207.9,129.2 208.5,130.4 209.3,131.9 209.4,132.1 210.0,133.4 210.6,134.9 210.9,135.7 211.2,136.4 211.7,137.9 212.2,139.4 212.5,140.4 212.6,141.0 213.0,142.5 213.2,144.0 213.4,145.5 213.5,147.0 213.5,148.5 213.4,150.1 213.3,151.6 213.0,153.1 212.5,154.6 212.5,154.9 212.0,156.1 211.4,157.6 210.9,158.4 210.6,159.1 209.7,160.7 209.4,161.0 208.7,162.2 207.9,163.2 207.6,163.7 206.4,165.2 206.4,165.2 205.2,166.7 204.9,167.1 203.9,168.2 203.4,168.9 202.6,169.8 201.8,170.6 201.3,171.3 200.3,172.3 199.9,172.8 198.8,173.9 198.4,174.3 197.3,175.5 197.0,175.8 195.8,177.0 195.4,177.3 194.2,178.5 193.9,178.8 192.7,180.0 192.3,180.4 191.2,181.5 190.8,181.9 189.7,182.9 189.2,183.4 188.2,184.4 187.7,184.9 186.7,186.0 186.2,186.4 185.1,187.5 184.7,187.9 183.6,189.1 183.2,189.5 182.1,190.6 181.8,191.0 180.6,192.2 180.3,192.5 179.1,193.7 178.7,194.0 177.6,195.2 177.2,195.5 176.0,196.6 175.6,197.0 174.5,198.0 173.9,198.5 173.0,199.3 172.2,200.1 171.5,200.6 170.4,201.6 170.0,201.9 168.5,203.1 168.5,203.1 166.9,204.3 166.5,204.6 165.4,205.3 164.3,206.1 163.9,206.4 162.4,207.3 161.7,207.6 160.9,208.0 159.3,208.7 158.1,209.2 157.8,209.2 156.3,209.6 154.8,209.9 153.3,210.1 151.8,210.2 150.2,210.2 148.7,210.1 147.2,209.9 145.7,209.7 144.2,209.3 143.6,209.2 142.7,208.9 141.1,208.4 139.6,207.9 138.9,207.6 138.1,207.3 136.6,206.7 135.3,206.1 135.1,206.0 133.6,205.2 132.4,204.6 132.0,204.4 130.5,203.5 129.8,203.1 129.0,202.6 127.5,201.6 127.4,201.6 126.0,200.6 125.2,200.1 124.4,199.5 123.1,198.5 122.9,198.4 121.4,197.1 121.3,197.0 119.9,195.8 119.6,195.5 118.4,194.3 118.0,194.0 116.9,192.8 116.5,192.5 115.3,191.3 115.0,191.0 113.8,189.8 113.5,189.5 112.3,188.3 112.0,187.9 110.8,186.7 110.5,186.4 109.3,185.0 109.1,184.9 107.9,183.4 107.8,183.2 106.8,181.9 106.2,181.1 105.7,180.4 104.7,178.9 104.7,178.8 103.7,177.3 103.2,176.5 102.8,175.8 101.9,174.3 101.7,173.9 101.0,172.8 100.3,171.3 100.2,171.0 99.6,169.8 99.0,168.2 98.6,167.4 98.4,166.7 97.9,165.2 97.4,163.7 97.1,162.8 97.0,162.2 96.6,160.7 96.4,159.1 96.2,157.6 96.1,156.1 96.1,154.6 96.2,153.1 96.3,151.6 96.6,150.1 97.0,148.5 97.1,148.3 97.6,147.0 98.2,145.5 98.6,144.7 99.0,144.0 99.9,142.5 100.2,142.1 100.9,141.0 101.7,139.9 102.0,139.4 103.2,137.9 103.2,137.9 104.4,136.4 104.7,136.0 105.7,134.9 106.2,134.2 107.0,133.4 107.8,132.5 108.3,131.9 109.3,130.8 109.7,130.4 110.8,129.2 111.1,128.8 112.3,127.7 112.6,127.3 113.8,126.1 114.2,125.8 115.3,124.6 115.7,124.3 116.9,123.2 117.2,122.8 118.4,121.7 118.8,121.3 119.9,120.2 120.3,119.7 121.4,118.7 121.9,118.2 122.9,117.2 123.4,116.7 124.4,115.6 124.9,115.2 126.0,114.1 126.3,113.7 127.5,112.5 127.8,112.2 129.0,111.0 129.3,110.7 130.5,109.5 130.8,109.1 132.0,108.0 132.4,107.6 133.6,106.5 134.0,106.1 135.1,105.2 135.7,104.6 136.6,103.8 137.4,103.1 138.1,102.5 139.2,101.6 139.6,101.2 141.1,100.0 141.1,100.0 142.7,98.9 143.1,98.5 144.2,97.8 145.3,97.0 145.7,96.8 147.2,95.9 147.9,95.5 148.7,95.1 150.2,94.4 151.5,94.0 151.8,93.9 153.3,93.5 154.8,93.2 156.3,93.0 157.8,92.9 159.3,92.9 160.9,93.0 162.4,93.2 163.9,93.5 165.4,93.8 166.0,94.0" stroke="#56b4e9"/><path d="M163.2,101.6 163.9,101.6 165.4,101.9 166.9,102.2 168.5,102.6 170.0,103.0 170.2,103.1 171.5,103.5 173.0,104.1 174.2,104.6 174.5,104.7 176.0,105.4 177.4,106.1 177.6,106.2 179.1,107.1 180.0,107.6 180.6,108.0 182.1,109.0 182.3,109.1 183.6,110.1 184.3,110.7 185.1,111.3 186.2,112.2 186.7,112.6 187.9,113.7 188.2,114.0 189.5,115.2 189.7,115.4 191.0,116.7 191.2,117.0 192.4,118.2 192.7,118.5 193.8,119.7 194.2,120.2 195.1,121.3 195.8,122.1 196.3,122.8 197.3,124.1 197.4,124.3 198.4,125.8 198.8,126.4 199.4,127.3 200.2,128.8 200.3,129.0 201.0,130.4 201.7,131.9 201.8,132.2 202.3,133.4 202.9,134.9 203.4,136.2 203.4,136.4 203.9,137.9 204.2,139.4 204.6,141.0 204.8,142.5 204.9,143.2 204.9,144.0 205.0,145.5 204.9,147.0 204.9,147.4 204.7,148.5 204.4,150.1 203.9,151.6 203.4,153.0 203.3,153.1 202.5,154.6 201.8,155.8 201.7,156.1 200.6,157.6 200.3,158.0 199.5,159.1 198.8,160.0 198.3,160.7 197.3,161.8 197.0,162.2 195.8,163.5 195.6,163.7 194.2,165.2 194.2,165.2 192.8,166.7 192.7,166.7 191.3,168.2 191.2,168.3 189.7,169.8 189.7,169.8 188.2,171.3 188.2,171.3 186.7,172.8 186.6,172.8 185.1,174.2 185.1,174.3 183.6,175.7 183.6,175.8 182.1,177.2 182.0,177.3 180.6,178.8 180.5,178.8 179.1,180.3 179.0,180.4 177.6,181.8 177.5,181.9 176.0,183.4 176.0,183.4 174.5,184.9 174.5,184.9 173.0,186.4 173.0,186.5 171.5,187.9 171.5,188.0 170.0,189.5 170.0,189.5 168.5,190.9 168.4,191.0 166.9,192.3 166.8,192.5 165.4,193.7 165.1,194.0 163.9,195.0 163.2,195.5 162.4,196.2 161.3,197.0 160.9,197.3 159.3,198.4 159.0,198.5 157.8,199.3 156.3,200.0 156.2,200.1 154.8,200.6 153.3,201.1 151.8,201.4 150.7,201.6 150.2,201.6 148.7,201.7 147.2,201.6 146.4,201.6 145.7,201.5 144.2,201.3 142.7,200.9 141.1,200.6 139.6,200.1 139.4,200.1 138.1,199.6 136.6,199.0 135.4,198.5 135.1,198.4 133.6,197.7 132.2,197.0 132.0,196.9 130.5,196.1 129.6,195.5 129.0,195.1 127.5,194.1 127.3,194.0 126.0,193.0 125.3,192.5 124.4,191.8 123.4,191.0 122.9,190.5 121.7,189.5 121.4,189.2 120.1,187.9 119.9,187.7 118.6,186.4 118.4,186.2 117.2,184.9 116.9,184.6 115.8,183.4 115.3,182.9 114.5,181.9 113.8,181.1 113.3,180.4 112.3,179.0 112.2,178.8 111.2,177.3 110.8,176.7 110.2,175.8 109.4,174.3 109.3,174.1 108.6,172.8 107.9,171.3 107.8,171.0 107.3,169.8 106.7,168.2 106.2,166.9 106.2,166.7 105.7,165.2 105.3,163.7 105.0,162.2 104.8,160.7 104.7,159.9 104.6,159.1 104.6,157.6 104.7,156.1 104.7,155.7 104.9,154.6 105.2,153.1 105.7,151.6 106.2,150.1 106.3,150.1 107.0,148.5 107.8,147.3 107.9,147.0 109.0,145.5 109.3,145.1 110.1,144.0 110.8,143.1 111.3,142.5 112.3,141.3 112.6,141.0 113.8,139.6 114.0,139.4 115.3,138.0 115.4,137.9 116.8,136.4 116.9,136.4 118.3,134.9 118.4,134.9 119.9,133.4 119.9,133.3 121.4,131.9 121.4,131.9 122.9,130.4 122.9,130.4 124.4,128.9 124.5,128.8 126.0,127.4 126.0,127.3 127.5,125.9 127.6,125.8 129.0,124.4 129.1,124.3 130.5,122.9 130.6,122.8 132.0,121.3 132.1,121.3 133.6,119.8 133.6,119.7 135.1,118.2 135.1,118.2 136.5,116.7 136.6,116.7 138.1,115.2 138.1,115.2 139.6,113.7 139.6,113.7 141.1,112.2 141.2,112.2 142.7,110.8 142.8,110.7 144.2,109.5 144.5,109.1 145.7,108.2 146.3,107.6 147.2,106.9 148.3,106.1 148.7,105.8 150.2,104.8 150.5,104.6 151.8,103.9 153.3,103.1 153.4,103.1 154.8,102.5 156.3,102.0 157.8,101.7 158.9,101.6 159.3,101.5 160.9,101.4 162.4,101.5 163.2,101.6" stroke="#e69f00"/><path d="M173.9,113.7 174.5,113.9 176.0,114.5 177.4,115.2 177.6,115.3 179.1,116.2 180.0,116.7 180.6,117.1 182.1,118.2 182.1,118.3 183.6,119.5 183.9,119.7 185.1,121.0 185.4,121.3 186.7,122.6 186.9,122.8 188.2,124.3 188.2,124.3 189.3,125.8 189.7,126.4 190.3,127.3 191.1,128.8 191.2,129.0 191.9,130.4 192.5,131.9 192.7,132.5 193.0,133.4 193.4,134.9 193.8,136.4 194.0,137.9 194.0,139.4 194.0,141.0 193.8,142.5 193.5,144.0 193.0,145.5 192.7,146.2 192.4,147.0 191.6,148.5 191.2,149.2 190.7,150.1 189.7,151.5 189.6,151.6 188.4,153.1 188.2,153.4 187.2,154.6 186.7,155.1 185.8,156.1 185.1,156.8 184.4,157.6 183.6,158.4 182.9,159.1 182.1,160.0 181.5,160.7 180.6,161.6 180.0,162.2 179.1,163.2 178.6,163.7 177.6,164.7 177.1,165.2 176.0,166.3 175.6,166.7 174.5,167.8 174.1,168.2 173.0,169.4 172.6,169.8 171.5,170.9 171.1,171.3 170.0,172.4 169.5,172.8 168.5,173.8 168.0,174.3 166.9,175.3 166.4,175.8 165.4,176.8 164.8,177.3 163.9,178.2 163.2,178.8 162.4,179.7 161.7,180.4 160.9,181.1 160.0,181.9 159.3,182.5 158.4,183.4 157.8,183.9 156.6,184.9 156.3,185.2 154.8,186.3 154.7,186.4 153.3,187.4 152.4,187.9 151.8,188.3 150.2,189.1 149.4,189.5 148.7,189.7 147.2,190.2 145.7,190.5 144.2,190.7 142.7,190.7 141.1,190.7 139.6,190.5 138.1,190.2 136.6,189.8 135.7,189.5 135.1,189.2 133.6,188.6 132.2,187.9 132.0,187.9 130.5,187.0 129.6,186.4 129.0,186.0 127.5,184.9 127.5,184.9 126.0,183.6 125.7,183.4 124.4,182.2 124.2,181.9 122.9,180.6 122.7,180.4 121.4,178.8 121.4,178.8 120.3,177.3 119.9,176.7 119.3,175.8 118.4,174.3 118.4,174.2 117.7,172.8 117.1,171.3 116.9,170.7 116.6,169.8 116.1,168.2 115.8,166.7 115.6,165.2 115.6,163.7 115.6,162.2 115.8,160.7 116.1,159.1 116.6,157.6 116.9,156.9 117.2,156.1 118.0,154.6 118.4,153.9 118.9,153.1 119.9,151.7 120.0,151.6 121.2,150.1 121.4,149.7 122.4,148.5 122.9,148.0 123.8,147.0 124.4,146.3 125.2,145.5 126.0,144.7 126.6,144.0 127.5,143.1 128.1,142.5 129.0,141.6 129.6,141.0 130.5,140.0 131.0,139.4 132.0,138.4 132.5,137.9 133.6,136.9 134.0,136.4 135.1,135.3 135.5,134.9 136.6,133.8 137.0,133.4 138.1,132.3 138.5,131.9 139.6,130.8 140.1,130.4 141.1,129.3 141.6,128.8 142.7,127.8 143.2,127.3 144.2,126.4 144.8,125.8 145.7,124.9 146.3,124.3 147.2,123.5 147.9,122.8 148.7,122.0 149.5,121.3 150.2,120.6 151.2,119.7 151.8,119.3 153.0,118.2 153.3,118.0 154.8,116.8 154.9,116.7 156.3,115.7 157.2,115.2 157.8,114.8 159.3,114.0 160.2,113.7 160.9,113.4 162.4,112.9 163.9,112.6 165.4,112.4 166.9,112.4 168.5,112.5 170.0,112.7 171.5,113.0 173.0,113.4 173.9,113.7" stroke="#f0e442"/><path d="M168.7,136.4 170.0,137.7 170.2,137.9 170.9,139.4 171.2,141.0 171.3,142.5 171.3,144.0 171.0,145.5 170.7,147.0 170.2,148.5 170.0,149.2 169.6,150.1 168.9,151.6 168.5,152.3 168.0,153.1 167.0,154.6 166.9,154.6 165.8,156.1 165.4,156.5 164.5,157.6 163.9,158.2 163.0,159.1 162.4,159.8 161.5,160.7 160.9,161.2 159.8,162.2 159.3,162.5 157.9,163.7 157.8,163.7 156.3,164.7 155.5,165.2 154.8,165.6 153.3,166.4 152.4,166.7 151.8,167.0 150.2,167.4 148.7,167.8 147.2,168.0 145.7,168.1 144.2,168.0 142.7,167.6 141.1,166.9 140.9,166.7 139.6,165.5 139.4,165.2 138.7,163.7 138.4,162.2 138.3,160.7 138.3,159.1 138.5,157.6 138.9,156.1 139.4,154.6 139.6,154.0 140.0,153.1 140.7,151.6 141.1,150.9 141.6,150.1 142.6,148.5 142.7,148.5 143.8,147.0 144.2,146.6 145.1,145.5 145.7,144.9 146.6,144.0 147.2,143.4 148.1,142.5 148.7,141.9 149.8,141.0 150.2,140.6 151.7,139.4 151.8,139.4 153.3,138.4 154.1,137.9 154.8,137.5 156.3,136.8 157.2,136.4 157.8,136.2 159.3,135.7 160.9,135.3 162.4,135.1 163.9,135.1 165.4,135.2 166.9,135.5 168.5,136.2 168.7,136.4" stroke="#0072b2"/></g><rect x="42.5" y="39.5" width="224.8" height="224.2" fill="none" stroke="#444" stroke-width="1"/><g class="hm" shape-rendering="crispEdges" clip-path="url(#clipB)"><rect x="380.00" y="256.24" width="7.2" height="7.2" fill="#400063"/><rect x="386.06" y="256.24" width="7.2" height="7.2" fill="#4d008b"/><rect x="392.12" y="256.24" width="7.2" height="7.2" fill="#5600a6"/><rect x="398.18" y="256.24" width="7.2" height="7.2" fill="#6101c9"/><rect x="404.24" y="256.24" width="7.2" height="7.2" fill="#7202f3"/><rect x="410.30" y="256.24" width="7.2" height="7.2" fill="#8605fb"/><rect x="416.36" y="256.24" width="7.2" height="7.2" fill="#9a0dbe"/><rect x="422.42" y="256.24" width="7.2" height="7.2" fill="#ad1940"/><rect x="428.48" y="256.24" width="7.2" height="7.2" fill="#be2b00"/><rect x="434.54" y="256.24" width="7.2" height="7.2" fill="#ce4700"/><rect x="440.60" y="256.24" width="7.2" height="7.2" fill="#dc6b00"/><rect x="446.66" y="256.24" width="7.2" height="7.2" fill="#e78d00"/><rect x="452.72" y="256.24" width="7.2" height="7.2" fill="#efab00"/><rect x="458.78" y="256.24" width="7.2" height="7.2" fill="#f4c500"/><rect x="464.84" y="256.24" width="7.2" height="7.2" fill="#f7d400"/><rect x="470.90" y="256.24" width="7.2" height="7.2" fill="#f8d500"/><rect x="476.96" y="256.24" width="7.2" height="7.2" fill="#f6cc00"/><rect x="483.02" y="256.24" width="7.2" height="7.2" fill="#f2bb00"/><rect x="489.08" y="256.24" width="7.2" height="7.2" fill="#eda600"/><rect x="495.14" y="256.24" width="7.2" height="7.2" fill="#e78d00"/><rect x="501.20" y="256.24" width="7.2" height="7.2" fill="#e07400"/><rect x="507.26" y="256.24" width="7.2" height="7.2" fill="#d85f00"/><rect x="513.32" y="256.24" width="7.2" height="7.2" fill="#d24f00"/><rect x="519.38" y="256.24" width="7.2" height="7.2" fill="#cd4400"/><rect x="525.44" y="256.24" width="7.2" height="7.2" fill="#ca3e00"/><rect x="531.50" y="256.24" width="7.2" height="7.2" fill="#c83c00"/><rect x="537.56" y="256.24" width="7.2" height="7.2" fill="#c83b00"/><rect x="543.62" y="256.24" width="7.2" height="7.2" fill="#c93d00"/><rect x="549.68" y="256.24" width="7.2" height="7.2" fill="#cb4000"/><rect x="555.74" y="256.24" width="7.2" height="7.2" fill="#cd4600"/><rect x="561.80" y="256.24" width="7.2" height="7.2" fill="#d24f00"/><rect x="567.86" y="256.24" width="7.2" height="7.2" fill="#d75a00"/><rect x="573.92" y="256.24" width="7.2" height="7.2" fill="#db6700"/><rect x="579.98" y="256.24" width="7.2" height="7.2" fill="#de7000"/><rect x="586.04" y="256.24" width="7.2" height="7.2" fill="#e07500"/><rect x="592.10" y="256.24" width="7.2" height="7.2" fill="#e17800"/><rect x="380.00" y="250.17" width="7.2" height="7.2" fill="#4d008b"/><rect x="386.06" y="250.17" width="7.2" height="7.2" fill="#5800ac"/><rect x="392.12" y="250.17" width="7.2" height="7.2" fill="#5f01c2"/><rect x="398.18" y="250.17" width="7.2" height="7.2" fill="#6801de"/><rect x="404.24" y="250.17" width="7.2" height="7.2" fill="#7803fb"/><rect x="410.30" y="250.17" width="7.2" height="7.2" fill="#8b07f4"/><rect x="416.36" y="250.17" width="7.2" height="7.2" fill="#9e0eaa"/><rect x="422.42" y="250.17" width="7.2" height="7.2" fill="#b01b2a"/><rect x="428.48" y="250.17" width="7.2" height="7.2" fill="#c02e00"/><rect x="434.54" y="250.17" width="7.2" height="7.2" fill="#cf4a00"/><rect x="440.60" y="250.17" width="7.2" height="7.2" fill="#dd6c00"/><rect x="446.66" y="250.17" width="7.2" height="7.2" fill="#e78e00"/><rect x="452.72" y="250.17" width="7.2" height="7.2" fill="#efad00"/><rect x="458.78" y="250.17" width="7.2" height="7.2" fill="#f5cb00"/><rect x="464.84" y="250.17" width="7.2" height="7.2" fill="#f9dd00"/><rect x="470.90" y="250.17" width="7.2" height="7.2" fill="#f9dc00"/><rect x="476.96" y="250.17" width="7.2" height="7.2" fill="#f7d100"/><rect x="483.02" y="250.17" width="7.2" height="7.2" fill="#f3c000"/><rect x="489.08" y="250.17" width="7.2" height="7.2" fill="#eeaa00"/><rect x="495.14" y="250.17" width="7.2" height="7.2" fill="#e89100"/><rect x="501.20" y="250.17" width="7.2" height="7.2" fill="#e17800"/><rect x="507.26" y="250.17" width="7.2" height="7.2" fill="#da6200"/><rect x="513.32" y="250.17" width="7.2" height="7.2" fill="#d35200"/><rect x="519.38" y="250.17" width="7.2" height="7.2" fill="#ce4600"/><rect x="525.44" y="250.17" width="7.2" height="7.2" fill="#ca4000"/><rect x="531.50" y="250.17" width="7.2" height="7.2" fill="#c93d00"/><rect x="537.56" y="250.17" width="7.2" height="7.2" fill="#c83b00"/><rect x="543.62" y="250.17" width="7.2" height="7.2" fill="#c93d00"/><rect x="549.68" y="250.17" width="7.2" height="7.2" fill="#cb4000"/><rect x="555.74" y="250.17" width="7.2" height="7.2" fill="#ce4600"/><rect x="561.80" y="250.17" width="7.2" height="7.2" fill="#d14e00"/><rect x="567.86" y="250.17" width="7.2" height="7.2" fill="#d65900"/><rect x="573.92" y="250.17" width="7.2" height="7.2" fill="#da6500"/><rect x="579.98" y="250.17" width="7.2" height="7.2" fill="#de6e00"/><rect x="586.04" y="250.17" width="7.2" height="7.2" fill="#e07400"/><rect x="592.10" y="250.17" width="7.2" height="7.2" fill="#e17700"/><rect x="380.00" y="244.11" width="7.2" height="7.2" fill="#5600a6"/><rect x="386.06" y="244.11" width="7.2" height="7.2" fill="#5f01c2"/><rect x="392.12" y="244.11" width="7.2" height="7.2" fill="#6801dd"/><rect x="398.18" y="244.11" width="7.2" height="7.2" fill="#7302f5"/><rect x="404.24" y="244.11" width="7.2" height="7.2" fill="#8204fe"/><rect x="410.30" y="244.11" width="7.2" height="7.2" fill="#9309de"/><rect x="416.36" y="244.11" width="7.2" height="7.2" fill="#a41282"/><rect x="422.42" y="244.11" width="7.2" height="7.2" fill="#b42000"/><rect x="428.48" y="244.11" width="7.2" height="7.2" fill="#c33400"/><rect x="434.54" y="244.11" width="7.2" height="7.2" fill="#d24f00"/><rect x="440.60" y="244.11" width="7.2" height="7.2" fill="#de7000"/><rect x="446.66" y="244.11" width="7.2" height="7.2" fill="#e89000"/><rect x="452.72" y="244.11" width="7.2" height="7.2" fill="#efae00"/><rect x="458.78" y="244.11" width="7.2" height="7.2" fill="#f5c900"/><rect x="464.84" y="244.11" width="7.2" height="7.2" fill="#f8da00"/><rect x="470.90" y="244.11" width="7.2" height="7.2" fill="#f8da00"/><rect x="476.96" y="244.11" width="7.2" height="7.2" fill="#f6cf00"/><rect x="483.02" y="244.11" width="7.2" height="7.2" fill="#f3bf00"/><rect x="489.08" y="244.11" width="7.2" height="7.2" fill="#efab00"/><rect x="495.14" y="244.11" width="7.2" height="7.2" fill="#e99400"/><rect x="501.20" y="244.11" width="7.2" height="7.2" fill="#e27c00"/><rect x="507.26" y="244.11" width="7.2" height="7.2" fill="#db6700"/><rect x="513.32" y="244.11" width="7.2" height="7.2" fill="#d55700"/><rect x="519.38" y="244.11" width="7.2" height="7.2" fill="#d04b00"/><rect x="525.44" y="244.11" width="7.2" height="7.2" fill="#cd4500"/><rect x="531.50" y="244.11" width="7.2" height="7.2" fill="#cb4100"/><rect x="537.56" y="244.11" width="7.2" height="7.2" fill="#ca3f00"/><rect x="543.62" y="244.11" width="7.2" height="7.2" fill="#ca3f00"/><rect x="549.68" y="244.11" width="7.2" height="7.2" fill="#cc4200"/><rect x="555.74" y="244.11" width="7.2" height="7.2" fill="#ce4600"/><rect x="561.80" y="244.11" width="7.2" height="7.2" fill="#d14e00"/><rect x="567.86" y="244.11" width="7.2" height="7.2" fill="#d55700"/><rect x="573.92" y="244.11" width="7.2" height="7.2" fill="#d96100"/><rect x="579.98" y="244.11" width="7.2" height="7.2" fill="#dc6a00"/><rect x="586.04" y="244.11" width="7.2" height="7.2" fill="#de7000"/><rect x="592.10" y="244.11" width="7.2" height="7.2" fill="#e07400"/><rect x="380.00" y="238.04" width="7.2" height="7.2" fill="#6101c9"/><rect x="386.06" y="238.04" width="7.2" height="7.2" fill="#6801de"/><rect x="392.12" y="238.04" width="7.2" height="7.2" fill="#7302f5"/><rect x="398.18" y="238.04" width="7.2" height="7.2" fill="#8004ff"/><rect x="404.24" y="238.04" width="7.2" height="7.2" fill="#8e07ee"/><rect x="410.30" y="238.04" width="7.2" height="7.2" fill="#9d0eb1"/><rect x="416.36" y="238.04" width="7.2" height="7.2" fill="#ac1846"/><rect x="422.42" y="238.04" width="7.2" height="7.2" fill="#bb2700"/><rect x="428.48" y="238.04" width="7.2" height="7.2" fill="#c83c00"/><rect x="434.54" y="238.04" width="7.2" height="7.2" fill="#d55700"/><rect x="440.60" y="238.04" width="7.2" height="7.2" fill="#e07600"/><rect x="446.66" y="238.04" width="7.2" height="7.2" fill="#e89200"/><rect x="452.72" y="238.04" width="7.2" height="7.2" fill="#efac00"/><rect x="458.78" y="238.04" width="7.2" height="7.2" fill="#f4c100"/><rect x="464.84" y="238.04" width="7.2" height="7.2" fill="#f6ce00"/><rect x="470.90" y="238.04" width="7.2" height="7.2" fill="#f6cf00"/><rect x="476.96" y="238.04" width="7.2" height="7.2" fill="#f5c700"/><rect x="483.02" y="238.04" width="7.2" height="7.2" fill="#f2ba00"/><rect x="489.08" y="238.04" width="7.2" height="7.2" fill="#eea900"/><rect x="495.14" y="238.04" width="7.2" height="7.2" fill="#e99500"/><rect x="501.20" y="238.04" width="7.2" height="7.2" fill="#e38000"/><rect x="507.26" y="238.04" width="7.2" height="7.2" fill="#dd6d00"/><rect x="513.32" y="238.04" width="7.2" height="7.2" fill="#d85e00"/><rect x="519.38" y="238.04" width="7.2" height="7.2" fill="#d45400"/><rect x="525.44" y="238.04" width="7.2" height="7.2" fill="#d14d00"/><rect x="531.50" y="238.04" width="7.2" height="7.2" fill="#cf4900"/><rect x="537.56" y="238.04" width="7.2" height="7.2" fill="#ce4600"/><rect x="543.62" y="238.04" width="7.2" height="7.2" fill="#cd4500"/><rect x="549.68" y="238.04" width="7.2" height="7.2" fill="#cd4600"/><rect x="555.74" y="238.04" width="7.2" height="7.2" fill="#cf4800"/><rect x="561.80" y="238.04" width="7.2" height="7.2" fill="#d14e00"/><rect x="567.86" y="238.04" width="7.2" height="7.2" fill="#d45500"/><rect x="573.92" y="238.04" width="7.2" height="7.2" fill="#d85d00"/><rect x="579.98" y="238.04" width="7.2" height="7.2" fill="#da6500"/><rect x="586.04" y="238.04" width="7.2" height="7.2" fill="#dc6a00"/><rect x="592.10" y="238.04" width="7.2" height="7.2" fill="#de6e00"/><rect x="380.00" y="231.98" width="7.2" height="7.2" fill="#7202f3"/><rect x="386.06" y="231.98" width="7.2" height="7.2" fill="#7803fb"/><rect x="392.12" y="231.98" width="7.2" height="7.2" fill="#8204fe"/><rect x="398.18" y="231.98" width="7.2" height="7.2" fill="#8e07ee"/><rect x="404.24" y="231.98" width="7.2" height="7.2" fill="#9a0cbe"/><rect x="410.30" y="231.98" width="7.2" height="7.2" fill="#a81569"/><rect x="416.36" y="231.98" width="7.2" height="7.2" fill="#b52100"/><rect x="422.42" y="231.98" width="7.2" height="7.2" fill="#c23100"/><rect x="428.48" y="231.98" width="7.2" height="7.2" fill="#ce4700"/><rect x="434.54" y="231.98" width="7.2" height="7.2" fill="#d96200"/><rect x="440.60" y="231.98" width="7.2" height="7.2" fill="#e27d00"/><rect x="446.66" y="231.98" width="7.2" height="7.2" fill="#e99400"/><rect x="452.72" y="231.98" width="7.2" height="7.2" fill="#eea800"/><rect x="458.78" y="231.98" width="7.2" height="7.2" fill="#f1b800"/><rect x="464.84" y="231.98" width="7.2" height="7.2" fill="#f3c000"/><rect x="470.90" y="231.98" width="7.2" height="7.2" fill="#f3c000"/><rect x="476.96" y="231.98" width="7.2" height="7.2" fill="#f2ba00"/><rect x="483.02" y="231.98" width="7.2" height="7.2" fill="#f0b100"/><rect x="489.08" y="231.98" width="7.2" height="7.2" fill="#eda400"/><rect x="495.14" y="231.98" width="7.2" height="7.2" fill="#e99500"/><rect x="501.20" y="231.98" width="7.2" height="7.2" fill="#e48400"/><rect x="507.26" y="231.98" width="7.2" height="7.2" fill="#df7300"/><rect x="513.32" y="231.98" width="7.2" height="7.2" fill="#db6700"/><rect x="519.38" y="231.98" width="7.2" height="7.2" fill="#d85e00"/><rect x="525.44" y="231.98" width="7.2" height="7.2" fill="#d55700"/><rect x="531.50" y="231.98" width="7.2" height="7.2" fill="#d35100"/><rect x="537.56" y="231.98" width="7.2" height="7.2" fill="#d14e00"/><rect x="543.62" y="231.98" width="7.2" height="7.2" fill="#d04b00"/><rect x="549.68" y="231.98" width="7.2" height="7.2" fill="#d04a00"/><rect x="555.74" y="231.98" width="7.2" height="7.2" fill="#d04b00"/><rect x="561.80" y="231.98" width="7.2" height="7.2" fill="#d24e00"/><rect x="567.86" y="231.98" width="7.2" height="7.2" fill="#d35300"/><rect x="573.92" y="231.98" width="7.2" height="7.2" fill="#d65800"/><rect x="579.98" y="231.98" width="7.2" height="7.2" fill="#d85d00"/><rect x="586.04" y="231.98" width="7.2" height="7.2" fill="#d96100"/><rect x="592.10" y="231.98" width="7.2" height="7.2" fill="#da6500"/><rect x="380.00" y="225.92" width="7.2" height="7.2" fill="#8605fb"/><rect x="386.06" y="225.92" width="7.2" height="7.2" fill="#8b07f4"/><rect x="392.12" y="225.92" width="7.2" height="7.2" fill="#9309de"/><rect x="398.18" y="225.92" width="7.2" height="7.2" fill="#9d0eb1"/><rect x="404.24" y="225.92" width="7.2" height="7.2" fill="#a81569"/><rect x="410.30" y="225.92" width="7.2" height="7.2" fill="#b31f0b"/><rect x="416.36" y="225.92" width="7.2" height="7.2" fill="#be2c00"/><rect x="422.42" y="225.92" width="7.2" height="7.2" fill="#c93d00"/><rect x="428.48" y="225.92" width="7.2" height="7.2" fill="#d35300"/><rect x="434.54" y="225.92" width="7.2" height="7.2" fill="#dd6c00"/><rect x="440.60" y="225.92" width="7.2" height="7.2" fill="#e48200"/><rect x="446.66" y="225.92" width="7.2" height="7.2" fill="#e99600"/><rect x="452.72" y="225.92" width="7.2" height="7.2" fill="#eda400"/><rect x="458.78" y="225.92" width="7.2" height="7.2" fill="#efae00"/><rect x="464.84" y="225.92" width="7.2" height="7.2" fill="#f0b200"/><rect x="470.90" y="225.92" width="7.2" height="7.2" fill="#f0b100"/><rect x="476.96" y="225.92" width="7.2" height="7.2" fill="#efac00"/><rect x="483.02" y="225.92" width="7.2" height="7.2" fill="#eda600"/><rect x="489.08" y="225.92" width="7.2" height="7.2" fill="#eb9e00"/><rect x="495.14" y="225.92" width="7.2" height="7.2" fill="#e99400"/><rect x="501.20" y="225.92" width="7.2" height="7.2" fill="#e58600"/><rect x="507.26" y="225.92" width="7.2" height="7.2" fill="#e17a00"/><rect x="513.32" y="225.92" width="7.2" height="7.2" fill="#de7000"/><rect x="519.38" y="225.92" width="7.2" height="7.2" fill="#db6800"/><rect x="525.44" y="225.92" width="7.2" height="7.2" fill="#d96000"/><rect x="531.50" y="225.92" width="7.2" height="7.2" fill="#d65a00"/><rect x="537.56" y="225.92" width="7.2" height="7.2" fill="#d45500"/><rect x="543.62" y="225.92" width="7.2" height="7.2" fill="#d35100"/><rect x="549.68" y="225.92" width="7.2" height="7.2" fill="#d24f00"/><rect x="555.74" y="225.92" width="7.2" height="7.2" fill="#d24f00"/><rect x="561.80" y="225.92" width="7.2" height="7.2" fill="#d24f00"/><rect x="567.86" y="225.92" width="7.2" height="7.2" fill="#d35100"/><rect x="573.92" y="225.92" width="7.2" height="7.2" fill="#d35300"/><rect x="579.98" y="225.92" width="7.2" height="7.2" fill="#d45500"/><rect x="586.04" y="225.92" width="7.2" height="7.2" fill="#d55700"/><rect x="592.10" y="225.92" width="7.2" height="7.2" fill="#d65900"/><rect x="380.00" y="219.85" width="7.2" height="7.2" fill="#9a0dbe"/><rect x="386.06" y="219.85" width="7.2" height="7.2" fill="#9e0eaa"/><rect x="392.12" y="219.85" width="7.2" height="7.2" fill="#a41282"/><rect x="398.18" y="219.85" width="7.2" height="7.2" fill="#ac1846"/><rect x="404.24" y="219.85" width="7.2" height="7.2" fill="#b52100"/><rect x="410.30" y="219.85" width="7.2" height="7.2" fill="#be2c00"/><rect x="416.36" y="219.85" width="7.2" height="7.2" fill="#c83b00"/><rect x="422.42" y="219.85" width="7.2" height="7.2" fill="#d04b00"/><rect x="428.48" y="219.85" width="7.2" height="7.2" fill="#d85d00"/><rect x="434.54" y="219.85" width="7.2" height="7.2" fill="#df7200"/><rect x="440.60" y="219.85" width="7.2" height="7.2" fill="#e58600"/><rect x="446.66" y="219.85" width="7.2" height="7.2" fill="#e99600"/><rect x="452.72" y="219.85" width="7.2" height="7.2" fill="#eca100"/><rect x="458.78" y="219.85" width="7.2" height="7.2" fill="#eda600"/><rect x="464.84" y="219.85" width="7.2" height="7.2" fill="#eea600"/><rect x="470.90" y="219.85" width="7.2" height="7.2" fill="#eda400"/><rect x="476.96" y="219.85" width="7.2" height="7.2" fill="#eca000"/><rect x="483.02" y="219.85" width="7.2" height="7.2" fill="#eb9c00"/><rect x="489.08" y="219.85" width="7.2" height="7.2" fill="#ea9700"/><rect x="495.14" y="219.85" width="7.2" height="7.2" fill="#e89000"/><rect x="501.20" y="219.85" width="7.2" height="7.2" fill="#e58700"/><rect x="507.26" y="219.85" width="7.2" height="7.2" fill="#e37e00"/><rect x="513.32" y="219.85" width="7.2" height="7.2" fill="#e07600"/><rect x="519.38" y="219.85" width="7.2" height="7.2" fill="#de6e00"/><rect x="525.44" y="219.85" width="7.2" height="7.2" fill="#db6800"/><rect x="531.50" y="219.85" width="7.2" height="7.2" fill="#d96100"/><rect x="537.56" y="219.85" width="7.2" height="7.2" fill="#d75b00"/><rect x="543.62" y="219.85" width="7.2" height="7.2" fill="#d55700"/><rect x="549.68" y="219.85" width="7.2" height="7.2" fill="#d45400"/><rect x="555.74" y="219.85" width="7.2" height="7.2" fill="#d35200"/><rect x="561.80" y="219.85" width="7.2" height="7.2" fill="#d25000"/><rect x="567.86" y="219.85" width="7.2" height="7.2" fill="#d24f00"/><rect x="573.92" y="219.85" width="7.2" height="7.2" fill="#d24e00"/><rect x="579.98" y="219.85" width="7.2" height="7.2" fill="#d14e00"/><rect x="586.04" y="219.85" width="7.2" height="7.2" fill="#d14e00"/><rect x="592.10" y="219.85" width="7.2" height="7.2" fill="#d14e00"/><rect x="380.00" y="213.79" width="7.2" height="7.2" fill="#ad1940"/><rect x="386.06" y="213.79" width="7.2" height="7.2" fill="#b01b2a"/><rect x="392.12" y="213.79" width="7.2" height="7.2" fill="#b42000"/><rect x="398.18" y="213.79" width="7.2" height="7.2" fill="#bb2700"/><rect x="404.24" y="213.79" width="7.2" height="7.2" fill="#c23100"/><rect x="410.30" y="213.79" width="7.2" height="7.2" fill="#c93d00"/><rect x="416.36" y="213.79" width="7.2" height="7.2" fill="#d04b00"/><rect x="422.42" y="213.79" width="7.2" height="7.2" fill="#d65900"/><rect x="428.48" y="213.79" width="7.2" height="7.2" fill="#dc6900"/><rect x="434.54" y="213.79" width="7.2" height="7.2" fill="#e17900"/><rect x="440.60" y="213.79" width="7.2" height="7.2" fill="#e68a00"/><rect x="446.66" y="213.79" width="7.2" height="7.2" fill="#e99600"/><rect x="452.72" y="213.79" width="7.2" height="7.2" fill="#eb9d00"/><rect x="458.78" y="213.79" width="7.2" height="7.2" fill="#ec9f00"/><rect x="464.84" y="213.79" width="7.2" height="7.2" fill="#ec9e00"/><rect x="470.90" y="213.79" width="7.2" height="7.2" fill="#eb9c00"/><rect x="476.96" y="213.79" width="7.2" height="7.2" fill="#ea9900"/><rect x="483.02" y="213.79" width="7.2" height="7.2" fill="#e99600"/><rect x="489.08" y="213.79" width="7.2" height="7.2" fill="#e89200"/><rect x="495.14" y="213.79" width="7.2" height="7.2" fill="#e78d00"/><rect x="501.20" y="213.79" width="7.2" height="7.2" fill="#e58700"/><rect x="507.26" y="213.79" width="7.2" height="7.2" fill="#e38000"/><rect x="513.32" y="213.79" width="7.2" height="7.2" fill="#e17900"/><rect x="519.38" y="213.79" width="7.2" height="7.2" fill="#df7200"/><rect x="525.44" y="213.79" width="7.2" height="7.2" fill="#dd6b00"/><rect x="531.50" y="213.79" width="7.2" height="7.2" fill="#db6500"/><rect x="537.56" y="213.79" width="7.2" height="7.2" fill="#d96000"/><rect x="543.62" y="213.79" width="7.2" height="7.2" fill="#d75c00"/><rect x="549.68" y="213.79" width="7.2" height="7.2" fill="#d65800"/><rect x="555.74" y="213.79" width="7.2" height="7.2" fill="#d45500"/><rect x="561.80" y="213.79" width="7.2" height="7.2" fill="#d35200"/><rect x="567.86" y="213.79" width="7.2" height="7.2" fill="#d24f00"/><rect x="573.92" y="213.79" width="7.2" height="7.2" fill="#d04b00"/><rect x="579.98" y="213.79" width="7.2" height="7.2" fill="#cf4800"/><rect x="586.04" y="213.79" width="7.2" height="7.2" fill="#ce4600"/><rect x="592.10" y="213.79" width="7.2" height="7.2" fill="#ce4600"/><rect x="380.00" y="207.72" width="7.2" height="7.2" fill="#be2b00"/><rect x="386.06" y="207.72" width="7.2" height="7.2" fill="#c02e00"/><rect x="392.12" y="207.72" width="7.2" height="7.2" fill="#c33400"/><rect x="398.18" y="207.72" width="7.2" height="7.2" fill="#c83c00"/><rect x="404.24" y="207.72" width="7.2" height="7.2" fill="#ce4700"/><rect x="410.30" y="207.72" width="7.2" height="7.2" fill="#d35300"/><rect x="416.36" y="207.72" width="7.2" height="7.2" fill="#d85d00"/><rect x="422.42" y="207.72" width="7.2" height="7.2" fill="#dc6900"/><rect x="428.48" y="207.72" width="7.2" height="7.2" fill="#e07400"/><rect x="434.54" y="207.72" width="7.2" height="7.2" fill="#e48200"/><rect x="440.60" y="207.72" width="7.2" height="7.2" fill="#e78e00"/><rect x="446.66" y="207.72" width="7.2" height="7.2" fill="#ea9700"/><rect x="452.72" y="207.72" width="7.2" height="7.2" fill="#eb9b00"/><rect x="458.78" y="207.72" width="7.2" height="7.2" fill="#eb9c00"/><rect x="464.84" y="207.72" width="7.2" height="7.2" fill="#ea9a00"/><rect x="470.90" y="207.72" width="7.2" height="7.2" fill="#ea9800"/><rect x="476.96" y="207.72" width="7.2" height="7.2" fill="#e99500"/><rect x="483.02" y="207.72" width="7.2" height="7.2" fill="#e89200"/><rect x="489.08" y="207.72" width="7.2" height="7.2" fill="#e88f00"/><rect x="495.14" y="207.72" width="7.2" height="7.2" fill="#e78b00"/><rect x="501.20" y="207.72" width="7.2" height="7.2" fill="#e58600"/><rect x="507.26" y="207.72" width="7.2" height="7.2" fill="#e38100"/><rect x="513.32" y="207.72" width="7.2" height="7.2" fill="#e27a00"/><rect x="519.38" y="207.72" width="7.2" height="7.2" fill="#e07400"/><rect x="525.44" y="207.72" width="7.2" height="7.2" fill="#de6e00"/><rect x="531.50" y="207.72" width="7.2" height="7.2" fill="#dc6900"/><rect x="537.56" y="207.72" width="7.2" height="7.2" fill="#db6500"/><rect x="543.62" y="207.72" width="7.2" height="7.2" fill="#d96100"/><rect x="549.68" y="207.72" width="7.2" height="7.2" fill="#d75d00"/><rect x="555.74" y="207.72" width="7.2" height="7.2" fill="#d65800"/><rect x="561.80" y="207.72" width="7.2" height="7.2" fill="#d45400"/><rect x="567.86" y="207.72" width="7.2" height="7.2" fill="#d24f00"/><rect x="573.92" y="207.72" width="7.2" height="7.2" fill="#d04a00"/><rect x="579.98" y="207.72" width="7.2" height="7.2" fill="#cd4600"/><rect x="586.04" y="207.72" width="7.2" height="7.2" fill="#cc4200"/><rect x="592.10" y="207.72" width="7.2" height="7.2" fill="#cb4000"/><rect x="380.00" y="201.66" width="7.2" height="7.2" fill="#ce4700"/><rect x="386.06" y="201.66" width="7.2" height="7.2" fill="#cf4a00"/><rect x="392.12" y="201.66" width="7.2" height="7.2" fill="#d24f00"/><rect x="398.18" y="201.66" width="7.2" height="7.2" fill="#d55700"/><rect x="404.24" y="201.66" width="7.2" height="7.2" fill="#d96200"/><rect x="410.30" y="201.66" width="7.2" height="7.2" fill="#dd6c00"/><rect x="416.36" y="201.66" width="7.2" height="7.2" fill="#df7200"/><rect x="422.42" y="201.66" width="7.2" height="7.2" fill="#e17900"/><rect x="428.48" y="201.66" width="7.2" height="7.2" fill="#e48200"/><rect x="434.54" y="201.66" width="7.2" height="7.2" fill="#e78c00"/><rect x="440.60" y="201.66" width="7.2" height="7.2" fill="#e99400"/><rect x="446.66" y="201.66" width="7.2" height="7.2" fill="#ea9a00"/><rect x="452.72" y="201.66" width="7.2" height="7.2" fill="#eb9b00"/><rect x="458.78" y="201.66" width="7.2" height="7.2" fill="#eb9b00"/><rect x="464.84" y="201.66" width="7.2" height="7.2" fill="#ea9900"/><rect x="470.90" y="201.66" width="7.2" height="7.2" fill="#e99600"/><rect x="476.96" y="201.66" width="7.2" height="7.2" fill="#e99300"/><rect x="483.02" y="201.66" width="7.2" height="7.2" fill="#e89100"/><rect x="489.08" y="201.66" width="7.2" height="7.2" fill="#e78e00"/><rect x="495.14" y="201.66" width="7.2" height="7.2" fill="#e68a00"/><rect x="501.20" y="201.66" width="7.2" height="7.2" fill="#e58600"/><rect x="507.26" y="201.66" width="7.2" height="7.2" fill="#e48100"/><rect x="513.32" y="201.66" width="7.2" height="7.2" fill="#e27c00"/><rect x="519.38" y="201.66" width="7.2" height="7.2" fill="#e07700"/><rect x="525.44" y="201.66" width="7.2" height="7.2" fill="#df7100"/><rect x="531.50" y="201.66" width="7.2" height="7.2" fill="#dd6d00"/><rect x="537.56" y="201.66" width="7.2" height="7.2" fill="#dc6a00"/><rect x="543.62" y="201.66" width="7.2" height="7.2" fill="#db6600"/><rect x="549.68" y="201.66" width="7.2" height="7.2" fill="#d96100"/><rect x="555.74" y="201.66" width="7.2" height="7.2" fill="#d75c00"/><rect x="561.80" y="201.66" width="7.2" height="7.2" fill="#d55700"/><rect x="567.86" y="201.66" width="7.2" height="7.2" fill="#d35100"/><rect x="573.92" y="201.66" width="7.2" height="7.2" fill="#d04b00"/><rect x="579.98" y="201.66" width="7.2" height="7.2" fill="#cd4500"/><rect x="586.04" y="201.66" width="7.2" height="7.2" fill="#ca3f00"/><rect x="592.10" y="201.66" width="7.2" height="7.2" fill="#c93d00"/><rect x="380.00" y="195.60" width="7.2" height="7.2" fill="#dc6b00"/><rect x="386.06" y="195.60" width="7.2" height="7.2" fill="#dd6c00"/><rect x="392.12" y="195.60" width="7.2" height="7.2" fill="#de7000"/><rect x="398.18" y="195.60" width="7.2" height="7.2" fill="#e07600"/><rect x="404.24" y="195.60" width="7.2" height="7.2" fill="#e27d00"/><rect x="410.30" y="195.60" width="7.2" height="7.2" fill="#e48200"/><rect x="416.36" y="195.60" width="7.2" height="7.2" fill="#e58600"/><rect x="422.42" y="195.60" width="7.2" height="7.2" fill="#e68a00"/><rect x="428.48" y="195.60" width="7.2" height="7.2" fill="#e78e00"/><rect x="434.54" y="195.60" width="7.2" height="7.2" fill="#e99400"/><rect x="440.60" y="195.60" width="7.2" height="7.2" fill="#ea9a00"/><rect x="446.66" y="195.60" width="7.2" height="7.2" fill="#eb9c00"/><rect x="452.72" y="195.60" width="7.2" height="7.2" fill="#eb9c00"/><rect x="458.78" y="195.60" width="7.2" height="7.2" fill="#eb9a00"/><rect x="464.84" y="195.60" width="7.2" height="7.2" fill="#ea9800"/><rect x="470.90" y="195.60" width="7.2" height="7.2" fill="#e99600"/><rect x="476.96" y="195.60" width="7.2" height="7.2" fill="#e99300"/><rect x="483.02" y="195.60" width="7.2" height="7.2" fill="#e89100"/><rect x="489.08" y="195.60" width="7.2" height="7.2" fill="#e78e00"/><rect x="495.14" y="195.60" width="7.2" height="7.2" fill="#e68b00"/><rect x="501.20" y="195.60" width="7.2" height="7.2" fill="#e58700"/><rect x="507.26" y="195.60" width="7.2" height="7.2" fill="#e48300"/><rect x="513.32" y="195.60" width="7.2" height="7.2" fill="#e37e00"/><rect x="519.38" y="195.60" width="7.2" height="7.2" fill="#e17900"/><rect x="525.44" y="195.60" width="7.2" height="7.2" fill="#e07500"/><rect x="531.50" y="195.60" width="7.2" height="7.2" fill="#df7100"/><rect x="537.56" y="195.60" width="7.2" height="7.2" fill="#dd6d00"/><rect x="543.62" y="195.60" width="7.2" height="7.2" fill="#dc6a00"/><rect x="549.68" y="195.60" width="7.2" height="7.2" fill="#db6500"/><rect x="555.74" y="195.60" width="7.2" height="7.2" fill="#d96000"/><rect x="561.80" y="195.60" width="7.2" height="7.2" fill="#d75b00"/><rect x="567.86" y="195.60" width="7.2" height="7.2" fill="#d45500"/><rect x="573.92" y="195.60" width="7.2" height="7.2" fill="#d14e00"/><rect x="579.98" y="195.60" width="7.2" height="7.2" fill="#ce4600"/><rect x="586.04" y="195.60" width="7.2" height="7.2" fill="#ca3f00"/><rect x="592.10" y="195.60" width="7.2" height="7.2" fill="#c83b00"/><rect x="380.00" y="189.53" width="7.2" height="7.2" fill="#e78d00"/><rect x="386.06" y="189.53" width="7.2" height="7.2" fill="#e78e00"/><rect x="392.12" y="189.53" width="7.2" height="7.2" fill="#e89000"/><rect x="398.18" y="189.53" width="7.2" height="7.2" fill="#e89200"/><rect x="404.24" y="189.53" width="7.2" height="7.2" fill="#e99400"/><rect x="410.30" y="189.53" width="7.2" height="7.2" fill="#e99600"/><rect x="416.36" y="189.53" width="7.2" height="7.2" fill="#e99600"/><rect x="422.42" y="189.53" width="7.2" height="7.2" fill="#e99600"/><rect x="428.48" y="189.53" width="7.2" height="7.2" fill="#ea9700"/><rect x="434.54" y="189.53" width="7.2" height="7.2" fill="#ea9a00"/><rect x="440.60" y="189.53" width="7.2" height="7.2" fill="#eb9c00"/><rect x="446.66" y="189.53" width="7.2" height="7.2" fill="#eb9c00"/><rect x="452.72" y="189.53" width="7.2" height="7.2" fill="#eb9c00"/><rect x="458.78" y="189.53" width="7.2" height="7.2" fill="#ea9a00"/><rect x="464.84" y="189.53" width="7.2" height="7.2" fill="#ea9800"/><rect x="470.90" y="189.53" width="7.2" height="7.2" fill="#e99600"/><rect x="476.96" y="189.53" width="7.2" height="7.2" fill="#e99300"/><rect x="483.02" y="189.53" width="7.2" height="7.2" fill="#e89100"/><rect x="489.08" y="189.53" width="7.2" height="7.2" fill="#e78e00"/><rect x="495.14" y="189.53" width="7.2" height="7.2" fill="#e78b00"/><rect x="501.20" y="189.53" width="7.2" height="7.2" fill="#e68800"/><rect x="507.26" y="189.53" width="7.2" height="7.2" fill="#e58400"/><rect x="513.32" y="189.53" width="7.2" height="7.2" fill="#e38000"/><rect x="519.38" y="189.53" width="7.2" height="7.2" fill="#e27c00"/><rect x="525.44" y="189.53" width="7.2" height="7.2" fill="#e17800"/><rect x="531.50" y="189.53" width="7.2" height="7.2" fill="#e07500"/><rect x="537.56" y="189.53" width="7.2" height="7.2" fill="#df7100"/><rect x="543.62" y="189.53" width="7.2" height="7.2" fill="#dd6d00"/><rect x="549.68" y="189.53" width="7.2" height="7.2" fill="#dc6900"/><rect x="555.74" y="189.53" width="7.2" height="7.2" fill="#db6500"/><rect x="561.80" y="189.53" width="7.2" height="7.2" fill="#d96100"/><rect x="567.86" y="189.53" width="7.2" height="7.2" fill="#d65a00"/><rect x="573.92" y="189.53" width="7.2" height="7.2" fill="#d35100"/><rect x="579.98" y="189.53" width="7.2" height="7.2" fill="#cf4900"/><rect x="586.04" y="189.53" width="7.2" height="7.2" fill="#cb4100"/><rect x="592.10" y="189.53" width="7.2" height="7.2" fill="#c93d00"/><rect x="380.00" y="183.47" width="7.2" height="7.2" fill="#efab00"/><rect x="386.06" y="183.47" width="7.2" height="7.2" fill="#efad00"/><rect x="392.12" y="183.47" width="7.2" height="7.2" fill="#efae00"/><rect x="398.18" y="183.47" width="7.2" height="7.2" fill="#efac00"/><rect x="404.24" y="183.47" width="7.2" height="7.2" fill="#eea800"/><rect x="410.30" y="183.47" width="7.2" height="7.2" fill="#eda400"/><rect x="416.36" y="183.47" width="7.2" height="7.2" fill="#eca100"/><rect x="422.42" y="183.47" width="7.2" height="7.2" fill="#eb9d00"/><rect x="428.48" y="183.47" width="7.2" height="7.2" fill="#eb9b00"/><rect x="434.54" y="183.47" width="7.2" height="7.2" fill="#eb9b00"/><rect x="440.60" y="183.47" width="7.2" height="7.2" fill="#eb9c00"/><rect x="446.66" y="183.47" width="7.2" height="7.2" fill="#eb9c00"/><rect x="452.72" y="183.47" width="7.2" height="7.2" fill="#eb9b00"/><rect x="458.78" y="183.47" width="7.2" height="7.2" fill="#ea9a00"/><rect x="464.84" y="183.47" width="7.2" height="7.2" fill="#ea9800"/><rect x="470.90" y="183.47" width="7.2" height="7.2" fill="#e99600"/><rect x="476.96" y="183.47" width="7.2" height="7.2" fill="#e99400"/><rect x="483.02" y="183.47" width="7.2" height="7.2" fill="#e89100"/><rect x="489.08" y="183.47" width="7.2" height="7.2" fill="#e88f00"/><rect x="495.14" y="183.47" width="7.2" height="7.2" fill="#e78c00"/><rect x="501.20" y="183.47" width="7.2" height="7.2" fill="#e68900"/><rect x="507.26" y="183.47" width="7.2" height="7.2" fill="#e58600"/><rect x="513.32" y="183.47" width="7.2" height="7.2" fill="#e48300"/><rect x="519.38" y="183.47" width="7.2" height="7.2" fill="#e37f00"/><rect x="525.44" y="183.47" width="7.2" height="7.2" fill="#e27c00"/><rect x="531.50" y="183.47" width="7.2" height="7.2" fill="#e17800"/><rect x="537.56" y="183.47" width="7.2" height="7.2" fill="#e07500"/><rect x="543.62" y="183.47" width="7.2" height="7.2" fill="#df7100"/><rect x="549.68" y="183.47" width="7.2" height="7.2" fill="#de6e00"/><rect x="555.74" y="183.47" width="7.2" height="7.2" fill="#dd6b00"/><rect x="561.80" y="183.47" width="7.2" height="7.2" fill="#db6800"/><rect x="567.86" y="183.47" width="7.2" height="7.2" fill="#d96000"/><rect x="573.92" y="183.47" width="7.2" height="7.2" fill="#d55700"/><rect x="579.98" y="183.47" width="7.2" height="7.2" fill="#d14d00"/><rect x="586.04" y="183.47" width="7.2" height="7.2" fill="#cd4500"/><rect x="592.10" y="183.47" width="7.2" height="7.2" fill="#ca4000"/><rect x="380.00" y="177.41" width="7.2" height="7.2" fill="#f4c500"/><rect x="386.06" y="177.41" width="7.2" height="7.2" fill="#f5cb00"/><rect x="392.12" y="177.41" width="7.2" height="7.2" fill="#f5c900"/><rect x="398.18" y="177.41" width="7.2" height="7.2" fill="#f4c100"/><rect x="404.24" y="177.41" width="7.2" height="7.2" fill="#f1b800"/><rect x="410.30" y="177.41" width="7.2" height="7.2" fill="#efae00"/><rect x="416.36" y="177.41" width="7.2" height="7.2" fill="#eda600"/><rect x="422.42" y="177.41" width="7.2" height="7.2" fill="#ec9f00"/><rect x="428.48" y="177.41" width="7.2" height="7.2" fill="#eb9c00"/><rect x="434.54" y="177.41" width="7.2" height="7.2" fill="#eb9b00"/><rect x="440.60" y="177.41" width="7.2" height="7.2" fill="#eb9a00"/><rect x="446.66" y="177.41" width="7.2" height="7.2" fill="#ea9a00"/><rect x="452.72" y="177.41" width="7.2" height="7.2" fill="#ea9a00"/><rect x="458.78" y="177.41" width="7.2" height="7.2" fill="#ea9900"/><rect x="464.84" y="177.41" width="7.2" height="7.2" fill="#ea9700"/><rect x="470.90" y="177.41" width="7.2" height="7.2" fill="#e99600"/><rect x="476.96" y="177.41" width="7.2" height="7.2" fill="#e99400"/><rect x="483.02" y="177.41" width="7.2" height="7.2" fill="#e89200"/><rect x="489.08" y="177.41" width="7.2" height="7.2" fill="#e89000"/><rect x="495.14" y="177.41" width="7.2" height="7.2" fill="#e78e00"/><rect x="501.20" y="177.41" width="7.2" height="7.2" fill="#e78b00"/><rect x="507.26" y="177.41" width="7.2" height="7.2" fill="#e68800"/><rect x="513.32" y="177.41" width="7.2" height="7.2" fill="#e58500"/><rect x="519.38" y="177.41" width="7.2" height="7.2" fill="#e48200"/><rect x="525.44" y="177.41" width="7.2" height="7.2" fill="#e37f00"/><rect x="531.50" y="177.41" width="7.2" height="7.2" fill="#e27c00"/><rect x="537.56" y="177.41" width="7.2" height="7.2" fill="#e17900"/><rect x="543.62" y="177.41" width="7.2" height="7.2" fill="#e07700"/><rect x="549.68" y="177.41" width="7.2" height="7.2" fill="#e07400"/><rect x="555.74" y="177.41" width="7.2" height="7.2" fill="#df7200"/><rect x="561.80" y="177.41" width="7.2" height="7.2" fill="#de6e00"/><rect x="567.86" y="177.41" width="7.2" height="7.2" fill="#db6800"/><rect x="573.92" y="177.41" width="7.2" height="7.2" fill="#d85e00"/><rect x="579.98" y="177.41" width="7.2" height="7.2" fill="#d45400"/><rect x="586.04" y="177.41" width="7.2" height="7.2" fill="#d04b00"/><rect x="592.10" y="177.41" width="7.2" height="7.2" fill="#ce4600"/><rect x="380.00" y="171.34" width="7.2" height="7.2" fill="#f7d400"/><rect x="386.06" y="171.34" width="7.2" height="7.2" fill="#f9dd00"/><rect x="392.12" y="171.34" width="7.2" height="7.2" fill="#f8da00"/><rect x="398.18" y="171.34" width="7.2" height="7.2" fill="#f6ce00"/><rect x="404.24" y="171.34" width="7.2" height="7.2" fill="#f3c000"/><rect x="410.30" y="171.34" width="7.2" height="7.2" fill="#f0b200"/><rect x="416.36" y="171.34" width="7.2" height="7.2" fill="#eea600"/><rect x="422.42" y="171.34" width="7.2" height="7.2" fill="#ec9e00"/><rect x="428.48" y="171.34" width="7.2" height="7.2" fill="#ea9a00"/><rect x="434.54" y="171.34" width="7.2" height="7.2" fill="#ea9900"/><rect x="440.60" y="171.34" width="7.2" height="7.2" fill="#ea9800"/><rect x="446.66" y="171.34" width="7.2" height="7.2" fill="#ea9800"/><rect x="452.72" y="171.34" width="7.2" height="7.2" fill="#ea9800"/><rect x="458.78" y="171.34" width="7.2" height="7.2" fill="#ea9700"/><rect x="464.84" y="171.34" width="7.2" height="7.2" fill="#ea9700"/><rect x="470.90" y="171.34" width="7.2" height="7.2" fill="#e99600"/><rect x="476.96" y="171.34" width="7.2" height="7.2" fill="#e99400"/><rect x="483.02" y="171.34" width="7.2" height="7.2" fill="#e99300"/><rect x="489.08" y="171.34" width="7.2" height="7.2" fill="#e89100"/><rect x="495.14" y="171.34" width="7.2" height="7.2" fill="#e88f00"/><rect x="501.20" y="171.34" width="7.2" height="7.2" fill="#e78d00"/><rect x="507.26" y="171.34" width="7.2" height="7.2" fill="#e68b00"/><rect x="513.32" y="171.34" width="7.2" height="7.2" fill="#e68800"/><rect x="519.38" y="171.34" width="7.2" height="7.2" fill="#e58500"/><rect x="525.44" y="171.34" width="7.2" height="7.2" fill="#e48300"/><rect x="531.50" y="171.34" width="7.2" height="7.2" fill="#e38000"/><rect x="537.56" y="171.34" width="7.2" height="7.2" fill="#e37e00"/><rect x="543.62" y="171.34" width="7.2" height="7.2" fill="#e27c00"/><rect x="549.68" y="171.34" width="7.2" height="7.2" fill="#e27a00"/><rect x="555.74" y="171.34" width="7.2" height="7.2" fill="#e17900"/><rect x="561.80" y="171.34" width="7.2" height="7.2" fill="#e07600"/><rect x="567.86" y="171.34" width="7.2" height="7.2" fill="#de7000"/><rect x="573.92" y="171.34" width="7.2" height="7.2" fill="#db6700"/><rect x="579.98" y="171.34" width="7.2" height="7.2" fill="#d85e00"/><rect x="586.04" y="171.34" width="7.2" height="7.2" fill="#d55700"/><rect x="592.10" y="171.34" width="7.2" height="7.2" fill="#d35200"/><rect x="380.00" y="165.28" width="7.2" height="7.2" fill="#f8d500"/><rect x="386.06" y="165.28" width="7.2" height="7.2" fill="#f9dc00"/><rect x="392.12" y="165.28" width="7.2" height="7.2" fill="#f8da00"/><rect x="398.18" y="165.28" width="7.2" height="7.2" fill="#f6cf00"/><rect x="404.24" y="165.28" width="7.2" height="7.2" fill="#f3c000"/><rect x="410.30" y="165.28" width="7.2" height="7.2" fill="#f0b100"/><rect x="416.36" y="165.28" width="7.2" height="7.2" fill="#eda400"/><rect x="422.42" y="165.28" width="7.2" height="7.2" fill="#eb9c00"/><rect x="428.48" y="165.28" width="7.2" height="7.2" fill="#ea9800"/><rect x="434.54" y="165.28" width="7.2" height="7.2" fill="#e99600"/><rect x="440.60" y="165.28" width="7.2" height="7.2" fill="#e99600"/><rect x="446.66" y="165.28" width="7.2" height="7.2" fill="#e99600"/><rect x="452.72" y="165.28" width="7.2" height="7.2" fill="#e99600"/><rect x="458.78" y="165.28" width="7.2" height="7.2" fill="#e99600"/><rect x="464.84" y="165.28" width="7.2" height="7.2" fill="#e99600"/><rect x="470.90" y="165.28" width="7.2" height="7.2" fill="#e99500"/><rect x="476.96" y="165.28" width="7.2" height="7.2" fill="#e99500"/><rect x="483.02" y="165.28" width="7.2" height="7.2" fill="#e99400"/><rect x="489.08" y="165.28" width="7.2" height="7.2" fill="#e89200"/><rect x="495.14" y="165.28" width="7.2" height="7.2" fill="#e89100"/><rect x="501.20" y="165.28" width="7.2" height="7.2" fill="#e88f00"/><rect x="507.26" y="165.28" width="7.2" height="7.2" fill="#e78d00"/><rect x="513.32" y="165.28" width="7.2" height="7.2" fill="#e68b00"/><rect x="519.38" y="165.28" width="7.2" height="7.2" fill="#e68800"/><rect x="525.44" y="165.28" width="7.2" height="7.2" fill="#e58600"/><rect x="531.50" y="165.28" width="7.2" height="7.2" fill="#e58400"/><rect x="537.56" y="165.28" width="7.2" height="7.2" fill="#e48300"/><rect x="543.62" y="165.28" width="7.2" height="7.2" fill="#e48100"/><rect x="549.68" y="165.28" width="7.2" height="7.2" fill="#e38100"/><rect x="555.74" y="165.28" width="7.2" height="7.2" fill="#e38000"/><rect x="561.80" y="165.28" width="7.2" height="7.2" fill="#e37e00"/><rect x="567.86" y="165.28" width="7.2" height="7.2" fill="#e17a00"/><rect x="573.92" y="165.28" width="7.2" height="7.2" fill="#df7300"/><rect x="579.98" y="165.28" width="7.2" height="7.2" fill="#dd6d00"/><rect x="586.04" y="165.28" width="7.2" height="7.2" fill="#db6700"/><rect x="592.10" y="165.28" width="7.2" height="7.2" fill="#da6200"/><rect x="380.00" y="159.21" width="7.2" height="7.2" fill="#f6cc00"/><rect x="386.06" y="159.21" width="7.2" height="7.2" fill="#f7d100"/><rect x="392.12" y="159.21" width="7.2" height="7.2" fill="#f6cf00"/><rect x="398.18" y="159.21" width="7.2" height="7.2" fill="#f5c700"/><rect x="404.24" y="159.21" width="7.2" height="7.2" fill="#f2ba00"/><rect x="410.30" y="159.21" width="7.2" height="7.2" fill="#efac00"/><rect x="416.36" y="159.21" width="7.2" height="7.2" fill="#eca000"/><rect x="422.42" y="159.21" width="7.2" height="7.2" fill="#ea9900"/><rect x="428.48" y="159.21" width="7.2" height="7.2" fill="#e99500"/><rect x="434.54" y="159.21" width="7.2" height="7.2" fill="#e99300"/><rect x="440.60" y="159.21" width="7.2" height="7.2" fill="#e99300"/><rect x="446.66" y="159.21" width="7.2" height="7.2" fill="#e99300"/><rect x="452.72" y="159.21" width="7.2" height="7.2" fill="#e99400"/><rect x="458.78" y="159.21" width="7.2" height="7.2" fill="#e99400"/><rect x="464.84" y="159.21" width="7.2" height="7.2" fill="#e99400"/><rect x="470.90" y="159.21" width="7.2" height="7.2" fill="#e99500"/><rect x="476.96" y="159.21" width="7.2" height="7.2" fill="#e99400"/><rect x="483.02" y="159.21" width="7.2" height="7.2" fill="#e99400"/><rect x="489.08" y="159.21" width="7.2" height="7.2" fill="#e99300"/><rect x="495.14" y="159.21" width="7.2" height="7.2" fill="#e89200"/><rect x="501.20" y="159.21" width="7.2" height="7.2" fill="#e89100"/><rect x="507.26" y="159.21" width="7.2" height="7.2" fill="#e88f00"/><rect x="513.32" y="159.21" width="7.2" height="7.2" fill="#e78d00"/><rect x="519.38" y="159.21" width="7.2" height="7.2" fill="#e78b00"/><rect x="525.44" y="159.21" width="7.2" height="7.2" fill="#e68900"/><rect x="531.50" y="159.21" width="7.2" height="7.2" fill="#e68800"/><rect x="537.56" y="159.21" width="7.2" height="7.2" fill="#e58700"/><rect x="543.62" y="159.21" width="7.2" height="7.2" fill="#e58600"/><rect x="549.68" y="159.21" width="7.2" height="7.2" fill="#e58600"/><rect x="555.74" y="159.21" width="7.2" height="7.2" fill="#e58700"/><rect x="561.80" y="159.21" width="7.2" height="7.2" fill="#e58700"/><rect x="567.86" y="159.21" width="7.2" height="7.2" fill="#e58600"/><rect x="573.92" y="159.21" width="7.2" height="7.2" fill="#e48400"/><rect x="579.98" y="159.21" width="7.2" height="7.2" fill="#e38000"/><rect x="586.04" y="159.21" width="7.2" height="7.2" fill="#e27c00"/><rect x="592.10" y="159.21" width="7.2" height="7.2" fill="#e17800"/><rect x="380.00" y="153.15" width="7.2" height="7.2" fill="#f2bb00"/><rect x="386.06" y="153.15" width="7.2" height="7.2" fill="#f3c000"/><rect x="392.12" y="153.15" width="7.2" height="7.2" fill="#f3bf00"/><rect x="398.18" y="153.15" width="7.2" height="7.2" fill="#f2ba00"/><rect x="404.24" y="153.15" width="7.2" height="7.2" fill="#f0b100"/><rect x="410.30" y="153.15" width="7.2" height="7.2" fill="#eda600"/><rect x="416.36" y="153.15" width="7.2" height="7.2" fill="#eb9c00"/><rect x="422.42" y="153.15" width="7.2" height="7.2" fill="#e99600"/><rect x="428.48" y="153.15" width="7.2" height="7.2" fill="#e89200"/><rect x="434.54" y="153.15" width="7.2" height="7.2" fill="#e89100"/><rect x="440.60" y="153.15" width="7.2" height="7.2" fill="#e89100"/><rect x="446.66" y="153.15" width="7.2" height="7.2" fill="#e89100"/><rect x="452.72" y="153.15" width="7.2" height="7.2" fill="#e89100"/><rect x="458.78" y="153.15" width="7.2" height="7.2" fill="#e89200"/><rect x="464.84" y="153.15" width="7.2" height="7.2" fill="#e99300"/><rect x="470.90" y="153.15" width="7.2" height="7.2" fill="#e99400"/><rect x="476.96" y="153.15" width="7.2" height="7.2" fill="#e99400"/><rect x="483.02" y="153.15" width="7.2" height="7.2" fill="#e99400"/><rect x="489.08" y="153.15" width="7.2" height="7.2" fill="#e99400"/><rect x="495.14" y="153.15" width="7.2" height="7.2" fill="#e99300"/><rect x="501.20" y="153.15" width="7.2" height="7.2" fill="#e89200"/><rect x="507.26" y="153.15" width="7.2" height="7.2" fill="#e89100"/><rect x="513.32" y="153.15" width="7.2" height="7.2" fill="#e88f00"/><rect x="519.38" y="153.15" width="7.2" height="7.2" fill="#e78e00"/><rect x="525.44" y="153.15" width="7.2" height="7.2" fill="#e78c00"/><rect x="531.50" y="153.15" width="7.2" height="7.2" fill="#e78b00"/><rect x="537.56" y="153.15" width="7.2" height="7.2" fill="#e68b00"/><rect x="543.62" y="153.15" width="7.2" height="7.2" fill="#e68a00"/><rect x="549.68" y="153.15" width="7.2" height="7.2" fill="#e78b00"/><rect x="555.74" y="153.15" width="7.2" height="7.2" fill="#e78d00"/><rect x="561.80" y="153.15" width="7.2" height="7.2" fill="#e89000"/><rect x="567.86" y="153.15" width="7.2" height="7.2" fill="#e99400"/><rect x="573.92" y="153.15" width="7.2" height="7.2" fill="#e99500"/><rect x="579.98" y="153.15" width="7.2" height="7.2" fill="#e99500"/><rect x="586.04" y="153.15" width="7.2" height="7.2" fill="#e99400"/><rect x="592.10" y="153.15" width="7.2" height="7.2" fill="#e89100"/><rect x="380.00" y="147.09" width="7.2" height="7.2" fill="#eda600"/><rect x="386.06" y="147.09" width="7.2" height="7.2" fill="#eeaa00"/><rect x="392.12" y="147.09" width="7.2" height="7.2" fill="#efab00"/><rect x="398.18" y="147.09" width="7.2" height="7.2" fill="#eea900"/><rect x="404.24" y="147.09" width="7.2" height="7.2" fill="#eda400"/><rect x="410.30" y="147.09" width="7.2" height="7.2" fill="#eb9e00"/><rect x="416.36" y="147.09" width="7.2" height="7.2" fill="#ea9700"/><rect x="422.42" y="147.09" width="7.2" height="7.2" fill="#e89200"/><rect x="428.48" y="147.09" width="7.2" height="7.2" fill="#e88f00"/><rect x="434.54" y="147.09" width="7.2" height="7.2" fill="#e78e00"/><rect x="440.60" y="147.09" width="7.2" height="7.2" fill="#e78e00"/><rect x="446.66" y="147.09" width="7.2" height="7.2" fill="#e78e00"/><rect x="452.72" y="147.09" width="7.2" height="7.2" fill="#e88f00"/><rect x="458.78" y="147.09" width="7.2" height="7.2" fill="#e89000"/><rect x="464.84" y="147.09" width="7.2" height="7.2" fill="#e89100"/><rect x="470.90" y="147.09" width="7.2" height="7.2" fill="#e89200"/><rect x="476.96" y="147.09" width="7.2" height="7.2" fill="#e99300"/><rect x="483.02" y="147.09" width="7.2" height="7.2" fill="#e99400"/><rect x="489.08" y="147.09" width="7.2" height="7.2" fill="#e99400"/><rect x="495.14" y="147.09" width="7.2" height="7.2" fill="#e99400"/><rect x="501.20" y="147.09" width="7.2" height="7.2" fill="#e99300"/><rect x="507.26" y="147.09" width="7.2" height="7.2" fill="#e89200"/><rect x="513.32" y="147.09" width="7.2" height="7.2" fill="#e89100"/><rect x="519.38" y="147.09" width="7.2" height="7.2" fill="#e89000"/><rect x="525.44" y="147.09" width="7.2" height="7.2" fill="#e88f00"/><rect x="531.50" y="147.09" width="7.2" height="7.2" fill="#e78e00"/><rect x="537.56" y="147.09" width="7.2" height="7.2" fill="#e78e00"/><rect x="543.62" y="147.09" width="7.2" height="7.2" fill="#e78e00"/><rect x="549.68" y="147.09" width="7.2" height="7.2" fill="#e88f00"/><rect x="555.74" y="147.09" width="7.2" height="7.2" fill="#e89200"/><rect x="561.80" y="147.09" width="7.2" height="7.2" fill="#ea9700"/><rect x="567.86" y="147.09" width="7.2" height="7.2" fill="#eb9e00"/><rect x="573.92" y="147.09" width="7.2" height="7.2" fill="#eda400"/><rect x="579.98" y="147.09" width="7.2" height="7.2" fill="#eea900"/><rect x="586.04" y="147.09" width="7.2" height="7.2" fill="#efab00"/><rect x="592.10" y="147.09" width="7.2" height="7.2" fill="#eeaa00"/><rect x="380.00" y="141.02" width="7.2" height="7.2" fill="#e78d00"/><rect x="386.06" y="141.02" width="7.2" height="7.2" fill="#e89100"/><rect x="392.12" y="141.02" width="7.2" height="7.2" fill="#e99400"/><rect x="398.18" y="141.02" width="7.2" height="7.2" fill="#e99500"/><rect x="404.24" y="141.02" width="7.2" height="7.2" fill="#e99500"/><rect x="410.30" y="141.02" width="7.2" height="7.2" fill="#e99400"/><rect x="416.36" y="141.02" width="7.2" height="7.2" fill="#e89000"/><rect x="422.42" y="141.02" width="7.2" height="7.2" fill="#e78d00"/><rect x="428.48" y="141.02" width="7.2" height="7.2" fill="#e78b00"/><rect x="434.54" y="141.02" width="7.2" height="7.2" fill="#e68a00"/><rect x="440.60" y="141.02" width="7.2" height="7.2" fill="#e68b00"/><rect x="446.66" y="141.02" width="7.2" height="7.2" fill="#e78b00"/><rect x="452.72" y="141.02" width="7.2" height="7.2" fill="#e78c00"/><rect x="458.78" y="141.02" width="7.2" height="7.2" fill="#e78e00"/><rect x="464.84" y="141.02" width="7.2" height="7.2" fill="#e88f00"/><rect x="470.90" y="141.02" width="7.2" height="7.2" fill="#e89100"/><rect x="476.96" y="141.02" width="7.2" height="7.2" fill="#e89200"/><rect x="483.02" y="141.02" width="7.2" height="7.2" fill="#e99300"/><rect x="489.08" y="141.02" width="7.2" height="7.2" fill="#e99400"/><rect x="495.14" y="141.02" width="7.2" height="7.2" fill="#e99400"/><rect x="501.20" y="141.02" width="7.2" height="7.2" fill="#e99400"/><rect x="507.26" y="141.02" width="7.2" height="7.2" fill="#e99400"/><rect x="513.32" y="141.02" width="7.2" height="7.2" fill="#e99300"/><rect x="519.38" y="141.02" width="7.2" height="7.2" fill="#e89200"/><rect x="525.44" y="141.02" width="7.2" height="7.2" fill="#e89100"/><rect x="531.50" y="141.02" width="7.2" height="7.2" fill="#e89100"/><rect x="537.56" y="141.02" width="7.2" height="7.2" fill="#e89100"/><rect x="543.62" y="141.02" width="7.2" height="7.2" fill="#e89100"/><rect x="549.68" y="141.02" width="7.2" height="7.2" fill="#e89200"/><rect x="555.74" y="141.02" width="7.2" height="7.2" fill="#e99600"/><rect x="561.80" y="141.02" width="7.2" height="7.2" fill="#eb9c00"/><rect x="567.86" y="141.02" width="7.2" height="7.2" fill="#eda600"/><rect x="573.92" y="141.02" width="7.2" height="7.2" fill="#f0b100"/><rect x="579.98" y="141.02" width="7.2" height="7.2" fill="#f2ba00"/><rect x="586.04" y="141.02" width="7.2" height="7.2" fill="#f3bf00"/><rect x="592.10" y="141.02" width="7.2" height="7.2" fill="#f3c000"/><rect x="380.00" y="134.96" width="7.2" height="7.2" fill="#e07400"/><rect x="386.06" y="134.96" width="7.2" height="7.2" fill="#e17800"/><rect x="392.12" y="134.96" width="7.2" height="7.2" fill="#e27c00"/><rect x="398.18" y="134.96" width="7.2" height="7.2" fill="#e38000"/><rect x="404.24" y="134.96" width="7.2" height="7.2" fill="#e48400"/><rect x="410.30" y="134.96" width="7.2" height="7.2" fill="#e58600"/><rect x="416.36" y="134.96" width="7.2" height="7.2" fill="#e58700"/><rect x="422.42" y="134.96" width="7.2" height="7.2" fill="#e58700"/><rect x="428.48" y="134.96" width="7.2" height="7.2" fill="#e58600"/><rect x="434.54" y="134.96" width="7.2" height="7.2" fill="#e58600"/><rect x="440.60" y="134.96" width="7.2" height="7.2" fill="#e58700"/><rect x="446.66" y="134.96" width="7.2" height="7.2" fill="#e68800"/><rect x="452.72" y="134.96" width="7.2" height="7.2" fill="#e68900"/><rect x="458.78" y="134.96" width="7.2" height="7.2" fill="#e78b00"/><rect x="464.84" y="134.96" width="7.2" height="7.2" fill="#e78d00"/><rect x="470.90" y="134.96" width="7.2" height="7.2" fill="#e88f00"/><rect x="476.96" y="134.96" width="7.2" height="7.2" fill="#e89100"/><rect x="483.02" y="134.96" width="7.2" height="7.2" fill="#e89200"/><rect x="489.08" y="134.96" width="7.2" height="7.2" fill="#e99300"/><rect x="495.14" y="134.96" width="7.2" height="7.2" fill="#e99400"/><rect x="501.20" y="134.96" width="7.2" height="7.2" fill="#e99400"/><rect x="507.26" y="134.96" width="7.2" height="7.2" fill="#e99500"/><rect x="513.32" y="134.96" width="7.2" height="7.2" fill="#e99400"/><rect x="519.38" y="134.96" width="7.2" height="7.2" fill="#e99400"/><rect x="525.44" y="134.96" width="7.2" height="7.2" fill="#e99400"/><rect x="531.50" y="134.96" width="7.2" height="7.2" fill="#e99300"/><rect x="537.56" y="134.96" width="7.2" height="7.2" fill="#e99300"/><rect x="543.62" y="134.96" width="7.2" height="7.2" fill="#e99300"/><rect x="549.68" y="134.96" width="7.2" height="7.2" fill="#e99500"/><rect x="555.74" y="134.96" width="7.2" height="7.2" fill="#ea9900"/><rect x="561.80" y="134.96" width="7.2" height="7.2" fill="#eca000"/><rect x="567.86" y="134.96" width="7.2" height="7.2" fill="#efac00"/><rect x="573.92" y="134.96" width="7.2" height="7.2" fill="#f2ba00"/><rect x="579.98" y="134.96" width="7.2" height="7.2" fill="#f5c700"/><rect x="586.04" y="134.96" width="7.2" height="7.2" fill="#f6cf00"/><rect x="592.10" y="134.96" width="7.2" height="7.2" fill="#f7d100"/><rect x="380.00" y="128.89" width="7.2" height="7.2" fill="#d85f00"/><rect x="386.06" y="128.89" width="7.2" height="7.2" fill="#da6200"/><rect x="392.12" y="128.89" width="7.2" height="7.2" fill="#db6700"/><rect x="398.18" y="128.89" width="7.2" height="7.2" fill="#dd6d00"/><rect x="404.24" y="128.89" width="7.2" height="7.2" fill="#df7300"/><rect x="410.30" y="128.89" width="7.2" height="7.2" fill="#e17a00"/><rect x="416.36" y="128.89" width="7.2" height="7.2" fill="#e37e00"/><rect x="422.42" y="128.89" width="7.2" height="7.2" fill="#e38000"/><rect x="428.48" y="128.89" width="7.2" height="7.2" fill="#e38100"/><rect x="434.54" y="128.89" width="7.2" height="7.2" fill="#e48100"/><rect x="440.60" y="128.89" width="7.2" height="7.2" fill="#e48300"/><rect x="446.66" y="128.89" width="7.2" height="7.2" fill="#e58400"/><rect x="452.72" y="128.89" width="7.2" height="7.2" fill="#e58600"/><rect x="458.78" y="128.89" width="7.2" height="7.2" fill="#e68800"/><rect x="464.84" y="128.89" width="7.2" height="7.2" fill="#e68b00"/><rect x="470.90" y="128.89" width="7.2" height="7.2" fill="#e78d00"/><rect x="476.96" y="128.89" width="7.2" height="7.2" fill="#e88f00"/><rect x="483.02" y="128.89" width="7.2" height="7.2" fill="#e89100"/><rect x="489.08" y="128.89" width="7.2" height="7.2" fill="#e89200"/><rect x="495.14" y="128.89" width="7.2" height="7.2" fill="#e99400"/><rect x="501.20" y="128.89" width="7.2" height="7.2" fill="#e99500"/><rect x="507.26" y="128.89" width="7.2" height="7.2" fill="#e99500"/><rect x="513.32" y="128.89" width="7.2" height="7.2" fill="#e99600"/><rect x="519.38" y="128.89" width="7.2" height="7.2" fill="#e99600"/><rect x="525.44" y="128.89" width="7.2" height="7.2" fill="#e99600"/><rect x="531.50" y="128.89" width="7.2" height="7.2" fill="#e99600"/><rect x="537.56" y="128.89" width="7.2" height="7.2" fill="#e99600"/><rect x="543.62" y="128.89" width="7.2" height="7.2" fill="#e99600"/><rect x="549.68" y="128.89" width="7.2" height="7.2" fill="#ea9800"/><rect x="555.74" y="128.89" width="7.2" height="7.2" fill="#eb9c00"/><rect x="561.80" y="128.89" width="7.2" height="7.2" fill="#eda400"/><rect x="567.86" y="128.89" width="7.2" height="7.2" fill="#f0b100"/><rect x="573.92" y="128.89" width="7.2" height="7.2" fill="#f3c000"/><rect x="579.98" y="128.89" width="7.2" height="7.2" fill="#f6cf00"/><rect x="586.04" y="128.89" width="7.2" height="7.2" fill="#f8da00"/><rect x="592.10" y="128.89" width="7.2" height="7.2" fill="#f9dc00"/><rect x="380.00" y="122.83" width="7.2" height="7.2" fill="#d24f00"/><rect x="386.06" y="122.83" width="7.2" height="7.2" fill="#d35200"/><rect x="392.12" y="122.83" width="7.2" height="7.2" fill="#d55700"/><rect x="398.18" y="122.83" width="7.2" height="7.2" fill="#d85e00"/><rect x="404.24" y="122.83" width="7.2" height="7.2" fill="#db6700"/><rect x="410.30" y="122.83" width="7.2" height="7.2" fill="#de7000"/><rect x="416.36" y="122.83" width="7.2" height="7.2" fill="#e07600"/><rect x="422.42" y="122.83" width="7.2" height="7.2" fill="#e17900"/><rect x="428.48" y="122.83" width="7.2" height="7.2" fill="#e27a00"/><rect x="434.54" y="122.83" width="7.2" height="7.2" fill="#e27c00"/><rect x="440.60" y="122.83" width="7.2" height="7.2" fill="#e37e00"/><rect x="446.66" y="122.83" width="7.2" height="7.2" fill="#e38000"/><rect x="452.72" y="122.83" width="7.2" height="7.2" fill="#e48300"/><rect x="458.78" y="122.83" width="7.2" height="7.2" fill="#e58500"/><rect x="464.84" y="122.83" width="7.2" height="7.2" fill="#e68800"/><rect x="470.90" y="122.83" width="7.2" height="7.2" fill="#e68b00"/><rect x="476.96" y="122.83" width="7.2" height="7.2" fill="#e78d00"/><rect x="483.02" y="122.83" width="7.2" height="7.2" fill="#e88f00"/><rect x="489.08" y="122.83" width="7.2" height="7.2" fill="#e89100"/><rect x="495.14" y="122.83" width="7.2" height="7.2" fill="#e99300"/><rect x="501.20" y="122.83" width="7.2" height="7.2" fill="#e99400"/><rect x="507.26" y="122.83" width="7.2" height="7.2" fill="#e99600"/><rect x="513.32" y="122.83" width="7.2" height="7.2" fill="#ea9700"/><rect x="519.38" y="122.83" width="7.2" height="7.2" fill="#ea9700"/><rect x="525.44" y="122.83" width="7.2" height="7.2" fill="#ea9800"/><rect x="531.50" y="122.83" width="7.2" height="7.2" fill="#ea9800"/><rect x="537.56" y="122.83" width="7.2" height="7.2" fill="#ea9800"/><rect x="543.62" y="122.83" width="7.2" height="7.2" fill="#ea9900"/><rect x="549.68" y="122.83" width="7.2" height="7.2" fill="#ea9a00"/><rect x="555.74" y="122.83" width="7.2" height="7.2" fill="#ec9e00"/><rect x="561.80" y="122.83" width="7.2" height="7.2" fill="#eea600"/><rect x="567.86" y="122.83" width="7.2" height="7.2" fill="#f0b200"/><rect x="573.92" y="122.83" width="7.2" height="7.2" fill="#f3c000"/><rect x="579.98" y="122.83" width="7.2" height="7.2" fill="#f6ce00"/><rect x="586.04" y="122.83" width="7.2" height="7.2" fill="#f8da00"/><rect x="592.10" y="122.83" width="7.2" height="7.2" fill="#f9dd00"/><rect x="380.00" y="116.77" width="7.2" height="7.2" fill="#cd4400"/><rect x="386.06" y="116.77" width="7.2" height="7.2" fill="#ce4600"/><rect x="392.12" y="116.77" width="7.2" height="7.2" fill="#d04b00"/><rect x="398.18" y="116.77" width="7.2" height="7.2" fill="#d45400"/><rect x="404.24" y="116.77" width="7.2" height="7.2" fill="#d85e00"/><rect x="410.30" y="116.77" width="7.2" height="7.2" fill="#db6800"/><rect x="416.36" y="116.77" width="7.2" height="7.2" fill="#de6e00"/><rect x="422.42" y="116.77" width="7.2" height="7.2" fill="#df7200"/><rect x="428.48" y="116.77" width="7.2" height="7.2" fill="#e07400"/><rect x="434.54" y="116.77" width="7.2" height="7.2" fill="#e07700"/><rect x="440.60" y="116.77" width="7.2" height="7.2" fill="#e17900"/><rect x="446.66" y="116.77" width="7.2" height="7.2" fill="#e27c00"/><rect x="452.72" y="116.77" width="7.2" height="7.2" fill="#e37f00"/><rect x="458.78" y="116.77" width="7.2" height="7.2" fill="#e48200"/><rect x="464.84" y="116.77" width="7.2" height="7.2" fill="#e58500"/><rect x="470.90" y="116.77" width="7.2" height="7.2" fill="#e68800"/><rect x="476.96" y="116.77" width="7.2" height="7.2" fill="#e78b00"/><rect x="483.02" y="116.77" width="7.2" height="7.2" fill="#e78e00"/><rect x="489.08" y="116.77" width="7.2" height="7.2" fill="#e89000"/><rect x="495.14" y="116.77" width="7.2" height="7.2" fill="#e89200"/><rect x="501.20" y="116.77" width="7.2" height="7.2" fill="#e99400"/><rect x="507.26" y="116.77" width="7.2" height="7.2" fill="#e99600"/><rect x="513.32" y="116.77" width="7.2" height="7.2" fill="#ea9700"/><rect x="519.38" y="116.77" width="7.2" height="7.2" fill="#ea9900"/><rect x="525.44" y="116.77" width="7.2" height="7.2" fill="#ea9a00"/><rect x="531.50" y="116.77" width="7.2" height="7.2" fill="#ea9a00"/><rect x="537.56" y="116.77" width="7.2" height="7.2" fill="#eb9a00"/><rect x="543.62" y="116.77" width="7.2" height="7.2" fill="#eb9b00"/><rect x="549.68" y="116.77" width="7.2" height="7.2" fill="#eb9c00"/><rect x="555.74" y="116.77" width="7.2" height="7.2" fill="#ec9f00"/><rect x="561.80" y="116.77" width="7.2" height="7.2" fill="#eda600"/><rect x="567.86" y="116.77" width="7.2" height="7.2" fill="#efae00"/><rect x="573.92" y="116.77" width="7.2" height="7.2" fill="#f1b800"/><rect x="579.98" y="116.77" width="7.2" height="7.2" fill="#f4c100"/><rect x="586.04" y="116.77" width="7.2" height="7.2" fill="#f5c900"/><rect x="592.10" y="116.77" width="7.2" height="7.2" fill="#f5cb00"/><rect x="380.00" y="110.70" width="7.2" height="7.2" fill="#ca3e00"/><rect x="386.06" y="110.70" width="7.2" height="7.2" fill="#ca4000"/><rect x="392.12" y="110.70" width="7.2" height="7.2" fill="#cd4500"/><rect x="398.18" y="110.70" width="7.2" height="7.2" fill="#d14d00"/><rect x="404.24" y="110.70" width="7.2" height="7.2" fill="#d55700"/><rect x="410.30" y="110.70" width="7.2" height="7.2" fill="#d96000"/><rect x="416.36" y="110.70" width="7.2" height="7.2" fill="#db6800"/><rect x="422.42" y="110.70" width="7.2" height="7.2" fill="#dd6b00"/><rect x="428.48" y="110.70" width="7.2" height="7.2" fill="#de6e00"/><rect x="434.54" y="110.70" width="7.2" height="7.2" fill="#df7100"/><rect x="440.60" y="110.70" width="7.2" height="7.2" fill="#e07500"/><rect x="446.66" y="110.70" width="7.2" height="7.2" fill="#e17800"/><rect x="452.72" y="110.70" width="7.2" height="7.2" fill="#e27c00"/><rect x="458.78" y="110.70" width="7.2" height="7.2" fill="#e37f00"/><rect x="464.84" y="110.70" width="7.2" height="7.2" fill="#e48300"/><rect x="470.90" y="110.70" width="7.2" height="7.2" fill="#e58600"/><rect x="476.96" y="110.70" width="7.2" height="7.2" fill="#e68900"/><rect x="483.02" y="110.70" width="7.2" height="7.2" fill="#e78c00"/><rect x="489.08" y="110.70" width="7.2" height="7.2" fill="#e88f00"/><rect x="495.14" y="110.70" width="7.2" height="7.2" fill="#e89100"/><rect x="501.20" y="110.70" width="7.2" height="7.2" fill="#e99400"/><rect x="507.26" y="110.70" width="7.2" height="7.2" fill="#e99600"/><rect x="513.32" y="110.70" width="7.2" height="7.2" fill="#ea9800"/><rect x="519.38" y="110.70" width="7.2" height="7.2" fill="#ea9a00"/><rect x="525.44" y="110.70" width="7.2" height="7.2" fill="#eb9b00"/><rect x="531.50" y="110.70" width="7.2" height="7.2" fill="#eb9c00"/><rect x="537.56" y="110.70" width="7.2" height="7.2" fill="#eb9c00"/><rect x="543.62" y="110.70" width="7.2" height="7.2" fill="#eb9b00"/><rect x="549.68" y="110.70" width="7.2" height="7.2" fill="#eb9b00"/><rect x="555.74" y="110.70" width="7.2" height="7.2" fill="#eb9d00"/><rect x="561.80" y="110.70" width="7.2" height="7.2" fill="#eca100"/><rect x="567.86" y="110.70" width="7.2" height="7.2" fill="#eda400"/><rect x="573.92" y="110.70" width="7.2" height="7.2" fill="#eea800"/><rect x="579.98" y="110.70" width="7.2" height="7.2" fill="#efac00"/><rect x="586.04" y="110.70" width="7.2" height="7.2" fill="#efae00"/><rect x="592.10" y="110.70" width="7.2" height="7.2" fill="#efad00"/><rect x="380.00" y="104.64" width="7.2" height="7.2" fill="#c83c00"/><rect x="386.06" y="104.64" width="7.2" height="7.2" fill="#c93d00"/><rect x="392.12" y="104.64" width="7.2" height="7.2" fill="#cb4100"/><rect x="398.18" y="104.64" width="7.2" height="7.2" fill="#cf4900"/><rect x="404.24" y="104.64" width="7.2" height="7.2" fill="#d35100"/><rect x="410.30" y="104.64" width="7.2" height="7.2" fill="#d65a00"/><rect x="416.36" y="104.64" width="7.2" height="7.2" fill="#d96100"/><rect x="422.42" y="104.64" width="7.2" height="7.2" fill="#db6500"/><rect x="428.48" y="104.64" width="7.2" height="7.2" fill="#dc6900"/><rect x="434.54" y="104.64" width="7.2" height="7.2" fill="#dd6d00"/><rect x="440.60" y="104.64" width="7.2" height="7.2" fill="#df7100"/><rect x="446.66" y="104.64" width="7.2" height="7.2" fill="#e07500"/><rect x="452.72" y="104.64" width="7.2" height="7.2" fill="#e17800"/><rect x="458.78" y="104.64" width="7.2" height="7.2" fill="#e27c00"/><rect x="464.84" y="104.64" width="7.2" height="7.2" fill="#e38000"/><rect x="470.90" y="104.64" width="7.2" height="7.2" fill="#e58400"/><rect x="476.96" y="104.64" width="7.2" height="7.2" fill="#e68800"/><rect x="483.02" y="104.64" width="7.2" height="7.2" fill="#e78b00"/><rect x="489.08" y="104.64" width="7.2" height="7.2" fill="#e78e00"/><rect x="495.14" y="104.64" width="7.2" height="7.2" fill="#e89100"/><rect x="501.20" y="104.64" width="7.2" height="7.2" fill="#e99300"/><rect x="507.26" y="104.64" width="7.2" height="7.2" fill="#e99600"/><rect x="513.32" y="104.64" width="7.2" height="7.2" fill="#ea9800"/><rect x="519.38" y="104.64" width="7.2" height="7.2" fill="#ea9a00"/><rect x="525.44" y="104.64" width="7.2" height="7.2" fill="#eb9c00"/><rect x="531.50" y="104.64" width="7.2" height="7.2" fill="#eb9c00"/><rect x="537.56" y="104.64" width="7.2" height="7.2" fill="#eb9c00"/><rect x="543.62" y="104.64" width="7.2" height="7.2" fill="#ea9a00"/><rect x="549.68" y="104.64" width="7.2" height="7.2" fill="#ea9700"/><rect x="555.74" y="104.64" width="7.2" height="7.2" fill="#e99600"/><rect x="561.80" y="104.64" width="7.2" height="7.2" fill="#e99600"/><rect x="567.86" y="104.64" width="7.2" height="7.2" fill="#e99600"/><rect x="573.92" y="104.64" width="7.2" height="7.2" fill="#e99400"/><rect x="579.98" y="104.64" width="7.2" height="7.2" fill="#e89200"/><rect x="586.04" y="104.64" width="7.2" height="7.2" fill="#e89000"/><rect x="592.10" y="104.64" width="7.2" height="7.2" fill="#e78e00"/><rect x="380.00" y="98.58" width="7.2" height="7.2" fill="#c83b00"/><rect x="386.06" y="98.58" width="7.2" height="7.2" fill="#c83b00"/><rect x="392.12" y="98.58" width="7.2" height="7.2" fill="#ca3f00"/><rect x="398.18" y="98.58" width="7.2" height="7.2" fill="#ce4600"/><rect x="404.24" y="98.58" width="7.2" height="7.2" fill="#d14e00"/><rect x="410.30" y="98.58" width="7.2" height="7.2" fill="#d45500"/><rect x="416.36" y="98.58" width="7.2" height="7.2" fill="#d75b00"/><rect x="422.42" y="98.58" width="7.2" height="7.2" fill="#d96000"/><rect x="428.48" y="98.58" width="7.2" height="7.2" fill="#db6500"/><rect x="434.54" y="98.58" width="7.2" height="7.2" fill="#dc6a00"/><rect x="440.60" y="98.58" width="7.2" height="7.2" fill="#dd6d00"/><rect x="446.66" y="98.58" width="7.2" height="7.2" fill="#df7100"/><rect x="452.72" y="98.58" width="7.2" height="7.2" fill="#e07500"/><rect x="458.78" y="98.58" width="7.2" height="7.2" fill="#e17900"/><rect x="464.84" y="98.58" width="7.2" height="7.2" fill="#e37e00"/><rect x="470.90" y="98.58" width="7.2" height="7.2" fill="#e48300"/><rect x="476.96" y="98.58" width="7.2" height="7.2" fill="#e58700"/><rect x="483.02" y="98.58" width="7.2" height="7.2" fill="#e68b00"/><rect x="489.08" y="98.58" width="7.2" height="7.2" fill="#e78e00"/><rect x="495.14" y="98.58" width="7.2" height="7.2" fill="#e89100"/><rect x="501.20" y="98.58" width="7.2" height="7.2" fill="#e99300"/><rect x="507.26" y="98.58" width="7.2" height="7.2" fill="#e99600"/><rect x="513.32" y="98.58" width="7.2" height="7.2" fill="#ea9800"/><rect x="519.38" y="98.58" width="7.2" height="7.2" fill="#eb9a00"/><rect x="525.44" y="98.58" width="7.2" height="7.2" fill="#eb9c00"/><rect x="531.50" y="98.58" width="7.2" height="7.2" fill="#eb9c00"/><rect x="537.56" y="98.58" width="7.2" height="7.2" fill="#ea9a00"/><rect x="543.62" y="98.58" width="7.2" height="7.2" fill="#e99400"/><rect x="549.68" y="98.58" width="7.2" height="7.2" fill="#e78e00"/><rect x="555.74" y="98.58" width="7.2" height="7.2" fill="#e68a00"/><rect x="561.80" y="98.58" width="7.2" height="7.2" fill="#e58600"/><rect x="567.86" y="98.58" width="7.2" height="7.2" fill="#e48200"/><rect x="573.92" y="98.58" width="7.2" height="7.2" fill="#e27d00"/><rect x="579.98" y="98.58" width="7.2" height="7.2" fill="#e07600"/><rect x="586.04" y="98.58" width="7.2" height="7.2" fill="#de7000"/><rect x="592.10" y="98.58" width="7.2" height="7.2" fill="#dd6c00"/><rect x="380.00" y="92.51" width="7.2" height="7.2" fill="#c93d00"/><rect x="386.06" y="92.51" width="7.2" height="7.2" fill="#c93d00"/><rect x="392.12" y="92.51" width="7.2" height="7.2" fill="#ca3f00"/><rect x="398.18" y="92.51" width="7.2" height="7.2" fill="#cd4500"/><rect x="404.24" y="92.51" width="7.2" height="7.2" fill="#d04b00"/><rect x="410.30" y="92.51" width="7.2" height="7.2" fill="#d35100"/><rect x="416.36" y="92.51" width="7.2" height="7.2" fill="#d55700"/><rect x="422.42" y="92.51" width="7.2" height="7.2" fill="#d75c00"/><rect x="428.48" y="92.51" width="7.2" height="7.2" fill="#d96100"/><rect x="434.54" y="92.51" width="7.2" height="7.2" fill="#db6600"/><rect x="440.60" y="92.51" width="7.2" height="7.2" fill="#dc6a00"/><rect x="446.66" y="92.51" width="7.2" height="7.2" fill="#dd6d00"/><rect x="452.72" y="92.51" width="7.2" height="7.2" fill="#df7100"/><rect x="458.78" y="92.51" width="7.2" height="7.2" fill="#e07700"/><rect x="464.84" y="92.51" width="7.2" height="7.2" fill="#e27c00"/><rect x="470.90" y="92.51" width="7.2" height="7.2" fill="#e48100"/><rect x="476.96" y="92.51" width="7.2" height="7.2" fill="#e58600"/><rect x="483.02" y="92.51" width="7.2" height="7.2" fill="#e68a00"/><rect x="489.08" y="92.51" width="7.2" height="7.2" fill="#e78e00"/><rect x="495.14" y="92.51" width="7.2" height="7.2" fill="#e89100"/><rect x="501.20" y="92.51" width="7.2" height="7.2" fill="#e99300"/><rect x="507.26" y="92.51" width="7.2" height="7.2" fill="#e99600"/><rect x="513.32" y="92.51" width="7.2" height="7.2" fill="#ea9900"/><rect x="519.38" y="92.51" width="7.2" height="7.2" fill="#eb9b00"/><rect x="525.44" y="92.51" width="7.2" height="7.2" fill="#eb9b00"/><rect x="531.50" y="92.51" width="7.2" height="7.2" fill="#ea9a00"/><rect x="537.56" y="92.51" width="7.2" height="7.2" fill="#e99400"/><rect x="543.62" y="92.51" width="7.2" height="7.2" fill="#e78c00"/><rect x="549.68" y="92.51" width="7.2" height="7.2" fill="#e48200"/><rect x="555.74" y="92.51" width="7.2" height="7.2" fill="#e17900"/><rect x="561.80" y="92.51" width="7.2" height="7.2" fill="#df7200"/><rect x="567.86" y="92.51" width="7.2" height="7.2" fill="#dd6c00"/><rect x="573.92" y="92.51" width="7.2" height="7.2" fill="#d96200"/><rect x="579.98" y="92.51" width="7.2" height="7.2" fill="#d55700"/><rect x="586.04" y="92.51" width="7.2" height="7.2" fill="#d24f00"/><rect x="592.10" y="92.51" width="7.2" height="7.2" fill="#cf4a00"/><rect x="380.00" y="86.45" width="7.2" height="7.2" fill="#cb4000"/><rect x="386.06" y="86.45" width="7.2" height="7.2" fill="#cb4000"/><rect x="392.12" y="86.45" width="7.2" height="7.2" fill="#cc4200"/><rect x="398.18" y="86.45" width="7.2" height="7.2" fill="#cd4600"/><rect x="404.24" y="86.45" width="7.2" height="7.2" fill="#d04a00"/><rect x="410.30" y="86.45" width="7.2" height="7.2" fill="#d24f00"/><rect x="416.36" y="86.45" width="7.2" height="7.2" fill="#d45400"/><rect x="422.42" y="86.45" width="7.2" height="7.2" fill="#d65800"/><rect x="428.48" y="86.45" width="7.2" height="7.2" fill="#d75d00"/><rect x="434.54" y="86.45" width="7.2" height="7.2" fill="#d96100"/><rect x="440.60" y="86.45" width="7.2" height="7.2" fill="#db6500"/><rect x="446.66" y="86.45" width="7.2" height="7.2" fill="#dc6900"/><rect x="452.72" y="86.45" width="7.2" height="7.2" fill="#de6e00"/><rect x="458.78" y="86.45" width="7.2" height="7.2" fill="#e07400"/><rect x="464.84" y="86.45" width="7.2" height="7.2" fill="#e27a00"/><rect x="470.90" y="86.45" width="7.2" height="7.2" fill="#e38100"/><rect x="476.96" y="86.45" width="7.2" height="7.2" fill="#e58600"/><rect x="483.02" y="86.45" width="7.2" height="7.2" fill="#e78b00"/><rect x="489.08" y="86.45" width="7.2" height="7.2" fill="#e88f00"/><rect x="495.14" y="86.45" width="7.2" height="7.2" fill="#e89200"/><rect x="501.20" y="86.45" width="7.2" height="7.2" fill="#e99500"/><rect x="507.26" y="86.45" width="7.2" height="7.2" fill="#ea9800"/><rect x="513.32" y="86.45" width="7.2" height="7.2" fill="#ea9a00"/><rect x="519.38" y="86.45" width="7.2" height="7.2" fill="#eb9c00"/><rect x="525.44" y="86.45" width="7.2" height="7.2" fill="#eb9b00"/><rect x="531.50" y="86.45" width="7.2" height="7.2" fill="#ea9700"/><rect x="537.56" y="86.45" width="7.2" height="7.2" fill="#e78e00"/><rect x="543.62" y="86.45" width="7.2" height="7.2" fill="#e48200"/><rect x="549.68" y="86.45" width="7.2" height="7.2" fill="#e07400"/><rect x="555.74" y="86.45" width="7.2" height="7.2" fill="#dc6900"/><rect x="561.80" y="86.45" width="7.2" height="7.2" fill="#d85d00"/><rect x="567.86" y="86.45" width="7.2" height="7.2" fill="#d35300"/><rect x="573.92" y="86.45" width="7.2" height="7.2" fill="#ce4700"/><rect x="579.98" y="86.45" width="7.2" height="7.2" fill="#c83c00"/><rect x="586.04" y="86.45" width="7.2" height="7.2" fill="#c33400"/><rect x="592.10" y="86.45" width="7.2" height="7.2" fill="#c02e00"/><rect x="380.00" y="80.38" width="7.2" height="7.2" fill="#cd4600"/><rect x="386.06" y="80.38" width="7.2" height="7.2" fill="#ce4600"/><rect x="392.12" y="80.38" width="7.2" height="7.2" fill="#ce4600"/><rect x="398.18" y="80.38" width="7.2" height="7.2" fill="#cf4800"/><rect x="404.24" y="80.38" width="7.2" height="7.2" fill="#d04b00"/><rect x="410.30" y="80.38" width="7.2" height="7.2" fill="#d24f00"/><rect x="416.36" y="80.38" width="7.2" height="7.2" fill="#d35200"/><rect x="422.42" y="80.38" width="7.2" height="7.2" fill="#d45500"/><rect x="428.48" y="80.38" width="7.2" height="7.2" fill="#d65800"/><rect x="434.54" y="80.38" width="7.2" height="7.2" fill="#d75c00"/><rect x="440.60" y="80.38" width="7.2" height="7.2" fill="#d96000"/><rect x="446.66" y="80.38" width="7.2" height="7.2" fill="#db6500"/><rect x="452.72" y="80.38" width="7.2" height="7.2" fill="#dd6b00"/><rect x="458.78" y="80.38" width="7.2" height="7.2" fill="#df7200"/><rect x="464.84" y="80.38" width="7.2" height="7.2" fill="#e17900"/><rect x="470.90" y="80.38" width="7.2" height="7.2" fill="#e38000"/><rect x="476.96" y="80.38" width="7.2" height="7.2" fill="#e58700"/><rect x="483.02" y="80.38" width="7.2" height="7.2" fill="#e78d00"/><rect x="489.08" y="80.38" width="7.2" height="7.2" fill="#e89200"/><rect x="495.14" y="80.38" width="7.2" height="7.2" fill="#e99600"/><rect x="501.20" y="80.38" width="7.2" height="7.2" fill="#ea9900"/><rect x="507.26" y="80.38" width="7.2" height="7.2" fill="#eb9c00"/><rect x="513.32" y="80.38" width="7.2" height="7.2" fill="#ec9e00"/><rect x="519.38" y="80.38" width="7.2" height="7.2" fill="#ec9f00"/><rect x="525.44" y="80.38" width="7.2" height="7.2" fill="#eb9d00"/><rect x="531.50" y="80.38" width="7.2" height="7.2" fill="#e99600"/><rect x="537.56" y="80.38" width="7.2" height="7.2" fill="#e68a00"/><rect x="543.62" y="80.38" width="7.2" height="7.2" fill="#e17900"/><rect x="549.68" y="80.38" width="7.2" height="7.2" fill="#dc6900"/><rect x="555.74" y="80.38" width="7.2" height="7.2" fill="#d65900"/><rect x="561.80" y="80.38" width="7.2" height="7.2" fill="#d04b00"/><rect x="567.86" y="80.38" width="7.2" height="7.2" fill="#c93d00"/><rect x="573.92" y="80.38" width="7.2" height="7.2" fill="#c23100"/><rect x="579.98" y="80.38" width="7.2" height="7.2" fill="#bb2700"/><rect x="586.04" y="80.38" width="7.2" height="7.2" fill="#b42000"/><rect x="592.10" y="80.38" width="7.2" height="7.2" fill="#b01b2a"/><rect x="380.00" y="74.32" width="7.2" height="7.2" fill="#d24f00"/><rect x="386.06" y="74.32" width="7.2" height="7.2" fill="#d14e00"/><rect x="392.12" y="74.32" width="7.2" height="7.2" fill="#d14e00"/><rect x="398.18" y="74.32" width="7.2" height="7.2" fill="#d14e00"/><rect x="404.24" y="74.32" width="7.2" height="7.2" fill="#d24e00"/><rect x="410.30" y="74.32" width="7.2" height="7.2" fill="#d24f00"/><rect x="416.36" y="74.32" width="7.2" height="7.2" fill="#d25000"/><rect x="422.42" y="74.32" width="7.2" height="7.2" fill="#d35200"/><rect x="428.48" y="74.32" width="7.2" height="7.2" fill="#d45400"/><rect x="434.54" y="74.32" width="7.2" height="7.2" fill="#d55700"/><rect x="440.60" y="74.32" width="7.2" height="7.2" fill="#d75b00"/><rect x="446.66" y="74.32" width="7.2" height="7.2" fill="#d96100"/><rect x="452.72" y="74.32" width="7.2" height="7.2" fill="#db6800"/><rect x="458.78" y="74.32" width="7.2" height="7.2" fill="#de6e00"/><rect x="464.84" y="74.32" width="7.2" height="7.2" fill="#e07600"/><rect x="470.90" y="74.32" width="7.2" height="7.2" fill="#e37e00"/><rect x="476.96" y="74.32" width="7.2" height="7.2" fill="#e58700"/><rect x="483.02" y="74.32" width="7.2" height="7.2" fill="#e89000"/><rect x="489.08" y="74.32" width="7.2" height="7.2" fill="#ea9700"/><rect x="495.14" y="74.32" width="7.2" height="7.2" fill="#eb9c00"/><rect x="501.20" y="74.32" width="7.2" height="7.2" fill="#eca000"/><rect x="507.26" y="74.32" width="7.2" height="7.2" fill="#eda400"/><rect x="513.32" y="74.32" width="7.2" height="7.2" fill="#eea600"/><rect x="519.38" y="74.32" width="7.2" height="7.2" fill="#eda600"/><rect x="525.44" y="74.32" width="7.2" height="7.2" fill="#eca100"/><rect x="531.50" y="74.32" width="7.2" height="7.2" fill="#e99600"/><rect x="537.56" y="74.32" width="7.2" height="7.2" fill="#e58600"/><rect x="543.62" y="74.32" width="7.2" height="7.2" fill="#df7200"/><rect x="549.68" y="74.32" width="7.2" height="7.2" fill="#d85d00"/><rect x="555.74" y="74.32" width="7.2" height="7.2" fill="#d04b00"/><rect x="561.80" y="74.32" width="7.2" height="7.2" fill="#c83b00"/><rect x="567.86" y="74.32" width="7.2" height="7.2" fill="#be2c00"/><rect x="573.92" y="74.32" width="7.2" height="7.2" fill="#b52100"/><rect x="579.98" y="74.32" width="7.2" height="7.2" fill="#ac1846"/><rect x="586.04" y="74.32" width="7.2" height="7.2" fill="#a41282"/><rect x="592.10" y="74.32" width="7.2" height="7.2" fill="#9e0eaa"/><rect x="380.00" y="68.26" width="7.2" height="7.2" fill="#d75a00"/><rect x="386.06" y="68.26" width="7.2" height="7.2" fill="#d65900"/><rect x="392.12" y="68.26" width="7.2" height="7.2" fill="#d55700"/><rect x="398.18" y="68.26" width="7.2" height="7.2" fill="#d45500"/><rect x="404.24" y="68.26" width="7.2" height="7.2" fill="#d35300"/><rect x="410.30" y="68.26" width="7.2" height="7.2" fill="#d35100"/><rect x="416.36" y="68.26" width="7.2" height="7.2" fill="#d24f00"/><rect x="422.42" y="68.26" width="7.2" height="7.2" fill="#d24f00"/><rect x="428.48" y="68.26" width="7.2" height="7.2" fill="#d24f00"/><rect x="434.54" y="68.26" width="7.2" height="7.2" fill="#d35100"/><rect x="440.60" y="68.26" width="7.2" height="7.2" fill="#d45500"/><rect x="446.66" y="68.26" width="7.2" height="7.2" fill="#d65a00"/><rect x="452.72" y="68.26" width="7.2" height="7.2" fill="#d96000"/><rect x="458.78" y="68.26" width="7.2" height="7.2" fill="#db6800"/><rect x="464.84" y="68.26" width="7.2" height="7.2" fill="#de7000"/><rect x="470.90" y="68.26" width="7.2" height="7.2" fill="#e17a00"/><rect x="476.96" y="68.26" width="7.2" height="7.2" fill="#e58600"/><rect x="483.02" y="68.26" width="7.2" height="7.2" fill="#e99400"/><rect x="489.08" y="68.26" width="7.2" height="7.2" fill="#eb9e00"/><rect x="495.14" y="68.26" width="7.2" height="7.2" fill="#eda600"/><rect x="501.20" y="68.26" width="7.2" height="7.2" fill="#efac00"/><rect x="507.26" y="68.26" width="7.2" height="7.2" fill="#f0b100"/><rect x="513.32" y="68.26" width="7.2" height="7.2" fill="#f0b200"/><rect x="519.38" y="68.26" width="7.2" height="7.2" fill="#efae00"/><rect x="525.44" y="68.26" width="7.2" height="7.2" fill="#eda400"/><rect x="531.50" y="68.26" width="7.2" height="7.2" fill="#e99600"/><rect x="537.56" y="68.26" width="7.2" height="7.2" fill="#e48200"/><rect x="543.62" y="68.26" width="7.2" height="7.2" fill="#dd6c00"/><rect x="549.68" y="68.26" width="7.2" height="7.2" fill="#d35300"/><rect x="555.74" y="68.26" width="7.2" height="7.2" fill="#c93d00"/><rect x="561.80" y="68.26" width="7.2" height="7.2" fill="#be2c00"/><rect x="567.86" y="68.26" width="7.2" height="7.2" fill="#b31f0b"/><rect x="573.92" y="68.26" width="7.2" height="7.2" fill="#a81569"/><rect x="579.98" y="68.26" width="7.2" height="7.2" fill="#9d0eb1"/><rect x="586.04" y="68.26" width="7.2" height="7.2" fill="#9309de"/><rect x="592.10" y="68.26" width="7.2" height="7.2" fill="#8b07f4"/><rect x="380.00" y="62.19" width="7.2" height="7.2" fill="#db6700"/><rect x="386.06" y="62.19" width="7.2" height="7.2" fill="#da6500"/><rect x="392.12" y="62.19" width="7.2" height="7.2" fill="#d96100"/><rect x="398.18" y="62.19" width="7.2" height="7.2" fill="#d85d00"/><rect x="404.24" y="62.19" width="7.2" height="7.2" fill="#d65800"/><rect x="410.30" y="62.19" width="7.2" height="7.2" fill="#d35300"/><rect x="416.36" y="62.19" width="7.2" height="7.2" fill="#d24e00"/><rect x="422.42" y="62.19" width="7.2" height="7.2" fill="#d04b00"/><rect x="428.48" y="62.19" width="7.2" height="7.2" fill="#d04a00"/><rect x="434.54" y="62.19" width="7.2" height="7.2" fill="#d04b00"/><rect x="440.60" y="62.19" width="7.2" height="7.2" fill="#d14e00"/><rect x="446.66" y="62.19" width="7.2" height="7.2" fill="#d35100"/><rect x="452.72" y="62.19" width="7.2" height="7.2" fill="#d55700"/><rect x="458.78" y="62.19" width="7.2" height="7.2" fill="#d85e00"/><rect x="464.84" y="62.19" width="7.2" height="7.2" fill="#db6700"/><rect x="470.90" y="62.19" width="7.2" height="7.2" fill="#df7300"/><rect x="476.96" y="62.19" width="7.2" height="7.2" fill="#e48400"/><rect x="483.02" y="62.19" width="7.2" height="7.2" fill="#e99500"/><rect x="489.08" y="62.19" width="7.2" height="7.2" fill="#eda400"/><rect x="495.14" y="62.19" width="7.2" height="7.2" fill="#f0b100"/><rect x="501.20" y="62.19" width="7.2" height="7.2" fill="#f2ba00"/><rect x="507.26" y="62.19" width="7.2" height="7.2" fill="#f3c000"/><rect x="513.32" y="62.19" width="7.2" height="7.2" fill="#f3c000"/><rect x="519.38" y="62.19" width="7.2" height="7.2" fill="#f1b800"/><rect x="525.44" y="62.19" width="7.2" height="7.2" fill="#eea800"/><rect x="531.50" y="62.19" width="7.2" height="7.2" fill="#e99400"/><rect x="537.56" y="62.19" width="7.2" height="7.2" fill="#e27d00"/><rect x="543.62" y="62.19" width="7.2" height="7.2" fill="#d96200"/><rect x="549.68" y="62.19" width="7.2" height="7.2" fill="#ce4700"/><rect x="555.74" y="62.19" width="7.2" height="7.2" fill="#c23100"/><rect x="561.80" y="62.19" width="7.2" height="7.2" fill="#b52100"/><rect x="567.86" y="62.19" width="7.2" height="7.2" fill="#a81569"/><rect x="573.92" y="62.19" width="7.2" height="7.2" fill="#9a0cbe"/><rect x="579.98" y="62.19" width="7.2" height="7.2" fill="#8e07ee"/><rect x="586.04" y="62.19" width="7.2" height="7.2" fill="#8204fe"/><rect x="592.10" y="62.19" width="7.2" height="7.2" fill="#7803fb"/><rect x="380.00" y="56.13" width="7.2" height="7.2" fill="#de7000"/><rect x="386.06" y="56.13" width="7.2" height="7.2" fill="#de6e00"/><rect x="392.12" y="56.13" width="7.2" height="7.2" fill="#dc6a00"/><rect x="398.18" y="56.13" width="7.2" height="7.2" fill="#da6500"/><rect x="404.24" y="56.13" width="7.2" height="7.2" fill="#d85d00"/><rect x="410.30" y="56.13" width="7.2" height="7.2" fill="#d45500"/><rect x="416.36" y="56.13" width="7.2" height="7.2" fill="#d14e00"/><rect x="422.42" y="56.13" width="7.2" height="7.2" fill="#cf4800"/><rect x="428.48" y="56.13" width="7.2" height="7.2" fill="#cd4600"/><rect x="434.54" y="56.13" width="7.2" height="7.2" fill="#cd4500"/><rect x="440.60" y="56.13" width="7.2" height="7.2" fill="#ce4600"/><rect x="446.66" y="56.13" width="7.2" height="7.2" fill="#cf4900"/><rect x="452.72" y="56.13" width="7.2" height="7.2" fill="#d14d00"/><rect x="458.78" y="56.13" width="7.2" height="7.2" fill="#d45400"/><rect x="464.84" y="56.13" width="7.2" height="7.2" fill="#d85e00"/><rect x="470.90" y="56.13" width="7.2" height="7.2" fill="#dd6d00"/><rect x="476.96" y="56.13" width="7.2" height="7.2" fill="#e38000"/><rect x="483.02" y="56.13" width="7.2" height="7.2" fill="#e99500"/><rect x="489.08" y="56.13" width="7.2" height="7.2" fill="#eea900"/><rect x="495.14" y="56.13" width="7.2" height="7.2" fill="#f2ba00"/><rect x="501.20" y="56.13" width="7.2" height="7.2" fill="#f5c700"/><rect x="507.26" y="56.13" width="7.2" height="7.2" fill="#f6cf00"/><rect x="513.32" y="56.13" width="7.2" height="7.2" fill="#f6ce00"/><rect x="519.38" y="56.13" width="7.2" height="7.2" fill="#f4c100"/><rect x="525.44" y="56.13" width="7.2" height="7.2" fill="#efac00"/><rect x="531.50" y="56.13" width="7.2" height="7.2" fill="#e89200"/><rect x="537.56" y="56.13" width="7.2" height="7.2" fill="#e07600"/><rect x="543.62" y="56.13" width="7.2" height="7.2" fill="#d55700"/><rect x="549.68" y="56.13" width="7.2" height="7.2" fill="#c83c00"/><rect x="555.74" y="56.13" width="7.2" height="7.2" fill="#bb2700"/><rect x="561.80" y="56.13" width="7.2" height="7.2" fill="#ac1846"/><rect x="567.86" y="56.13" width="7.2" height="7.2" fill="#9d0eb1"/><rect x="573.92" y="56.13" width="7.2" height="7.2" fill="#8e07ee"/><rect x="579.98" y="56.13" width="7.2" height="7.2" fill="#8004ff"/><rect x="586.04" y="56.13" width="7.2" height="7.2" fill="#7302f5"/><rect x="592.10" y="56.13" width="7.2" height="7.2" fill="#6801de"/><rect x="380.00" y="50.06" width="7.2" height="7.2" fill="#e07500"/><rect x="386.06" y="50.06" width="7.2" height="7.2" fill="#e07400"/><rect x="392.12" y="50.06" width="7.2" height="7.2" fill="#de7000"/><rect x="398.18" y="50.06" width="7.2" height="7.2" fill="#dc6a00"/><rect x="404.24" y="50.06" width="7.2" height="7.2" fill="#d96100"/><rect x="410.30" y="50.06" width="7.2" height="7.2" fill="#d55700"/><rect x="416.36" y="50.06" width="7.2" height="7.2" fill="#d14e00"/><rect x="422.42" y="50.06" width="7.2" height="7.2" fill="#ce4600"/><rect x="428.48" y="50.06" width="7.2" height="7.2" fill="#cc4200"/><rect x="434.54" y="50.06" width="7.2" height="7.2" fill="#ca3f00"/><rect x="440.60" y="50.06" width="7.2" height="7.2" fill="#ca3f00"/><rect x="446.66" y="50.06" width="7.2" height="7.2" fill="#cb4100"/><rect x="452.72" y="50.06" width="7.2" height="7.2" fill="#cd4500"/><rect x="458.78" y="50.06" width="7.2" height="7.2" fill="#d04b00"/><rect x="464.84" y="50.06" width="7.2" height="7.2" fill="#d55700"/><rect x="470.90" y="50.06" width="7.2" height="7.2" fill="#db6700"/><rect x="476.96" y="50.06" width="7.2" height="7.2" fill="#e27c00"/><rect x="483.02" y="50.06" width="7.2" height="7.2" fill="#e99400"/><rect x="489.08" y="50.06" width="7.2" height="7.2" fill="#efab00"/><rect x="495.14" y="50.06" width="7.2" height="7.2" fill="#f3bf00"/><rect x="501.20" y="50.06" width="7.2" height="7.2" fill="#f6cf00"/><rect x="507.26" y="50.06" width="7.2" height="7.2" fill="#f8da00"/><rect x="513.32" y="50.06" width="7.2" height="7.2" fill="#f8da00"/><rect x="519.38" y="50.06" width="7.2" height="7.2" fill="#f5c900"/><rect x="525.44" y="50.06" width="7.2" height="7.2" fill="#efae00"/><rect x="531.50" y="50.06" width="7.2" height="7.2" fill="#e89000"/><rect x="537.56" y="50.06" width="7.2" height="7.2" fill="#de7000"/><rect x="543.62" y="50.06" width="7.2" height="7.2" fill="#d24f00"/><rect x="549.68" y="50.06" width="7.2" height="7.2" fill="#c33400"/><rect x="555.74" y="50.06" width="7.2" height="7.2" fill="#b42000"/><rect x="561.80" y="50.06" width="7.2" height="7.2" fill="#a41282"/><rect x="567.86" y="50.06" width="7.2" height="7.2" fill="#9309de"/><rect x="573.92" y="50.06" width="7.2" height="7.2" fill="#8204fe"/><rect x="579.98" y="50.06" width="7.2" height="7.2" fill="#7302f5"/><rect x="586.04" y="50.06" width="7.2" height="7.2" fill="#6801dd"/><rect x="592.10" y="50.06" width="7.2" height="7.2" fill="#5f01c2"/><rect x="380.00" y="44.00" width="7.2" height="7.2" fill="#e17800"/><rect x="386.06" y="44.00" width="7.2" height="7.2" fill="#e17700"/><rect x="392.12" y="44.00" width="7.2" height="7.2" fill="#e07400"/><rect x="398.18" y="44.00" width="7.2" height="7.2" fill="#de6e00"/><rect x="404.24" y="44.00" width="7.2" height="7.2" fill="#da6500"/><rect x="410.30" y="44.00" width="7.2" height="7.2" fill="#d65900"/><rect x="416.36" y="44.00" width="7.2" height="7.2" fill="#d14e00"/><rect x="422.42" y="44.00" width="7.2" height="7.2" fill="#ce4600"/><rect x="428.48" y="44.00" width="7.2" height="7.2" fill="#cb4000"/><rect x="434.54" y="44.00" width="7.2" height="7.2" fill="#c93d00"/><rect x="440.60" y="44.00" width="7.2" height="7.2" fill="#c83b00"/><rect x="446.66" y="44.00" width="7.2" height="7.2" fill="#c93d00"/><rect x="452.72" y="44.00" width="7.2" height="7.2" fill="#ca4000"/><rect x="458.78" y="44.00" width="7.2" height="7.2" fill="#ce4600"/><rect x="464.84" y="44.00" width="7.2" height="7.2" fill="#d35200"/><rect x="470.90" y="44.00" width="7.2" height="7.2" fill="#da6200"/><rect x="476.96" y="44.00" width="7.2" height="7.2" fill="#e17800"/><rect x="483.02" y="44.00" width="7.2" height="7.2" fill="#e89100"/><rect x="489.08" y="44.00" width="7.2" height="7.2" fill="#eeaa00"/><rect x="495.14" y="44.00" width="7.2" height="7.2" fill="#f3c000"/><rect x="501.20" y="44.00" width="7.2" height="7.2" fill="#f7d100"/><rect x="507.26" y="44.00" width="7.2" height="7.2" fill="#f9dc00"/><rect x="513.32" y="44.00" width="7.2" height="7.2" fill="#f9dd00"/><rect x="519.38" y="44.00" width="7.2" height="7.2" fill="#f5cb00"/><rect x="525.44" y="44.00" width="7.2" height="7.2" fill="#efad00"/><rect x="531.50" y="44.00" width="7.2" height="7.2" fill="#e78e00"/><rect x="537.56" y="44.00" width="7.2" height="7.2" fill="#dd6c00"/><rect x="543.62" y="44.00" width="7.2" height="7.2" fill="#cf4a00"/><rect x="549.68" y="44.00" width="7.2" height="7.2" fill="#c02e00"/><rect x="555.74" y="44.00" width="7.2" height="7.2" fill="#b01b2a"/><rect x="561.80" y="44.00" width="7.2" height="7.2" fill="#9e0eaa"/><rect x="567.86" y="44.00" width="7.2" height="7.2" fill="#8b07f4"/><rect x="573.92" y="44.00" width="7.2" height="7.2" fill="#7803fb"/><rect x="579.98" y="44.00" width="7.2" height="7.2" fill="#6801de"/><rect x="586.04" y="44.00" width="7.2" height="7.2" fill="#5f01c2"/><rect x="592.10" y="44.00" width="7.2" height="7.2" fill="#5800ac"/></g><g fill="none" stroke-width="0.90" stroke-opacity="0.90" clip-path="url(#clipB)"><path d="M493.7,262.3 493.9,260.8 494.2,259.3 494.4,257.8 494.7,256.2 494.9,254.7 495.1,253.2 495.1,253.2 495.3,251.7 495.5,250.2 495.6,248.7 495.7,247.1 495.7,245.6 495.7,244.1 495.7,242.6 495.6,241.1 495.5,239.6 495.4,238.0 495.2,236.5 495.1,236.2 494.9,235.0 494.5,233.5 494.1,232.0 493.6,230.9 493.4,230.5 492.5,228.9 492.1,228.4 491.4,227.4 490.6,226.6 489.9,225.9 489.1,225.2 488.0,224.4 487.6,224.1 486.1,223.1 485.7,222.9 484.5,222.2 483.1,221.4 483.0,221.3 481.5,220.5 480.1,219.9 480.0,219.8 478.5,219.1 477.0,218.4 476.7,218.3 475.4,217.7 473.9,217.1 473.3,216.8 472.4,216.4 470.9,215.7 469.9,215.3 469.4,215.0 467.9,214.4 466.4,213.8 466.4,213.8 464.8,213.2 463.3,212.8 461.8,212.5 460.3,212.6 458.8,213.1 458.0,213.8 457.3,214.4 456.7,215.3 455.8,216.8 455.8,216.8 455.1,218.3 454.6,219.9 454.2,220.9 454.1,221.4 453.8,222.9 453.5,224.4 453.2,225.9 453.0,227.4 452.8,228.9 452.7,229.9 452.7,230.5 452.6,232.0 452.5,233.5 452.4,235.0 452.4,236.5 452.4,238.0 452.4,239.6 452.4,241.1 452.4,242.6 452.5,244.1 452.5,245.6 452.5,247.1 452.6,248.7 452.6,250.2 452.7,251.7 452.7,252.6 452.7,253.2 452.8,254.7 452.9,256.2 453.0,257.8 453.1,259.3 453.2,260.8 453.3,262.3" stroke="#56b4e9"/><path d="M380.0,189.0 381.5,189.1 383.0,189.2 384.5,189.3 386.1,189.4 387.6,189.4 389.1,189.5 389.7,189.5 390.6,189.6 392.1,189.6 393.6,189.7 395.1,189.7 396.7,189.8 398.2,189.8 399.7,189.8 401.2,189.9 402.7,189.9 404.2,189.9 405.8,189.9 407.3,189.8 408.8,189.8 410.3,189.7 411.8,189.6 412.4,189.5 413.3,189.4 414.8,189.3 416.4,189.0 417.9,188.8 419.4,188.5 420.9,188.1 421.3,188.0 422.4,187.7 423.9,187.1 425.4,186.5 425.4,186.5 427.0,185.6 427.9,185.0 428.5,184.3 429.2,183.5 429.7,182.0 429.7,180.4 429.5,178.9 429.1,177.4 428.5,175.9 428.5,175.9 427.9,174.4 427.2,172.9 427.0,172.3 426.6,171.3 425.9,169.8 425.4,168.9 425.2,168.3 424.5,166.8 423.9,165.5 423.8,165.3 423.2,163.8 422.5,162.2 422.4,162.2 421.7,160.7 420.9,159.2 420.9,159.2 420.1,157.7 419.4,156.5 419.2,156.2 418.2,154.7 417.9,154.3 417.0,153.2 416.4,152.4 415.7,151.6 414.8,150.9 413.9,150.1 413.3,149.7 411.8,148.8 411.3,148.6 410.3,148.2 408.8,147.7 407.3,147.3 406.1,147.1 405.8,147.0 404.2,146.8 402.7,146.7 401.2,146.6 399.7,146.5 398.2,146.5 396.7,146.5 395.1,146.6 393.6,146.6 392.1,146.8 390.6,146.9 389.1,147.1 389.1,147.1 387.6,147.3 386.1,147.5 384.5,147.8 383.0,148.1 381.5,148.3 380.0,148.5" stroke="#56b4e9"/><path d="M598.2,110.8 596.6,110.8 595.1,110.7 595.1,110.7 593.6,110.7 592.1,110.6 590.6,110.6 589.1,110.5 587.6,110.5 586.0,110.4 584.5,110.4 583.0,110.4 581.5,110.4 580.0,110.4 578.5,110.4 577.0,110.4 575.4,110.5 573.9,110.5 572.4,110.7 571.8,110.7 570.9,110.8 569.4,111.0 567.9,111.2 566.3,111.5 564.8,111.8 563.3,112.1 562.9,112.2 561.8,112.6 560.3,113.1 558.8,113.7 558.8,113.7 557.3,114.7 556.4,115.3 555.7,116.0 555.1,116.8 554.5,118.3 554.5,119.8 554.7,121.3 555.1,122.8 555.7,124.3 555.7,124.4 556.3,125.9 557.0,127.4 557.3,127.9 557.7,128.9 558.3,130.4 558.8,131.3 559.0,131.9 559.7,133.4 560.3,134.7 560.4,135.0 561.0,136.5 561.8,138.0 561.8,138.1 562.5,139.5 563.3,141.0 563.3,141.1 564.1,142.5 564.8,143.7 565.0,144.1 566.0,145.6 566.3,146.0 567.2,147.1 567.9,147.9 568.5,148.6 569.4,149.4 570.3,150.1 570.9,150.5 572.4,151.4 572.9,151.6 573.9,152.1 575.4,152.6 577.0,152.9 578.1,153.2 578.5,153.2 580.0,153.4 581.5,153.6 583.0,153.7 584.5,153.7 586.0,153.7 587.6,153.7 589.1,153.7 590.6,153.6 592.1,153.5 593.6,153.4 595.1,153.2 596.1,153.2 596.6,153.1 598.2,153.0" stroke="#56b4e9"/><path d="M489.2,44.0 489.1,45.5 489.1,46.1 489.0,47.0 488.9,48.5 488.7,50.1 488.6,51.6 488.6,53.1 488.5,54.6 488.5,56.1 488.5,57.6 488.6,59.2 488.7,60.7 488.8,62.2 489.0,63.7 489.1,64.1 489.3,65.2 489.7,66.7 490.2,68.3 490.6,69.3 490.8,69.8 491.7,71.3 492.1,71.9 492.9,72.8 493.6,73.6 494.4,74.3 495.1,75.0 496.2,75.8 496.7,76.1 498.2,77.2 498.5,77.4 499.7,78.1 501.1,78.9 501.2,78.9 502.7,79.7 504.2,80.4 504.2,80.4 505.7,81.2 507.3,81.8 507.5,81.9 508.8,82.5 510.3,83.2 510.9,83.4 511.8,83.8 513.3,84.5 514.3,84.9 514.8,85.2 516.4,85.9 517.8,86.4 517.9,86.5 519.4,87.0 520.9,87.5 522.4,87.7 523.9,87.7 525.4,87.1 526.2,86.4 527.0,85.8 527.5,84.9 528.5,83.4 528.5,83.4 529.1,81.9 529.6,80.4 530.0,79.3 530.1,78.9 530.4,77.4 530.7,75.8 531.0,74.3 531.2,72.8 531.4,71.3 531.5,70.4 531.6,69.8 531.7,68.3 531.7,66.7 531.8,65.2 531.8,63.7 531.8,62.2 531.8,60.7 531.8,59.2 531.8,57.6 531.8,56.1 531.7,54.6 531.7,53.1 531.6,51.6 531.6,50.1 531.5,48.5 531.5,47.1 531.5,47.0 531.5,45.5 531.4,44.0" stroke="#56b4e9"/><path d="M380.0,198.0 381.5,198.0 383.0,198.1 384.5,198.2 386.1,198.3 387.6,198.4 389.1,198.5 390.2,198.6 390.6,198.7 392.1,198.8 393.6,199.0 395.1,199.2 396.7,199.5 398.2,199.8 399.7,200.1 399.8,200.1 401.2,200.5 402.7,200.9 404.2,201.3 405.4,201.7 405.8,201.8 407.3,202.2 408.8,202.7 410.1,203.2 410.3,203.2 411.8,203.7 413.3,204.3 414.6,204.7 414.8,204.8 416.4,205.3 417.9,205.9 418.7,206.2 419.4,206.5 420.9,207.1 422.1,207.7 422.4,207.9 423.9,208.7 424.8,209.2 425.4,209.6 427.0,210.7 427.0,210.8 428.5,212.0 428.8,212.3 430.0,213.5 430.3,213.8 431.5,215.3 431.5,215.3 432.6,216.8 433.0,217.5 433.6,218.3 434.4,219.9 434.5,220.1 435.1,221.4 435.8,222.9 436.1,223.6 436.4,224.4 436.9,225.9 437.5,227.4 437.6,227.7 438.0,228.9 438.5,230.5 439.0,232.0 439.1,232.2 439.5,233.5 440.0,235.0 440.5,236.5 440.6,236.9 441.0,238.0 441.4,239.6 441.8,241.1 442.1,242.5 442.1,242.6 442.5,244.1 442.8,245.6 443.0,247.1 443.2,248.7 443.4,250.2 443.6,251.7 443.6,252.1 443.7,253.2 443.9,254.7 444.0,256.2 444.1,257.8 444.1,259.3 444.2,260.8 444.3,262.3" stroke="#e69f00"/><path d="M506.4,262.3 506.5,260.8 506.7,259.3 506.9,257.8 507.1,256.2 507.3,255.6 507.4,254.7 507.7,253.2 508.0,251.7 508.4,250.2 508.7,248.7 508.8,248.5 509.1,247.1 509.5,245.6 510.0,244.1 510.3,243.2 510.5,242.6 511.1,241.1 511.7,239.6 511.8,239.3 512.4,238.0 513.2,236.5 513.3,236.4 514.2,235.0 514.8,234.1 515.3,233.5 516.4,232.1 516.4,232.0 517.7,230.5 517.9,230.3 519.1,228.9 519.4,228.6 520.4,227.4 520.9,226.9 521.8,225.9 522.4,225.2 523.1,224.4 523.9,223.3 524.3,222.9 525.4,221.4 525.4,221.3 526.4,219.9 527.0,218.9 527.3,218.3 528.1,216.8 528.5,216.1 528.9,215.3 529.8,213.8 530.0,213.4 530.7,212.3 531.5,211.1 531.7,210.8 532.9,209.2 533.0,209.1 534.2,207.7 534.5,207.4 535.6,206.2 536.0,205.8 537.2,204.7 537.6,204.3 538.7,203.2 539.1,202.8 540.3,201.7 540.6,201.3 541.8,200.1 542.1,199.8 543.3,198.6 543.6,198.3 544.8,197.1 545.1,196.7 546.2,195.6 546.6,195.2 547.7,194.1 548.2,193.7 549.3,192.6 549.7,192.2 551.0,191.0 551.2,190.9 552.7,189.8 553.0,189.5 554.2,188.7 555.4,188.0 555.7,187.8 557.3,186.9 558.1,186.5 558.8,186.1 560.3,185.3 560.8,185.0 561.8,184.4 563.2,183.5 563.3,183.4 564.8,182.3 565.3,182.0 566.3,181.1 567.1,180.4 567.9,179.8 568.8,178.9 569.4,178.4 570.5,177.4 570.9,177.1 572.2,175.9 572.4,175.7 573.9,174.5 574.0,174.4 575.4,173.3 576.0,172.9 577.0,172.2 578.3,171.3 578.5,171.3 580.0,170.4 581.2,169.8 581.5,169.7 583.0,169.1 584.5,168.5 585.1,168.3 586.0,168.0 587.6,167.6 589.1,167.1 590.4,166.8 590.6,166.8 592.1,166.4 593.6,166.1 595.1,165.8 596.6,165.6 598.2,165.4" stroke="#e69f00"/><path d="M598.2,239.5 597.7,239.6 596.6,239.8 595.1,240.2 593.6,240.7 592.7,241.1 592.1,241.3 590.6,242.2 589.9,242.6 589.1,243.1 587.8,244.1 587.6,244.4 586.3,245.6 586.0,245.9 585.1,247.1 584.5,247.9 584.1,248.7 583.3,250.2 583.0,250.7 582.6,251.7 582.0,253.2 581.6,254.7 581.5,255.0 581.2,256.2 580.9,257.8 580.7,259.3 580.5,260.8 580.4,262.3" stroke="#e69f00"/><path d="M476.8,44.0 476.7,45.5 476.4,47.0 476.1,48.5 475.8,50.1 475.5,51.6 475.4,51.7 475.1,53.1 474.7,54.6 474.2,56.1 473.9,57.0 473.7,57.6 473.2,59.2 472.5,60.7 472.4,60.9 471.8,62.2 471.0,63.7 470.9,63.8 470.0,65.2 469.4,66.2 469.0,66.7 467.9,68.2 467.8,68.3 466.5,69.8 466.4,70.0 465.2,71.3 464.8,71.7 463.8,72.8 463.3,73.4 462.4,74.3 461.8,75.1 461.1,75.8 460.3,76.9 459.9,77.4 458.8,78.9 458.8,78.9 457.8,80.4 457.3,81.4 457.0,81.9 456.1,83.4 455.8,84.1 455.3,84.9 454.5,86.4 454.2,86.8 453.5,88.0 452.7,89.2 452.5,89.5 451.3,91.0 451.2,91.1 450.0,92.5 449.7,92.9 448.6,94.0 448.2,94.4 447.1,95.5 446.7,95.9 445.5,97.1 445.1,97.4 444.0,98.6 443.6,98.9 442.4,100.1 442.1,100.4 440.9,101.6 440.6,101.9 439.4,103.1 439.1,103.5 438.0,104.6 437.6,105.0 436.5,106.2 436.1,106.6 434.9,107.7 434.5,108.0 433.2,109.2 433.0,109.3 431.5,110.5 431.2,110.7 430.0,111.5 428.9,112.2 428.5,112.4 427.0,113.3 426.2,113.7 425.4,114.1 423.9,114.9 423.4,115.3 422.4,115.8 421.0,116.8 420.9,116.8 419.4,117.9 418.9,118.3 417.9,119.1 417.1,119.8 416.4,120.4 415.4,121.3 414.8,121.8 413.7,122.8 413.3,123.2 412.0,124.3 411.8,124.5 410.3,125.8 410.2,125.9 408.8,126.9 408.2,127.4 407.3,128.0 405.9,128.9 405.8,129.0 404.2,129.8 403.0,130.4 402.7,130.5 401.2,131.2 399.7,131.7 399.1,131.9 398.2,132.2 396.7,132.7 395.1,133.1 393.8,133.4 393.6,133.5 392.1,133.8 390.6,134.2 389.1,134.5 387.6,134.8 386.7,135.0 386.1,135.1 384.5,135.3 383.0,135.5 381.5,135.7 380.0,135.9" stroke="#e69f00"/><path d="M598.2,101.8 596.6,101.8 595.1,101.7 594.2,101.6 593.6,101.6 592.1,101.4 590.6,101.2 589.1,101.0 587.6,100.7 586.0,100.4 584.5,100.1 584.5,100.1 583.0,99.7 581.5,99.4 580.0,98.9 578.8,98.6 578.5,98.5 577.0,98.0 575.4,97.5 574.1,97.1 573.9,97.0 572.4,96.5 570.9,96.0 569.7,95.5 569.4,95.4 567.9,94.9 566.3,94.4 565.5,94.0 564.8,93.8 563.3,93.1 562.1,92.5 561.8,92.4 560.3,91.5 559.4,91.0 558.8,90.6 557.3,89.5 557.2,89.5 555.7,88.2 555.4,88.0 554.2,86.7 554.0,86.4 552.7,85.0 552.7,84.9 551.6,83.4 551.2,82.8 550.7,81.9 549.8,80.4 549.7,80.1 549.1,78.9 548.4,77.4 548.2,76.7 547.8,75.8 547.3,74.3 546.7,72.8 546.6,72.5 546.2,71.3 545.7,69.8 545.2,68.3 545.1,68.1 544.7,66.7 544.2,65.2 543.7,63.7 543.6,63.4 543.3,62.2 542.8,60.7 542.4,59.2 542.1,57.7 542.1,57.6 541.8,56.1 541.5,54.6 541.2,53.1 541.0,51.6 540.8,50.1 540.6,48.5 540.6,47.9 540.5,47.0 540.4,45.5 540.4,44.0" stroke="#e69f00"/><path d="M380.0,61.7 381.5,61.6 383.0,61.5 384.5,61.2 386.1,61.0 387.3,60.7 387.6,60.6 389.1,60.1 390.6,59.6 391.6,59.2 392.1,58.9 393.6,58.1 394.4,57.6 395.1,57.1 396.4,56.1 396.7,55.9 397.9,54.6 398.2,54.3 399.1,53.1 399.7,52.3 400.1,51.6 400.9,50.1 401.2,49.5 401.6,48.5 402.1,47.0 402.5,45.5 402.7,44.4 402.8,44.0" stroke="#e69f00"/><path d="M380.0,204.7 381.5,204.8 383.0,204.9 384.5,205.0 386.1,205.1 387.6,205.3 389.1,205.5 390.6,205.7 392.1,206.0 393.4,206.2 393.6,206.3 395.1,206.6 396.7,207.0 398.2,207.4 399.2,207.7 399.7,207.9 401.2,208.4 402.7,209.0 403.4,209.2 404.2,209.6 405.8,210.3 406.8,210.8 407.3,211.0 408.8,211.7 409.9,212.3 410.3,212.5 411.8,213.3 412.7,213.8 413.3,214.1 414.8,215.1 415.2,215.3 416.4,216.1 417.4,216.8 417.9,217.2 419.2,218.3 419.4,218.5 420.9,219.9 420.9,219.9 422.4,221.4 422.4,221.4 423.8,222.9 423.9,223.1 425.0,224.4 425.4,224.9 426.2,225.9 427.0,227.1 427.2,227.4 428.1,228.9 428.5,229.6 429.0,230.5 429.8,232.0 430.0,232.4 430.6,233.5 431.3,235.0 431.5,235.5 432.0,236.5 432.7,238.0 433.0,238.9 433.3,239.6 433.9,241.1 434.4,242.6 434.5,243.1 434.9,244.1 435.3,245.6 435.7,247.1 436.0,248.7 436.1,248.9 436.3,250.2 436.6,251.7 436.8,253.2 437.0,254.7 437.1,256.2 437.3,257.8 437.4,259.3 437.5,260.8 437.6,262.3" stroke="#f0e442"/><path d="M521.7,262.3 521.9,260.8 522.0,259.3 522.2,257.8 522.4,257.0 522.6,256.2 523.0,254.7 523.6,253.2 523.9,252.5 524.4,251.7 525.3,250.2 525.4,250.1 526.6,248.7 527.0,248.3 528.3,247.1 528.5,247.0 530.0,245.9 530.4,245.6 531.5,245.0 533.0,244.1 533.1,244.1 534.5,243.4 536.0,242.8 536.6,242.6 537.6,242.2 539.1,241.8 540.6,241.4 542.0,241.1 542.1,241.1 543.6,240.8 545.1,240.6 546.6,240.5 548.2,240.5 549.7,240.6 551.2,240.9 551.8,241.1 552.7,241.4 554.2,242.2 554.8,242.6 555.7,243.5 556.2,244.1 557.1,245.6 557.3,246.1 557.6,247.1 558.0,248.7 558.2,250.2 558.3,251.7 558.4,253.2 558.4,254.7 558.5,256.2 558.5,257.8 558.5,259.3 558.5,260.8 558.5,262.3" stroke="#f0e442"/><path d="M598.2,216.5 596.6,216.5 595.1,216.4 593.6,216.4 592.1,216.2 590.6,216.0 589.1,215.7 588.0,215.3 587.6,215.1 586.0,214.2 585.5,213.8 584.5,212.8 584.1,212.3 583.3,210.8 583.0,209.9 582.8,209.2 582.6,207.7 582.5,206.2 582.5,204.7 582.6,203.2 582.7,201.7 583.0,200.1 583.0,200.1 583.3,198.6 583.7,197.1 584.2,195.6 584.5,194.6 584.7,194.1 585.4,192.6 586.0,191.1 586.1,191.0 586.9,189.5 587.6,188.5 587.8,188.0 588.9,186.5 589.1,186.3 590.3,185.0 590.6,184.7 592.0,183.5 592.1,183.4 593.6,182.4 594.6,182.0 595.1,181.7 596.6,181.2 598.2,180.8" stroke="#f0e442"/><path d="M380.0,83.7 381.5,83.7 383.0,83.7 384.5,83.7 386.1,83.7 387.6,83.7 389.1,83.8 390.6,83.9 392.1,84.0 393.6,84.2 395.1,84.6 396.2,84.9 396.7,85.1 398.2,86.0 398.8,86.4 399.7,87.4 400.1,88.0 400.9,89.5 401.2,90.3 401.4,91.0 401.7,92.5 401.8,94.0 401.8,95.5 401.7,97.1 401.5,98.6 401.2,100.1 401.2,100.2 400.9,101.6 400.5,103.1 400.0,104.6 399.7,105.6 399.5,106.2 398.9,107.7 398.2,109.1 398.2,109.2 397.3,110.7 396.7,111.8 396.4,112.2 395.3,113.7 395.1,113.9 393.9,115.3 393.6,115.6 392.2,116.8 392.1,116.9 390.6,117.8 389.8,118.3 389.1,118.6 387.6,119.2 386.1,119.6 385.3,119.8 384.5,120.0 383.0,120.2 381.5,120.4 380.0,120.5" stroke="#f0e442"/><path d="M598.2,95.0 596.6,94.9 595.1,94.7 593.6,94.5 592.1,94.3 590.9,94.0 590.6,94.0 589.1,93.6 587.6,93.3 586.0,92.8 585.0,92.5 584.5,92.4 583.0,91.8 581.5,91.3 580.9,91.0 580.0,90.6 578.5,90.0 577.4,89.5 577.0,89.3 575.4,88.5 574.3,88.0 573.9,87.8 572.4,86.9 571.5,86.4 570.9,86.1 569.4,85.2 569.0,84.9 567.9,84.1 566.9,83.4 566.3,83.0 565.0,81.9 564.8,81.7 563.3,80.4 563.3,80.4 561.8,78.9 561.8,78.8 560.4,77.4 560.3,77.2 559.2,75.8 558.8,75.3 558.0,74.3 557.3,73.2 557.0,72.8 556.1,71.3 555.7,70.7 555.2,69.8 554.4,68.3 554.2,67.8 553.7,66.7 552.9,65.2 552.7,64.8 552.2,63.7 551.6,62.2 551.2,61.3 550.9,60.7 550.4,59.2 549.8,57.6 549.7,57.2 549.4,56.1 548.9,54.6 548.6,53.1 548.2,51.6 548.2,51.3 547.9,50.1 547.7,48.5 547.5,47.0 547.3,45.5 547.2,44.0" stroke="#f0e442"/><path d="M461.4,44.0 461.1,45.5 460.5,47.0 460.3,47.6 459.8,48.5 458.9,50.1 458.8,50.2 457.6,51.6 457.3,51.9 455.9,53.1 455.8,53.2 454.2,54.3 453.8,54.6 452.7,55.3 451.2,56.1 451.1,56.1 449.7,56.8 448.2,57.5 447.6,57.6 446.7,58.0 445.1,58.5 443.6,58.9 442.2,59.2 442.1,59.2 440.6,59.4 439.1,59.6 437.6,59.7 436.1,59.7 434.5,59.6 433.0,59.3 432.4,59.2 431.5,58.9 430.0,58.1 429.4,57.6 428.5,56.7 428.0,56.1 427.2,54.6 427.0,54.1 426.6,53.1 426.3,51.6 426.0,50.1 425.9,48.5 425.8,47.0 425.8,45.5 425.8,44.0" stroke="#f0e442"/><path d="M380.0,210.9 381.5,211.0 383.0,211.1 384.5,211.3 386.1,211.5 387.6,211.7 389.1,212.0 390.6,212.3 390.6,212.3 392.1,212.6 393.6,213.0 395.1,213.5 396.1,213.8 396.7,214.0 398.2,214.6 399.7,215.2 400.0,215.3 401.2,215.9 402.7,216.6 403.1,216.8 404.2,217.4 405.8,218.3 405.9,218.3 407.3,219.2 408.3,219.9 408.8,220.1 410.3,221.2 410.5,221.4 411.8,222.4 412.4,222.9 413.3,223.6 414.2,224.4 414.8,225.0 415.8,225.9 416.4,226.5 417.3,227.4 417.9,228.1 418.6,228.9 419.4,229.8 419.9,230.5 420.9,231.8 421.1,232.0 422.1,233.5 422.4,233.9 423.1,235.0 423.9,236.4 424.0,236.5 424.9,238.0 425.4,239.1 425.7,239.6 426.4,241.1 427.0,242.3 427.1,242.6 427.7,244.1 428.3,245.6 428.5,246.2 428.8,247.1 429.2,248.7 429.6,250.2 430.0,251.7 430.0,251.7 430.3,253.2 430.6,254.7 430.8,256.2 431.0,257.8 431.1,259.3 431.3,260.8 431.4,262.3" stroke="#0072b2"/><path d="M598.2,88.6 596.6,88.4 595.1,88.2 593.7,88.0 593.6,87.9 592.1,87.6 590.6,87.2 589.1,86.7 588.2,86.4 587.6,86.2 586.0,85.7 584.5,85.0 584.3,84.9 583.0,84.4 581.5,83.6 581.1,83.4 580.0,82.8 578.5,82.0 578.3,81.9 577.0,81.1 575.9,80.4 575.4,80.1 573.9,79.0 573.7,78.9 572.4,77.9 571.8,77.4 570.9,76.6 570.0,75.8 569.4,75.2 568.4,74.3 567.9,73.7 567.0,72.8 566.3,72.1 565.6,71.3 564.8,70.4 564.3,69.8 563.3,68.5 563.2,68.3 562.1,66.7 561.8,66.3 561.1,65.2 560.3,63.9 560.2,63.7 559.4,62.2 558.8,61.1 558.6,60.7 557.8,59.2 557.3,57.9 557.1,57.6 556.5,56.1 555.9,54.6 555.7,54.0 555.4,53.1 555.0,51.6 554.6,50.1 554.2,48.5 554.2,48.4 554.0,47.0 553.7,45.5 553.6,44.0" stroke="#0072b2"/><path d="M380.0,217.3 381.5,217.4 383.0,217.6 384.5,217.8 386.1,218.0 387.6,218.3 387.9,218.3 389.1,218.6 390.6,219.0 392.1,219.4 393.3,219.9 393.6,220.0 395.1,220.5 396.7,221.2 397.1,221.4 398.2,221.9 399.7,222.6 400.1,222.9 401.2,223.5 402.7,224.4 402.8,224.4 404.2,225.4 405.0,225.9 405.8,226.4 407.1,227.4 407.3,227.6 408.8,228.9 408.9,228.9 410.3,230.2 410.5,230.5 411.8,231.7 412.0,232.0 413.3,233.4 413.4,233.5 414.7,235.0 414.8,235.2 415.8,236.5 416.4,237.3 416.9,238.0 417.9,239.5 417.9,239.6 418.8,241.1 419.4,242.1 419.6,242.6 420.4,244.1 420.9,245.2 421.1,245.6 421.7,247.1 422.3,248.7 422.4,249.0 422.8,250.2 423.3,251.7 423.7,253.2 423.9,254.4 424.0,254.7 424.3,256.2 424.5,257.8 424.7,259.3 424.9,260.8 425.0,262.3" stroke="#e51e10"/><path d="M598.2,82.0 597.1,81.9 596.6,81.8 595.1,81.6 593.6,81.2 592.1,80.8 590.9,80.4 590.6,80.3 589.1,79.7 587.6,79.1 587.1,78.9 586.0,78.4 584.5,77.6 584.1,77.4 583.0,76.8 581.5,75.9 581.5,75.8 580.0,74.9 579.2,74.3 578.5,73.8 577.2,72.8 577.0,72.6 575.4,71.4 575.3,71.3 573.9,70.0 573.7,69.8 572.4,68.5 572.2,68.3 570.9,66.8 570.8,66.7 569.5,65.2 569.4,65.0 568.4,63.7 567.9,63.0 567.3,62.2 566.3,60.7 566.3,60.7 565.4,59.2 564.8,58.1 564.6,57.6 563.8,56.1 563.3,55.0 563.1,54.6 562.5,53.1 561.9,51.6 561.8,51.3 561.4,50.1 561.0,48.5 560.6,47.0 560.3,45.5 560.3,45.1 560.1,44.0" stroke="#e51e10"/><path d="M380.0,223.9 381.5,224.0 383.0,224.2 384.4,224.4 384.5,224.4 386.1,224.7 387.6,225.1 389.1,225.5 390.5,225.9 390.6,226.0 392.1,226.5 393.6,227.1 394.2,227.4 395.1,227.9 396.7,228.7 397.2,228.9 398.2,229.6 399.6,230.5 399.7,230.5 401.2,231.6 401.7,232.0 402.7,232.8 403.6,233.5 404.2,234.0 405.3,235.0 405.8,235.4 406.8,236.5 407.3,237.0 408.2,238.0 408.8,238.7 409.5,239.6 410.3,240.6 410.7,241.1 411.8,242.6 411.8,242.7 412.7,244.1 413.3,245.1 413.6,245.6 414.4,247.1 414.8,248.0 415.1,248.7 415.8,250.2 416.3,251.7 416.4,251.8 416.8,253.2 417.2,254.7 417.6,256.2 417.9,257.8 417.9,257.9 418.1,259.3 418.3,260.8 418.4,262.3" stroke="#000000"/><path d="M598.2,75.3 596.6,75.0 595.1,74.7 593.9,74.3 593.6,74.2 592.1,73.7 590.6,73.1 590.0,72.8 589.1,72.4 587.6,71.6 587.1,71.3 586.0,70.7 584.6,69.8 584.5,69.7 583.0,68.6 582.5,68.3 581.5,67.5 580.6,66.7 580.0,66.2 578.9,65.2 578.5,64.8 577.4,63.7 577.0,63.3 576.0,62.2 575.4,61.6 574.7,60.7 573.9,59.7 573.5,59.2 572.5,57.6 572.4,57.5 571.5,56.1 570.9,55.1 570.6,54.6 569.8,53.1 569.4,52.2 569.1,51.6 568.5,50.1 567.9,48.5 567.9,48.3 567.5,47.0 567.1,45.5 566.9,44.0" stroke="#000000"/><path d="M380.0,231.0 381.5,231.2 383.0,231.4 384.5,231.7 385.5,232.0 386.1,232.1 387.6,232.6 389.1,233.2 389.8,233.5 390.6,233.9 392.1,234.6 392.8,235.0 393.6,235.5 395.1,236.5 395.2,236.5 396.7,237.7 397.2,238.0 398.2,238.9 398.9,239.6 399.7,240.2 400.6,241.1 401.2,241.7 402.0,242.6 402.7,243.3 403.4,244.1 404.2,245.1 404.6,245.6 405.8,247.1 405.8,247.1 406.8,248.7 407.3,249.5 407.6,250.2 408.4,251.7 408.8,252.5 409.1,253.2 409.7,254.7 410.1,256.2 410.3,256.8 410.5,257.8 410.8,259.3 411.1,260.8 411.2,262.3" stroke="#9400d3"/><path d="M598.2,67.8 596.6,67.4 595.1,66.9 594.6,66.7 593.6,66.3 592.1,65.6 591.5,65.2 590.6,64.7 589.1,63.7 589.1,63.7 587.6,62.6 587.1,62.2 586.0,61.3 585.3,60.7 584.5,60.0 583.7,59.2 583.0,58.5 582.2,57.6 581.5,56.9 580.8,56.1 580.0,55.1 579.6,54.6 578.5,53.1 578.5,53.1 577.5,51.6 577.0,50.7 576.6,50.1 575.9,48.5 575.4,47.6 575.2,47.0 574.8,45.5 574.4,44.0" stroke="#9400d3"/><path d="M380.0,240.6 381.5,240.9 382.0,241.1 383.0,241.4 384.5,242.1 385.6,242.6 386.1,242.9 387.6,243.9 387.8,244.1 389.1,245.2 389.6,245.6 390.6,246.6 391.2,247.1 392.1,248.1 392.7,248.7 393.6,249.6 394.2,250.2 395.1,251.1 395.7,251.7 396.7,252.7 397.1,253.2 398.2,254.5 398.4,254.7 399.4,256.2 399.7,256.7 400.2,257.8 400.9,259.3 401.2,260.3 401.4,260.8 401.7,262.3" stroke="#009e73"/><path d="M598.2,56.5 597.3,56.1 596.6,55.8 595.1,54.8 595.0,54.6 593.6,53.5 593.2,53.1 592.1,52.0 591.6,51.6 590.6,50.5 590.1,50.1 589.1,49.0 588.7,48.5 587.6,47.2 587.4,47.0 586.4,45.5 586.0,44.9 585.6,44.0" stroke="#009e73"/></g><rect x="379.5" y="38.5" width="224.2" height="223.8" fill="none" stroke="#444" stroke-width="1"/><path d="M514.5,50.8 L516.5,47.4 L518.5,50.8 L516.5,54.2 Z" fill="none" stroke="#009e73" stroke-width="0.9"/><path d="M464.7,249.6 L466.7,246.2 L468.7,249.6 L466.7,253.0 Z" fill="none" stroke="#009e73" stroke-width="0.9"/><path d="M388.2,175.6 L391.8,173.7 L395.4,175.6 L391.8,177.5 Z" fill="none" stroke="#009e73" stroke-width="0.9"/><path d="M587.6,125.6 L591.2,123.7 L594.8,125.6 L591.2,127.5 Z" fill="none" stroke="#009e73" stroke-width="0.9"/><circle cx="441.8" cy="194.0" r="0.9" fill="#8fa7b0"/><circle cx="448.2" cy="200.2" r="0.9" fill="#8fa7b0"/><circle cx="535.2" cy="100.6" r="0.9" fill="#8fa7b0"/><circle cx="541.4" cy="106.7" r="0.9" fill="#8fa7b0"/><rect x="272.6" y="39.5" width="11.8" height="224.2" fill="url(#cb)" stroke="#666" stroke-width="0.8"/><line x1="272.6" x2="284.4" y1="67.5" y2="67.5" stroke="#222" stroke-width="0.9"/><line x1="272.6" x2="284.4" y1="95.5" y2="95.5" stroke="#222" stroke-width="0.9"/><line x1="272.6" x2="284.4" y1="123.6" y2="123.6" stroke="#222" stroke-width="0.9"/><line x1="272.6" x2="284.4" y1="151.6" y2="151.6" stroke="#222" stroke-width="0.9"/><line x1="272.6" x2="284.4" y1="179.6" y2="179.6" stroke="#222" stroke-width="0.9"/><line x1="272.6" x2="284.4" y1="207.6" y2="207.6" stroke="#222" stroke-width="0.9"/><line x1="272.6" x2="284.4" y1="235.7" y2="235.7" stroke="#222" stroke-width="0.9"/><text x="296.0" y="71.4" font-size="15">3</text><text x="296.0" y="99.5" font-size="15">2</text><text x="296.0" y="127.5" font-size="15">1</text><text x="296.0" y="155.5" font-size="15">0</text><text x="296.0" y="183.5" font-size="15">− 1</text><text x="296.0" y="211.5" font-size="15">− 2</text><text x="296.0" y="239.6" font-size="15">− 3</text><text x="296.0" y="43.4" font-size="15">4</text><text x="296.0" y="267.6" font-size="15">− 4</text><rect x="609.2" y="38.5" width="11.7" height="223.8" fill="url(#cb)" stroke="#666" stroke-width="0.8"/><line x1="609.2" x2="620.9" y1="94.5" y2="94.5" stroke="#222" stroke-width="0.9"/><line x1="609.2" x2="620.9" y1="150.4" y2="150.4" stroke="#222" stroke-width="0.9"/><line x1="609.2" x2="620.9" y1="206.4" y2="206.4" stroke="#222" stroke-width="0.9"/><text x="633.0" y="98.4" font-size="15">0</text><text x="633.0" y="154.3" font-size="15">− 0.5</text><text x="633.0" y="210.3" font-size="15">− 1</text><text x="633.0" y="42.2" font-size="15">0.5</text><text x="633.0" y="266.0" font-size="15">− 1.5</text><text transform="translate(333,154.5) rotate(-90)" text-anchor="middle" class="sf" font-size="17">meV</text><text transform="translate(684,151.5) rotate(-90)" text-anchor="middle" class="sf" font-size="17">meV</text><text x="4.3" y="13" font-size="19" font-weight="bold">a</text><text x="349.5" y="15" font-size="19" font-weight="bold">b</text><text x="1.5" y="323" font-size="19" font-weight="bold">c</text><text x="462.5" y="331" font-size="19" font-weight="bold">d</text><text x="152.7" y="26" font-size="15.5" text-anchor="middle">Eu-total</text><text x="470.5" y="24.6" font-size="14.6">Eu- t<tspan font-size="10.5" dy="4">2g</tspan></text><text x="19.2" y="43.4" font-size="15">1</text><text x="19.5" y="268" font-size="15">0</text><text x="38.9" y="284.5" font-size="15">0</text><text x="263" y="284.6" font-size="15">1</text><text x="147.5" y="289" font-size="16">q<tspan font-size="11" dx="-1.5" dy="3">x</tspan></text><text transform="translate(26,159) rotate(-90)" font-size="16">q<tspan font-size="11" dx="-2.5" dy="3">y</tspan></text><text x="356.3" y="42.4" font-size="15">1</text><text x="356" y="266.5" font-size="15">0</text><text x="375.3" y="283.5" font-size="15">0</text><text x="600" y="284" font-size="15">1</text><text x="485" y="288" font-size="16">q<tspan font-size="11" dx="-1.5" dy="3">x</tspan></text><text transform="translate(363,158) rotate(-90)" font-size="16">q<tspan font-size="11" dx="-2.5" dy="3">y</tspan></text><line x1="41.3" x2="437.3" y1="467.8" y2="467.8" stroke="#999" stroke-width="0.8" stroke-dasharray="1.5,1.5"/><rect x="41.3" y="335.5" width="396.0" height="264.5" fill="none" stroke="#555" stroke-width="1"/><line x1="41.3" x2="46.3" y1="379.6" y2="379.6" stroke="#555" stroke-width="0.8"/><line x1="432.3" x2="437.3" y1="379.6" y2="379.6" stroke="#555" stroke-width="0.8"/><line x1="41.3" x2="46.3" y1="423.7" y2="423.7" stroke="#555" stroke-width="0.8"/><line x1="432.3" x2="437.3" y1="423.7" y2="423.7" stroke="#555" stroke-width="0.8"/><line x1="41.3" x2="46.3" y1="467.8" y2="467.8" stroke="#555" stroke-width="0.8"/><line x1="432.3" x2="437.3" y1="467.8" y2="467.8" stroke="#555" stroke-width="0.8"/><line x1="41.3" x2="46.3" y1="511.8" y2="511.8" stroke="#555" stroke-width="0.8"/><line x1="432.3" x2="437.3" y1="511.8" y2="511.8" stroke="#555" stroke-width="0.8"/><line x1="41.3" x2="46.3" y1="555.9" y2="555.9" stroke="#555" stroke-width="0.8"/><line x1="432.3" x2="437.3" y1="555.9" y2="555.9" stroke="#555" stroke-width="0.8"/><line x1="95.5" x2="95.5" y1="594.0" y2="600.0" stroke="#555" stroke-width="0.8"/><line x1="95.5" x2="95.5" y1="335.5" y2="341.5" stroke="#555" stroke-width="0.8"/><line x1="149.4" x2="149.4" y1="594.0" y2="600.0" stroke="#555" stroke-width="0.8"/><line x1="149.4" x2="149.4" y1="335.5" y2="341.5" stroke="#555" stroke-width="0.8"/><line x1="226.4" x2="226.4" y1="594.0" y2="600.0" stroke="#555" stroke-width="0.8"/><line x1="226.4" x2="226.4" y1="335.5" y2="341.5" stroke="#555" stroke-width="0.8"/><line x1="249.5" x2="249.5" y1="594.0" y2="600.0" stroke="#555" stroke-width="0.8"/><line x1="249.5" x2="249.5" y1="335.5" y2="341.5" stroke="#555" stroke-width="0.8"/><line x1="305.6" x2="305.6" y1="594.0" y2="600.0" stroke="#555" stroke-width="0.8"/><line x1="305.6" x2="305.6" y1="335.5" y2="341.5" stroke="#555" stroke-width="0.8"/><line x1="359.9" x2="359.9" y1="594.0" y2="600.0" stroke="#555" stroke-width="0.8"/><line x1="359.9" x2="359.9" y1="335.5" y2="341.5" stroke="#555" stroke-width="0.8"/><text x="29" y="339.7" font-size="15" text-anchor="end" class="sf">1.5</text><text x="29" y="383.8" font-size="15" text-anchor="end" class="sf">1</text><text x="29" y="427.9" font-size="15" text-anchor="end" class="sf">0.5</text><text x="29" y="471.9" font-size="15" text-anchor="end" class="sf">0</text><text x="29" y="516.0" font-size="15" text-anchor="end" class="sf">−0.5</text><text x="29" y="560.1" font-size="15" text-anchor="end" class="sf">−1</text><text x="29" y="604.2" font-size="15" text-anchor="end" class="sf">−1.5</text><text x="41.3" y="616" font-size="15" text-anchor="middle" class="sf">Γ</text><text x="95.5" y="616" font-size="15" text-anchor="middle" class="sf">X</text><text x="149.4" y="616" font-size="15" text-anchor="middle" class="sf">M</text><text x="226.4" y="616" font-size="15" text-anchor="middle" class="sf">Γ</text><text x="251.1" y="616" font-size="15" text-anchor="middle" class="sf">Z</text><text x="305.6" y="616" font-size="15" text-anchor="middle" class="sf">R</text><text x="359.9" y="616" font-size="15" text-anchor="middle" class="sf">A</text><text x="437.3" y="616" font-size="15" text-anchor="middle" class="sf">Z</text><g stroke="#777" stroke-width="0.7"><line x1="500.3" y1="328.5" x2="632.3" y2="328.5"/><line x1="486.9" y1="347.5" x2="647.1" y2="347.5"/><line x1="500.3" y1="328.5" x2="486.9" y2="347.5"/><line x1="632.3" y1="328.5" x2="647.1" y2="347.5"/><line x1="486.9" y1="347.5" x2="487.6" y2="415.8"/><line x1="647.1" y1="347.5" x2="645.7" y2="415.8"/><line x1="487.6" y1="415.8" x2="645.7" y2="415.8"/><line x1="500.3" y1="328.5" x2="500.3" y2="384.0"/><line x1="632.3" y1="328.5" x2="632.3" y2="384.0"/><line x1="500.3" y1="384.0" x2="632.3" y2="384.0"/><line x1="500.3" y1="384.0" x2="487.6" y2="415.8"/><line x1="632.3" y1="384.0" x2="645.7" y2="415.8"/><line x1="499.7" y1="428.4" x2="630.3" y2="428.4"/><line x1="485.2" y1="447.5" x2="645.7" y2="447.5"/><line x1="499.7" y1="428.4" x2="485.2" y2="447.5"/><line x1="630.3" y1="428.4" x2="645.7" y2="447.5"/><line x1="485.2" y1="447.5" x2="486.0" y2="515.0"/><line x1="645.7" y1="447.5" x2="644.7" y2="515.0"/><line x1="486.0" y1="515.0" x2="644.7" y2="515.0"/><line x1="499.7" y1="428.4" x2="499.7" y2="484.5"/><line x1="630.3" y1="428.4" x2="630.3" y2="484.5"/><line x1="499.7" y1="484.5" x2="630.3" y2="484.5"/><line x1="499.7" y1="484.5" x2="486.0" y2="515.0"/><line x1="630.3" y1="484.5" x2="644.7" y2="515.0"/><line x1="496.0" y1="528.5" x2="628.0" y2="528.5"/><line x1="481.9" y1="547.6" x2="642.0" y2="547.6"/><line x1="496.0" y1="528.5" x2="481.9" y2="547.6"/><line x1="628.0" y1="528.5" x2="642.0" y2="547.6"/><line x1="481.9" y1="547.6" x2="483.5" y2="615.7"/><line x1="642.0" y1="547.6" x2="641.4" y2="615.7"/><line x1="483.5" y1="615.7" x2="641.4" y2="615.7"/><line x1="496.0" y1="528.5" x2="496.0" y2="597.0"/><line x1="628.0" y1="528.5" x2="628.0" y2="597.0"/><line x1="496.0" y1="597.0" x2="628.0" y2="597.0"/><line x1="496.0" y1="597.0" x2="483.5" y2="615.7"/><line x1="628.0" y1="597.0" x2="641.4" y2="615.7"/></g><text x="655.5" y="385.5" font-size="19" class="sf">22</text><text x="655.5" y="485.5" font-size="19" class="sf">23</text><text x="655.5" y="583.2" font-size="19" class="sf">24</text><g fill="none" stroke-linejoin="round" clip-path="url(#clipC)"><g stroke="#2a2ae0" stroke-width="0.50"><circle cx="45.3" cy="336.2" r="1.30"/><circle cx="45.7" cy="339.2" r="1.30"/><circle cx="46.0" cy="342.1" r="1.30"/><circle cx="46.4" cy="345.1" r="1.30"/><circle cx="46.8" cy="348.1" r="1.30"/><circle cx="47.1" cy="351.0" r="1.30"/><circle cx="47.5" cy="354.0" r="1.30"/><circle cx="47.9" cy="357.0" r="1.30"/><circle cx="48.2" cy="359.9" r="1.30"/><circle cx="48.6" cy="362.9" r="1.30"/><circle cx="48.9" cy="365.9" r="1.30"/><circle cx="49.3" cy="368.8" r="1.30"/><circle cx="49.6" cy="371.8" r="1.30"/><circle cx="50.1" cy="374.8" r="1.30"/><circle cx="50.5" cy="377.7" r="1.30"/><circle cx="51.0" cy="380.7" r="1.30"/><circle cx="51.6" cy="383.6" r="1.30"/><circle cx="52.1" cy="386.6" r="1.30"/><circle cx="52.6" cy="389.5" r="1.30"/><circle cx="53.0" cy="392.5" r="1.30"/><circle cx="53.5" cy="395.4" r="1.30"/><circle cx="53.9" cy="398.4" r="1.30"/><circle cx="54.3" cy="401.3" r="1.30"/><circle cx="54.8" cy="404.3" r="1.30"/><circle cx="55.2" cy="407.3" r="1.30"/><circle cx="55.7" cy="410.2" r="1.30"/><circle cx="56.1" cy="413.2" r="1.30"/><circle cx="56.6" cy="416.1" r="1.30"/></g><path d="M56.6,416.3 57.0,414.7 57.3,413.1 57.7,411.4 58.1,409.8 58.4,408.2 58.8,406.7 59.1,405.3 59.5,404.0 59.8,402.8 60.2,401.6 60.5,400.5 60.8,399.5 61.2,398.6 61.5,398.0 61.9,397.7 62.3,397.7 62.7,398.1 63.2,398.8 63.7,399.9 64.2,401.1 64.7,402.6 65.3,404.1 65.8,405.8 66.3,407.4 66.8,409.1 67.3,411.0 67.8,412.9 68.4,415.0 68.9,417.1 69.4,419.3 69.9,421.5 70.4,423.6 70.9,425.7 71.4,427.7 71.9,429.8 72.4,431.9 72.9,434.0 73.4,436.3 73.9,438.7 74.4,441.2 74.9,443.9 75.4,446.9 75.9,450.0 76.5,453.1 77.0,456.3 77.5,459.5 78.0,462.6 78.5,465.5 79.0,468.3 79.5,471.0 80.0,473.7 80.5,476.3 81.0,478.9 81.5,481.4 82.0,484.0 82.5,486.5 83.0,489.1 83.6,491.8 84.1,494.5 84.6,497.1 85.2,499.6 85.7,502.0 86.1,504.1 86.5,505.9 86.8,507.3 87.1,508.4 87.3,509.3 87.5,510.0 87.7,510.5 87.8,511.1 88.0,511.7 88.2,512.4" stroke="#e0202a" stroke-width="1.20" stroke-dasharray="0.1 2.30" stroke-linecap="round"/><path d="M41.5,430.5 42.1,428.2 42.8,425.9 43.4,423.5 44.0,421.2 44.6,418.9 45.2,416.6 45.9,414.3 46.5,412.0 47.1,409.7 47.8,407.5 48.4,405.2 49.0,403.0 49.6,400.7 50.2,398.5 50.9,396.2 51.5,394.0 52.1,391.8 52.8,389.5 53.4,387.3 54.0,385.1 54.6,382.9 55.2,380.6 55.9,378.3 56.5,376.0 57.1,373.5 57.8,371.0 58.4,368.3 59.1,365.6 59.7,363.0 60.4,360.5 61.0,358.1 61.5,356.0 62.0,354.1 62.5,352.3 62.9,350.7 63.3,349.2 63.7,347.8 64.1,346.5 64.4,345.2 64.8,344.0 65.1,342.8 65.4,341.8 65.7,340.8 66.0,339.8 66.3,338.9 66.5,338.1 66.8,337.1 67.1,336.2" stroke="#f8c8c8" stroke-width="3.80"/><g stroke="#e84040" stroke-width="0.45"><circle cx="41.0" cy="431.6" r="1.25"/><circle cx="41.5" cy="429.7" r="1.25"/><circle cx="42.0" cy="427.7" r="1.25"/><circle cx="42.5" cy="425.8" r="1.25"/><circle cx="43.0" cy="423.9" r="1.25"/><circle cx="43.5" cy="421.9" r="1.25"/><circle cx="44.1" cy="420.0" r="1.25"/><circle cx="44.6" cy="418.1" r="1.25"/><circle cx="45.1" cy="416.1" r="1.25"/><circle cx="45.6" cy="414.2" r="1.25"/><circle cx="46.1" cy="412.3" r="1.25"/><circle cx="46.7" cy="410.3" r="1.25"/><circle cx="47.2" cy="408.4" r="1.25"/><circle cx="47.7" cy="406.5" r="1.25"/><circle cx="48.3" cy="404.6" r="1.25"/><circle cx="48.8" cy="402.6" r="1.25"/><circle cx="49.3" cy="400.7" r="1.25"/><circle cx="49.9" cy="398.8" r="1.25"/><circle cx="50.4" cy="396.9" r="1.25"/><circle cx="51.0" cy="394.9" r="1.25"/><circle cx="51.5" cy="393.0" r="1.25"/><circle cx="52.0" cy="391.1" r="1.25"/><circle cx="52.6" cy="389.2" r="1.25"/><circle cx="53.1" cy="387.2" r="1.25"/><circle cx="53.7" cy="385.3" r="1.25"/><circle cx="54.2" cy="383.4" r="1.25"/><circle cx="54.7" cy="381.4" r="1.25"/><circle cx="55.3" cy="379.5" r="1.25"/><circle cx="55.8" cy="377.6" r="1.25"/><circle cx="56.3" cy="375.6" r="1.25"/><circle cx="56.8" cy="373.7" r="1.25"/><circle cx="57.3" cy="371.8" r="1.25"/><circle cx="57.7" cy="369.8" r="1.25"/><circle cx="58.2" cy="367.9" r="1.25"/><circle cx="58.7" cy="365.9" r="1.25"/><circle cx="59.2" cy="364.0" r="1.25"/><circle cx="59.6" cy="362.1" r="1.25"/><circle cx="60.1" cy="360.1" r="1.25"/><circle cx="60.6" cy="358.2" r="1.25"/><circle cx="61.1" cy="356.3" r="1.25"/><circle cx="61.7" cy="354.3" r="1.25"/><circle cx="62.3" cy="352.4" r="1.25"/><circle cx="62.9" cy="350.5" r="1.25"/><circle cx="63.5" cy="348.6" r="1.25"/><circle cx="64.0" cy="346.7" r="1.25"/><circle cx="64.5" cy="344.7" r="1.25"/><circle cx="65.1" cy="342.8" r="1.25"/><circle cx="65.6" cy="340.9" r="1.25"/><circle cx="66.0" cy="338.9" r="1.25"/></g><g stroke="#e84040" stroke-width="0.45"><circle cx="43.5" cy="428.5" r="1.25"/><circle cx="44.0" cy="426.6" r="1.25"/><circle cx="44.5" cy="424.6" r="1.25"/><circle cx="45.0" cy="422.7" r="1.25"/><circle cx="45.5" cy="420.8" r="1.25"/><circle cx="46.0" cy="418.8" r="1.25"/><circle cx="46.5" cy="416.9" r="1.25"/><circle cx="47.0" cy="414.9" r="1.25"/><circle cx="47.5" cy="413.0" r="1.25"/><circle cx="48.0" cy="411.1" r="1.25"/><circle cx="48.6" cy="409.2" r="1.25"/><circle cx="49.1" cy="407.2" r="1.25"/><circle cx="49.6" cy="405.3" r="1.25"/><circle cx="50.2" cy="403.4" r="1.25"/><circle cx="50.7" cy="401.4" r="1.25"/><circle cx="51.2" cy="399.5" r="1.25"/><circle cx="51.8" cy="397.6" r="1.25"/><circle cx="52.3" cy="395.7" r="1.25"/><circle cx="52.9" cy="393.7" r="1.25"/><circle cx="53.4" cy="391.8" r="1.25"/><circle cx="53.9" cy="389.9" r="1.25"/><circle cx="54.5" cy="388.0" r="1.25"/><circle cx="55.0" cy="386.0" r="1.25"/><circle cx="55.5" cy="384.1" r="1.25"/><circle cx="56.1" cy="382.2" r="1.25"/><circle cx="56.6" cy="380.3" r="1.25"/><circle cx="57.2" cy="378.3" r="1.25"/><circle cx="57.7" cy="376.4" r="1.25"/><circle cx="58.2" cy="374.5" r="1.25"/><circle cx="58.7" cy="372.5" r="1.25"/><circle cx="59.2" cy="370.6" r="1.25"/><circle cx="59.8" cy="368.7" r="1.25"/><circle cx="60.3" cy="366.7" r="1.25"/><circle cx="60.8" cy="364.8" r="1.25"/><circle cx="61.3" cy="362.9" r="1.25"/><circle cx="61.8" cy="360.9" r="1.25"/><circle cx="62.3" cy="359.0" r="1.25"/><circle cx="62.8" cy="357.1" r="1.25"/><circle cx="63.3" cy="355.1" r="1.25"/><circle cx="63.8" cy="353.2" r="1.25"/><circle cx="64.3" cy="351.2" r="1.25"/><circle cx="64.8" cy="349.3" r="1.25"/><circle cx="65.2" cy="347.4" r="1.25"/><circle cx="65.7" cy="345.4" r="1.25"/><circle cx="66.2" cy="343.5" r="1.25"/><circle cx="66.7" cy="341.5" r="1.25"/></g><path d="M41.2,353.2 42.0,353.3 42.8,353.3 43.6,353.3 44.5,353.3 45.3,353.4 46.1,353.5 46.9,353.7 47.7,354.0 48.5,354.4 49.4,355.0 50.2,355.6 51.1,356.2 51.9,356.9 52.7,357.6 53.5,358.3 54.2,358.9 54.9,359.5 55.6,360.1 56.2,360.7 56.9,361.3 57.4,361.8 58.0,362.3 58.5,362.6 59.0,362.9 59.4,363.0 59.8,363.0 60.1,363.0 60.4,362.8 60.7,362.6 60.9,362.4 61.2,362.2 61.5,362.1" stroke="#e0202a" stroke-width="2.20"/><path d="M42.0,343.5 42.4,343.2 42.8,342.9 43.3,342.6 43.7,342.3 44.1,342.0 44.5,341.7 44.9,341.4 45.3,341.1 45.6,340.8 46.0,340.5 46.3,340.2 46.6,339.9 46.8,339.6 47.1,339.3 47.4,339.0 47.7,338.7" stroke="#e0202a" stroke-width="0.80"/><g stroke="#2a2ae0" stroke-width="0.50"><circle cx="72.8" cy="336.2" r="1.00"/><circle cx="73.7" cy="338.3" r="1.00"/><circle cx="74.5" cy="340.5" r="1.00"/><circle cx="75.4" cy="342.6" r="1.00"/><circle cx="76.3" cy="344.7" r="1.00"/><circle cx="77.2" cy="346.8" r="1.00"/><circle cx="78.1" cy="349.0" r="1.00"/><circle cx="78.9" cy="351.1" r="1.00"/><circle cx="79.8" cy="353.2" r="1.00"/><circle cx="80.8" cy="355.3" r="1.00"/><circle cx="81.7" cy="357.4" r="1.00"/><circle cx="82.8" cy="359.4" r="1.00"/><circle cx="83.9" cy="361.5" r="1.00"/><circle cx="85.0" cy="363.5" r="1.00"/><circle cx="86.1" cy="365.5" r="1.00"/><circle cx="87.4" cy="367.4" r="1.00"/><circle cx="88.7" cy="369.3" r="1.00"/><circle cx="90.3" cy="371.0" r="1.00"/><circle cx="92.0" cy="372.5" r="1.00"/><circle cx="93.8" cy="373.9" r="1.00"/></g><path d="M88.2,368.6 89.0,369.5 89.8,370.5 90.7,371.6 91.5,372.6 92.3,373.5 93.1,374.3 93.9,374.7 94.6,374.7 95.3,374.3 96.0,373.5 96.6,372.5 97.2,371.2 97.9,369.8 98.4,368.3 99.0,366.8 99.5,365.4 100.0,364.0 100.4,362.5 100.8,360.9 101.2,359.3 101.6,357.7 101.9,356.0 102.3,354.2 102.7,352.4 103.1,350.5 103.5,348.6 103.9,346.6 104.3,344.5 104.8,342.4 105.2,340.3 105.6,338.2 106.0,336.2" stroke="#2a2ae0" stroke-width="1.00"/><path d="M77.6,336.2 78.3,337.8 79.0,339.5 79.8,341.1 80.5,342.8 81.2,344.4 81.9,346.1 82.6,347.7 83.3,349.2 83.9,350.7 84.6,352.1 85.2,353.5 85.8,354.8 86.3,356.2 86.9,357.6 87.6,359.0 88.2,360.5 88.9,362.0 89.6,363.6 90.2,365.3 91.0,366.9 91.7,368.6 92.4,370.2 93.1,371.9 93.8,373.5" stroke="#a02040" stroke-width="0.60"/><path d="M69.6,337.9 70.3,340.9 71.0,343.9 71.7,346.8 72.4,349.8 73.2,352.8 73.8,355.8 74.5,358.9 75.2,362.1 75.8,365.4 76.5,368.7 77.1,372.2 77.7,375.6 78.3,379.1 78.9,382.6 79.5,386.1 80.1,389.6 80.7,393.1 81.4,396.8 82.0,400.5 82.6,404.2 83.3,407.7 83.9,411.1 84.4,414.3 84.9,417.1 85.3,419.6 85.7,421.7 86.0,423.6 86.3,425.3 86.6,426.9 86.8,428.5 87.1,430.1 87.4,431.7 87.7,433.3 88.0,434.8 88.2,436.2 88.5,437.6 88.8,439.1 89.1,440.7 89.4,442.4 89.8,444.4 90.2,446.7 90.7,449.3 91.2,452.1 91.8,455.0 92.3,457.9 92.9,460.7 93.4,463.3 93.8,465.5 94.2,467.4 94.5,469.2 94.8,470.8 95.1,472.2 95.4,473.5 95.7,474.7 96.0,475.8 96.3,476.8 96.7,477.7 97.1,478.4 97.4,478.9 97.9,479.4 98.3,479.8 98.7,480.0 99.1,480.3 99.5,480.5 99.9,480.7 100.3,480.8 100.7,480.9 101.1,480.9 101.6,480.8 101.9,480.6 102.3,480.4 102.7,480.0 103.0,479.6 103.3,479.2 103.6,478.8 103.9,478.2 104.2,477.5 104.5,476.5 104.8,475.2 105.2,473.5 105.6,471.3 106.1,468.7 106.6,465.7 107.2,462.5 107.7,459.2 108.2,455.8 108.7,452.5 109.2,449.3 109.6,446.3 110.1,443.5 110.5,440.7 110.8,437.9 111.2,434.9 111.6,431.9 112.0,428.6 112.4,425.0 112.8,421.1 113.2,416.7 113.6,412.2 114.0,407.5 114.4,402.8 114.8,398.2 115.3,393.7 115.7,389.6 116.2,385.8 116.6,382.1 117.1,378.6 117.7,375.3 118.2,371.9 118.7,368.7 119.2,365.4 119.7,362.1 120.2,358.8 120.7,355.5 121.2,352.3 121.7,349.1 122.3,345.8 122.8,342.6 123.3,339.4 123.8,336.2" stroke="#2a2ae0" stroke-width="1.50" stroke-dasharray="0.1 2.80" stroke-linecap="round"/><g stroke="#e0202a" stroke-width="0.50"><circle cx="41.2" cy="434.7" r="0.90"/><circle cx="41.7" cy="436.7" r="0.90"/><circle cx="42.1" cy="438.7" r="0.90"/><circle cx="42.6" cy="440.7" r="0.90"/><circle cx="43.1" cy="442.8" r="0.90"/><circle cx="43.6" cy="444.8" r="0.90"/><circle cx="44.0" cy="446.8" r="0.90"/><circle cx="44.4" cy="448.8" r="0.90"/><circle cx="44.8" cy="450.9" r="0.90"/><circle cx="45.1" cy="452.9" r="0.90"/><circle cx="45.4" cy="455.0" r="0.90"/><circle cx="45.7" cy="457.0" r="0.90"/><circle cx="46.0" cy="459.1" r="0.90"/><circle cx="46.3" cy="461.1" r="0.90"/><circle cx="46.6" cy="463.2" r="0.90"/><circle cx="46.9" cy="465.2" r="0.90"/><circle cx="47.2" cy="467.3" r="0.90"/><circle cx="47.5" cy="469.3" r="0.90"/><circle cx="47.8" cy="471.3" r="0.90"/><circle cx="48.1" cy="473.4" r="0.90"/><circle cx="48.4" cy="475.4" r="0.90"/><circle cx="48.7" cy="477.5" r="0.90"/><circle cx="49.0" cy="479.5" r="0.90"/><circle cx="49.3" cy="481.6" r="0.90"/><circle cx="49.6" cy="483.6" r="0.90"/><circle cx="49.9" cy="485.7" r="0.90"/><circle cx="50.3" cy="487.7" r="0.90"/><circle cx="50.6" cy="489.8" r="0.90"/><circle cx="50.9" cy="491.8" r="0.90"/><circle cx="51.2" cy="493.9" r="0.90"/><circle cx="51.5" cy="495.9" r="0.90"/><circle cx="51.8" cy="498.0" r="0.90"/><circle cx="52.1" cy="500.0" r="0.90"/><circle cx="52.4" cy="502.1" r="0.90"/><circle cx="52.7" cy="504.1" r="0.90"/><circle cx="52.9" cy="506.2" r="0.90"/><circle cx="53.2" cy="508.2" r="0.90"/><circle cx="53.5" cy="510.3" r="0.90"/><circle cx="53.7" cy="512.3" r="0.90"/><circle cx="54.0" cy="514.4" r="0.90"/><circle cx="54.3" cy="516.4" r="0.90"/><circle cx="54.6" cy="518.5" r="0.90"/><circle cx="55.0" cy="520.5" r="0.90"/><circle cx="55.3" cy="522.5" r="0.90"/><circle cx="55.6" cy="524.6" r="0.90"/><circle cx="55.9" cy="526.6" r="0.90"/><circle cx="56.3" cy="528.7" r="0.90"/><circle cx="56.6" cy="530.7" r="0.90"/><circle cx="57.0" cy="532.7" r="0.90"/><circle cx="57.5" cy="534.8" r="0.90"/><circle cx="57.9" cy="536.8" r="0.90"/><circle cx="58.5" cy="538.8" r="0.90"/><circle cx="59.1" cy="540.8" r="0.90"/></g><path d="M41.5,431.0 41.8,431.2 42.1,431.4 42.3,431.5 42.6,431.7 42.9,431.9 43.2,432.2 43.6,432.5 44.0,433.0 44.5,433.6 45.0,434.2 45.6,434.9 46.2,435.6 46.8,436.5 47.4,437.4 48.0,438.5 48.5,439.6 49.0,440.8 49.4,442.2 49.9,443.7 50.3,445.2 50.7,446.8 51.1,448.5 51.5,450.2 52.0,452.0 52.5,453.8 52.9,455.7 53.4,457.6 53.9,459.5 54.4,461.5 54.9,463.6 55.4,465.8 56.0,468.0 56.6,470.3 57.2,472.8 57.8,475.3 58.4,477.9 59.1,480.5 59.7,483.0 60.4,485.6 61.0,488.0 61.6,490.3 62.3,492.6 62.9,494.9 63.5,497.1 64.2,499.4 64.8,501.6 65.4,503.8 66.0,506.0 66.6,508.2 67.1,510.4 67.7,512.7 68.2,514.9 68.8,517.1 69.3,519.3 69.9,521.5 70.4,523.7" stroke="#2a2ae0" stroke-width="0.70"/><g stroke="#2a2ae0" stroke-width="0.50"><circle cx="56.6" cy="437.1" r="0.80"/><circle cx="57.0" cy="438.9" r="0.80"/><circle cx="57.3" cy="440.7" r="0.80"/><circle cx="57.7" cy="442.5" r="0.80"/><circle cx="58.1" cy="444.3" r="0.80"/><circle cx="58.4" cy="446.1" r="0.80"/><circle cx="58.8" cy="447.9" r="0.80"/><circle cx="59.1" cy="449.7" r="0.80"/><circle cx="59.4" cy="451.6" r="0.80"/><circle cx="59.7" cy="453.4" r="0.80"/><circle cx="60.0" cy="455.2" r="0.80"/><circle cx="60.2" cy="457.0" r="0.80"/><circle cx="60.5" cy="458.8" r="0.80"/><circle cx="60.8" cy="460.6" r="0.80"/><circle cx="61.0" cy="462.5" r="0.80"/><circle cx="61.3" cy="464.3" r="0.80"/><circle cx="61.6" cy="466.1" r="0.80"/><circle cx="61.9" cy="467.9" r="0.80"/><circle cx="62.1" cy="469.7" r="0.80"/><circle cx="62.4" cy="471.6" r="0.80"/><circle cx="62.7" cy="473.4" r="0.80"/><circle cx="63.0" cy="475.2" r="0.80"/><circle cx="63.2" cy="477.0" r="0.80"/><circle cx="63.5" cy="478.8" r="0.80"/><circle cx="63.8" cy="480.7" r="0.80"/><circle cx="64.0" cy="482.5" r="0.80"/><circle cx="64.3" cy="484.3" r="0.80"/><circle cx="64.6" cy="486.1" r="0.80"/><circle cx="64.8" cy="487.9" r="0.80"/><circle cx="65.1" cy="489.8" r="0.80"/><circle cx="65.4" cy="491.6" r="0.80"/><circle cx="65.7" cy="493.4" r="0.80"/><circle cx="65.9" cy="495.2" r="0.80"/><circle cx="66.2" cy="497.0" r="0.80"/><circle cx="66.4" cy="498.9" r="0.80"/><circle cx="66.7" cy="500.7" r="0.80"/><circle cx="66.9" cy="502.5" r="0.80"/><circle cx="67.2" cy="504.3" r="0.80"/><circle cx="67.4" cy="506.2" r="0.80"/><circle cx="67.6" cy="508.0" r="0.80"/><circle cx="67.9" cy="509.8" r="0.80"/><circle cx="68.2" cy="511.6" r="0.80"/><circle cx="68.5" cy="513.4" r="0.80"/><circle cx="68.8" cy="515.3" r="0.80"/><circle cx="69.2" cy="517.0" r="0.80"/><circle cx="69.7" cy="518.8" r="0.80"/><circle cx="70.2" cy="520.6" r="0.80"/><circle cx="70.8" cy="522.3" r="0.80"/><circle cx="71.4" cy="524.1" r="0.80"/><circle cx="71.9" cy="525.8" r="0.80"/><circle cx="72.5" cy="527.6" r="0.80"/><circle cx="73.0" cy="529.4" r="0.80"/><circle cx="73.6" cy="531.1" r="0.80"/><circle cx="74.1" cy="532.9" r="0.80"/><circle cx="74.6" cy="534.6" r="0.80"/><circle cx="75.2" cy="536.4" r="0.80"/><circle cx="75.7" cy="538.1" r="0.80"/></g><path d="M41.2,486.5 41.6,485.5 42.0,484.6 42.4,483.6 42.9,482.6 43.3,481.7 43.7,480.6 44.1,479.6 44.5,478.4 44.9,477.1 45.3,475.8 45.7,474.3 46.2,472.8 46.6,471.4 47.0,469.9 47.3,468.5 47.7,467.1 48.0,465.8 48.3,464.6 48.6,463.3 48.9,462.2 49.2,461.0 49.5,459.8 49.8,458.6 50.1,457.4 50.5,456.2 50.9,454.9 51.3,453.6 51.8,452.4 52.2,451.1 52.7,449.9 53.1,448.8 53.4,447.7 53.7,446.7 53.9,445.8 54.1,445.0 54.3,444.2 54.5,443.4 54.6,442.6 54.8,441.8 55.0,441.0" stroke="#e0202a" stroke-width="0.70"/><path d="M96.3,476.8 95.7,478.8 95.1,480.9 94.4,482.9 93.8,484.9 93.2,486.9 92.6,489.0 92.0,491.0 91.4,493.0 90.8,495.0 90.3,497.1 89.8,499.1 89.3,501.1 88.8,503.2 88.3,505.2 87.8,507.2 87.4,509.1 87.0,511.1 86.7,513.1 86.5,515.1 86.2,517.1 85.9,519.0 85.7,520.7 85.3,522.3 84.9,523.7 84.4,524.8 83.8,525.6 83.2,526.3 82.6,526.8 81.9,527.3 81.3,527.8 80.7,528.5 80.1,529.3 79.6,530.3 79.0,531.4 78.5,532.6 78.0,533.9 77.5,535.2 77.0,536.5 76.5,537.8 76.0,539.0" stroke="#2a2ae0" stroke-width="1.20" stroke-dasharray="0.1 2.30" stroke-linecap="round"/><path d="M52.6,505.0 53.0,507.0 53.4,509.1 53.8,511.1 54.2,513.2 54.6,515.2 55.0,517.3 55.4,519.3 55.8,521.2 56.2,523.1 56.6,525.1 57.0,527.0 57.4,528.9 57.8,530.7 58.2,532.5 58.6,534.2 59.0,535.7 59.4,537.2 59.7,538.7 60.1,540.2 60.4,541.5 60.8,542.7 61.3,543.6 61.7,544.3 62.3,544.6 63.0,544.5 63.7,544.0 64.5,543.1 65.3,542.1 66.2,540.9 67.0,539.6 67.9,538.5 68.7,537.4 69.5,536.4 70.3,535.4 71.1,534.3 71.9,533.2 72.8,532.1 73.6,531.1 74.4,530.2 75.2,529.3 76.0,528.5 76.9,527.8 77.7,527.0 78.6,526.4 79.4,525.8 80.2,525.3 81.0,524.8 81.7,524.4 82.4,524.1 83.0,523.8 83.5,523.7 84.1,523.5 84.7,523.5 85.2,523.5 85.8,523.5 86.5,523.6 87.3,523.8 88.1,524.0 89.0,524.3 89.9,524.7 90.8,525.1 91.6,525.4 92.4,525.8 93.0,526.0 93.5,526.2 93.9,526.3 94.2,526.4 94.5,526.5 94.7,526.6 94.9,526.6 95.1,526.7 95.4,526.8" stroke="#e0202a" stroke-width="1.10" stroke-dasharray="0.1 2.30" stroke-linecap="round"/><path d="M95.4,526.8 95.9,526.4 96.4,526.0 97.0,525.5 97.5,525.1 98.0,524.6 98.5,524.3 99.0,523.9 99.5,523.6 99.9,523.3 100.4,523.1 100.8,522.8 101.2,522.6 101.5,522.5 101.9,522.4 102.3,522.4 102.7,522.5 103.1,522.7 103.5,522.9 103.9,523.3 104.3,523.7 104.8,524.1 105.2,524.7 105.6,525.3 106.0,526.0 106.4,526.8 106.8,527.6 107.1,528.5 107.5,529.5 107.9,530.5 108.3,531.6 108.7,532.8 109.2,534.1 109.7,535.5 110.3,537.0 110.9,538.7 111.5,540.4 112.2,542.1 112.8,543.9 113.5,545.5 114.1,547.1 114.7,548.6 115.3,550.0 115.8,551.5 116.4,552.9 117.0,554.2 117.6,555.6 118.2,557.0 118.9,558.4 119.6,559.8 120.4,561.2 121.2,562.6 122.0,563.9 122.9,565.3 123.7,566.8 124.6,568.2 125.4,569.7 126.2,571.3 127.0,572.9 127.9,574.5 128.7,576.2 129.5,577.9 130.3,579.5 131.1,581.1 131.9,582.7 132.7,584.2 133.5,585.8 134.4,587.3 135.2,588.8 136.0,590.2 136.7,591.6 137.4,592.9 138.0,594.0 138.5,595.0 139.0,595.9 139.4,596.6 139.7,597.3 140.0,598.0 140.3,598.6 140.6,599.3 141.0,600.0" stroke="#2a2ae0" stroke-width="1.40"/><g stroke="#2a2ae0" stroke-width="0.50"><circle cx="76.0" cy="539.0" r="1.00"/><circle cx="76.9" cy="536.9" r="1.00"/><circle cx="77.8" cy="534.8" r="1.00"/><circle cx="78.7" cy="532.6" r="1.00"/><circle cx="79.6" cy="530.5" r="1.00"/><circle cx="80.5" cy="528.4" r="1.00"/><circle cx="81.4" cy="526.3" r="1.00"/><circle cx="82.3" cy="524.2" r="1.00"/><circle cx="83.2" cy="522.1" r="1.00"/><circle cx="84.1" cy="520.0" r="1.00"/><circle cx="85.0" cy="517.8" r="1.00"/><circle cx="85.8" cy="515.7" r="1.00"/><circle cx="86.5" cy="513.5" r="1.00"/><circle cx="87.2" cy="511.3" r="1.00"/><circle cx="87.9" cy="509.1" r="1.00"/></g><path d="M73.6,545.5 73.8,547.2 74.0,549.0 74.3,550.8 74.5,552.6 74.7,554.3 74.9,555.9 75.1,557.3 75.2,558.4 75.3,559.2 75.3,559.7 75.2,560.1 75.2,560.3 75.1,560.4 75.0,560.4 75.0,560.6 74.9,560.8" stroke="#2a2ae0" stroke-width="1.00" stroke-dasharray="0.1 2.30" stroke-linecap="round"/><path d="M41.2,592.4 42.0,592.2 42.8,592.1 43.6,592.1 44.4,592.0 45.1,591.8 46.0,591.6 46.8,591.3 47.7,590.8 48.6,590.1 49.7,589.3 50.7,588.4 51.8,587.4 52.8,586.4 53.9,585.3 54.9,584.4 55.8,583.5 56.7,582.7 57.5,582.0 58.4,581.4 59.2,580.7 59.9,580.0 60.7,579.4 61.5,578.6 62.3,577.8 63.1,576.9 63.9,576.0 64.7,575.0 65.5,573.9 66.3,572.9 67.1,571.8 67.9,570.8 68.7,569.7 69.5,568.5 70.3,567.0 71.1,565.4 71.9,563.9 72.7,562.5 73.4,561.4 74.2,560.8 74.9,560.8 75.6,561.4 76.3,562.6 76.9,564.3 77.6,566.2 78.2,568.4 78.9,570.6 79.5,572.7 80.1,574.6 80.7,576.4 81.4,578.3 82.0,580.2 82.6,582.1 83.2,583.9 83.8,585.7 84.4,587.5 84.9,589.1 85.4,590.6 85.8,592.0 86.2,593.4 86.6,594.6 87.0,595.9 87.4,597.1 87.8,598.4 88.2,599.7" stroke="#2a2ae0" stroke-width="0.80"/><path d="M55.8,582.7 56.2,583.1 56.6,583.3 57.0,583.6 57.4,583.9 57.8,584.2 58.2,584.6 58.6,585.2 59.0,585.9 59.4,586.8 59.9,588.0 60.3,589.3 60.8,590.7 61.2,592.1 61.6,593.4 62.0,594.6 62.3,595.6 62.6,596.4 62.8,597.0 63.0,597.5 63.2,598.0 63.4,598.4 63.5,598.8 63.7,599.2 63.9,599.7" stroke="#8a3a8a" stroke-width="0.70"/><path d="M55.8,599.7 57.0,598.6 58.2,597.5 59.4,596.3 60.6,595.2 61.8,594.1 63.0,593.0 64.2,591.9 65.5,590.8 66.8,589.6 68.2,588.3 69.7,586.9 71.1,585.6 72.6,584.3 73.9,583.3 75.0,582.6 76.0,582.3 76.8,582.4 77.4,582.8 77.8,583.6 78.2,584.5 78.4,585.6 78.7,586.8 79.0,588.0 79.3,589.1 79.6,590.2 80.0,591.5 80.3,592.8 80.6,594.2 80.8,595.6 81.1,597.0 81.4,598.3 81.7,599.7" stroke="#8a3a8a" stroke-width="1.00"/><path d="M79.3,568.1 80.0,567.5 80.7,566.9 81.4,566.4 82.0,565.8 82.7,565.2 83.4,564.6 84.2,564.0 84.9,563.3 85.7,562.5 86.5,561.6 87.4,560.6 88.3,559.6 89.1,558.7 89.9,557.8 90.7,557.2 91.4,556.8 92.0,556.7 92.5,556.8 92.9,557.2 93.4,557.6 93.8,558.1 94.2,558.6 94.8,559.0 95.4,559.2 96.2,559.2 97.0,559.1 97.9,559.0 98.9,558.8 99.9,558.5 100.9,558.4 101.8,558.3 102.7,558.4 103.6,558.6 104.4,558.8 105.3,559.2 106.1,559.5 106.9,560.0 107.7,560.5 108.5,561.0 109.2,561.6 109.9,562.3 110.5,563.0 111.2,563.8 111.8,564.6 112.3,565.5 112.9,566.4 113.5,567.3 114.1,568.1" stroke="#e0202a" stroke-width="2.10"/><path d="M114.1,568.1 114.7,569.5 115.3,570.9 115.9,572.3 116.5,573.7 117.1,575.2 117.7,576.6 118.3,578.0 118.9,579.4 119.5,580.8 120.2,582.3 120.8,583.8 121.5,585.2 122.1,586.7 122.7,588.1 123.3,589.5 123.8,590.8 124.2,592.0 124.6,593.2 124.9,594.3 125.2,595.4 125.4,596.5 125.7,597.5 125.9,598.6 126.2,599.7" stroke="#2a2ae0" stroke-width="0.90"/><path d="M76.8,599.7 77.6,597.6 78.4,595.4 79.2,593.2 80.0,591.1 80.9,588.9 81.7,586.8 82.5,584.7 83.3,582.7 84.1,580.7 84.9,578.7 85.8,576.8 86.6,574.9 87.4,573.1 88.2,571.3 89.0,569.6 89.8,568.1 90.5,566.7 91.3,565.5 92.0,564.3 92.7,563.3 93.3,562.3 94.0,561.3 94.7,560.3 95.4,559.2" stroke="#e0202a" stroke-width="1.20"/><path d="M170.0,336.3 170.5,338.1 171.1,340.0 171.6,342.0 172.1,343.9 172.7,345.7 173.2,347.5 173.8,349.2 174.4,350.7 175.0,352.1 175.7,353.6 176.4,355.0 177.1,356.2 177.8,357.3 178.5,358.2 179.2,358.9 179.9,359.2 180.6,359.2 181.3,358.9 182.0,358.4 182.8,357.6 183.5,356.7 184.2,355.6 184.9,354.3 185.5,353.0 186.1,351.5 186.7,349.8 187.2,347.8 187.8,345.8 188.3,343.7 188.8,341.5 189.4,339.4 189.9,337.4" stroke="#2a2ae0" stroke-width="0.90"/><path d="M184.4,337.4 184.5,340.1 184.6,342.8 184.8,345.4 184.9,348.1 185.0,350.8 185.1,353.6 185.3,356.5 185.5,359.6 185.7,362.9 185.9,366.3 186.2,369.9 186.5,373.6 186.7,377.3 187.0,381.0 187.4,384.8 187.7,388.4 188.1,392.0 188.4,395.7 188.9,399.3 189.3,403.0 189.7,406.6 190.1,410.2 190.6,413.8 191.0,417.3 191.4,420.8 191.8,424.2 192.3,427.5 192.7,430.9 193.1,434.2 193.5,437.5 193.9,440.7 194.3,443.9 194.6,447.2 195.0,450.6 195.3,454.0 195.5,457.4 195.8,460.6 196.1,463.5 196.3,466.1 196.6,468.3 196.8,469.9 197.0,470.9 197.2,471.5 197.4,471.8 197.6,472.2 197.9,472.7 198.1,473.5 198.4,474.8 198.7,476.7 199.1,478.9 199.4,481.4 199.8,484.1 200.2,486.9 200.7,489.6 201.2,492.2 201.7,494.6 202.3,496.7 202.9,498.8 203.6,500.7 204.3,502.6 205.0,504.4 205.8,506.3 206.5,508.1 207.2,510.0" stroke="#666" stroke-width="0.80" stroke-dasharray="3 1.5"/><path d="M184.4,337.4 184.5,340.1 184.6,342.8 184.8,345.4 184.9,348.1 185.0,350.8 185.1,353.6 185.3,356.5 185.5,359.6 185.7,362.9 185.9,366.3 186.2,369.9 186.5,373.6 186.7,377.3 187.0,381.0 187.4,384.8 187.7,388.4 188.1,392.0 188.4,395.7 188.9,399.3 189.3,403.0 189.7,406.6 190.1,410.2 190.6,413.8 191.0,417.3 191.4,420.8 191.8,424.2 192.3,427.5 192.7,430.9 193.1,434.2 193.5,437.5 193.9,440.7 194.3,443.9 194.6,447.1 194.9,450.2 195.2,453.2 195.5,456.2 195.8,459.2 196.0,462.3 196.3,465.3 196.6,468.3" stroke="#2a2ae0" stroke-width="1.20" stroke-dasharray="0.1 4.50" stroke-linecap="round"/><path d="M212.1,364.0 211.5,367.0 211.0,370.0 210.4,373.0 209.8,375.9 209.3,378.9 208.7,382.0 208.2,385.1 207.6,388.4 207.1,391.8 206.5,395.4 206.0,399.0 205.5,402.7 204.9,406.4 204.4,410.1 203.8,413.8 203.2,417.3 202.6,420.8 201.9,424.2 201.1,427.5 200.4,430.9 199.7,434.2 199.0,437.5 198.3,440.7 197.7,443.9 197.2,447.0 196.8,449.8 196.5,452.6 196.1,455.4 195.8,458.2 195.3,461.3 194.7,464.6 194.0,468.2 193.1,472.2 192.0,476.6 190.8,481.3 189.5,486.1 188.2,491.0 186.8,495.9 185.4,500.8 184.1,505.6 182.8,510.3 181.4,515.2 179.9,520.0 178.5,524.9 177.0,529.7 175.6,534.3 174.3,538.8 173.0,543.1 171.8,547.1 170.6,550.9 169.5,554.5 168.4,558.0 167.3,561.4 166.3,564.8 165.2,568.2 164.2,571.7 163.2,575.3 162.2,578.9 161.2,582.5 160.3,586.0 159.3,589.6 158.4,593.2 157.5,596.8 156.5,600.4" stroke="#2a2ae0" stroke-width="1.20" stroke-dasharray="0.1 2.30" stroke-linecap="round"/><g stroke="#2a2ae0" stroke-width="0.50"><circle cx="223.2" cy="335.2" r="1.45"/><circle cx="222.9" cy="338.5" r="1.45"/><circle cx="222.5" cy="341.8" r="1.45"/><circle cx="222.2" cy="345.2" r="1.45"/><circle cx="221.9" cy="348.5" r="1.45"/><circle cx="221.5" cy="351.8" r="1.45"/><circle cx="221.0" cy="355.1" r="1.45"/><circle cx="220.5" cy="358.4" r="1.45"/><circle cx="219.8" cy="361.6" r="1.45"/><circle cx="219.1" cy="364.9" r="1.45"/><circle cx="218.4" cy="368.2" r="1.45"/><circle cx="217.7" cy="371.4" r="1.45"/><circle cx="217.0" cy="374.7" r="1.45"/><circle cx="216.4" cy="378.0" r="1.45"/><circle cx="215.7" cy="381.2" r="1.45"/><circle cx="215.0" cy="384.5" r="1.45"/><circle cx="214.4" cy="387.8" r="1.45"/><circle cx="213.7" cy="391.0" r="1.45"/><circle cx="213.1" cy="394.3" r="1.45"/><circle cx="212.5" cy="397.6" r="1.45"/><circle cx="211.9" cy="400.9" r="1.45"/><circle cx="211.3" cy="404.1" r="1.45"/><circle cx="210.7" cy="407.4" r="1.45"/><circle cx="210.1" cy="410.7" r="1.45"/><circle cx="209.6" cy="414.0" r="1.45"/><circle cx="209.0" cy="417.3" r="1.45"/><circle cx="208.5" cy="420.6" r="1.45"/><circle cx="208.0" cy="423.9" r="1.45"/><circle cx="207.4" cy="427.2" r="1.45"/><circle cx="206.9" cy="430.5" r="1.45"/><circle cx="206.4" cy="433.8" r="1.45"/><circle cx="205.9" cy="437.1" r="1.45"/><circle cx="205.4" cy="440.4" r="1.45"/><circle cx="204.9" cy="443.7" r="1.45"/><circle cx="204.5" cy="447.0" r="1.45"/><circle cx="204.1" cy="450.3" r="1.45"/><circle cx="203.7" cy="453.6" r="1.45"/><circle cx="203.3" cy="456.9" r="1.45"/><circle cx="203.0" cy="460.2" r="1.45"/><circle cx="202.7" cy="463.5" r="1.45"/><circle cx="202.3" cy="466.9" r="1.45"/><circle cx="201.8" cy="470.2" r="1.45"/><circle cx="201.4" cy="473.5" r="1.45"/><circle cx="200.8" cy="476.8" r="1.45"/><circle cx="200.3" cy="480.0" r="1.45"/><circle cx="199.8" cy="483.3" r="1.45"/><circle cx="199.3" cy="486.6" r="1.45"/><circle cx="198.9" cy="489.9" r="1.45"/><circle cx="198.5" cy="493.3" r="1.45"/><circle cx="198.0" cy="496.6" r="1.45"/><circle cx="197.5" cy="499.9" r="1.45"/><circle cx="196.9" cy="503.1" r="1.45"/><circle cx="196.3" cy="506.4" r="1.45"/><circle cx="195.6" cy="509.7" r="1.45"/><circle cx="194.8" cy="512.9" r="1.45"/><circle cx="194.1" cy="516.2" r="1.45"/><circle cx="193.3" cy="519.4" r="1.45"/><circle cx="192.5" cy="522.7" r="1.45"/><circle cx="191.7" cy="525.9" r="1.45"/><circle cx="190.9" cy="529.1" r="1.45"/><circle cx="190.1" cy="532.4" r="1.45"/><circle cx="189.3" cy="535.6" r="1.45"/><circle cx="188.5" cy="538.8" r="1.45"/><circle cx="187.7" cy="542.1" r="1.45"/><circle cx="186.8" cy="545.3" r="1.45"/><circle cx="186.0" cy="548.5" r="1.45"/><circle cx="185.2" cy="551.8" r="1.45"/><circle cx="184.3" cy="555.0" r="1.45"/><circle cx="183.5" cy="558.2" r="1.45"/><circle cx="182.7" cy="561.5" r="1.45"/><circle cx="182.0" cy="564.7" r="1.45"/><circle cx="181.3" cy="568.0" r="1.45"/><circle cx="180.6" cy="571.2" r="1.45"/><circle cx="179.9" cy="574.5" r="1.45"/><circle cx="179.3" cy="577.8" r="1.45"/><circle cx="178.6" cy="581.0" r="1.45"/><circle cx="178.0" cy="584.3" r="1.45"/><circle cx="177.3" cy="587.6" r="1.45"/><circle cx="176.7" cy="590.9" r="1.45"/><circle cx="176.0" cy="594.1" r="1.45"/><circle cx="175.4" cy="597.4" r="1.45"/></g><g stroke="#2a2ae0" stroke-width="0.50"><circle cx="217.0" cy="335.2" r="1.10"/><circle cx="216.8" cy="337.7" r="1.10"/><circle cx="216.6" cy="340.2" r="1.10"/><circle cx="216.5" cy="342.8" r="1.10"/><circle cx="216.3" cy="345.3" r="1.10"/><circle cx="216.1" cy="347.8" r="1.10"/><circle cx="215.8" cy="350.3" r="1.10"/><circle cx="215.5" cy="352.8" r="1.10"/><circle cx="215.2" cy="355.3" r="1.10"/><circle cx="214.7" cy="357.8" r="1.10"/><circle cx="214.3" cy="360.3" r="1.10"/></g><g stroke="#e0202a" stroke-width="0.50"><circle cx="199.9" cy="336.3" r="1.20"/><circle cx="200.7" cy="338.9" r="1.20"/><circle cx="201.5" cy="341.6" r="1.20"/><circle cx="202.4" cy="344.2" r="1.20"/><circle cx="203.4" cy="346.8" r="1.20"/><circle cx="204.5" cy="349.3" r="1.20"/><circle cx="205.6" cy="351.8" r="1.20"/><circle cx="206.9" cy="354.2" r="1.20"/><circle cx="208.8" cy="356.3" r="1.20"/><circle cx="211.4" cy="357.1" r="1.20"/></g><g stroke="#e0202a" stroke-width="0.50"><circle cx="214.3" cy="335.2" r="1.10"/><circle cx="214.6" cy="337.7" r="1.10"/><circle cx="214.8" cy="340.2" r="1.10"/><circle cx="215.1" cy="342.7" r="1.10"/><circle cx="215.3" cy="345.3" r="1.10"/><circle cx="215.6" cy="347.8" r="1.10"/><circle cx="215.8" cy="350.3" r="1.10"/><circle cx="216.1" cy="352.8" r="1.10"/><circle cx="216.4" cy="355.3" r="1.10"/><circle cx="216.6" cy="357.9" r="1.10"/><circle cx="216.9" cy="360.4" r="1.10"/><circle cx="217.2" cy="362.9" r="1.10"/><circle cx="217.5" cy="365.4" r="1.10"/><circle cx="217.8" cy="367.9" r="1.10"/><circle cx="218.2" cy="370.4" r="1.10"/><circle cx="218.5" cy="372.9" r="1.10"/><circle cx="218.9" cy="375.4" r="1.10"/><circle cx="219.3" cy="377.9" r="1.10"/><circle cx="219.7" cy="380.4" r="1.10"/><circle cx="220.1" cy="382.9" r="1.10"/><circle cx="220.5" cy="385.4" r="1.10"/><circle cx="220.9" cy="387.9" r="1.10"/><circle cx="221.3" cy="390.4" r="1.10"/><circle cx="221.7" cy="392.9" r="1.10"/><circle cx="222.1" cy="395.4" r="1.10"/><circle cx="222.5" cy="397.9" r="1.10"/><circle cx="222.9" cy="400.4" r="1.10"/><circle cx="223.2" cy="402.9" r="1.10"/><circle cx="223.6" cy="405.4" r="1.10"/><circle cx="224.0" cy="407.9" r="1.10"/><circle cx="224.3" cy="410.4" r="1.10"/><circle cx="224.6" cy="412.9" r="1.10"/><circle cx="224.9" cy="415.4" r="1.10"/><circle cx="225.1" cy="418.0" r="1.10"/><circle cx="225.4" cy="420.5" r="1.10"/><circle cx="225.6" cy="423.0" r="1.10"/><circle cx="225.8" cy="425.5" r="1.10"/><circle cx="226.0" cy="428.0" r="1.10"/><circle cx="226.3" cy="430.6" r="1.10"/></g><path d="M203.2,355.2 204.6,355.8 206.0,356.6 207.4,357.3 208.8,358.1 210.1,358.8 211.5,359.3 212.9,359.6 214.3,359.6 215.7,359.2 217.2,358.5 218.7,357.5 220.1,356.4 221.6,355.3 222.9,354.3 224.2,353.5 225.4,353.0 226.4,352.8 227.3,352.8 228.1,352.9 228.9,353.1 229.6,353.5 230.4,354.0 231.1,354.5 232.0,355.2 232.9,356.0 233.9,356.9 234.9,358.0 235.9,359.2 236.9,360.4 238.0,361.6 239.0,362.9 240.0,364.0" stroke="#e0202a" stroke-width="2.80"/><path d="M225.4,337.4 226.2,337.9 227.0,338.5 227.9,339.0 228.7,339.5 229.5,340.1 230.3,340.6 231.2,341.2 232.0,341.9 232.8,342.6 233.7,343.4 234.5,344.2 235.3,345.1 236.2,345.9 237.0,346.8 237.9,347.7 238.7,348.5" stroke="#e0202a" stroke-width="1.60"/><path d="M205.8,426.0 206.3,427.1 206.8,428.0 207.3,429.0 207.8,430.0 208.3,431.0 208.9,432.1 209.4,433.5 209.9,435.0 210.4,436.8 211.0,438.9 211.5,441.1 212.1,443.4 212.6,445.8 213.2,448.2 213.7,450.5 214.3,452.7 214.9,454.8 215.4,456.7 216.0,458.7 216.5,460.6 217.1,462.5 217.6,464.4 218.2,466.4 218.7,468.3" stroke="#e0202a" stroke-width="1.10" stroke-dasharray="0.1 2.30" stroke-linecap="round"/><path d="M207.2,510.0 207.9,509.5 208.6,509.2 209.3,508.9 210.0,508.6 210.7,508.2 211.4,507.6 212.1,506.8 212.7,505.6 213.3,504.0 213.9,502.2 214.5,500.1 215.0,497.8 215.6,495.3 216.1,492.9 216.6,490.4 217.1,488.0 217.6,485.6 218.0,483.2 218.4,480.7 218.8,478.2 219.2,475.7 219.6,473.2 220.0,470.7 220.4,468.2" stroke="#777" stroke-width="0.80" stroke-dasharray="3 1.5"/><path d="M206.1,510.0 205.6,513.6 205.1,517.2 204.5,520.9 204.0,524.5 203.5,528.1 203.0,531.7 202.4,535.2 201.7,538.7 201.0,542.2 200.2,545.7 199.3,549.2 198.4,552.6 197.5,555.9 196.6,559.2 195.8,562.2 195.1,565.1 194.4,567.7 193.8,570.1 193.2,572.3 192.7,574.4 192.2,576.5 191.7,578.5 191.2,580.6 190.7,582.7 190.2,584.9 189.8,587.1 189.4,589.3 189.0,591.5 188.6,593.8 188.2,596.0 187.8,598.2 187.4,600.4" stroke="#777" stroke-width="0.70" stroke-dasharray="3 1.5"/><path d="M212.7,510.0 213.0,514.1 213.2,518.3 213.5,522.4 213.8,526.6 214.1,530.7 214.3,534.8 214.6,539.0 214.9,543.1 215.2,547.3 215.5,551.6 215.7,555.9 216.0,560.1 216.3,564.4 216.6,568.5 216.8,572.4 217.1,576.1 217.4,579.6 217.7,582.8 217.9,585.8 218.2,588.8 218.5,591.7 218.7,594.5 219.0,597.4 219.3,600.4" stroke="#777" stroke-width="0.70" stroke-dasharray="3 1.5"/><path d="M212.7,507.8 212.1,511.7 211.6,515.7 211.0,519.7 210.4,523.7 209.9,527.6 209.3,531.4 208.8,535.2 208.3,538.7 207.8,542.1 207.4,545.5 206.9,548.7 206.5,551.9 206.1,554.9 205.7,557.8 205.4,560.4 205.0,562.9 204.7,565.1 204.4,567.0 204.1,568.7 203.8,570.2 203.6,571.6 203.3,573.1 203.1,574.5 202.8,576.1" stroke="#2a2ae0" stroke-width="1.10" stroke-dasharray="0.1 2.30" stroke-linecap="round"/><path d="M194.5,600.4 195.2,598.7 195.9,597.0 196.6,595.2 197.3,593.5 198.0,591.8 198.7,590.1 199.4,588.5 200.0,587.0 200.6,585.5 201.2,584.0 201.8,582.5 202.4,581.0 203.0,579.7 203.5,578.5 204.0,577.4 204.5,576.5 204.9,575.8 205.3,575.3 205.6,575.0 205.9,574.7 206.2,574.6 206.4,574.5 206.7,574.5 207.0,574.5 207.3,574.6 207.6,574.7 207.9,575.0 208.2,575.2 208.6,575.6 208.9,575.9 209.2,576.2 209.5,576.5" stroke="#e0202a" stroke-width="1.50"/><path d="M209.5,576.5 209.9,577.0 210.4,577.6 210.8,578.1 211.2,578.6 211.7,579.1 212.1,579.7 212.5,580.3 213.0,581.0 213.5,581.7 214.0,582.5 214.4,583.3 214.9,584.1 215.4,585.0 216.0,586.0 216.5,587.0 217.0,588.0 217.5,589.1 218.1,590.3 218.7,591.6 219.2,592.9 219.8,594.2 220.4,595.6 220.9,596.9 221.5,598.2" stroke="#8a3a8a" stroke-width="0.80"/><path d="M166.4,600.4 168.6,597.8 170.9,595.1 173.2,592.3 175.5,589.6 177.7,586.9 179.9,584.5 182.1,582.3 184.1,580.5 186.1,579.1 188.0,577.9 189.8,577.0 191.6,576.3 193.3,575.8 195.1,575.4 196.7,575.2 198.4,575.0 200.0,574.9 201.7,575.0 203.2,575.3 204.8,575.6 206.3,576.1 207.8,576.7 209.2,577.5 210.5,578.3 211.8,579.3 212.9,580.5 214.0,581.9 215.1,583.3 216.1,584.8 217.2,586.4 218.2,587.9 219.3,589.3" stroke="#2a2ae0" stroke-width="0.70"/><path d="M219.3,589.3 220.4,589.7 221.5,590.1 222.6,590.4 223.7,590.8 224.8,591.2 225.9,591.6 227.0,592.1 228.1,592.7 229.3,593.4 230.5,594.2 231.7,595.2 233.0,596.1 234.2,597.0 235.2,597.9 236.2,598.7 236.9,599.3 237.4,599.7 237.7,600.1 237.9,600.3 237.9,600.5 237.9,600.6 237.9,600.7 237.9,600.8 238.0,601.0" stroke="#2a2ae0" stroke-width="1.40"/><path d="M220.0,354.1 220.8,353.9 221.7,353.6 222.5,353.3 223.4,352.9 224.2,352.7 225.0,352.6 225.9,352.7 226.7,353.0 227.5,353.6 228.4,354.4 229.3,355.4 230.1,356.5 231.0,357.7 231.8,359.1 232.6,360.4 233.3,361.8 234.0,363.3 234.6,364.9 235.1,366.7 235.6,368.4 236.1,370.2 236.6,372.0 237.2,373.6 237.7,375.1 238.3,376.5 238.8,377.8 239.4,379.0 239.9,380.2 240.5,381.3 241.1,382.3 241.6,383.2 242.2,384.0 242.8,384.7 243.3,385.3 243.9,385.9 244.4,386.3 245.0,386.7 245.5,387.0 246.1,387.2 246.6,387.3 247.2,387.3 247.7,387.1 248.2,386.9 248.8,386.5 249.3,386.2 249.9,385.8 250.4,385.4 251.0,385.1" stroke="#e0202a" stroke-width="2.80"/><path d="M222.0,336.5 222.9,336.9 223.8,337.2 224.6,337.5 225.5,337.8 226.4,338.2 227.2,338.7 228.1,339.3 229.0,340.0 229.9,340.9 230.8,342.0 231.7,343.1 232.6,344.4 233.4,345.7 234.3,347.1 235.2,348.6 236.0,350.0 236.8,351.5 237.6,353.0 238.4,354.7 239.1,356.3 239.9,358.0 240.6,359.7 241.3,361.4 242.0,363.0 242.7,364.7 243.4,366.4 244.0,368.1 244.7,369.9 245.3,371.6 245.9,373.2 246.5,374.7 247.0,376.0 247.5,377.2 247.9,378.2 248.3,379.1 248.6,379.9 249.0,380.6 249.3,381.4 249.6,382.2 250.0,383.0" stroke="#e0202a" stroke-width="1.20"/><g stroke="#e0202a" stroke-width="0.50"><circle cx="251.0" cy="385.1" r="1.60"/><circle cx="253.5" cy="382.4" r="1.60"/><circle cx="256.7" cy="380.6" r="1.60"/><circle cx="258.9" cy="377.7" r="1.60"/><circle cx="260.5" cy="374.4" r="1.60"/><circle cx="262.0" cy="371.0" r="1.60"/><circle cx="263.3" cy="367.6" r="1.60"/><circle cx="264.6" cy="364.2" r="1.60"/><circle cx="265.8" cy="360.7" r="1.60"/><circle cx="267.0" cy="357.2" r="1.60"/><circle cx="268.2" cy="353.7" r="1.60"/><circle cx="269.2" cy="350.2" r="1.60"/><circle cx="270.2" cy="346.6" r="1.60"/><circle cx="271.2" cy="343.1" r="1.60"/><circle cx="272.1" cy="339.5" r="1.60"/></g><g stroke="#2a2ae0" stroke-width="0.50"><circle cx="252.0" cy="383.0" r="0.80"/><circle cx="253.6" cy="382.0" r="0.80"/><circle cx="255.1" cy="381.0" r="0.80"/><circle cx="256.3" cy="379.6" r="0.80"/><circle cx="257.3" cy="378.1" r="0.80"/><circle cx="258.3" cy="376.5" r="0.80"/><circle cx="259.1" cy="374.9" r="0.80"/><circle cx="259.9" cy="373.2" r="0.80"/><circle cx="260.6" cy="371.5" r="0.80"/><circle cx="261.3" cy="369.8" r="0.80"/><circle cx="262.0" cy="368.1" r="0.80"/><circle cx="262.7" cy="366.4" r="0.80"/><circle cx="263.3" cy="364.7" r="0.80"/><circle cx="263.9" cy="362.9" r="0.80"/><circle cx="264.6" cy="361.2" r="0.80"/><circle cx="265.2" cy="359.5" r="0.80"/><circle cx="265.8" cy="357.7" r="0.80"/><circle cx="266.4" cy="356.0" r="0.80"/><circle cx="267.0" cy="354.2" r="0.80"/><circle cx="267.5" cy="352.5" r="0.80"/><circle cx="268.1" cy="350.8" r="0.80"/><circle cx="268.7" cy="349.0" r="0.80"/><circle cx="269.2" cy="347.3" r="0.80"/><circle cx="269.8" cy="345.5" r="0.80"/><circle cx="270.4" cy="343.8" r="0.80"/><circle cx="271.0" cy="342.0" r="0.80"/><circle cx="271.6" cy="340.3" r="0.80"/><circle cx="272.3" cy="338.6" r="0.80"/><circle cx="272.9" cy="336.8" r="0.80"/></g><g stroke="#2a2ae0" stroke-width="0.50"><circle cx="255.5" cy="375.1" r="1.10"/><circle cx="257.4" cy="376.8" r="1.10"/><circle cx="259.1" cy="378.6" r="1.10"/><circle cx="260.7" cy="380.6" r="1.10"/><circle cx="262.1" cy="382.7" r="1.10"/><circle cx="263.5" cy="384.8" r="1.10"/><circle cx="265.0" cy="386.9" r="1.10"/><circle cx="266.3" cy="389.0" r="1.10"/><circle cx="267.7" cy="391.1" r="1.10"/><circle cx="269.0" cy="393.3" r="1.10"/><circle cx="270.3" cy="395.5" r="1.10"/><circle cx="271.6" cy="397.6" r="1.10"/><circle cx="272.9" cy="399.8" r="1.10"/><circle cx="274.1" cy="402.0" r="1.10"/><circle cx="275.4" cy="404.2" r="1.10"/><circle cx="276.6" cy="406.5" r="1.10"/><circle cx="277.8" cy="408.7" r="1.10"/><circle cx="278.9" cy="410.9" r="1.10"/><circle cx="280.1" cy="413.2" r="1.10"/><circle cx="281.2" cy="415.4" r="1.10"/><circle cx="282.3" cy="417.7" r="1.10"/><circle cx="283.5" cy="420.0" r="1.10"/><circle cx="284.6" cy="422.3" r="1.10"/><circle cx="285.7" cy="424.5" r="1.10"/><circle cx="286.8" cy="426.8" r="1.10"/><circle cx="288.0" cy="429.0" r="1.10"/><circle cx="289.1" cy="431.3" r="1.10"/><circle cx="290.2" cy="433.6" r="1.10"/><circle cx="291.4" cy="435.8" r="1.10"/><circle cx="292.5" cy="438.1" r="1.10"/><circle cx="293.6" cy="440.4" r="1.10"/><circle cx="294.8" cy="442.6" r="1.10"/><circle cx="295.9" cy="444.9" r="1.10"/><circle cx="297.0" cy="447.2" r="1.10"/><circle cx="298.1" cy="449.5" r="1.10"/><circle cx="299.1" cy="451.7" r="1.10"/><circle cx="300.3" cy="454.0" r="1.10"/><circle cx="301.4" cy="456.2" r="1.10"/><circle cx="302.8" cy="458.4" r="1.10"/><circle cx="304.6" cy="460.1" r="1.10"/></g><path d="M255.5,375.1 256.0,375.6 256.5,376.0 257.0,376.4 257.4,376.8 257.9,377.3 258.5,377.9 259.1,378.6 259.9,379.6 260.8,380.8 261.8,382.3 262.9,383.8 264.1,385.6 265.3,387.4 266.5,389.2 267.7,391.1 268.8,392.9 269.9,394.7 271.0,396.6 272.1,398.5 273.2,400.4 274.3,402.3 275.4,404.3 276.5,406.3 277.6,408.4 278.7,410.5 279.8,412.7 280.9,414.9 282.0,417.1 283.2,419.4 284.3,421.6 285.4,423.9 286.5,426.1 287.6,428.4 288.8,430.6 289.9,433.0 291.1,435.3 292.2,437.6 293.3,439.8 294.4,441.9 295.4,443.9 296.3,445.8 297.3,447.7 298.1,449.6 299.0,451.4 299.8,453.1 300.6,454.6 301.3,456.0 302.0,457.2 302.7,458.2 303.3,459.0 304.0,459.7 304.6,460.2 305.1,460.6 305.6,461.0 306.1,461.3 306.5,461.6 306.8,461.8 307.1,462.0 307.3,462.0 307.4,462.1 307.6,462.0 307.7,462.0 307.8,462.0 308.0,462.0" stroke="#2a2ae0" stroke-width="1.80"/><path d="M300.0,459.0 300.5,459.4 301.0,459.8 301.5,460.2 302.0,460.7 302.5,461.1 303.0,461.4 303.5,461.8 304.0,462.0 304.5,462.2 305.0,462.3 305.5,462.3 306.0,462.4 306.5,462.4 307.0,462.3 307.5,462.3 308.0,462.2 308.5,462.1 309.0,462.0 309.6,461.9 310.1,461.8 310.6,461.6 311.1,461.4 311.6,461.2 312.0,461.0 312.4,460.8 312.7,460.6 313.0,460.4 313.3,460.2 313.6,459.9 313.9,459.5 314.1,459.0 314.4,458.4 314.7,457.6 314.9,456.7 315.2,455.7 315.5,454.6 315.7,453.4 316.0,452.2 316.2,451.1 316.5,450.0" stroke="#2a2ae0" stroke-width="0.80"/><path d="M316.5,450.0 316.8,448.3 317.0,446.8 317.3,445.4 317.6,443.9 317.9,442.3 318.1,440.5 318.5,438.4 318.8,436.0 319.2,433.2 319.6,430.1 320.0,426.7 320.4,423.2 320.9,419.5 321.3,415.7 321.8,411.8 322.2,408.0 322.6,404.1 323.0,400.2 323.4,396.1 323.9,392.0 324.3,387.8 324.7,383.5 325.1,379.3 325.5,375.0 325.9,370.5 326.4,365.6 326.9,360.6 327.3,355.6 327.8,350.8 328.2,346.4 328.5,342.7 328.8,339.7 329.0,337.6 329.2,336.4 329.3,335.7 329.3,335.4 329.4,335.4 329.4,335.5 329.4,335.4 329.5,335.0" stroke="#2a2ae0" stroke-width="1.30" stroke-dasharray="0.1 2.40" stroke-linecap="round"/><path d="M237.2,336.3 237.6,337.4 238.0,338.4 238.4,339.5 238.8,340.5 239.2,341.6 239.7,342.7 240.1,343.8 240.5,345.0 240.9,346.3 241.4,347.6 241.8,348.9 242.2,350.3 242.7,351.7 243.1,353.1 243.6,354.6 244.0,356.0 244.4,357.5 244.9,358.9 245.3,360.4 245.7,361.9 246.1,363.5 246.5,365.0 246.9,366.5 247.3,368.0 247.7,369.5 248.0,371.0 248.4,372.6 248.7,374.1 249.1,375.6 249.4,377.1 249.7,378.6 250.0,380.0 250.3,381.4 250.5,382.7 250.8,384.0 251.0,385.3 251.2,386.6 251.4,387.8 251.6,388.9 251.8,390.0 251.9,391.0 252.1,392.0 252.1,392.8 252.2,393.7 252.3,394.5 252.4,395.3 252.4,396.1 252.5,397.0" stroke="#f5a0a0" stroke-width="6.20"/><g stroke="#e83838" stroke-width="0.50"><circle cx="235.2" cy="336.3" r="1.50"/><circle cx="235.9" cy="338.0" r="1.50"/><circle cx="236.5" cy="339.6" r="1.50"/><circle cx="237.2" cy="341.3" r="1.50"/><circle cx="237.9" cy="343.0" r="1.50"/><circle cx="238.5" cy="344.7" r="1.50"/><circle cx="239.1" cy="346.4" r="1.50"/><circle cx="239.7" cy="348.1" r="1.50"/><circle cx="240.2" cy="349.8" r="1.50"/><circle cx="240.8" cy="351.5" r="1.50"/><circle cx="241.3" cy="353.2" r="1.50"/><circle cx="241.9" cy="354.9" r="1.50"/><circle cx="242.4" cy="356.7" r="1.50"/><circle cx="242.9" cy="358.4" r="1.50"/><circle cx="243.4" cy="360.1" r="1.50"/><circle cx="243.9" cy="361.8" r="1.50"/><circle cx="244.4" cy="363.6" r="1.50"/><circle cx="244.9" cy="365.3" r="1.50"/><circle cx="245.3" cy="367.0" r="1.50"/><circle cx="245.8" cy="368.8" r="1.50"/><circle cx="246.2" cy="370.5" r="1.50"/><circle cx="246.7" cy="372.3" r="1.50"/><circle cx="247.1" cy="374.0" r="1.50"/><circle cx="247.5" cy="375.8" r="1.50"/><circle cx="247.9" cy="377.5" r="1.50"/><circle cx="248.3" cy="379.3" r="1.50"/><circle cx="248.7" cy="381.0" r="1.50"/><circle cx="249.1" cy="382.8" r="1.50"/><circle cx="249.5" cy="384.6" r="1.50"/><circle cx="249.8" cy="386.3" r="1.50"/><circle cx="250.2" cy="388.1" r="1.50"/><circle cx="250.5" cy="389.9" r="1.50"/><circle cx="250.8" cy="391.6" r="1.50"/><circle cx="251.0" cy="393.4" r="1.50"/><circle cx="251.3" cy="395.2" r="1.50"/><circle cx="251.5" cy="397.0" r="1.50"/></g><g stroke="#e83838" stroke-width="0.50"><circle cx="239.2" cy="336.3" r="1.50"/><circle cx="239.8" cy="338.0" r="1.50"/><circle cx="240.5" cy="339.7" r="1.50"/><circle cx="241.1" cy="341.4" r="1.50"/><circle cx="241.7" cy="343.0" r="1.50"/><circle cx="242.3" cy="344.7" r="1.50"/><circle cx="242.9" cy="346.5" r="1.50"/><circle cx="243.4" cy="348.2" r="1.50"/><circle cx="244.0" cy="349.9" r="1.50"/><circle cx="244.5" cy="351.6" r="1.50"/><circle cx="245.0" cy="353.3" r="1.50"/><circle cx="245.5" cy="355.1" r="1.50"/><circle cx="246.0" cy="356.8" r="1.50"/><circle cx="246.5" cy="358.5" r="1.50"/><circle cx="247.0" cy="360.3" r="1.50"/><circle cx="247.5" cy="362.0" r="1.50"/><circle cx="247.9" cy="363.7" r="1.50"/><circle cx="248.4" cy="365.5" r="1.50"/><circle cx="248.8" cy="367.2" r="1.50"/><circle cx="249.2" cy="369.0" r="1.50"/><circle cx="249.6" cy="370.7" r="1.50"/><circle cx="250.0" cy="372.5" r="1.50"/><circle cx="250.4" cy="374.2" r="1.50"/><circle cx="250.7" cy="376.0" r="1.50"/><circle cx="251.1" cy="377.8" r="1.50"/><circle cx="251.4" cy="379.5" r="1.50"/><circle cx="251.7" cy="381.3" r="1.50"/><circle cx="252.0" cy="383.1" r="1.50"/><circle cx="252.3" cy="384.9" r="1.50"/><circle cx="252.6" cy="386.7" r="1.50"/><circle cx="252.8" cy="388.4" r="1.50"/><circle cx="253.0" cy="390.2" r="1.50"/><circle cx="253.2" cy="392.0" r="1.50"/><circle cx="253.3" cy="393.8" r="1.50"/><circle cx="253.4" cy="395.6" r="1.50"/></g><path d="M228.5,433.0 229.1,432.5 229.7,432.0 230.2,431.5 230.8,431.0 231.4,430.5 232.0,429.9 232.6,429.2 233.3,428.3 234.1,427.2 234.9,426.0 235.8,424.7 236.7,423.3 237.6,421.9 238.4,420.4 239.3,418.8 240.0,417.3 240.7,415.7 241.3,414.1 241.8,412.5 242.3,410.8 242.9,409.1 243.4,407.4 243.9,405.7 244.4,404.0 245.0,402.3 245.6,400.5 246.1,398.7 246.7,396.9 247.3,395.2 247.9,393.6 248.4,392.0 248.8,390.7 249.2,389.5 249.5,388.5 249.8,387.7 250.1,386.9 250.3,386.2 250.5,385.5 250.7,384.8 251.0,384.0 251.3,383.2 251.5,382.5 251.8,381.7 252.0,381.0 252.3,380.2 252.5,379.5 252.8,378.7 253.0,378.0" stroke="#ee1c1c" stroke-width="5.50"/><g stroke="#ff5050" stroke-width="0.50"><circle cx="227.5" cy="433.5" r="2.20"/><circle cx="228.5" cy="432.7" r="2.20"/><circle cx="229.5" cy="431.9" r="2.20"/><circle cx="230.6" cy="431.1" r="2.20"/><circle cx="231.5" cy="430.2" r="2.20"/><circle cx="232.5" cy="429.3" r="2.20"/><circle cx="233.3" cy="428.3" r="2.20"/><circle cx="234.1" cy="427.3" r="2.20"/><circle cx="234.8" cy="426.2" r="2.20"/><circle cx="235.6" cy="425.1" r="2.20"/><circle cx="236.3" cy="424.0" r="2.20"/><circle cx="237.0" cy="422.9" r="2.20"/><circle cx="237.6" cy="421.8" r="2.20"/><circle cx="238.3" cy="420.7" r="2.20"/><circle cx="238.9" cy="419.6" r="2.20"/><circle cx="239.5" cy="418.4" r="2.20"/><circle cx="240.0" cy="417.2" r="2.20"/><circle cx="240.5" cy="416.0" r="2.20"/><circle cx="241.0" cy="414.8" r="2.20"/><circle cx="241.4" cy="413.6" r="2.20"/><circle cx="241.9" cy="412.4" r="2.20"/><circle cx="242.2" cy="411.1" r="2.20"/><circle cx="242.6" cy="409.9" r="2.20"/><circle cx="243.0" cy="408.6" r="2.20"/><circle cx="243.4" cy="407.4" r="2.20"/><circle cx="243.7" cy="406.1" r="2.20"/><circle cx="244.1" cy="404.9" r="2.20"/><circle cx="244.5" cy="403.7" r="2.20"/><circle cx="244.9" cy="402.4" r="2.20"/><circle cx="245.3" cy="401.2" r="2.20"/><circle cx="245.7" cy="400.0" r="2.20"/><circle cx="246.1" cy="398.7" r="2.20"/><circle cx="246.6" cy="397.5" r="2.20"/><circle cx="247.0" cy="396.3" r="2.20"/><circle cx="247.4" cy="395.0" r="2.20"/><circle cx="247.8" cy="393.8" r="2.20"/><circle cx="248.2" cy="392.5" r="2.20"/><circle cx="248.6" cy="391.3" r="2.20"/><circle cx="249.0" cy="390.1" r="2.20"/><circle cx="249.4" cy="388.8" r="2.20"/><circle cx="249.8" cy="387.6" r="2.20"/><circle cx="250.2" cy="386.4" r="2.20"/><circle cx="250.6" cy="385.1" r="2.20"/><circle cx="251.0" cy="383.9" r="2.20"/><circle cx="251.4" cy="382.7" r="2.20"/><circle cx="251.9" cy="381.4" r="2.20"/><circle cx="252.3" cy="380.2" r="2.20"/><circle cx="252.7" cy="379.0" r="2.20"/></g><path d="M226.7,430.6 227.8,429.5 228.9,428.5 230.1,427.6 231.2,426.6 232.4,425.5 233.4,424.4 234.5,423.1 235.5,421.7 236.4,420.1 237.4,418.3 238.2,416.5 239.1,414.5 239.9,412.5 240.7,410.4 241.4,408.3 242.2,406.2 243.0,404.1 243.7,401.9 244.4,399.6 245.1,397.3 245.8,395.0 246.4,392.7 247.1,390.5 247.7,388.4 248.3,386.4 248.9,384.4 249.5,382.4 250.0,380.5 250.6,378.6 251.1,376.7 251.6,374.8 252.2,372.9" stroke="#2a2ae0" stroke-width="0.80"/><g stroke="#e0202a" stroke-width="0.50"><circle cx="259.9" cy="336.3" r="1.40"/><circle cx="259.5" cy="339.5" r="1.40"/><circle cx="259.1" cy="342.7" r="1.40"/><circle cx="258.8" cy="345.9" r="1.40"/><circle cx="258.4" cy="349.1" r="1.40"/><circle cx="258.0" cy="352.3" r="1.40"/><circle cx="257.7" cy="355.5" r="1.40"/><circle cx="257.3" cy="358.7" r="1.40"/><circle cx="257.0" cy="361.9" r="1.40"/><circle cx="256.7" cy="365.1" r="1.40"/><circle cx="256.4" cy="368.3" r="1.40"/><circle cx="256.1" cy="371.5" r="1.40"/><circle cx="255.8" cy="374.7" r="1.40"/><circle cx="255.4" cy="377.9" r="1.40"/><circle cx="255.1" cy="381.1" r="1.40"/><circle cx="254.7" cy="384.3" r="1.40"/><circle cx="254.2" cy="387.5" r="1.40"/><circle cx="253.9" cy="390.7" r="1.40"/><circle cx="253.5" cy="393.9" r="1.40"/><circle cx="253.4" cy="397.1" r="1.40"/><circle cx="253.3" cy="400.3" r="1.40"/><circle cx="253.4" cy="403.6" r="1.40"/><circle cx="253.6" cy="406.8" r="1.40"/><circle cx="253.9" cy="410.0" r="1.40"/><circle cx="254.3" cy="413.2" r="1.40"/><circle cx="254.7" cy="416.4" r="1.40"/><circle cx="255.2" cy="419.6" r="1.40"/><circle cx="255.7" cy="422.7" r="1.40"/><circle cx="256.2" cy="425.9" r="1.40"/><circle cx="256.8" cy="429.1" r="1.40"/><circle cx="257.4" cy="432.2" r="1.40"/><circle cx="258.1" cy="435.4" r="1.40"/><circle cx="258.7" cy="438.5" r="1.40"/><circle cx="259.4" cy="441.7" r="1.40"/><circle cx="260.1" cy="444.8" r="1.40"/><circle cx="260.8" cy="448.0" r="1.40"/><circle cx="261.5" cy="451.1" r="1.40"/><circle cx="262.2" cy="454.3" r="1.40"/><circle cx="263.0" cy="457.4" r="1.40"/><circle cx="263.7" cy="460.5" r="1.40"/><circle cx="264.4" cy="463.7" r="1.40"/><circle cx="265.2" cy="466.8" r="1.40"/><circle cx="266.1" cy="469.9" r="1.40"/><circle cx="267.1" cy="472.9" r="1.40"/><circle cx="268.2" cy="476.0" r="1.40"/><circle cx="269.7" cy="478.8" r="1.40"/><circle cx="271.8" cy="481.2" r="1.40"/><circle cx="274.3" cy="483.3" r="1.40"/></g><path d="M269.4,478.4 270.1,479.1 270.7,479.9 271.4,480.8 272.0,481.6 272.7,482.3 273.4,483.0 274.2,483.6 275.1,484.1 276.1,484.4 277.1,484.6 278.2,484.7 279.3,484.8 280.5,484.8 281.8,484.8 283.0,484.8 284.3,484.8 285.6,484.9 287.1,484.9 288.5,485.0 290.1,485.0 291.6,485.1 293.0,485.1 294.5,485.2 295.8,485.3 297.1,485.4 298.3,485.5 299.6,485.6 300.8,485.7 301.9,485.8 303.0,485.9 304.0,486.1 304.9,486.4 305.7,486.7 306.5,487.1 307.1,487.5 307.7,488.0 308.3,488.5 308.8,489.0 309.4,489.4 310.0,489.9" stroke="#e0202a" stroke-width="1.80"/><path d="M300.0,487.1 300.9,487.1 301.8,487.1 302.7,487.1 303.6,487.1 304.5,487.1 305.3,487.2 306.1,487.3 306.9,487.6 307.6,488.0 308.2,488.5 308.8,489.0 309.3,489.6 309.9,490.3 310.4,491.0 310.9,491.6 311.5,492.2" stroke="#e0202a" stroke-width="1.60"/><path d="M311.5,492.2 312.4,493.6 313.2,495.0 314.1,496.3 314.9,497.7 315.8,499.1 316.7,500.5 317.5,502.0 318.4,503.7 319.3,505.5 320.1,507.3 321.0,509.3 321.8,511.3 322.7,513.4 323.6,515.5 324.4,517.6 325.3,519.8 326.2,522.0 327.0,524.2 327.9,526.5 328.8,528.9 329.6,531.2 330.5,533.5 331.3,535.9 332.2,538.2 333.1,540.5 333.9,542.8 334.8,545.1 335.6,547.4 336.5,549.7 337.4,552.0 338.2,554.3 339.1,556.6 340.0,558.8 340.8,561.0 341.6,563.2 342.5,565.3 343.3,567.5 344.2,569.8 345.1,572.3 346.0,574.9 346.9,577.7 347.9,580.7 348.9,583.9 349.9,587.1 351.0,590.4 352.0,593.7 353.0,597.0 354.0,600.2" stroke="#2a2ae0" stroke-width="1.20"/><path d="M220.0,469.2 220.6,471.0 221.2,472.9 221.7,474.8 222.3,476.7 222.9,478.5 223.4,480.2 224.0,481.7 224.6,483.0 225.2,484.0 225.8,484.6 226.3,485.1 226.9,485.4 227.5,485.8 228.0,486.2 228.6,486.8 229.2,487.6 229.8,488.7 230.3,489.9 230.9,491.2 231.5,492.6 232.1,494.1 232.7,495.7 233.2,497.4 233.8,499.1 234.4,500.9 235.0,502.7 235.5,504.6 236.1,506.6 236.7,508.6 237.3,510.7 237.8,512.9 238.4,515.2 239.0,517.5 239.6,519.9 240.1,522.3 240.7,524.8 241.3,527.4 241.9,530.1 242.4,533.0 243.0,535.9 243.6,539.1 244.2,542.5 244.7,546.1 245.3,549.8 245.9,553.5 246.4,557.0 247.0,560.4 247.5,563.4 248.0,566.1 248.6,568.6 249.1,571.0 249.6,573.2 250.1,575.3 250.5,577.4 250.8,579.6 251.0,581.8 251.1,584.1 251.0,586.4 250.9,588.6 250.7,590.9 250.5,593.2 250.2,595.5 250.0,597.7 249.8,600.0" stroke="#8a3a8a" stroke-width="0.80"/><path d="M251.0,581.8 252.0,580.6 253.0,579.5 254.0,578.4 255.0,577.2 256.0,576.0 257.0,574.9 258.0,573.8 259.0,572.6 260.0,571.3 261.1,569.9 262.1,568.3 263.2,566.8 264.2,565.5 265.2,564.4 266.2,563.7 267.1,563.4 267.9,563.7 268.7,564.4 269.4,565.4 270.1,566.8 270.8,568.3 271.4,569.8 272.1,571.3 272.8,572.6 273.5,574.0 274.2,575.8 274.8,577.6 275.5,579.5 276.2,581.1 276.9,582.3 277.7,583.0 278.5,583.0 279.4,582.2 280.3,580.6 281.3,578.6 282.3,576.1 283.4,573.5 284.4,570.7 285.5,568.1 286.6,565.7 287.7,563.5 288.8,561.2 290.0,558.9 291.1,556.6 292.3,554.3 293.5,552.0 294.6,549.7 295.8,547.4" stroke="#8a3a8a" stroke-width="0.90"/><path d="M295.8,547.4 296.3,546.1 296.8,544.6 297.3,543.2 297.7,541.8 298.2,540.4 298.8,539.1 299.3,538.0 300.0,537.0 300.7,536.1 301.5,535.4 302.4,534.7 303.3,534.1 304.2,533.6 305.1,533.3 306.0,533.1 306.9,533.1 307.8,533.2 308.7,533.5 309.6,534.0 310.5,534.5 311.4,535.3 312.2,536.1 313.0,537.1 313.8,538.2 314.5,539.5 315.1,541.0 315.7,542.6 316.2,544.4 316.8,546.3 317.3,548.2 317.8,550.1 318.4,552.0 319.0,553.9 319.5,555.8 320.1,557.8 320.7,559.9 321.3,561.9 321.8,563.9 322.4,566.0 323.0,568.0 323.6,570.0 324.1,572.0 324.7,574.0 325.2,576.0 325.8,578.1 326.4,580.1 327.0,582.1 327.6,584.1 328.3,586.1 328.9,588.1 329.7,590.1 330.4,592.2 331.1,594.2 331.8,596.2 332.6,598.2 333.3,600.2" stroke="#2a2ae0" stroke-width="1.10"/><path d="M281.0,336.3 281.7,337.3 282.3,338.2 283.0,339.2 283.7,340.1 284.3,341.1 285.0,342.1 285.8,343.1 286.5,344.1 287.3,345.2 288.1,346.3 288.9,347.5 289.8,348.7 290.6,349.9 291.5,351.0 292.4,352.0 293.2,353.0 294.0,353.9 294.9,354.7 295.7,355.5 296.6,356.2 297.4,356.8 298.2,357.4 299.0,358.0 299.8,358.5 300.6,359.0 301.3,359.4 302.1,359.8 302.8,360.2 303.5,360.4 304.2,360.6 304.8,360.7 305.4,360.7 305.9,360.6 306.4,360.4 306.9,360.1 307.3,359.7 307.7,359.2 308.1,358.7 308.5,358.1 308.9,357.4 309.3,356.6 309.7,355.8 310.2,354.8 310.6,353.8 311.0,352.7 311.4,351.7 311.8,350.6 312.2,349.6" stroke="#8a3a8a" stroke-width="0.90"/><path d="M281.0,335.5 281.4,336.1 281.7,336.6 282.1,337.2 282.5,337.7 282.8,338.3 283.2,338.8 283.6,339.4 284.0,340.0 284.4,340.6 284.9,341.2 285.3,341.9 285.8,342.5 286.2,343.2 286.6,343.8 287.1,344.4 287.5,345.0 287.9,345.5 288.3,346.1 288.7,346.6 289.0,347.1 289.4,347.5 289.8,348.0 290.1,348.5 290.5,349.0" stroke="#2a2ae0" stroke-width="2.60"/><path d="M302.0,335.5 302.3,335.7 302.6,336.0 302.8,336.2 303.1,336.4 303.3,336.7 303.7,336.9 304.0,337.1 304.4,337.4 304.9,337.7 305.4,338.0 306.0,338.3 306.6,338.6 307.3,339.0 307.9,339.2 308.4,339.5 308.9,339.7 309.3,339.9 309.7,340.0 310.1,340.1 310.4,340.2 310.7,340.2 311.0,340.2 311.3,340.2 311.5,340.2 311.7,340.1 311.9,340.0 312.0,339.9 312.1,339.7 312.2,339.5 312.3,339.3 312.4,339.2 312.5,339.0" stroke="#e0202a" stroke-width="3.60"/><path d="M302.0,335.8 302.3,336.0 302.6,336.2 302.8,336.5 303.1,336.7 303.3,336.9 303.7,337.1 304.0,337.4 304.4,337.6 304.9,337.9 305.4,338.2 306.0,338.5 306.6,338.8 307.3,339.2 307.9,339.4 308.4,339.7 308.9,339.9 309.3,340.0 309.7,340.1 310.0,340.2 310.3,340.2 310.6,340.2 310.9,340.2 311.2,340.3 311.5,340.3" stroke="#2a2ae0" stroke-width="1.50"/><path d="M311.8,350.0 312.5,349.7 313.3,349.3 314.1,349.0 314.8,348.7 315.6,348.3 316.3,348.0 317.0,347.7 317.7,347.4 318.3,347.1 319.0,346.9 319.5,346.7 320.1,346.5 320.7,346.2 321.2,346.0 321.7,345.6 322.2,345.2 322.7,344.7 323.1,344.0 323.6,343.3 324.0,342.6 324.4,341.8 324.8,341.1 325.1,340.4 325.5,339.7 325.8,339.1 326.1,338.5 326.4,337.9 326.7,337.4 326.9,336.8 327.2,336.3 327.4,335.8 327.7,335.2" stroke="#e0202a" stroke-width="4.00"/><path d="M311.8,350.0 312.5,349.7 313.3,349.3 314.1,349.0 314.8,348.7 315.6,348.3 316.3,348.0 317.0,347.7 317.7,347.4 318.3,347.1 319.0,346.9 319.5,346.7 320.1,346.5 320.7,346.2 321.2,346.0 321.7,345.6 322.2,345.2 322.7,344.7 323.1,344.0 323.6,343.3 324.0,342.6 324.4,341.8 324.8,341.1 325.1,340.4 325.5,339.7 325.8,339.1 326.1,338.5 326.4,337.9 326.7,337.4 326.9,336.8 327.2,336.3 327.4,335.8 327.7,335.2" stroke="#2a2ae0" stroke-width="1.80"/><g stroke="#2a2ae0" stroke-width="0.50"><circle cx="312.2" cy="349.6" r="0.70"/><circle cx="313.7" cy="349.0" r="0.70"/><circle cx="315.2" cy="348.4" r="0.70"/><circle cx="316.7" cy="347.8" r="0.70"/><circle cx="318.2" cy="347.2" r="0.70"/><circle cx="319.7" cy="346.7" r="0.70"/><circle cx="321.2" cy="346.0" r="0.70"/><circle cx="322.4" cy="345.0" r="0.70"/><circle cx="323.4" cy="343.7" r="0.70"/><circle cx="324.2" cy="342.3" r="0.70"/><circle cx="324.9" cy="340.9" r="0.70"/><circle cx="325.6" cy="339.4" r="0.70"/><circle cx="326.4" cy="338.0" r="0.70"/><circle cx="327.1" cy="336.5" r="0.70"/></g><g stroke="#e0202a" stroke-width="0.50"><circle cx="329.0" cy="346.0" r="1.40"/><circle cx="330.0" cy="342.9" r="1.40"/><circle cx="331.0" cy="339.9" r="1.40"/><circle cx="332.4" cy="337.0" r="1.40"/></g><path d="M339.9,336.3 340.7,337.5 341.6,338.8 342.4,340.0 343.3,341.2 344.1,342.5 344.9,343.7 345.8,345.0 346.6,346.3 347.4,347.7 348.3,349.2 349.1,350.7 349.9,352.2 350.7,353.7 351.5,355.1 352.4,356.3 353.2,357.4 354.0,358.3 354.9,359.1 355.7,359.8 356.6,360.4 357.4,360.9 358.2,361.3 359.1,361.6 359.9,361.8 360.7,361.9 361.5,361.9 362.3,361.8 363.1,361.7 363.9,361.4 364.7,360.9 365.6,360.3 366.5,359.6 367.5,358.6 368.6,357.4 369.8,356.0 370.9,354.5 372.1,353.0 373.3,351.4 374.4,349.9 375.4,348.5 376.3,347.1 377.2,345.7 378.1,344.3 378.9,342.9 379.7,341.6 380.5,340.4 381.3,339.4 382.0,338.5 382.7,337.8 383.4,337.4 384.0,337.0 384.7,336.8 385.3,336.7 385.9,336.6 386.4,336.6 387.0,336.5 387.6,336.5 388.1,336.5 388.6,336.6 389.1,336.7 389.6,336.8 390.1,337.0 390.6,337.3 391.0,337.5 391.4,337.8 391.8,338.1 392.2,338.5 392.6,338.9 392.9,339.3 393.3,339.7 393.6,340.1 394.0,340.5" stroke="#e83030" stroke-width="2.60"/><g stroke="#e0202a" stroke-width="0.50"><circle cx="339.9" cy="336.3" r="1.50"/><circle cx="340.8" cy="337.6" r="1.50"/><circle cx="341.7" cy="338.9" r="1.50"/><circle cx="342.6" cy="340.3" r="1.50"/><circle cx="343.5" cy="341.6" r="1.50"/><circle cx="344.4" cy="342.9" r="1.50"/><circle cx="345.3" cy="344.3" r="1.50"/><circle cx="346.1" cy="345.6" r="1.50"/><circle cx="347.0" cy="347.0" r="1.50"/><circle cx="347.8" cy="348.3" r="1.50"/><circle cx="348.6" cy="349.7" r="1.50"/><circle cx="349.3" cy="351.1" r="1.50"/><circle cx="350.1" cy="352.6" r="1.50"/><circle cx="350.9" cy="353.9" r="1.50"/><circle cx="351.7" cy="355.3" r="1.50"/><circle cx="352.6" cy="356.6" r="1.50"/><circle cx="353.6" cy="357.9" r="1.50"/><circle cx="354.7" cy="359.0" r="1.50"/><circle cx="356.0" cy="360.0" r="1.50"/><circle cx="357.3" cy="360.9" r="1.50"/><circle cx="358.8" cy="361.5" r="1.50"/><circle cx="360.4" cy="361.9" r="1.50"/><circle cx="361.9" cy="361.9" r="1.50"/><circle cx="363.5" cy="361.5" r="1.50"/><circle cx="364.9" cy="360.8" r="1.50"/><circle cx="366.2" cy="359.8" r="1.50"/><circle cx="367.4" cy="358.8" r="1.50"/><circle cx="368.5" cy="357.6" r="1.50"/><circle cx="369.5" cy="356.4" r="1.50"/><circle cx="370.5" cy="355.1" r="1.50"/><circle cx="371.5" cy="353.8" r="1.50"/><circle cx="372.4" cy="352.6" r="1.50"/><circle cx="373.4" cy="351.3" r="1.50"/><circle cx="374.3" cy="350.0" r="1.50"/><circle cx="375.3" cy="348.7" r="1.50"/><circle cx="376.2" cy="347.4" r="1.50"/><circle cx="377.0" cy="346.0" r="1.50"/><circle cx="377.8" cy="344.6" r="1.50"/><circle cx="378.6" cy="343.2" r="1.50"/><circle cx="379.4" cy="341.8" r="1.50"/><circle cx="380.3" cy="340.5" r="1.50"/><circle cx="381.3" cy="339.2" r="1.50"/><circle cx="382.4" cy="338.2" r="1.50"/><circle cx="383.8" cy="337.3" r="1.50"/><circle cx="385.3" cy="336.7" r="1.50"/><circle cx="386.8" cy="336.3" r="1.50"/><circle cx="388.4" cy="336.1" r="1.50"/><circle cx="390.0" cy="336.3" r="1.50"/><circle cx="391.3" cy="337.2" r="1.50"/><circle cx="392.1" cy="338.6" r="1.50"/><circle cx="392.9" cy="340.0" r="1.50"/><circle cx="393.7" cy="341.3" r="1.50"/><circle cx="395.1" cy="342.0" r="1.50"/><circle cx="396.6" cy="341.4" r="1.50"/><circle cx="397.8" cy="340.4" r="1.50"/><circle cx="399.1" cy="339.4" r="1.50"/><circle cx="400.2" cy="338.3" r="1.50"/><circle cx="401.4" cy="337.2" r="1.50"/><circle cx="402.4" cy="336.0" r="1.50"/></g><path d="M352.0,354.5 353.0,355.5 354.0,356.7 355.0,357.9 356.0,359.0 357.0,360.1 358.0,361.1 359.0,361.8 359.9,362.3 360.8,362.6 361.6,362.7 362.4,362.6 363.1,362.4 363.9,362.0 364.7,361.5 365.6,360.9 366.5,360.1 367.5,359.1 368.6,357.9 369.8,356.5 370.9,355.0 372.1,353.5 373.3,351.9 374.4,350.4 375.4,349.0 376.3,347.6 377.2,346.2 378.1,344.8 378.9,343.4 379.7,342.1 380.5,340.9 381.3,339.9 382.0,339.0 382.7,338.3 383.4,337.9 384.0,337.5 384.7,337.3 385.3,337.2 385.9,337.1 386.4,337.1 387.0,337.0 387.6,337.0 388.1,337.0 388.6,337.0 389.1,337.1 389.6,337.3 390.1,337.5 390.5,337.7 391.0,338.0 391.4,338.4 391.9,339.0 392.3,339.6 392.7,340.3 393.1,341.0 393.5,341.5 393.9,342.0 394.4,342.2 394.9,342.2 395.4,342.2 396.0,342.0 396.5,341.7 397.1,341.3 397.7,340.9 398.2,340.4 398.8,340.0 399.4,339.5 399.9,339.0 400.4,338.4 401.0,337.8 401.6,337.1 402.1,336.5 402.7,335.8 403.2,335.2" stroke="#2a2ae0" stroke-width="0.90"/><path d="M394.4,346.3 394.7,348.8 394.9,351.2 395.2,353.7 395.5,356.1 395.8,358.6 396.0,361.1 396.3,363.6 396.6,366.2 396.9,368.8 397.1,371.4 397.4,374.1 397.6,376.7 397.9,379.5 398.2,382.3 398.5,385.3 398.8,388.4 399.2,391.7 399.5,395.2 400.0,398.8 400.4,402.5 400.8,406.3 401.2,410.0 401.7,413.7 402.1,417.2 402.5,420.6 402.9,424.1 403.4,427.4 403.8,430.8 404.2,434.1 404.6,437.4 405.0,440.6 405.4,443.8 405.7,447.0 406.1,450.4 406.4,453.7 406.7,457.0 407.0,460.1 407.3,463.1 407.5,465.8 407.7,468.1 407.9,470.0 408.0,471.6 408.1,472.9 408.2,474.0 408.3,474.9 408.3,475.9 408.4,476.9 408.5,478.0" stroke="#2a2ae0" stroke-width="1.00" stroke-dasharray="0.1 2.50" stroke-linecap="round"/><path d="M413.2,335.2 413.9,336.6 414.6,337.9 415.3,339.3 415.9,340.6 416.6,342.0 417.3,343.4 418.0,344.8 418.7,346.3 419.4,347.9 420.1,349.5 420.8,351.2 421.5,353.0 422.2,354.7 422.9,356.4 423.6,358.0 424.3,359.6 425.0,361.1 425.7,362.7 426.4,364.2 427.1,365.6 427.8,367.0 428.5,368.4 429.2,369.6 429.8,370.7 430.4,371.7 431.0,372.7 431.6,373.6 432.2,374.3 432.7,375.0 433.2,375.6 433.7,376.0 434.2,376.2 434.6,376.2 435.0,376.0 435.3,375.6 435.7,375.1 436.0,374.5 436.3,373.9 436.6,373.4 436.9,372.9" stroke="#2a2ae0" stroke-width="1.60"/><g stroke="#2a2ae0" stroke-width="0.50"><circle cx="413.2" cy="335.2" r="1.00"/><circle cx="414.2" cy="337.3" r="1.00"/><circle cx="415.3" cy="339.3" r="1.00"/><circle cx="416.3" cy="341.4" r="1.00"/><circle cx="417.3" cy="343.4" r="1.00"/><circle cx="418.3" cy="345.5" r="1.00"/><circle cx="419.3" cy="347.6" r="1.00"/><circle cx="420.2" cy="349.7" r="1.00"/><circle cx="421.0" cy="351.8" r="1.00"/><circle cx="421.9" cy="354.0" r="1.00"/><circle cx="422.8" cy="356.1" r="1.00"/><circle cx="423.7" cy="358.2" r="1.00"/><circle cx="424.6" cy="360.3" r="1.00"/><circle cx="425.6" cy="362.4" r="1.00"/><circle cx="426.6" cy="364.5" r="1.00"/><circle cx="427.6" cy="366.5" r="1.00"/><circle cx="428.6" cy="368.6" r="1.00"/><circle cx="429.7" cy="370.6" r="1.00"/><circle cx="430.9" cy="372.6" r="1.00"/><circle cx="432.3" cy="374.5" r="1.00"/><circle cx="433.9" cy="376.0" r="1.00"/><circle cx="435.6" cy="375.1" r="1.00"/><circle cx="436.8" cy="373.1" r="1.00"/></g><g stroke="#e0202a" stroke-width="0.50"><circle cx="427.0" cy="367.0" r="1.00"/><circle cx="428.4" cy="368.8" r="1.00"/><circle cx="429.8" cy="370.7" r="1.00"/><circle cx="431.2" cy="372.5" r="1.00"/><circle cx="432.6" cy="374.3" r="1.00"/><circle cx="434.1" cy="376.1" r="1.00"/></g><g stroke="#e0202a" stroke-width="0.50"><circle cx="429.8" cy="336.3" r="0.90"/><circle cx="430.4" cy="338.8" r="0.90"/><circle cx="431.0" cy="341.4" r="0.90"/><circle cx="431.5" cy="343.9" r="0.90"/><circle cx="432.0" cy="346.5" r="0.90"/><circle cx="432.5" cy="349.0" r="0.90"/><circle cx="432.9" cy="351.6" r="0.90"/><circle cx="433.3" cy="354.2" r="0.90"/><circle cx="433.7" cy="356.7" r="0.90"/><circle cx="434.1" cy="359.3" r="0.90"/><circle cx="434.6" cy="361.8" r="0.90"/><circle cx="435.2" cy="364.4" r="0.90"/><circle cx="435.7" cy="366.9" r="0.90"/><circle cx="436.2" cy="369.5" r="0.90"/></g><path d="M430.0,337.0 430.3,338.2 430.6,339.4 430.8,340.6 431.1,341.8 431.4,343.0 431.6,344.3 431.9,345.6 432.2,347.0 432.5,348.5 432.8,350.1 433.0,351.8 433.3,353.5 433.6,355.2 433.9,356.8 434.1,358.5 434.4,360.0 434.7,361.4 434.9,362.8 435.2,364.2 435.5,365.5 435.7,366.8 436.0,368.1 436.2,369.4 436.5,370.7" stroke="#2a2ae0" stroke-width="1.00" stroke-dasharray="0.1 2.60" stroke-linecap="round"/><path d="M436.5,380.6 435.9,381.6 435.4,382.5 434.8,383.4 434.2,384.3 433.7,385.2 433.1,386.2 432.6,387.3 432.0,388.4 431.4,389.6 430.9,390.8 430.3,392.0 429.8,393.3 429.2,394.7 428.7,396.2 428.1,397.8 427.6,399.5 427.0,401.4 426.5,403.5 425.9,405.7 425.3,407.9 424.8,410.3 424.2,412.6 423.7,414.9 423.2,417.2 422.7,419.4 422.3,421.6 421.9,423.8 421.4,426.0 421.0,428.3 420.6,430.5 420.2,432.7 419.8,434.9" stroke="#2a2ae0" stroke-width="1.20" stroke-dasharray="0.1 2.30" stroke-linecap="round"/><path d="M419.8,434.9 419.4,437.4 418.9,440.0 418.5,442.7 418.1,445.3 417.7,447.8 417.2,450.3 416.9,452.6 416.5,454.8 416.2,456.8 415.9,458.7 415.6,460.4 415.3,462.1 415.0,463.6 414.8,465.1 414.5,466.6 414.3,468.1 414.1,469.5 413.9,470.9 413.7,472.1 413.5,473.4 413.4,474.6 413.1,475.8 412.9,477.1 412.6,478.4 412.2,479.8 411.8,481.3 411.4,482.9 410.9,484.4 410.4,485.9 409.9,487.4 409.4,488.8 409.0,490.0 408.6,491.1 408.2,492.0 407.7,492.9 407.3,493.7 406.9,494.5 406.5,495.2 406.1,496.0 405.7,496.8" stroke="#e0202a" stroke-width="1.20" stroke-dasharray="0.1 2.30" stroke-linecap="round"/><g stroke="#e0202a" stroke-width="0.50"><circle cx="436.5" cy="392.8" r="2.00"/><circle cx="436.1" cy="395.4" r="2.00"/><circle cx="435.6" cy="397.9" r="2.00"/><circle cx="435.2" cy="400.5" r="2.00"/><circle cx="434.7" cy="403.1" r="2.00"/><circle cx="434.3" cy="405.6" r="2.00"/><circle cx="433.8" cy="408.2" r="2.00"/><circle cx="433.3" cy="410.7" r="2.00"/><circle cx="432.8" cy="413.3" r="2.00"/><circle cx="432.3" cy="415.8" r="2.00"/><circle cx="431.8" cy="418.4" r="2.00"/><circle cx="431.2" cy="420.9" r="2.00"/><circle cx="430.7" cy="423.4" r="2.00"/><circle cx="430.1" cy="426.0" r="2.00"/><circle cx="429.6" cy="428.5" r="2.00"/><circle cx="429.0" cy="431.1" r="2.00"/><circle cx="428.5" cy="433.6" r="2.00"/><circle cx="427.9" cy="436.2" r="2.00"/><circle cx="427.4" cy="438.7" r="2.00"/><circle cx="426.8" cy="441.2" r="2.00"/><circle cx="426.3" cy="443.8" r="2.00"/><circle cx="425.8" cy="446.3" r="2.00"/><circle cx="425.3" cy="448.9" r="2.00"/><circle cx="424.8" cy="451.4" r="2.00"/><circle cx="424.4" cy="454.0" r="2.00"/><circle cx="424.0" cy="456.6" r="2.00"/><circle cx="423.5" cy="459.1" r="2.00"/><circle cx="423.1" cy="461.7" r="2.00"/><circle cx="422.7" cy="464.3" r="2.00"/><circle cx="422.3" cy="466.8" r="2.00"/></g><path d="M398.7,521.3 399.2,519.6 399.8,518.0 400.3,516.3 400.8,514.7 401.4,513.0 401.9,511.3 402.5,509.7 403.0,508.0 403.6,506.3 404.1,504.6 404.7,502.9 405.3,501.2 405.9,499.5 406.4,497.8 407.0,496.2 407.5,494.6 408.0,493.1 408.4,491.6 408.9,490.1 409.3,488.7 409.7,487.3 410.1,485.9 410.6,484.5 411.0,483.0 411.5,481.5 412.0,479.9 412.5,478.2 413.0,476.6 413.6,475.0 414.0,473.5 414.5,472.1 414.9,470.9 415.2,469.9 415.6,469.0 415.8,468.2 416.1,467.6 416.3,466.9 416.5,466.3 416.7,465.7 417.0,465.0" stroke="#e0202a" stroke-width="1.20" stroke-dasharray="0.1 2.30" stroke-linecap="round"/><path d="M367.7,598.4 369.2,594.7 370.6,591.0 372.1,587.3 373.6,583.5 375.1,579.8 376.6,576.1 378.0,572.4 379.5,568.7 381.0,564.9 382.6,561.0 384.1,557.1 385.7,553.2 387.2,549.3 388.7,545.7 390.0,542.2 391.3,539.1 392.4,536.3 393.5,533.8 394.4,531.6 395.3,529.5 396.1,527.5 397.0,525.5 397.8,523.4 398.7,521.3" stroke="#2a2ae0" stroke-width="1.10" stroke-dasharray="0.1 2.30" stroke-linecap="round"/><path d="M387.4,600.2 388.6,597.0 389.7,593.8 390.9,590.7 392.1,587.5 393.2,584.3 394.4,581.1 395.5,578.0 396.6,575.0 397.7,572.0 398.7,569.1 399.7,566.2 400.7,563.4 401.7,560.5 402.6,557.7 403.6,554.9 404.6,552.0" stroke="#2a2ae0" stroke-width="0.90"/><path d="M404.6,552.0 405.3,550.9 406.1,549.6 406.8,548.3 407.5,546.9 408.2,545.8 409.0,544.8 409.6,544.1 410.3,543.9 410.9,544.1 411.5,544.8 412.1,545.8 412.7,546.9 413.2,548.3 413.8,549.6 414.3,550.9 414.9,552.0" stroke="#e0202a" stroke-width="1.60"/><path d="M414.9,552.0 415.5,553.9 416.0,555.6 416.6,557.3 417.1,559.0 417.7,560.8 418.3,562.9 418.9,565.2 419.5,568.0 420.2,571.2 420.9,574.9 421.6,578.9 422.3,583.1 423.1,587.4 423.8,591.8 424.6,596.1 425.3,600.2" stroke="#e0202a" stroke-width="1.30" stroke-dasharray="0.1 2.30" stroke-linecap="round"/><path d="M405.7,600.2 406.6,597.6 407.4,594.9 408.2,592.2 409.1,589.5 409.9,586.8 410.8,584.3 411.7,581.8 412.6,579.5 413.6,577.2 414.5,574.9 415.6,572.6 416.6,570.4 417.6,568.4 418.7,566.7 419.7,565.4 420.7,564.6 421.7,564.3 422.7,564.4 423.7,565.0 424.6,565.8 425.6,566.8 426.6,568.0 427.6,569.2 428.7,570.3 429.8,571.5 430.9,572.8 432.1,574.2 433.2,575.7 434.4,577.2 435.6,578.8 436.7,580.3 437.9,581.8" stroke="#8a3a8a" stroke-width="0.80"/><path d="M406.9,460.0 407.0,461.7 407.1,463.3 407.2,464.9 407.2,466.5 407.3,468.2 407.5,469.9 407.7,471.8 408.0,473.8 408.4,476.2 408.9,479.0 409.5,482.0 410.1,485.1 410.7,487.9 411.4,490.4 412.0,492.2 412.6,493.3 413.2,493.5 413.8,493.0 414.3,491.9 414.9,490.4 415.5,488.6 416.1,486.7 416.6,484.8 417.2,483.0 417.8,481.2 418.4,479.2 419.0,477.0 419.6,474.7 420.2,472.5 420.8,470.4 421.3,468.5 421.8,466.9 422.2,465.6 422.5,464.7 422.8,464.0 423.0,463.3 423.2,462.7 423.5,462.0 423.8,461.1 424.1,460.0 424.5,458.6 425.0,457.0 425.4,455.3 426.0,453.4 426.5,451.6 427.0,449.7 427.5,447.8 428.0,446.0" stroke="#2a2ae0" stroke-width="0.90"/><path d="M240.0,336.3 240.6,337.5 241.1,338.7 241.7,339.9 242.2,341.1 242.8,342.3 243.3,343.6 243.8,344.9 244.4,346.3 245.0,347.8 245.5,349.4 246.1,351.1 246.7,352.9 247.2,354.6 247.8,356.4 248.3,358.0 248.8,359.6 249.3,361.1 249.7,362.7 250.2,364.2 250.6,365.7 251.0,367.1 251.4,368.4 251.8,369.6 252.2,370.7 252.6,371.6 253.0,372.3 253.4,372.9 253.8,373.4 254.3,373.8 254.7,374.2 255.1,374.6 255.5,375.1 255.9,375.6 256.4,376.0 256.8,376.4 257.2,376.9 257.7,377.3 258.1,377.7 258.6,378.1 259.0,378.5" stroke="#2a2ae0" stroke-width="3.20"/><g stroke="#e04040" stroke-width="0.60"><circle cx="41.3" cy="434.5" r="2.40"/></g></g><g class="sf" font-size="19"><text x="62" y="424" class="sf">22</text><text x="83" y="437" class="sf">23</text><text x="99" y="450.3" class="sf">24</text></g><line x1="62.3" y1="423.5" x2="49.6" y2="437.6" stroke="#111" stroke-width="1.4"/><path d="M45.9,441.7 L48.4,434.5 L49.2,438.1 L52.8,438.5 Z" fill="#111"/><line x1="79.9" y1="433.2" x2="67.1" y2="447.9" stroke="#111" stroke-width="1.4"/><path d="M63.5,452.0 L65.8,444.8 L66.7,448.3 L70.4,448.7 Z" fill="#111"/><line x1="95.6" y1="444.8" x2="83.4" y2="459.9" stroke="#111" stroke-width="1.4"/><path d="M79.9,464.2 L82.0,456.9 L83.0,460.4 L86.6,460.6 Z" fill="#111"/><g font-size="15"><text x="342" y="356.3" class="sf">Eu:</text><text x="370.5" y="356.3" class="sf" font-style="italic">e<tspan font-size="11" dy="2.5">g</tspan></text><text x="342" y="373" class="sf">Eu:</text><text x="370.5" y="373" class="sf" font-style="italic">t<tspan font-size="11" dy="2.5">2g</tspan></text></g><circle cx="406.6" cy="350.7" r="2.3" fill="none" stroke="#e02020" stroke-width="0.6"/><circle cx="406.6" cy="367.8" r="2.3" fill="none" stroke="#2020e0" stroke-width="0.6"/><defs>
<linearGradient id="hgTop" x1="0" y1="0" x2="1" y2="0">
 <stop offset="0" stop-color="#d8d800"/><stop offset="0.25" stop-color="#a08000"/><stop offset="0.45" stop-color="#a00000"/><stop offset="0.6" stop-color="#b01000"/><stop offset="0.8" stop-color="#c0a000"/><stop offset="1" stop-color="#e0e020"/></linearGradient>
<linearGradient id="hgBot" x1="0" y1="0" x2="1" y2="0">
 <stop offset="0" stop-color="#e8e800"/><stop offset="0.2" stop-color="#d8c000"/><stop offset="0.4" stop-color="#f02000"/><stop offset="0.55" stop-color="#ff0000"/><stop offset="0.75" stop-color="#e0b000"/><stop offset="1" stop-color="#e8e800"/></linearGradient>
<linearGradient id="hgNeck" x1="0" y1="0" x2="1" y2="0">
 <stop offset="0" stop-color="#90c000"/><stop offset="0.3" stop-color="#10d000"/><stop offset="0.5" stop-color="#00e000"/><stop offset="0.7" stop-color="#60d000"/><stop offset="1" stop-color="#d0d000"/></linearGradient>
<radialGradient id="cresc" cx="0.5" cy="0.5" r="0.6">
 <stop offset="0" stop-color="#ff2000"/><stop offset="0.5" stop-color="#e8a000"/><stop offset="0.8" stop-color="#40d000"/><stop offset="1" stop-color="#20c020"/></radialGradient>
<linearGradient id="cyl" x1="0" y1="0" x2="0" y2="1">
 <stop offset="0" stop-color="#ff6000"/><stop offset="0.35" stop-color="#f04000"/><stop offset="0.7" stop-color="#c02000"/><stop offset="1" stop-color="#902000"/></linearGradient>
<linearGradient id="g23" x1="0" y1="0" x2="0" y2="1">
 <stop offset="0" stop-color="#30d030"/><stop offset="0.5" stop-color="#50d020"/><stop offset="1" stop-color="#30c030"/></linearGradient>
<radialGradient id="og" cx="0.5" cy="0.5" r="0.5">
 <stop offset="0" stop-color="#f07000"/><stop offset="0.6" stop-color="#f0b000" stop-opacity="0.9"/><stop offset="1" stop-color="#c0e000" stop-opacity="0"/></radialGradient>
<radialGradient id="rg" cx="0.5" cy="0.5" r="0.5">
 <stop offset="0" stop-color="#c03000"/><stop offset="0.6" stop-color="#d08000" stop-opacity="0.9"/><stop offset="1" stop-color="#a0d000" stop-opacity="0"/></radialGradient>
<radialGradient id="yg" cx="0.5" cy="0.5" r="0.5">
 <stop offset="0" stop-color="#f0e000"/><stop offset="0.6" stop-color="#d0e000" stop-opacity="0.8"/><stop offset="1" stop-color="#80e000" stop-opacity="0"/></radialGradient>
<linearGradient id="barrel" x1="0" y1="0" x2="0" y2="1">
 <stop offset="0" stop-color="#40d040"/><stop offset="0.5" stop-color="#20c820"/><stop offset="1" stop-color="#30b030"/></linearGradient>
<radialGradient id="cen" cx="0.45" cy="0.6" r="0.6">
 <stop offset="0" stop-color="#80f040"/><stop offset="0.6" stop-color="#30d030"/><stop offset="1" stop-color="#109030"/></radialGradient>
</defs><path d="M547.4,337.2 C552,343 557.5,351 559,361 L574.2,361 C575.7,351 581.2,343 585.8,337.2 Z" fill="url(#hgTop)"/><path d="M559.5,381.5 C558,390 553,396 547.6,399.8 C556,403.5 577,403.5 585.8,399.8 C580.2,396 575.2,390 573.7,381.5 Z" fill="url(#hgBot)"/><line x1="555" y1="347.5" x2="578.5" y2="347.5" stroke="#333" stroke-width="0.7"/><ellipse cx="566.6" cy="337.2" rx="19.3" ry="2.4" fill="#e0d000" stroke="#70d000" stroke-width="0.8"/><ellipse cx="566.6" cy="337.6" rx="15" ry="1.4" fill="#e07000"/><path d="M558.8,360.3 C562,362.5 571,362.5 574.4,360.3 L574.2,382.2 C571,380.5 562,380.5 558.8,382.2 Z" fill="url(#hgNeck)" stroke="#30b000" stroke-width="0.5"/><linearGradient id="crL" x1="0" y1="0" x2="1" y2="0"><stop offset="0" stop-color="#607000"/><stop offset="0.5" stop-color="#b04000"/><stop offset="0.8" stop-color="#e02000"/><stop offset="1" stop-color="#c0c000"/></linearGradient><linearGradient id="crR" x1="1" y1="0" x2="0" y2="0"><stop offset="0" stop-color="#607000"/><stop offset="0.5" stop-color="#b04000"/><stop offset="0.8" stop-color="#e02000"/><stop offset="1" stop-color="#c0c000"/></linearGradient><path d="M544.5,357 C550,355.5 556,361 556.6,368.3 C556.2,375.5 550,381 544.5,379.5 C546,375 546.6,372 546.6,368.3 C546.6,364.5 546,361 544.5,357 Z" fill="url(#crL)" stroke="#10c010" stroke-width="1.3"/><path d="M588.7,357 C583.2,355.5 577.2,361 576.6,368.3 C577,375.5 583.2,381 588.7,379.5 C587.2,375 586.6,372 586.6,368.3 C586.6,364.5 587.2,361 588.7,357 Z" fill="url(#crR)" stroke="#10c010" stroke-width="1.3"/><path d="M546,357.5 C549,356.5 552,358 553.5,360" stroke="#f0e000" stroke-width="1.5" fill="none"/><path d="M587.2,357.5 C584.2,356.5 581.2,358 579.7,360" stroke="#f0e000" stroke-width="1.5" fill="none"/><rect x="556.6" y="363.5" width="2.6" height="5.5" fill="#1040ff"/><rect x="574" y="363.5" width="2.6" height="5.5" fill="#1040ff"/><path d="M513,441.8 L545,437.5 L588,437.5 L617.5,441.8 L588,446 L545,446 Z" fill="#30d030"/><path d="M513,493.3 L545,488.5 L588,488.5 L617.5,493.3 L588,497 L545,497 Z" fill="#30d030"/><path d="M541,442 C541,436 592,436 592,442 L594,458 L594,490 C594,500 580,505.5 566,505.5 C552,505.5 539,500 539,490 L539,458 Z" fill="url(#g23)"/><ellipse cx="566" cy="438.6" rx="22" ry="4.2" fill="#40d040" stroke="#20a020" stroke-width="0.5"/><ellipse cx="566" cy="438.2" rx="14" ry="2" fill="#20a020"/><linearGradient id="bk23" x1="0" y1="0" x2="1" y2="0"><stop offset="0" stop-color="#60c020"/><stop offset="0.2" stop-color="#e07000"/><stop offset="0.35" stop-color="#c0a000"/><stop offset="0.5" stop-color="#f0c000"/><stop offset="0.65" stop-color="#c0a000"/><stop offset="0.8" stop-color="#e07000"/><stop offset="1" stop-color="#60c020"/></linearGradient><path d="M545,446 C552,455 580,455 588,446 L590,460 L542,460 Z" fill="url(#bk23)"/><path d="M552,447 L556,460 L560,460 L557,449 Z M576,449 L573,460 L577,460 L580,447 Z" fill="#40c020" opacity="0.8"/><linearGradient id="bt23" x1="0" y1="0" x2="1" y2="0"><stop offset="0" stop-color="#f0a000"/><stop offset="0.15" stop-color="#e05000"/><stop offset="0.3" stop-color="#f0d000"/><stop offset="0.42" stop-color="#50d020"/><stop offset="0.58" stop-color="#e8e000"/><stop offset="0.7" stop-color="#50d020"/><stop offset="0.85" stop-color="#f0b000"/><stop offset="1" stop-color="#e06000"/></linearGradient><path d="M543,483 L590,483 C588,496 578,501 566,501 C554,501 545,496 543,483 Z" fill="url(#bt23)"/><path d="M533,448.5 C527,450 524.5,458 528.5,466 C531,471 531,474 528.5,479 C524.5,487 527,496 533,497 C539,496 541.5,487 537.5,479 C535,474 535,471 537.5,466 C541.5,458 539,450 533,448.5 Z" fill="#40d040" stroke="#20b0e0" stroke-width="0.8"/><path d="M597.5,448.5 C591.5,450 589,458 593,466 C595.5,471 595.5,474 593,479 C589,487 591.5,496 597.5,497 C603.5,496 606,487 602,479 C599.5,474 599.5,471 602,466 C606,458 603.5,450 597.5,448.5 Z" fill="#40d040" stroke="#20b0e0" stroke-width="0.8"/><rect x="539.5" y="457.5" width="53" height="25.3" rx="7" ry="7" fill="url(#cyl)"/><ellipse cx="566" cy="463" rx="22" ry="3.5" fill="#ff7010" opacity="0.7"/><line x1="544" y1="472" x2="587" y2="472" stroke="#111" stroke-width="1.2"/><path d="M539.8,472 L547.5,467.8 L545.5,472 L547.5,476.2 Z" fill="#111"/><path d="M591.2,472 L583.5,467.8 L585.5,472 L583.5,476.2 Z" fill="#111"/><path d="M491.8,543.1 C500,539 505,537 512.1,536.3 C520,535 525,534 530.2,534 C540,534 544,534.5 548.3,535.2 C553,536 556,537.5 559.7,538.6 C563,537 566,535.8 571,535.2 C578,534.5 585,534 591.3,534 C600,534.5 606,535.5 611.7,537.4 C620,539 626,541 632.1,543.1 C635,546 635.8,549 635.8,552.1 L635.8,588.3 C635,592 633,595 629.8,597.4 C622,600 618,601 611.7,601.9 C604,603 598,603.5 591.3,604.2 C585,605 580,607 575.5,608.7 C570,610 566,611 561.9,611 C556,611 551,610 546.1,608.7 C540,607 535,605.5 530.2,604.2 C523,602 516,601 509.9,599.7 C503,598 497,596 491.8,592.9 C489.8,585 489.3,578 489.3,570.2 C489.3,560 489.8,550 491.8,543.1 Z" fill="url(#barrel)" stroke="#20b0c0" stroke-width="0.8"/><radialGradient id="br" cx="0.5" cy="0.5" r="0.5"><stop offset="0" stop-color="#a03010"/><stop offset="0.55" stop-color="#b04010" stop-opacity="0.95"/><stop offset="0.85" stop-color="#c09000" stop-opacity="0.6"/><stop offset="1" stop-color="#80c000" stop-opacity="0"/></radialGradient><radialGradient id="or" cx="0.5" cy="0.5" r="0.5"><stop offset="0" stop-color="#f07800"/><stop offset="0.55" stop-color="#f09000" stop-opacity="0.95"/><stop offset="0.85" stop-color="#e0d000" stop-opacity="0.6"/><stop offset="1" stop-color="#a0e000" stop-opacity="0"/></radialGradient><ellipse cx="501" cy="559" rx="9" ry="11" fill="url(#or)"/><ellipse cx="501" cy="582" rx="9" ry="11" fill="url(#or)"/><ellipse cx="497" cy="570.5" rx="4" ry="6" fill="#30c830"/><ellipse cx="626" cy="559" rx="9" ry="11" fill="url(#or)"/><ellipse cx="626" cy="582" rx="9" ry="11" fill="url(#or)"/><ellipse cx="630" cy="570.5" rx="4" ry="6" fill="#30c830"/><path d="M527,543 C533,552 535,560 535,570 C535,580 533,590 527,602 L538,602 C540,590 541,580 541,570 C541,560 540,552 538,543 Z" fill="url(#br)"/><ellipse cx="534.5" cy="572" rx="10" ry="31" fill="url(#br)"/><ellipse cx="590.5" cy="572" rx="10" ry="31" fill="url(#or)"/><ellipse cx="523" cy="540.5" rx="13" ry="5" fill="url(#yg)"/><ellipse cx="600" cy="540" rx="15" ry="5" fill="url(#yg)"/><ellipse cx="530" cy="603" rx="12" ry="4.5" fill="url(#og)"/><ellipse cx="596" cy="603" rx="12" ry="4.5" fill="url(#og)"/><ellipse cx="616" cy="545" rx="7" ry="4" fill="url(#yg)"/><ellipse cx="523.5" cy="568.0" rx="6.8" ry="13.5" fill="#fff" stroke="#2090e0" stroke-width="1.2" stroke-dasharray="1 0.8"/><ellipse cx="542.3" cy="568.0" rx="3.6" ry="8.5" fill="#fff" stroke="#2090e0" stroke-width="1.2" stroke-dasharray="1 0.8"/><ellipse cx="582.2" cy="568.0" rx="3.2" ry="8.0" fill="#fff" stroke="#2090e0" stroke-width="1.2" stroke-dasharray="1 0.8"/><ellipse cx="601.5" cy="568.0" rx="6.8" ry="13.5" fill="#fff" stroke="#2090e0" stroke-width="1.2" stroke-dasharray="1 0.8"/><path d="M543,538 C551,546 556,552 560,560 L564,560 C568,552 573,546 581,538 C572,542 567,546 562,548 C557,546 552,542 543,538 Z" fill="#30e0e8"/><ellipse cx="530" cy="541" rx="16" ry="5" fill="#d0d000" opacity="0.55"/><ellipse cx="596" cy="541" rx="16" ry="5" fill="#d0d000" opacity="0.55"/><path d="M540,545 L550,556 L548,559 Z M584,545 L574,556 L576,559 Z" fill="#30d8e0"/><ellipse cx="562" cy="580" rx="11.5" ry="26" fill="url(#cen)" stroke="#20a0b0" stroke-width="0.8"/><ellipse cx="562" cy="540" rx="12" ry="4.5" fill="#40c040" stroke="#20b0b0" stroke-width="0.5"/>
</svg></body></html>
